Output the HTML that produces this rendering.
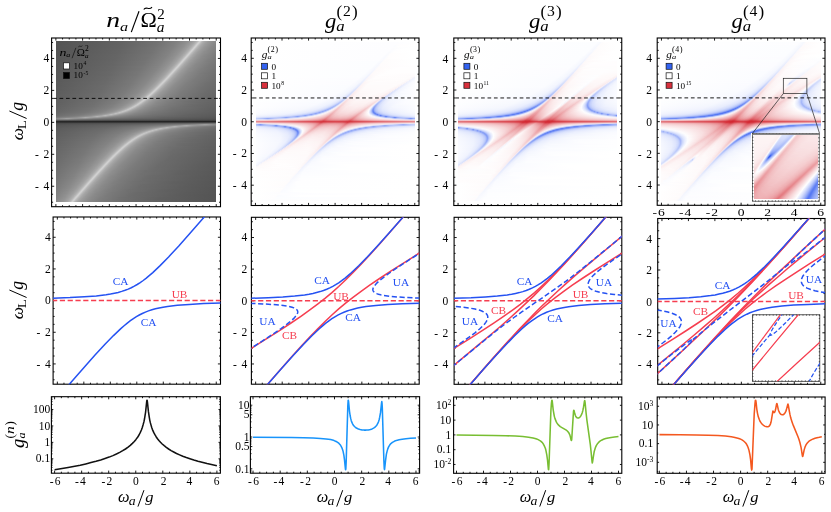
<!DOCTYPE html><html><head><meta charset="utf-8"><style>
html,body{margin:0;padding:0;background:#fff}body{width:831px;height:512px;position:relative;overflow:hidden;font-family:"Liberation Serif", serif}
.h{position:absolute}.h i{display:block;height:1px}
svg{position:absolute;left:0;top:0;will-change:transform}text{font-family:"Liberation Serif", serif}
</style></head><body>
<div class="h" style="left:56px;top:41px;width:160px;height:161px"><i style="background:linear-gradient(90deg,#535353 0.3125%,#626262 41.56%,#717171 63.44%,#808080 75.31%,#8e8e8e 81.56%,#9d9d9d 85.31%,#aaa 87.19%,#b9b9b9 88.44%,#d1d1d1 89.69%,#ccc 90.31%,#bfbfbf 90.94%,#b4b4b4 91.56%,#a7a7a7 92.81%,#989898 95.31%,#8a8a8a 99.69%)"></i><i style="background:linear-gradient(90deg,#535353 0.3125%,#636363 41.56%,#727272 63.44%,#818181 75.31%,#909090 81.56%,#9c9c9c 84.69%,#a9a9a9 86.56%,#b8b8b8 87.81%,#d0d0d0 89.06%,#cecece 89.69%,#b5b5b5 90.94%,#a8a8a8 92.19%,#989898 94.69%,#8a8a8a 99.06%,#888 99.69%)"></i><i style="background:linear-gradient(90deg,#545454 0.3125%,#636363 40.94%,#727272 62.81%,#818181 74.69%,#8f8f8f 80.94%,#9c9c9c 84.06%,#a8a8a8 85.94%,#b7b7b7 87.19%,#cfcfcf 88.44%,#cfcfcf 89.06%,#b7b7b7 90.31%,#a8a8a8 91.56%,#9c9c9c 93.44%,#8d8d8d 97.19%,#878787 99.69%)"></i><i style="background:linear-gradient(90deg,#545454 0.3125%,#636363 40.94%,#727272 62.81%,#818181 74.06%,#8f8f8f 80.31%,#9b9b9b 83.44%,#a8a8a8 85.31%,#b5b5b5 86.56%,#cecece 87.81%,#d0d0d0 88.44%,#b8b8b8 89.69%,#a9a9a9 90.94%,#9c9c9c 92.81%,#8e8e8e 96.56%,#868686 99.69%)"></i><i style="background:linear-gradient(90deg,#545454 0.3125%,#636363 40.94%,#727272 62.19%,#808080 73.44%,#8f8f8f 79.69%,#9b9b9b 82.81%,#a7a7a7 84.69%,#b4b4b4 85.94%,#bfbfbf 86.56%,#ccc 87.19%,#d1d1d1 87.81%,#b9b9b9 89.06%,#aaa 90.31%,#9d9d9d 92.19%,#8e8e8e 95.94%,#858585 99.69%)"></i><i style="background:linear-gradient(90deg,#545454 0.3125%,#636363 40.31%,#727272 61.56%,#818181 73.44%,#909090 79.69%,#9e9e9e 82.81%,#acacac 84.69%,#b3b3b3 85.31%,#bdbdbd 85.94%,#cacaca 86.56%,#d1d1d1 87.19%,#c8c8c8 87.81%,#bbb 88.44%,#b1b1b1 89.06%,#a5a5a5 90.31%,#979797 92.81%,#898989 97.19%,#848484 99.69%)"></i><i style="background:linear-gradient(90deg,#545454 0.3125%,#636363 40.31%,#737373 61.56%,#818181 72.81%,#909090 79.06%,#9d9d9d 82.19%,#ababab 84.06%,#b2b2b2 84.69%,#bbb 85.31%,#c8c8c8 85.94%,#d2d2d2 86.56%,#cacaca 87.19%,#bcbcbc 87.81%,#b3b3b3 88.44%,#a6a6a6 89.69%,#979797 92.19%,#898989 96.56%,#838383 99.69%)"></i><i style="background:linear-gradient(90deg,#545454 0.3125%,#636363 39.69%,#737373 60.94%,#818181 72.19%,#909090 78.44%,#9d9d9d 81.56%,#aaa 83.44%,#bababa 84.69%,#d1d1d1 85.94%,#cbcbcb 86.56%,#bebebe 87.19%,#b4b4b4 87.81%,#a7a7a7 89.06%,#989898 91.56%,#898989 95.94%,#828282 99.69%)"></i><i style="background:linear-gradient(90deg,#545454 0.3125%,#646464 39.69%,#737373 60.94%,#828282 72.19%,#909090 77.81%,#9c9c9c 80.94%,#a9a9a9 82.81%,#b9b9b9 84.06%,#d1d1d1 85.31%,#cdcdcd 85.94%,#c0c0c0 86.56%,#b5b5b5 87.19%,#a7a7a7 88.44%,#989898 90.94%,#8a8a8a 95.31%,#818181 99.69%)"></i><i style="background:linear-gradient(90deg,#555 0.3125%,#646464 39.69%,#737373 60.31%,#828282 71.56%,#919191 77.81%,#a0a0a0 80.94%,#afafaf 82.81%,#b7b7b7 83.44%,#d0d0d0 84.69%,#cecece 85.31%,#b6b6b6 86.56%,#a8a8a8 87.81%,#999 90.31%,#8a8a8a 94.69%,#808080 99.69%)"></i><i style="background:linear-gradient(90deg,#555 0.3125%,#646464 39.06%,#737373 59.69%,#828282 70.94%,#919191 77.19%,#9f9f9f 80.31%,#aeaeae 82.19%,#b6b6b6 82.81%,#cecece 84.06%,#d0d0d0 84.69%,#b7b7b7 85.94%,#a9a9a9 87.19%,#9c9c9c 89.06%,#8d8d8d 92.81%,#7f7f7f 99.69%)"></i><i style="background:linear-gradient(90deg,#555 0.3125%,#646464 39.06%,#737373 59.69%,#838383 70.94%,#919191 76.56%,#9f9f9f 79.69%,#adadad 81.56%,#b5b5b5 82.19%,#c0c0c0 82.81%,#cdcdcd 83.44%,#d0d0d0 84.06%,#b8b8b8 85.31%,#a9a9a9 86.56%,#9c9c9c 88.44%,#8e8e8e 92.19%,#7f7f7f 99.06%,#7e7e7e 99.69%)"></i><i style="background:linear-gradient(90deg,#555 0.3125%,#646464 38.44%,#737373 59.06%,#838383 70.31%,#919191 75.94%,#9e9e9e 79.06%,#acacac 80.94%,#b4b4b4 81.56%,#bebebe 82.19%,#cbcbcb 82.81%,#d1d1d1 83.44%,#bababa 84.69%,#aaa 85.94%,#9d9d9d 87.81%,#8e8e8e 91.56%,#7f7f7f 98.44%,#7d7d7d 99.69%)"></i><i style="background:linear-gradient(90deg,#555 0.3125%,#656565 38.44%,#747474 59.06%,#838383 69.69%,#909090 75.31%,#9e9e9e 78.44%,#acacac 80.31%,#b3b3b3 80.94%,#bdbdbd 81.56%,#cacaca 82.19%,#d1d1d1 82.81%,#c8c8c8 83.44%,#bbb 84.06%,#b2b2b2 84.69%,#a5a5a5 85.94%,#979797 88.44%,#898989 92.81%,#7c7c7c 99.69%)"></i><i style="background:linear-gradient(90deg,#555 0.3125%,#656565 38.44%,#747474 58.44%,#828282 69.06%,#909090 74.69%,#9d9d9d 77.81%,#ababab 79.69%,#b2b2b2 80.31%,#bbb 80.94%,#c8c8c8 81.56%,#d1d1d1 82.19%,#cacaca 82.81%,#bdbdbd 83.44%,#b3b3b3 84.06%,#a6a6a6 85.31%,#979797 87.81%,#898989 92.19%,#7b7b7b 99.69%)"></i><i style="background:linear-gradient(90deg,#565656 0.3125%,#656565 37.81%,#747474 57.81%,#828282 68.44%,#909090 74.06%,#9d9d9d 77.19%,#aaa 79.06%,#bababa 80.31%,#d1d1d1 81.56%,#ccc 82.19%,#bebebe 82.81%,#b4b4b4 83.44%,#a7a7a7 84.69%,#989898 87.19%,#898989 91.56%,#7b7b7b 99.69%)"></i><i style="background:linear-gradient(90deg,#565656 0.3125%,#656565 37.81%,#747474 57.81%,#838383 68.44%,#929292 74.06%,#a0a0a0 77.19%,#b0b0b0 79.06%,#b9b9b9 79.69%,#d1d1d1 80.94%,#cdcdcd 81.56%,#c0c0c0 82.19%,#b5b5b5 82.81%,#a7a7a7 84.06%,#989898 86.56%,#8a8a8a 90.94%,#7b7b7b 99.06%,#7a7a7a 99.69%)"></i><i style="background:linear-gradient(90deg,#565656 0.3125%,#656565 37.19%,#747474 57.19%,#838383 67.81%,#919191 73.44%,#a0a0a0 76.56%,#afafaf 78.44%,#b7b7b7 79.06%,#d0d0d0 80.31%,#cecece 80.94%,#b6b6b6 82.19%,#a8a8a8 83.44%,#999 85.94%,#8a8a8a 90.31%,#7b7b7b 98.44%,#797979 99.69%)"></i><i style="background:linear-gradient(90deg,#565656 0.3125%,#656565 37.19%,#747474 56.56%,#838383 67.19%,#919191 72.81%,#9f9f9f 75.94%,#aeaeae 77.81%,#b6b6b6 78.44%,#cfcfcf 79.69%,#cfcfcf 80.31%,#b7b7b7 81.56%,#a9a9a9 82.81%,#9c9c9c 84.69%,#8d8d8d 88.44%,#7f7f7f 95.31%,#797979 99.69%)"></i><i style="background:linear-gradient(90deg,#565656 0.3125%,#656565 36.56%,#747474 55.94%,#838383 66.56%,#919191 72.19%,#9f9f9f 75.31%,#adadad 77.19%,#b5b5b5 77.81%,#cdcdcd 79.06%,#d0d0d0 79.69%,#b8b8b8 80.94%,#a9a9a9 82.19%,#9c9c9c 84.06%,#8e8e8e 87.81%,#7f7f7f 94.69%,#787878 99.69%)"></i><i style="background:linear-gradient(90deg,#565656 0.3125%,#666 36.56%,#757575 55.94%,#848484 66.56%,#939393 72.19%,#a2a2a2 75.31%,#adadad 76.56%,#b4b4b4 77.19%,#bfbfbf 77.81%,#ccc 78.44%,#d1d1d1 79.06%,#b9b9b9 80.31%,#aaa 81.56%,#9d9d9d 83.44%,#8e8e8e 87.19%,#7f7f7f 94.06%,#777 99.69%)"></i><i style="background:linear-gradient(90deg,#575757 0.3125%,#666 36.56%,#757575 55.94%,#848484 65.94%,#939393 71.56%,#a2a2a2 74.69%,#acacac 75.94%,#b3b3b3 76.56%,#bdbdbd 77.19%,#cacaca 77.81%,#d1d1d1 78.44%,#c8c8c8 79.06%,#bbb 79.69%,#b1b1b1 80.31%,#a5a5a5 81.56%,#979797 84.06%,#888 89.06%,#797979 97.81%,#777 99.69%)"></i><i style="background:linear-gradient(90deg,#575757 0.3125%,#666 35.94%,#757575 55.31%,#848484 65.31%,#929292 70.94%,#a1a1a1 74.06%,#ababab 75.31%,#b2b2b2 75.94%,#bcbcbc 76.56%,#c9c9c9 77.19%,#d1d1d1 77.81%,#c9c9c9 78.44%,#bcbcbc 79.06%,#b2b2b2 79.69%,#a6a6a6 80.94%,#979797 83.44%,#898989 87.81%,#7b7b7b 95.94%,#767676 99.69%)"></i><i style="background:linear-gradient(90deg,#575757 0.3125%,#666 35.94%,#757575 54.69%,#848484 64.69%,#929292 70.31%,#a1a1a1 73.44%,#ababab 74.69%,#b1b1b1 75.31%,#bbb 75.94%,#c8c8c8 76.56%,#d1d1d1 77.19%,#cacaca 77.81%,#bdbdbd 78.44%,#b3b3b3 79.06%,#a6a6a6 80.31%,#989898 82.81%,#898989 87.19%,#7b7b7b 95.31%,#757575 99.69%)"></i><i style="background:linear-gradient(90deg,#575757 0.3125%,#666 35.31%,#757575 54.06%,#838383 64.06%,#929292 69.69%,#a0a0a0 72.81%,#aaa 74.06%,#bababa 75.31%,#d1d1d1 76.56%,#ccc 77.19%,#bebebe 77.81%,#b4b4b4 78.44%,#a7a7a7 79.69%,#989898 82.19%,#898989 86.56%,#7b7b7b 94.69%,#757575 99.69%)"></i><i style="background:linear-gradient(90deg,#575757 0.3125%,#676767 35.31%,#767676 54.06%,#858585 64.06%,#929292 69.06%,#a0a0a0 72.19%,#b0b0b0 74.06%,#b9b9b9 74.69%,#d0d0d0 75.94%,#cdcdcd 76.56%,#c0c0c0 77.19%,#b5b5b5 77.81%,#a7a7a7 79.06%,#989898 81.56%,#8a8a8a 85.94%,#7b7b7b 94.06%,#747474 99.69%)"></i><i style="background:linear-gradient(90deg,#585858 0.3125%,#676767 35.31%,#767676 53.44%,#848484 63.44%,#949494 69.06%,#a0a0a0 71.56%,#afafaf 73.44%,#b8b8b8 74.06%,#d0d0d0 75.31%,#cecece 75.94%,#b6b6b6 77.19%,#a8a8a8 78.44%,#989898 80.94%,#8a8a8a 85.31%,#7b7b7b 93.44%,#747474 99.69%)"></i><i style="background:linear-gradient(90deg,#585858 0.3125%,#676767 34.69%,#767676 53.44%,#868686 63.44%,#949494 68.44%,#9f9f9f 70.94%,#aeaeae 72.81%,#b7b7b7 73.44%,#cfcfcf 74.69%,#cfcfcf 75.31%,#b7b7b7 76.56%,#a8a8a8 77.81%,#9c9c9c 79.69%,#8d8d8d 83.44%,#7f7f7f 90.31%,#737373 99.69%)"></i><i style="background:linear-gradient(90deg,#585858 0.3125%,#676767 34.69%,#767676 52.81%,#858585 62.81%,#939393 67.81%,#9f9f9f 70.31%,#aeaeae 72.19%,#b6b6b6 72.81%,#cecece 74.06%,#d0d0d0 74.69%,#b8b8b8 75.94%,#a9a9a9 77.19%,#9c9c9c 79.06%,#8e8e8e 82.81%,#7f7f7f 89.69%,#727272 99.69%)"></i><i style="background:linear-gradient(90deg,#585858 0.3125%,#676767 34.06%,#767676 52.19%,#858585 62.19%,#939393 67.19%,#9f9f9f 69.69%,#adadad 71.56%,#b5b5b5 72.19%,#cdcdcd 73.44%,#d0d0d0 74.06%,#b9b9b9 75.31%,#a9a9a9 76.56%,#9c9c9c 78.44%,#8e8e8e 82.19%,#7f7f7f 89.06%,#727272 99.69%)"></i><i style="background:linear-gradient(90deg,#585858 0.3125%,#686868 34.06%,#777 52.19%,#858585 61.56%,#939393 66.56%,#a2a2a2 69.69%,#adadad 70.94%,#b4b4b4 71.56%,#bfbfbf 72.19%,#ccc 72.81%,#d1d1d1 73.44%,#b9b9b9 74.69%,#aaa 75.94%,#9d9d9d 77.81%,#8e8e8e 81.56%,#7f7f7f 88.44%,#717171 99.69%)"></i><i style="background:linear-gradient(90deg,#585858 0.3125%,#686868 33.44%,#777 51.56%,#858585 60.94%,#939393 65.94%,#a2a2a2 69.06%,#acacac 70.31%,#b3b3b3 70.94%,#bebebe 71.56%,#cbcbcb 72.19%,#d1d1d1 72.81%,#c7c7c7 73.44%,#bababa 74.06%,#b1b1b1 74.69%,#a5a5a5 75.94%,#979797 78.44%,#878787 83.44%,#797979 92.19%,#717171 99.69%)"></i><i style="background:linear-gradient(90deg,#595959 0.3125%,#686868 33.44%,#777 50.94%,#858585 60.31%,#939393 65.31%,#a2a2a2 68.44%,#acacac 69.69%,#b3b3b3 70.31%,#bdbdbd 70.94%,#cacaca 71.56%,#d1d1d1 72.19%,#c8c8c8 72.81%,#bbb 73.44%,#b2b2b2 74.06%,#a5a5a5 75.31%,#979797 77.81%,#898989 82.19%,#7a7a7a 90.31%,#707070 99.69%)"></i><i style="background:linear-gradient(90deg,#595959 0.3125%,#686868 33.44%,#777 50.94%,#868686 60.31%,#959595 65.31%,#a1a1a1 67.81%,#ababab 69.06%,#b2b2b2 69.69%,#bcbcbc 70.31%,#c9c9c9 70.94%,#d1d1d1 71.56%,#c9c9c9 72.19%,#bcbcbc 72.81%,#b2b2b2 73.44%,#a6a6a6 74.69%,#979797 77.19%,#898989 81.56%,#7b7b7b 89.69%,#707070 99.69%)"></i><i style="background:linear-gradient(90deg,#595959 0.3125%,#686868 32.81%,#777 50.31%,#868686 59.69%,#959595 64.69%,#a1a1a1 67.19%,#ababab 68.44%,#b2b2b2 69.06%,#bbb 69.69%,#c8c8c8 70.31%,#d1d1d1 70.94%,#cacaca 71.56%,#bdbdbd 72.19%,#b3b3b3 72.81%,#a6a6a6 74.06%,#989898 76.56%,#898989 80.94%,#7b7b7b 89.06%,#6f6f6f 99.69%)"></i><i style="background:linear-gradient(90deg,#595959 0.3125%,#696969 32.81%,#787878 50.31%,#868686 59.06%,#949494 64.06%,#a1a1a1 66.56%,#aaa 67.81%,#b1b1b1 68.44%,#bababa 69.06%,#d1d1d1 70.31%,#cbcbcb 70.94%,#bebebe 71.56%,#b4b4b4 72.19%,#a7a7a7 73.44%,#989898 75.94%,#898989 80.31%,#7b7b7b 88.44%,#6f6f6f 99.69%)"></i><i style="background:linear-gradient(90deg,#595959 0.3125%,#696969 32.19%,#787878 49.69%,#878787 59.06%,#979797 64.06%,#a5a5a5 66.56%,#b0b0b0 67.81%,#b9b9b9 68.44%,#d0d0d0 69.69%,#ccc 70.31%,#bfbfbf 70.94%,#b4b4b4 71.56%,#a7a7a7 72.81%,#989898 75.31%,#8a8a8a 79.69%,#7b7b7b 87.81%,#6e6e6e 99.69%)"></i><i style="background:linear-gradient(90deg,#5a5a5a 0.3125%,#696969 32.19%,#787878 49.06%,#878787 58.44%,#979797 63.44%,#a4a4a4 65.94%,#b0b0b0 67.19%,#b9b9b9 67.81%,#d0d0d0 69.06%,#ccc 69.69%,#b5b5b5 70.94%,#a7a7a7 72.19%,#989898 74.69%,#8a8a8a 79.06%,#7b7b7b 87.19%,#6e6e6e 99.69%)"></i><i style="background:linear-gradient(90deg,#5a5a5a 0.3125%,#696969 31.56%,#787878 48.44%,#878787 57.81%,#969696 62.81%,#a4a4a4 65.31%,#b0b0b0 66.56%,#b8b8b8 67.19%,#d0d0d0 68.44%,#cdcdcd 69.06%,#b5b5b5 70.31%,#a8a8a8 71.56%,#989898 74.06%,#8a8a8a 78.44%,#7b7b7b 86.56%,#6d6d6d 99.69%)"></i><i style="background:linear-gradient(90deg,#5a5a5a 0.3125%,#696969 31.56%,#797979 48.44%,#878787 57.19%,#969696 62.19%,#a4a4a4 64.69%,#afafaf 65.94%,#b8b8b8 66.56%,#cfcfcf 67.81%,#cdcdcd 68.44%,#b6b6b6 69.69%,#a8a8a8 70.94%,#989898 73.44%,#8a8a8a 77.81%,#7b7b7b 85.94%,#6d6d6d 99.69%)"></i><i style="background:linear-gradient(90deg,#5a5a5a 0.3125%,#6a6a6a 31.56%,#797979 47.81%,#878787 56.56%,#969696 61.56%,#a4a4a4 64.06%,#afafaf 65.31%,#b7b7b7 65.94%,#cfcfcf 67.19%,#cecece 67.81%,#b6b6b6 69.06%,#a8a8a8 70.31%,#999 72.81%,#8a8a8a 77.19%,#7b7b7b 85.31%,#6c6c6c 99.69%)"></i><i style="background:linear-gradient(90deg,#5b5b5b 0.3125%,#6a6a6a 30.94%,#797979 47.19%,#878787 55.94%,#969696 60.94%,#a4a4a4 63.44%,#afafaf 64.69%,#b7b7b7 65.31%,#cfcfcf 66.56%,#cecece 67.19%,#b6b6b6 68.44%,#a8a8a8 69.69%,#9c9c9c 71.56%,#8d8d8d 75.31%,#7f7f7f 82.19%,#6f6f6f 95.31%,#6c6c6c 99.69%)"></i><i style="background:linear-gradient(90deg,#5b5b5b 0.3125%,#6a6a6a 30.94%,#797979 47.19%,#888 55.94%,#969696 60.31%,#a3a3a3 62.81%,#afafaf 64.06%,#b7b7b7 64.69%,#cecece 65.94%,#cecece 66.56%,#b7b7b7 67.81%,#a8a8a8 69.06%,#9c9c9c 70.94%,#8d8d8d 74.69%,#7f7f7f 81.56%,#6f6f6f 94.69%,#6b6b6b 99.69%)"></i><i style="background:linear-gradient(90deg,#5b5b5b 0.3125%,#6a6a6a 30.31%,#797979 46.56%,#888 55.31%,#969696 59.69%,#a3a3a3 62.19%,#aeaeae 63.44%,#b7b7b7 64.06%,#cecece 65.31%,#cecece 65.94%,#b7b7b7 67.19%,#a8a8a8 68.44%,#9c9c9c 70.31%,#8d8d8d 74.06%,#7f7f7f 80.94%,#6f6f6f 94.06%,#6b6b6b 99.69%)"></i><i style="background:linear-gradient(90deg,#5b5b5b 0.3125%,#6b6b6b 30.31%,#797979 45.94%,#888 54.69%,#969696 59.06%,#a3a3a3 61.56%,#aeaeae 62.81%,#b6b6b6 63.44%,#cecece 64.69%,#cecece 65.31%,#b7b7b7 66.56%,#a9a9a9 67.81%,#9c9c9c 69.69%,#8d8d8d 73.44%,#7f7f7f 80.31%,#6f6f6f 93.44%,#6b6b6b 99.69%)"></i><i style="background:linear-gradient(90deg,#5b5b5b 0.3125%,#6b6b6b 29.69%,#797979 45.31%,#888 54.06%,#969696 58.44%,#a3a3a3 60.94%,#aeaeae 62.19%,#b6b6b6 62.81%,#cecece 64.06%,#cecece 64.69%,#b7b7b7 65.94%,#a9a9a9 67.19%,#9c9c9c 69.06%,#8d8d8d 72.81%,#7f7f7f 79.69%,#6f6f6f 92.81%,#6a6a6a 99.69%)"></i><i style="background:linear-gradient(90deg,#5c5c5c 0.3125%,#6b6b6b 29.69%,#7a7a7a 45.31%,#888 53.44%,#969696 57.81%,#a3a3a3 60.31%,#aeaeae 61.56%,#b7b7b7 62.19%,#cecece 63.44%,#cecece 64.06%,#b7b7b7 65.31%,#a9a9a9 66.56%,#9c9c9c 68.44%,#8d8d8d 72.19%,#7f7f7f 79.06%,#6f6f6f 92.19%,#6a6a6a 99.69%)"></i><i style="background:linear-gradient(90deg,#5c5c5c 0.3125%,#6b6b6b 29.06%,#7a7a7a 44.69%,#888 52.81%,#969696 57.19%,#a3a3a3 59.69%,#afafaf 60.94%,#b7b7b7 61.56%,#cecece 62.81%,#cecece 63.44%,#b7b7b7 64.69%,#a8a8a8 65.94%,#9c9c9c 67.81%,#8d8d8d 71.56%,#7f7f7f 78.44%,#6f6f6f 91.56%,#696969 99.69%)"></i><i style="background:linear-gradient(90deg,#5c5c5c 0.3125%,#6b6b6b 29.06%,#7a7a7a 44.06%,#888 52.19%,#969696 56.56%,#a4a4a4 59.06%,#afafaf 60.31%,#b7b7b7 60.94%,#cecece 62.19%,#cecece 62.81%,#b7b7b7 64.06%,#a8a8a8 65.31%,#9c9c9c 67.19%,#8d8d8d 70.94%,#7f7f7f 77.81%,#6f6f6f 90.94%,#696969 99.69%)"></i><i style="background:linear-gradient(90deg,#5c5c5c 0.3125%,#6c6c6c 28.44%,#7a7a7a 43.44%,#898989 51.56%,#969696 55.94%,#a4a4a4 58.44%,#afafaf 59.69%,#b7b7b7 60.31%,#cecece 61.56%,#cdcdcd 62.19%,#b6b6b6 63.44%,#a8a8a8 64.69%,#999 67.19%,#8a8a8a 71.56%,#7b7b7b 79.69%,#6c6c6c 94.69%,#686868 99.69%)"></i><i style="background:linear-gradient(90deg,#5d5d5d 0.3125%,#6c6c6c 28.44%,#7b7b7b 43.44%,#8a8a8a 51.56%,#999 55.94%,#a4a4a4 57.81%,#afafaf 59.06%,#b8b8b8 59.69%,#cfcfcf 60.94%,#cdcdcd 61.56%,#b6b6b6 62.81%,#a8a8a8 64.06%,#989898 66.56%,#8a8a8a 70.94%,#7b7b7b 79.06%,#6c6c6c 94.06%,#686868 99.69%)"></i><i style="background:linear-gradient(90deg,#5d5d5d 0.3125%,#6c6c6c 27.81%,#7b7b7b 42.81%,#8a8a8a 50.94%,#999 55.31%,#a4a4a4 57.19%,#b0b0b0 58.44%,#b9b9b9 59.06%,#cfcfcf 60.31%,#ccc 60.94%,#b5b5b5 62.19%,#a7a7a7 63.44%,#989898 65.94%,#8a8a8a 70.31%,#7b7b7b 78.44%,#6c6c6c 93.44%,#686868 99.69%)"></i><i style="background:linear-gradient(90deg,#5d5d5d 0.3125%,#6d6d6d 27.81%,#7b7b7b 42.19%,#8a8a8a 50.31%,#9a9a9a 54.69%,#a5a5a5 56.56%,#b1b1b1 57.81%,#bababa 58.44%,#cfcfcf 59.69%,#cbcbcb 60.31%,#b4b4b4 61.56%,#a7a7a7 62.81%,#989898 65.31%,#8a8a8a 69.69%,#7b7b7b 77.81%,#6b6b6b 93.44%,#676767 99.69%)"></i><i style="background:linear-gradient(90deg,#5e5e5e 0.3125%,#6d6d6d 27.19%,#7b7b7b 41.56%,#8b8b8b 49.69%,#9a9a9a 54.06%,#a5a5a5 55.94%,#b2b2b2 57.19%,#bbb 57.81%,#c7c7c7 58.44%,#cfcfcf 59.06%,#cacaca 59.69%,#b3b3b3 60.94%,#a6a6a6 62.19%,#989898 64.69%,#898989 69.06%,#7b7b7b 77.19%,#6b6b6b 92.81%,#676767 99.69%)"></i><i style="background:linear-gradient(90deg,#5e5e5e 0.3125%,#6d6d6d 27.19%,#7c7c7c 41.56%,#8b8b8b 49.06%,#979797 52.81%,#a6a6a6 55.31%,#b3b3b3 56.56%,#c8c8c8 57.81%,#cfcfcf 58.44%,#c8c8c8 59.06%,#bcbcbc 59.69%,#b2b2b2 60.31%,#a6a6a6 61.56%,#979797 64.06%,#898989 68.44%,#7b7b7b 76.56%,#6b6b6b 92.19%,#666 99.69%)"></i><i style="background:linear-gradient(90deg,#5e5e5e 0.3125%,#6d6d6d 26.56%,#7c7c7c 40.94%,#8b8b8b 48.44%,#989898 52.19%,#a7a7a7 54.69%,#b4b4b4 55.94%,#cacaca 57.19%,#cecece 57.81%,#c6c6c6 58.44%,#bababa 59.06%,#b1b1b1 59.69%,#a5a5a5 60.94%,#979797 63.44%,#878787 68.44%,#797979 77.19%,#696969 94.06%,#666 99.69%)"></i><i style="background:linear-gradient(90deg,#5e5e5e 0.3125%,#6e6e6e 26.56%,#7d7d7d 40.31%,#8b8b8b 47.81%,#989898 51.56%,#a8a8a8 54.06%,#b6b6b6 55.31%,#ccc 56.56%,#cdcdcd 57.19%,#c4c4c4 57.81%,#b8b8b8 58.44%,#a9a9a9 59.69%,#9c9c9c 61.56%,#8e8e8e 65.31%,#7f7f7f 72.19%,#707070 85.31%,#656565 99.69%)"></i><i style="background:linear-gradient(90deg,#5f5f5f 0.3125%,#6e6e6e 25.94%,#7d7d7d 39.69%,#8c8c8c 47.19%,#999 50.94%,#a4a4a4 52.81%,#afafaf 54.06%,#b8b8b8 54.69%,#cdcdcd 55.94%,#ccc 56.56%,#b6b6b6 57.81%,#a8a8a8 59.06%,#9c9c9c 60.94%,#8d8d8d 64.69%,#7f7f7f 71.56%,#6f6f6f 84.69%,#656565 99.69%)"></i><i style="background:linear-gradient(90deg,#5f5f5f 0.3125%,#6f6f6f 25.94%,#7d7d7d 39.06%,#8c8c8c 46.56%,#9a9a9a 50.31%,#a5a5a5 52.19%,#b1b1b1 53.44%,#cecece 55.31%,#cacaca 55.94%,#b4b4b4 57.19%,#a7a7a7 58.44%,#989898 60.94%,#898989 65.31%,#7b7b7b 73.44%,#6b6b6b 89.06%,#656565 99.69%)"></i><i style="background:linear-gradient(90deg,#606060 0.3125%,#6f6f6f 25.31%,#7d7d7d 38.44%,#8d8d8d 45.94%,#9b9b9b 49.69%,#a6a6a6 51.56%,#b4b4b4 52.81%,#c8c8c8 54.06%,#cecece 54.69%,#c7c7c7 55.31%,#b2b2b2 56.56%,#a5a5a5 57.81%,#979797 60.31%,#898989 64.69%,#7a7a7a 73.44%,#6a6a6a 89.69%,#646464 99.69%)"></i><i style="background:linear-gradient(90deg,#606060 0.3125%,#6f6f6f 24.69%,#7e7e7e 37.81%,#8c8c8c 44.69%,#999 48.44%,#a3a3a3 50.31%,#aeaeae 51.56%,#c1c1c1 52.81%,#cbcbcb 53.44%,#ccc 54.06%,#c3c3c3 54.69%,#b8b8b8 55.31%,#a9a9a9 56.56%,#9c9c9c 58.44%,#8d8d8d 62.19%,#7f7f7f 69.06%,#6f6f6f 82.19%,#646464 99.69%)"></i><i style="background:linear-gradient(90deg,#606060 0.3125%,#707070 24.69%,#7f7f7f 37.81%,#8e8e8e 44.69%,#9d9d9d 48.44%,#aaa 50.31%,#bababa 51.56%,#c5c5c5 52.19%,#cdcdcd 52.81%,#c9c9c9 53.44%,#b4b4b4 54.69%,#a7a7a7 55.94%,#989898 58.44%,#898989 62.81%,#7b7b7b 70.94%,#6b6b6b 86.56%,#636363 99.69%)"></i><i style="background:linear-gradient(90deg,#616161 0.3125%,#707070 24.06%,#7e7e7e 36.56%,#8d8d8d 43.44%,#9b9b9b 47.19%,#a7a7a7 49.06%,#b5b5b5 50.31%,#c9c9c9 51.56%,#cbcbcb 52.19%,#c5c5c5 52.81%,#b1b1b1 54.06%,#a5a5a5 55.31%,#979797 57.81%,#878787 62.81%,#787878 72.19%,#696969 89.69%,#636363 99.69%)"></i><i style="background:linear-gradient(90deg,#616161 0.3125%,#707070 23.44%,#7f7f7f 35.94%,#8e8e8e 42.81%,#9d9d9d 46.56%,#aaa 48.44%,#bababa 49.69%,#ccc 50.94%,#c8c8c8 51.56%,#b5b5b5 52.81%,#a7a7a7 54.06%,#989898 56.56%,#8a8a8a 60.94%,#7b7b7b 69.06%,#6b6b6b 84.69%,#626262 99.69%)"></i><i style="background:linear-gradient(90deg,#626262 0.3125%,#717171 23.44%,#808080 35.31%,#8d8d8d 41.56%,#9c9c9c 45.31%,#a8a8a8 47.19%,#b7b7b7 48.44%,#c9c9c9 49.69%,#c9c9c9 50.31%,#c3c3c3 50.94%,#b0b0b0 52.19%,#a4a4a4 53.44%,#969696 55.94%,#878787 60.94%,#787878 70.31%,#686868 87.81%,#626262 99.69%)"></i><i style="background:linear-gradient(90deg,#626262 0.3125%,#717171 22.81%,#808080 34.69%,#8f8f8f 40.94%,#9b9b9b 44.06%,#a7a7a7 45.94%,#b4b4b4 47.19%,#c6c6c6 48.44%,#cacaca 49.06%,#c5c5c5 49.69%,#b2b2b2 50.94%,#a6a6a6 52.19%,#979797 54.69%,#898989 59.06%,#7a7a7a 67.19%,#6b6b6b 82.81%,#616161 99.69%)"></i><i style="background:linear-gradient(90deg,#636363 0.3125%,#727272 22.19%,#818181 34.06%,#909090 40.31%,#9d9d9d 43.44%,#acacac 45.31%,#c4c4c4 47.19%,#c9c9c9 47.81%,#bebebe 49.06%,#acacac 50.31%,#9e9e9e 52.19%,#909090 55.31%,#818181 61.56%,#727272 73.44%,#636363 95.31%,#616161 99.69%)"></i><i style="background:linear-gradient(90deg,#636363 0.3125%,#737373 21.56%,#818181 32.81%,#909090 39.06%,#9e9e9e 42.19%,#acacac 44.06%,#c3c3c3 45.94%,#c8c8c8 46.56%,#bebebe 47.81%,#adadad 49.06%,#9e9e9e 50.94%,#919191 54.06%,#818181 60.31%,#727272 72.19%,#636363 94.06%,#606060 99.69%)"></i><i style="background:linear-gradient(90deg,#646464 0.3125%,#737373 20.94%,#838383 32.19%,#919191 37.81%,#9e9e9e 40.94%,#adadad 42.81%,#bbb 44.06%,#c4c4c4 44.69%,#c7c7c7 45.31%,#bdbdbd 46.56%,#acacac 47.81%,#9e9e9e 49.69%,#8e8e8e 53.44%,#7f7f7f 60.31%,#707070 72.81%,#616161 96.56%,#5f5f5f 99.69%)"></i><i style="background:linear-gradient(90deg,#656565 0.3125%,#747474 20.31%,#838383 30.94%,#929292 36.56%,#a0a0a0 39.69%,#b0b0b0 41.56%,#c5c5c5 43.44%,#bfbfbf 44.69%,#b9b9b9 45.31%,#aaa 46.56%,#9c9c9c 48.44%,#8d8d8d 52.19%,#7f7f7f 59.06%,#6f6f6f 72.19%,#606060 96.56%,#5f5f5f 99.69%)"></i><i style="background:linear-gradient(90deg,#666 0.3125%,#757575 19.69%,#848484 29.69%,#939393 35.31%,#9f9f9f 37.81%,#b4b4b4 40.31%,#c3c3c3 41.56%,#c2c2c2 42.19%,#bbb 43.44%,#a6a6a6 45.31%,#979797 47.81%,#898989 52.19%,#7a7a7a 60.31%,#6b6b6b 75.94%,#5e5e5e 99.69%)"></i><i style="background:linear-gradient(90deg,#676767 0.3125%,#767676 18.44%,#848484 27.81%,#919191 32.81%,#a0a0a0 35.94%,#b3b3b3 38.44%,#c2c2c2 39.69%,#b9b9b9 41.56%,#a6a6a6 43.44%,#979797 45.94%,#898989 50.31%,#797979 59.06%,#6a6a6a 75.31%,#5d5d5d 99.69%)"></i><i style="background:linear-gradient(90deg,#696969 0.3125%,#787878 17.19%,#878787 26.56%,#939393 30.94%,#a0a0a0 33.44%,#b0b0b0 35.94%,#bebebe 37.19%,#bdbdbd 37.81%,#b8b8b8 38.44%,#b5b5b5 39.69%,#a3a3a3 41.56%,#959595 44.06%,#868686 49.06%,#777 58.44%,#686868 75.94%,#5c5c5c 99.69%)"></i><i style="background:linear-gradient(90deg,#6b6b6b 0.3125%,#7a7a7a 15.94%,#888 24.06%,#959595 28.44%,#acacac 32.81%,#b9b9b9 34.06%,#bcbcbc 34.69%,#b3b3b3 35.94%,#b1b1b1 37.19%,#9d9d9d 39.69%,#909090 42.81%,#818181 49.06%,#727272 60.94%,#626262 83.44%,#5b5b5b 99.69%)"></i><i style="background:linear-gradient(90deg,#6d6d6d 0.3125%,#7c7c7c 14.06%,#8b8b8b 21.56%,#999 25.31%,#a5a5a5 28.44%,#b5b5b5 30.31%,#b8b8b8 30.94%,#adadad 32.81%,#aaa 34.69%,#9c9c9c 36.56%,#8e8e8e 39.69%,#808080 45.94%,#717171 57.81%,#626262 80.31%,#5a5a5a 99.69%)"></i><i style="background:linear-gradient(90deg,#727272 0.3125%,#808080 11.56%,#8e8e8e 17.19%,#9b9b9b 22.19%,#a6a6a6 24.06%,#b0b0b0 25.31%,#b2b2b2 25.94%,#a8a8a8 27.81%,#a5a5a5 29.69%,#a5a5a5 30.94%,#959595 33.44%,#878787 37.81%,#787878 46.56%,#696969 63.44%,#5a5a5a 95.31%,#585858 99.69%)"></i><i style="background:linear-gradient(90deg,#7b7b7b 0.3125%,#898989 8.438%,#909090 12.81%,#9c9c9c 15.94%,#aaa 18.44%,#a6a6a6 19.69%,#9f9f9f 21.56%,#9c9c9c 24.06%,#9d9d9d 25.94%,#8e8e8e 29.06%,#808080 34.69%,#727272 45.94%,#626262 67.81%,#565656 99.69%)"></i><i style="background:linear-gradient(90deg,#898989 0.3125%,#949494 4.062%,#9f9f9f 6.562%,#9e9e9e 7.812%,#939393 11.56%,#909090 15.31%,#949494 18.44%,#838383 23.44%,#767676 31.56%,#676767 49.06%,#585858 82.81%,#535353 99.69%)"></i><i style="background:linear-gradient(90deg,#7f7f7f 0.3125%,#848484 7.187%,#767676 13.44%,#696969 25.94%,#5a5a5a 53.44%,#4d4d4d 99.69%)"></i><i style="background:linear-gradient(90deg,#585858 0.3125%,#4c4c4c 31.56%,#3f3f3f 99.69%)"></i><i style="background:linear-gradient(90deg,#282828 0.3125%,#242424 99.69%)"></i><i style="background:linear-gradient(90deg,#333 0.3125%,#3f3f3f 82.81%,#444 99.69%)"></i><i style="background:linear-gradient(90deg,#4a4a4a 0.3125%,#595959 55.94%,#666 82.19%,#737373 94.06%,#737373 99.69%)"></i><i style="background:linear-gradient(90deg,#515151 0.3125%,#606060 44.69%,#6f6f6f 67.19%,#7c7c7c 77.81%,#858585 82.19%,#898989 86.56%,#939393 90.31%,#9c9c9c 92.81%,#9b9b9b 94.06%,#8d8d8d 97.81%,#898989 99.69%)"></i><i style="background:linear-gradient(90deg,#555 0.3125%,#646464 38.44%,#737373 58.44%,#808080 68.44%,#8b8b8b 72.81%,#919191 74.69%,#979797 77.81%,#a3a3a3 80.31%,#a8a8a8 81.56%,#9a9a9a 84.69%,#929292 88.44%,#929292 93.44%,#828282 99.06%,#818181 99.69%)"></i><i style="background:linear-gradient(90deg,#575757 0.3125%,#666 34.69%,#767676 53.44%,#848484 62.81%,#909090 67.19%,#9a9a9a 69.69%,#a0a0a0 71.56%,#b0b0b0 74.06%,#afafaf 74.69%,#a3a3a3 76.56%,#9d9d9d 79.06%,#9d9d9d 81.56%,#8d8d8d 85.31%,#7f7f7f 91.56%,#747474 99.69%)"></i><i style="background:linear-gradient(90deg,#595959 0.3125%,#686868 32.19%,#787878 49.69%,#868686 58.44%,#929292 62.81%,#ababab 67.81%,#b6b6b6 69.06%,#b5b5b5 69.69%,#ababab 70.94%,#a6a6a6 72.81%,#a6a6a6 74.06%,#929292 77.81%,#848484 82.81%,#757575 92.81%,#6f6f6f 99.69%)"></i><i style="background:linear-gradient(90deg,#5b5b5b 0.3125%,#6a6a6a 30.94%,#797979 47.19%,#878787 55.31%,#959595 59.69%,#a3a3a3 62.19%,#aeaeae 64.06%,#bababa 65.31%,#b9b9b9 65.94%,#b0b0b0 67.19%,#acacac 69.06%,#989898 72.19%,#8b8b8b 75.94%,#7c7c7c 83.44%,#6d6d6d 97.81%,#6c6c6c 99.69%)"></i><i style="background:linear-gradient(90deg,#5c5c5c 0.3125%,#6b6b6b 29.06%,#7a7a7a 44.69%,#888 52.81%,#979797 57.19%,#a1a1a1 59.06%,#b4b4b4 61.56%,#bbb 62.19%,#bebebe 62.81%,#b4b4b4 64.06%,#b1b1b1 65.31%,#9e9e9e 67.81%,#909090 70.94%,#818181 77.19%,#727272 89.06%,#696969 99.69%)"></i><i style="background:linear-gradient(90deg,#5d5d5d 0.3125%,#6c6c6c 27.81%,#7b7b7b 42.81%,#8a8a8a 50.94%,#999 55.31%,#a5a5a5 57.19%,#b5b5b5 59.06%,#c1c1c1 60.31%,#b8b8b8 61.56%,#b3b3b3 62.81%,#a1a1a1 64.69%,#949494 67.19%,#868686 72.19%,#777 81.56%,#686868 99.06%,#686868 99.69%)"></i><i style="background:linear-gradient(90deg,#5e5e5e 0.3125%,#6d6d6d 27.19%,#7c7c7c 41.56%,#8a8a8a 49.06%,#979797 52.81%,#a6a6a6 55.31%,#b8b8b8 57.19%,#c0c0c0 57.81%,#c3c3c3 58.44%,#bababa 59.69%,#b7b7b7 60.31%,#a4a4a4 62.19%,#969696 64.69%,#878787 69.69%,#787878 79.06%,#686868 96.56%,#666 99.69%)"></i><i style="background:linear-gradient(90deg,#5f5f5f 0.3125%,#6e6e6e 26.56%,#7d7d7d 40.31%,#8c8c8c 47.81%,#999 51.56%,#a5a5a5 53.44%,#c5c5c5 56.56%,#b8b8b8 58.44%,#a9a9a9 59.69%,#9c9c9c 61.56%,#8d8d8d 65.31%,#7f7f7f 72.19%,#6f6f6f 85.31%,#656565 99.69%)"></i><i style="background:linear-gradient(90deg,#5f5f5f 0.3125%,#6e6e6e 25.31%,#7d7d7d 39.06%,#8d8d8d 46.56%,#9b9b9b 50.31%,#a7a7a7 52.19%,#bcbcbc 54.06%,#c5c5c5 54.69%,#c5c5c5 55.31%,#bcbcbc 56.56%,#acacac 57.81%,#9e9e9e 59.69%,#909090 62.81%,#818181 69.06%,#727272 80.94%,#646464 99.69%)"></i><i style="background:linear-gradient(90deg,#606060 0.3125%,#6f6f6f 24.69%,#7e7e7e 37.81%,#8b8b8b 44.69%,#989898 48.44%,#a3a3a3 50.31%,#afafaf 51.56%,#c7c7c7 53.44%,#c6c6c6 54.06%,#bababa 55.31%,#aaa 56.56%,#9d9d9d 58.44%,#8e8e8e 62.19%,#7f7f7f 69.06%,#707070 82.19%,#646464 99.69%)"></i><i style="background:linear-gradient(90deg,#606060 0.3125%,#6f6f6f 24.06%,#7f7f7f 37.19%,#8d8d8d 44.06%,#9c9c9c 47.81%,#a8a8a8 49.69%,#b7b7b7 50.94%,#c8c8c8 52.19%,#c7c7c7 52.81%,#c2c2c2 53.44%,#b0b0b0 54.69%,#a4a4a4 55.94%,#969696 58.44%,#878787 63.44%,#787878 72.81%,#686868 90.31%,#636363 99.69%)"></i><i style="background:linear-gradient(90deg,#616161 0.3125%,#707070 24.06%,#7f7f7f 36.56%,#8f8f8f 43.44%,#9b9b9b 46.56%,#a8a8a8 48.44%,#b6b6b6 49.69%,#c8c8c8 50.94%,#c9c9c9 51.56%,#c3c3c3 52.19%,#b1b1b1 53.44%,#a5a5a5 54.69%,#979797 57.19%,#878787 62.19%,#787878 71.56%,#696969 89.06%,#626262 99.69%)"></i><i style="background:linear-gradient(90deg,#626262 0.3125%,#717171 23.44%,#7f7f7f 35.31%,#8e8e8e 42.19%,#9e9e9e 45.94%,#acacac 47.81%,#bdbdbd 49.06%,#c6c6c6 49.69%,#cbcbcb 50.31%,#c5c5c5 50.94%,#b3b3b3 52.19%,#a6a6a6 53.44%,#979797 55.94%,#898989 60.31%,#7b7b7b 68.44%,#6b6b6b 84.06%,#626262 99.69%)"></i><i style="background:linear-gradient(90deg,#626262 0.3125%,#717171 22.81%,#808080 34.69%,#8e8e8e 40.94%,#9c9c9c 44.69%,#aaa 46.56%,#b9b9b9 47.81%,#cbcbcb 49.06%,#c8c8c8 49.69%,#c1c1c1 50.31%,#b6b6b6 50.94%,#a8a8a8 52.19%,#9b9b9b 54.06%,#8d8d8d 57.81%,#7f7f7f 64.69%,#6f6f6f 77.81%,#616161 99.69%)"></i><i style="background:linear-gradient(90deg,#636363 0.3125%,#727272 22.19%,#808080 34.06%,#8f8f8f 40.31%,#9b9b9b 43.44%,#a7a7a7 45.31%,#b5b5b5 46.56%,#c9c9c9 47.81%,#cbcbcb 48.44%,#c5c5c5 49.06%,#b1b1b1 50.31%,#a5a5a5 51.56%,#979797 54.06%,#878787 59.06%,#797979 67.81%,#696969 84.69%,#616161 99.69%)"></i><i style="background:linear-gradient(90deg,#636363 0.3125%,#727272 22.19%,#818181 33.44%,#909090 39.69%,#9c9c9c 42.81%,#aaa 44.69%,#b9b9b9 45.94%,#ccc 47.19%,#c9c9c9 47.81%,#b6b6b6 49.06%,#a8a8a8 50.31%,#989898 52.81%,#8a8a8a 57.19%,#7b7b7b 65.31%,#6c6c6c 80.31%,#606060 99.69%)"></i><i style="background:linear-gradient(90deg,#646464 0.3125%,#737373 21.56%,#818181 32.81%,#909090 39.06%,#9e9e9e 42.19%,#acacac 44.06%,#b3b3b3 44.69%,#c8c8c8 45.94%,#cdcdcd 46.56%,#c7c7c7 47.19%,#b2b2b2 48.44%,#a6a6a6 49.69%,#979797 52.19%,#898989 56.56%,#7a7a7a 64.69%,#6b6b6b 80.31%,#606060 99.69%)"></i><i style="background:linear-gradient(90deg,#646464 0.3125%,#737373 20.94%,#828282 32.19%,#919191 38.44%,#9f9f9f 41.56%,#aeaeae 43.44%,#b6b6b6 44.06%,#ccc 45.31%,#ccc 45.94%,#c3c3c3 46.56%,#b8b8b8 47.19%,#a9a9a9 48.44%,#9c9c9c 50.31%,#8e8e8e 54.06%,#7f7f7f 60.94%,#707070 74.06%,#606060 98.44%,#606060 99.69%)"></i><i style="background:linear-gradient(90deg,#646464 0.3125%,#747474 20.94%,#828282 31.56%,#909090 37.19%,#9d9d9d 40.31%,#aaa 42.19%,#b9b9b9 43.44%,#cecece 44.69%,#cacaca 45.31%,#b5b5b5 46.56%,#a7a7a7 47.81%,#989898 50.31%,#8a8a8a 54.69%,#7b7b7b 62.81%,#6b6b6b 78.44%,#5f5f5f 99.69%)"></i><i style="background:linear-gradient(90deg,#656565 0.3125%,#747474 20.31%,#828282 30.94%,#909090 36.56%,#9e9e9e 39.69%,#ababab 41.56%,#b2b2b2 42.19%,#c8c8c8 43.44%,#cecece 44.06%,#c8c8c8 44.69%,#b3b3b3 45.94%,#a6a6a6 47.19%,#979797 49.69%,#898989 54.06%,#7b7b7b 62.19%,#6b6b6b 77.81%,#5f5f5f 99.69%)"></i><i style="background:linear-gradient(90deg,#656565 0.3125%,#757575 20.31%,#848484 30.94%,#939393 36.56%,#a2a2a2 39.69%,#adadad 40.94%,#b4b4b4 41.56%,#cacaca 42.81%,#cecece 43.44%,#c6c6c6 44.06%,#bababa 44.69%,#b1b1b1 45.31%,#a5a5a5 46.56%,#979797 49.06%,#878787 54.06%,#797979 62.81%,#696969 79.69%,#5f5f5f 99.69%)"></i><i style="background:linear-gradient(90deg,#666 0.3125%,#757575 19.69%,#848484 30.31%,#939393 35.94%,#9f9f9f 38.44%,#aeaeae 40.31%,#b6b6b6 40.94%,#ccc 42.19%,#cdcdcd 42.81%,#b8b8b8 44.06%,#a9a9a9 45.31%,#9c9c9c 47.19%,#8e8e8e 50.94%,#7f7f7f 57.81%,#707070 70.94%,#606060 95.31%,#5e5e5e 99.69%)"></i><i style="background:linear-gradient(90deg,#666 0.3125%,#757575 19.06%,#838383 29.06%,#919191 34.69%,#a0a0a0 37.81%,#afafaf 39.69%,#b8b8b8 40.31%,#cecece 41.56%,#ccc 42.19%,#b6b6b6 43.44%,#a8a8a8 44.69%,#9c9c9c 46.56%,#8d8d8d 50.31%,#7f7f7f 57.19%,#6f6f6f 70.31%,#606060 94.69%,#5e5e5e 99.69%)"></i><i style="background:linear-gradient(90deg,#676767 0.3125%,#767676 19.06%,#858585 29.06%,#929292 34.06%,#a0a0a0 37.19%,#aaa 38.44%,#b9b9b9 39.69%,#cfcfcf 40.94%,#cbcbcb 41.56%,#b5b5b5 42.81%,#a7a7a7 44.06%,#989898 46.56%,#8a8a8a 50.94%,#7b7b7b 59.06%,#6c6c6c 74.06%,#5e5e5e 99.69%)"></i><i style="background:linear-gradient(90deg,#676767 0.3125%,#767676 18.44%,#858585 28.44%,#929292 33.44%,#a1a1a1 36.56%,#aaa 37.81%,#b1b1b1 38.44%,#bababa 39.06%,#c6c6c6 39.69%,#cfcfcf 40.31%,#cacaca 40.94%,#b4b4b4 42.19%,#a7a7a7 43.44%,#989898 45.94%,#898989 50.31%,#7b7b7b 58.44%,#6b6b6b 74.06%,#5d5d5d 99.69%)"></i><i style="background:linear-gradient(90deg,#676767 0.3125%,#777 18.44%,#858585 27.81%,#929292 32.81%,#a1a1a1 35.94%,#ababab 37.19%,#b2b2b2 37.81%,#bbb 38.44%,#c7c7c7 39.06%,#d0d0d0 39.69%,#cacaca 40.31%,#b3b3b3 41.56%,#a6a6a6 42.81%,#989898 45.31%,#898989 49.69%,#7b7b7b 57.81%,#6b6b6b 73.44%,#5d5d5d 99.69%)"></i><i style="background:linear-gradient(90deg,#686868 0.3125%,#777 17.81%,#858585 27.19%,#929292 32.19%,#a1a1a1 35.31%,#ababab 36.56%,#b2b2b2 37.19%,#bcbcbc 37.81%,#c8c8c8 38.44%,#d0d0d0 39.06%,#c9c9c9 39.69%,#bcbcbc 40.31%,#b2b2b2 40.94%,#a6a6a6 42.19%,#979797 44.69%,#898989 49.06%,#7b7b7b 57.19%,#6b6b6b 72.81%,#5d5d5d 99.69%)"></i><i style="background:linear-gradient(90deg,#686868 0.3125%,#777 17.81%,#868686 27.19%,#959595 32.19%,#a2a2a2 34.69%,#acacac 35.94%,#b3b3b3 36.56%,#bdbdbd 37.19%,#c9c9c9 37.81%,#d0d0d0 38.44%,#c8c8c8 39.06%,#bbb 39.69%,#b2b2b2 40.31%,#a6a6a6 41.56%,#979797 44.06%,#898989 48.44%,#7a7a7a 56.56%,#6b6b6b 72.19%,#5d5d5d 99.69%)"></i><i style="background:linear-gradient(90deg,#696969 0.3125%,#777 17.19%,#868686 26.56%,#959595 31.56%,#a2a2a2 34.06%,#acacac 35.31%,#b3b3b3 35.94%,#bdbdbd 36.56%,#cacaca 37.19%,#d0d0d0 37.81%,#c8c8c8 38.44%,#bbb 39.06%,#b2b2b2 39.69%,#a5a5a5 40.94%,#979797 43.44%,#898989 47.81%,#7a7a7a 56.56%,#6a6a6a 72.81%,#5c5c5c 99.69%)"></i><i style="background:linear-gradient(90deg,#696969 0.3125%,#787878 17.19%,#868686 25.94%,#959595 30.94%,#a2a2a2 33.44%,#acacac 34.69%,#b3b3b3 35.31%,#bebebe 35.94%,#cacaca 36.56%,#d0d0d0 37.19%,#c7c7c7 37.81%,#bababa 38.44%,#b1b1b1 39.06%,#a5a5a5 40.31%,#979797 42.81%,#878787 47.81%,#797979 56.56%,#696969 73.44%,#5c5c5c 99.69%)"></i><i style="background:linear-gradient(90deg,#6a6a6a 0.3125%,#787878 16.56%,#868686 25.31%,#959595 30.31%,#a2a2a2 32.81%,#acacac 34.06%,#b4b4b4 34.69%,#cbcbcb 35.94%,#d0d0d0 36.56%,#c7c7c7 37.19%,#bababa 37.81%,#b1b1b1 38.44%,#a5a5a5 39.69%,#979797 42.19%,#878787 47.19%,#797979 55.94%,#696969 72.81%,#5c5c5c 99.69%)"></i><i style="background:linear-gradient(90deg,#6a6a6a 0.3125%,#797979 16.56%,#888 25.31%,#959595 29.69%,#a2a2a2 32.19%,#acacac 33.44%,#b4b4b4 34.06%,#bebebe 34.69%,#cbcbcb 35.31%,#d0d0d0 35.94%,#c7c7c7 36.56%,#bababa 37.19%,#b1b1b1 37.81%,#a5a5a5 39.06%,#979797 41.56%,#878787 46.56%,#797979 55.31%,#696969 72.19%,#5c5c5c 99.69%)"></i><i style="background:linear-gradient(90deg,#6a6a6a 0.3125%,#797979 15.94%,#888 24.69%,#959595 29.06%,#a2a2a2 31.56%,#acacac 32.81%,#b4b4b4 33.44%,#bebebe 34.06%,#cbcbcb 34.69%,#d0d0d0 35.31%,#c7c7c7 35.94%,#bababa 36.56%,#b1b1b1 37.19%,#a5a5a5 38.44%,#979797 40.94%,#878787 45.94%,#797979 54.69%,#696969 71.56%,#5b5b5b 99.69%)"></i><i style="background:linear-gradient(90deg,#6b6b6b 0.3125%,#7a7a7a 15.94%,#888 24.06%,#959595 28.44%,#a2a2a2 30.94%,#acacac 32.19%,#b4b4b4 32.81%,#bebebe 33.44%,#cbcbcb 34.06%,#d0d0d0 34.69%,#c7c7c7 35.31%,#bababa 35.94%,#b1b1b1 36.56%,#a5a5a5 37.81%,#979797 40.31%,#878787 45.31%,#797979 54.06%,#696969 70.94%,#5b5b5b 99.69%)"></i><i style="background:linear-gradient(90deg,#6b6b6b 0.3125%,#7b7b7b 15.94%,#898989 24.06%,#989898 28.44%,#a7a7a7 30.94%,#b3b3b3 32.19%,#bebebe 32.81%,#cacaca 33.44%,#d0d0d0 34.06%,#c7c7c7 34.69%,#bababa 35.31%,#b1b1b1 35.94%,#a5a5a5 37.19%,#979797 39.69%,#878787 44.69%,#797979 53.44%,#696969 70.31%,#5b5b5b 99.69%)"></i><i style="background:linear-gradient(90deg,#6c6c6c 0.3125%,#7b7b7b 15.31%,#898989 23.44%,#989898 27.81%,#a6a6a6 30.31%,#b3b3b3 31.56%,#bdbdbd 32.19%,#cacaca 32.81%,#d0d0d0 33.44%,#c7c7c7 34.06%,#bbb 34.69%,#b1b1b1 35.31%,#a5a5a5 36.56%,#979797 39.06%,#888 44.06%,#797979 52.81%,#696969 69.69%,#5b5b5b 99.69%)"></i><i style="background:linear-gradient(90deg,#6c6c6c 0.3125%,#7b7b7b 15.31%,#898989 22.81%,#989898 27.19%,#a6a6a6 29.69%,#b3b3b3 30.94%,#bdbdbd 31.56%,#cacaca 32.19%,#d1d1d1 32.81%,#c8c8c8 33.44%,#bbb 34.06%,#b2b2b2 34.69%,#a5a5a5 35.94%,#979797 38.44%,#898989 42.81%,#7a7a7a 51.56%,#6a6a6a 67.81%,#5b5b5b 97.81%,#5a5a5a 99.69%)"></i><i style="background:linear-gradient(90deg,#6d6d6d 0.3125%,#7b7b7b 14.69%,#8b8b8b 22.81%,#979797 26.56%,#a6a6a6 29.06%,#b3b3b3 30.31%,#bcbcbc 30.94%,#c9c9c9 31.56%,#d1d1d1 32.19%,#c8c8c8 32.81%,#bbb 33.44%,#b2b2b2 34.06%,#a6a6a6 35.31%,#979797 37.81%,#898989 42.19%,#7b7b7b 50.31%,#6b6b6b 65.94%,#5c5c5c 95.31%,#5a5a5a 99.69%)"></i><i style="background:linear-gradient(90deg,#6d6d6d 0.3125%,#7c7c7c 14.69%,#8b8b8b 22.19%,#979797 25.94%,#a6a6a6 28.44%,#b2b2b2 29.69%,#bcbcbc 30.31%,#c9c9c9 30.94%,#d1d1d1 31.56%,#c9c9c9 32.19%,#bcbcbc 32.81%,#b2b2b2 33.44%,#a6a6a6 34.69%,#979797 37.19%,#898989 41.56%,#7b7b7b 49.69%,#6b6b6b 65.31%,#5c5c5c 94.69%,#5a5a5a 99.69%)"></i><i style="background:linear-gradient(90deg,#6e6e6e 0.3125%,#7c7c7c 14.06%,#8b8b8b 21.56%,#9a9a9a 25.94%,#a6a6a6 27.81%,#b2b2b2 29.06%,#bbb 29.69%,#c8c8c8 30.31%,#d1d1d1 30.94%,#cacaca 31.56%,#bdbdbd 32.19%,#b3b3b3 32.81%,#a6a6a6 34.06%,#979797 36.56%,#898989 40.94%,#7b7b7b 49.06%,#6b6b6b 64.69%,#5c5c5c 93.44%,#5a5a5a 99.69%)"></i><i style="background:linear-gradient(90deg,#6e6e6e 0.3125%,#7d7d7d 14.06%,#8c8c8c 21.56%,#9a9a9a 25.31%,#a5a5a5 27.19%,#b1b1b1 28.44%,#bbb 29.06%,#c7c7c7 29.69%,#d1d1d1 30.31%,#cacaca 30.94%,#bdbdbd 31.56%,#b3b3b3 32.19%,#a6a6a6 33.44%,#989898 35.94%,#898989 40.31%,#7b7b7b 48.44%,#6b6b6b 64.06%,#5c5c5c 92.81%,#5a5a5a 99.69%)"></i><i style="background:linear-gradient(90deg,#6f6f6f 0.3125%,#7d7d7d 13.44%,#8c8c8c 20.94%,#9a9a9a 24.69%,#a5a5a5 26.56%,#b1b1b1 27.81%,#bababa 28.44%,#d1d1d1 29.69%,#cbcbcb 30.31%,#bebebe 30.94%,#b4b4b4 31.56%,#a7a7a7 32.81%,#989898 35.31%,#898989 39.69%,#7b7b7b 47.81%,#6b6b6b 63.44%,#5c5c5c 92.19%,#595959 99.69%)"></i><i style="background:linear-gradient(90deg,#6f6f6f 0.3125%,#7e7e7e 13.44%,#8c8c8c 20.31%,#9a9a9a 24.06%,#a5a5a5 25.94%,#b0b0b0 27.19%,#b9b9b9 27.81%,#d0d0d0 29.06%,#ccc 29.69%,#bfbfbf 30.31%,#b4b4b4 30.94%,#a7a7a7 32.19%,#989898 34.69%,#8a8a8a 39.06%,#7b7b7b 47.19%,#6b6b6b 62.81%,#5c5c5c 91.56%,#595959 99.69%)"></i><i style="background:linear-gradient(90deg,#707070 0.3125%,#7f7f7f 13.44%,#8e8e8e 20.31%,#9c9c9c 24.06%,#a9a9a9 25.94%,#b9b9b9 27.19%,#d0d0d0 28.44%,#cdcdcd 29.06%,#b5b5b5 30.31%,#a7a7a7 31.56%,#989898 34.06%,#8a8a8a 38.44%,#7b7b7b 46.56%,#6c6c6c 61.56%,#5d5d5d 89.69%,#595959 99.69%)"></i><i style="background:linear-gradient(90deg,#707070 0.3125%,#7f7f7f 12.81%,#8e8e8e 19.69%,#9c9c9c 23.44%,#a9a9a9 25.31%,#b8b8b8 26.56%,#d0d0d0 27.81%,#cecece 28.44%,#b6b6b6 29.69%,#a8a8a8 30.94%,#989898 33.44%,#8a8a8a 37.81%,#7b7b7b 45.94%,#6c6c6c 60.94%,#5d5d5d 89.06%,#595959 99.69%)"></i><i style="background:linear-gradient(90deg,#717171 0.3125%,#808080 12.81%,#8d8d8d 19.06%,#9c9c9c 22.81%,#a9a9a9 24.69%,#b7b7b7 25.94%,#cfcfcf 27.19%,#cecece 27.81%,#b6b6b6 29.06%,#a8a8a8 30.31%,#9c9c9c 32.19%,#8d8d8d 35.94%,#7f7f7f 42.81%,#6f6f6f 55.94%,#606060 80.31%,#595959 99.69%)"></i><i style="background:linear-gradient(90deg,#717171 0.3125%,#808080 12.19%,#8d8d8d 18.44%,#9c9c9c 22.19%,#a8a8a8 24.06%,#b6b6b6 25.31%,#cecece 26.56%,#cfcfcf 27.19%,#b7b7b7 28.44%,#a9a9a9 29.69%,#9c9c9c 31.56%,#8d8d8d 35.31%,#7f7f7f 42.19%,#6f6f6f 55.31%,#606060 79.69%,#585858 99.69%)"></i><i style="background:linear-gradient(90deg,#727272 0.3125%,#818181 12.19%,#8f8f8f 18.44%,#9b9b9b 21.56%,#a8a8a8 23.44%,#b5b5b5 24.69%,#cdcdcd 25.94%,#d0d0d0 26.56%,#b8b8b8 27.81%,#a9a9a9 29.06%,#9c9c9c 30.94%,#8e8e8e 34.69%,#7f7f7f 41.56%,#707070 54.69%,#606060 79.06%,#585858 99.69%)"></i><i style="background:linear-gradient(90deg,#727272 0.3125%,#818181 11.56%,#8f8f8f 17.81%,#9b9b9b 20.94%,#a7a7a7 22.81%,#b5b5b5 24.06%,#bfbfbf 24.69%,#ccc 25.31%,#d0d0d0 25.94%,#b9b9b9 27.19%,#aaa 28.44%,#9d9d9d 30.31%,#8e8e8e 34.06%,#7f7f7f 40.94%,#707070 54.06%,#606060 78.44%,#585858 99.69%)"></i><i style="background:linear-gradient(90deg,#737373 0.3125%,#828282 11.56%,#919191 17.81%,#9e9e9e 20.94%,#acacac 22.81%,#b4b4b4 23.44%,#bebebe 24.06%,#cbcbcb 24.69%,#d1d1d1 25.31%,#c7c7c7 25.94%,#bababa 26.56%,#aaa 27.81%,#9d9d9d 29.69%,#8e8e8e 33.44%,#7f7f7f 40.31%,#707070 53.44%,#606060 77.81%,#585858 99.69%)"></i><i style="background:linear-gradient(90deg,#737373 0.3125%,#838383 11.56%,#909090 17.19%,#9e9e9e 20.31%,#acacac 22.19%,#b3b3b3 22.81%,#bdbdbd 23.44%,#cacaca 24.06%,#d1d1d1 24.69%,#c8c8c8 25.31%,#bbb 25.94%,#b2b2b2 26.56%,#a5a5a5 27.81%,#979797 30.31%,#898989 34.69%,#7a7a7a 43.44%,#6a6a6a 59.69%,#5b5b5b 89.69%,#585858 99.69%)"></i><i style="background:linear-gradient(90deg,#747474 0.3125%,#828282 10.94%,#909090 16.56%,#9d9d9d 19.69%,#ababab 21.56%,#b2b2b2 22.19%,#bcbcbc 22.81%,#c9c9c9 23.44%,#d1d1d1 24.06%,#c9c9c9 24.69%,#bcbcbc 25.31%,#b2b2b2 25.94%,#a6a6a6 27.19%,#979797 29.69%,#898989 34.06%,#7b7b7b 42.19%,#6b6b6b 57.81%,#5c5c5c 86.56%,#575757 99.69%)"></i><i style="background:linear-gradient(90deg,#747474 0.3125%,#848484 10.94%,#929292 16.56%,#a1a1a1 19.69%,#ababab 20.94%,#b1b1b1 21.56%,#bbb 22.19%,#c7c7c7 22.81%,#d1d1d1 23.44%,#cbcbcb 24.06%,#bdbdbd 24.69%,#b3b3b3 25.31%,#a6a6a6 26.56%,#989898 29.06%,#898989 33.44%,#7b7b7b 41.56%,#6b6b6b 57.19%,#5c5c5c 85.94%,#575757 99.69%)"></i><i style="background:linear-gradient(90deg,#757575 0.3125%,#838383 10.31%,#929292 15.94%,#a0a0a0 19.06%,#aaa 20.31%,#b9b9b9 21.56%,#d1d1d1 22.81%,#ccc 23.44%,#bfbfbf 24.06%,#b4b4b4 24.69%,#a7a7a7 25.94%,#989898 28.44%,#8a8a8a 32.81%,#7b7b7b 40.94%,#6b6b6b 56.56%,#5c5c5c 85.31%,#575757 99.69%)"></i><i style="background:linear-gradient(90deg,#767676 0.3125%,#858585 10.31%,#949494 15.94%,#a0a0a0 18.44%,#b0b0b0 20.31%,#b8b8b8 20.94%,#d0d0d0 22.19%,#cdcdcd 22.81%,#b5b5b5 24.06%,#a7a7a7 25.31%,#989898 27.81%,#8a8a8a 32.19%,#7b7b7b 40.31%,#6c6c6c 55.31%,#5d5d5d 83.44%,#575757 99.69%)"></i><i style="background:linear-gradient(90deg,#767676 0.3125%,#868686 10.31%,#949494 15.31%,#a0a0a0 17.81%,#afafaf 19.69%,#b7b7b7 20.31%,#d0d0d0 21.56%,#cecece 22.19%,#b6b6b6 23.44%,#a8a8a8 24.69%,#999 27.19%,#8a8a8a 31.56%,#7b7b7b 39.69%,#6c6c6c 54.69%,#5d5d5d 82.81%,#575757 99.69%)"></i><i style="background:linear-gradient(90deg,#777 0.3125%,#868686 9.688%,#939393 14.69%,#9f9f9f 17.19%,#aeaeae 19.06%,#b6b6b6 19.69%,#cecece 20.94%,#cfcfcf 21.56%,#b7b7b7 22.81%,#a9a9a9 24.06%,#9c9c9c 25.94%,#8d8d8d 29.69%,#7f7f7f 36.56%,#6f6f6f 49.69%,#606060 74.06%,#565656 99.69%)"></i><i style="background:linear-gradient(90deg,#787878 0.3125%,#878787 9.688%,#969696 14.69%,#a3a3a3 17.19%,#adadad 18.44%,#b5b5b5 19.06%,#cdcdcd 20.31%,#d0d0d0 20.94%,#b8b8b8 22.19%,#a9a9a9 23.44%,#9c9c9c 25.31%,#8e8e8e 29.06%,#7f7f7f 35.94%,#707070 49.06%,#606060 73.44%,#565656 99.69%)"></i><i style="background:linear-gradient(90deg,#787878 0.3125%,#878787 9.062%,#959595 14.06%,#a2a2a2 16.56%,#adadad 17.81%,#b4b4b4 18.44%,#bfbfbf 19.06%,#ccc 19.69%,#d1d1d1 20.31%,#b9b9b9 21.56%,#aaa 22.81%,#9d9d9d 24.69%,#8e8e8e 28.44%,#7f7f7f 35.31%,#707070 48.44%,#606060 72.81%,#565656 99.69%)"></i><i style="background:linear-gradient(90deg,#797979 0.3125%,#888 9.062%,#959595 13.44%,#a2a2a2 15.94%,#acacac 17.19%,#b3b3b3 17.81%,#bdbdbd 18.44%,#cacaca 19.06%,#d1d1d1 19.69%,#c8c8c8 20.31%,#bbb 20.94%,#b1b1b1 21.56%,#a5a5a5 22.81%,#979797 25.31%,#898989 29.69%,#7a7a7a 38.44%,#6a6a6a 54.69%,#5b5b5b 84.69%,#565656 99.69%)"></i><i style="background:linear-gradient(90deg,#7a7a7a 0.3125%,#888 8.438%,#959595 12.81%,#a1a1a1 15.31%,#ababab 16.56%,#b2b2b2 17.19%,#bcbcbc 17.81%,#c9c9c9 18.44%,#d1d1d1 19.06%,#c9c9c9 19.69%,#bcbcbc 20.31%,#b2b2b2 20.94%,#a6a6a6 22.19%,#979797 24.69%,#898989 29.06%,#7b7b7b 37.19%,#6b6b6b 52.81%,#5c5c5c 82.19%,#565656 99.69%)"></i><i style="background:linear-gradient(90deg,#7a7a7a 0.3125%,#898989 8.438%,#979797 12.81%,#a5a5a5 15.31%,#b1b1b1 16.56%,#bababa 17.19%,#c7c7c7 17.81%,#d1d1d1 18.44%,#cbcbcb 19.06%,#bdbdbd 19.69%,#b3b3b3 20.31%,#a6a6a6 21.56%,#989898 24.06%,#898989 28.44%,#7b7b7b 36.56%,#6b6b6b 52.19%,#5c5c5c 80.94%,#565656 99.69%)"></i><i style="background:linear-gradient(90deg,#7b7b7b 0.3125%,#8a8a8a 8.438%,#999 12.81%,#a5a5a5 14.69%,#b0b0b0 15.94%,#b9b9b9 16.56%,#d1d1d1 17.81%,#ccc 18.44%,#bfbfbf 19.06%,#b4b4b4 19.69%,#a7a7a7 20.94%,#989898 23.44%,#8a8a8a 27.81%,#7b7b7b 35.94%,#6b6b6b 51.56%,#5c5c5c 80.31%,#555 99.69%)"></i><i style="background:linear-gradient(90deg,#7c7c7c 0.3125%,#8a8a8a 7.812%,#999 12.19%,#a4a4a4 14.06%,#afafaf 15.31%,#b8b8b8 15.94%,#d0d0d0 17.19%,#cecece 17.81%,#b5b5b5 19.06%,#a8a8a8 20.31%,#989898 22.81%,#8a8a8a 27.19%,#7b7b7b 35.31%,#6c6c6c 50.31%,#5d5d5d 78.44%,#555 99.69%)"></i><i style="background:linear-gradient(90deg,#7d7d7d 0.3125%,#8c8c8c 7.812%,#999 11.56%,#a3a3a3 13.44%,#aeaeae 14.69%,#b7b7b7 15.31%,#cfcfcf 16.56%,#cfcfcf 17.19%,#b7b7b7 18.44%,#a8a8a8 19.69%,#9c9c9c 21.56%,#8d8d8d 25.31%,#7f7f7f 32.19%,#6f6f6f 45.31%,#606060 69.69%,#555 99.69%)"></i><i style="background:linear-gradient(90deg,#7e7e7e 0.3125%,#8b8b8b 7.187%,#989898 10.94%,#a8a8a8 13.44%,#b5b5b5 14.69%,#cecece 15.94%,#d0d0d0 16.56%,#b8b8b8 17.81%,#a9a9a9 19.06%,#9c9c9c 20.94%,#8e8e8e 24.69%,#7f7f7f 31.56%,#707070 44.69%,#606060 69.06%,#555 99.69%)"></i><i style="background:linear-gradient(90deg,#7e7e7e 0.3125%,#8d8d8d 7.187%,#9b9b9b 10.94%,#a7a7a7 12.81%,#b4b4b4 14.06%,#bfbfbf 14.69%,#ccc 15.31%,#d1d1d1 15.94%,#b9b9b9 17.19%,#aaa 18.44%,#9d9d9d 20.31%,#8e8e8e 24.06%,#7f7f7f 30.94%,#707070 44.06%,#606060 68.44%,#555 99.69%)"></i><i style="background:linear-gradient(90deg,#7f7f7f 0.3125%,#8f8f8f 7.187%,#9e9e9e 10.94%,#acacac 12.81%,#b3b3b3 13.44%,#bdbdbd 14.06%,#cbcbcb 14.69%,#d1d1d1 15.31%,#c8c8c8 15.94%,#bbb 16.56%,#b1b1b1 17.19%,#a5a5a5 18.44%,#979797 20.94%,#888 25.94%,#797979 34.69%,#696969 51.56%,#5a5a5a 82.81%,#555 99.69%)"></i><i style="background:linear-gradient(90deg,#808080 0.3125%,#8e8e8e 6.562%,#9d9d9d 10.31%,#ababab 12.19%,#b2b2b2 12.81%,#bcbcbc 13.44%,#c9c9c9 14.06%,#d2d2d2 14.69%,#c9c9c9 15.31%,#bcbcbc 15.94%,#b2b2b2 16.56%,#a6a6a6 17.81%,#979797 20.31%,#898989 24.69%,#7b7b7b 32.81%,#6b6b6b 48.44%,#5c5c5c 77.81%,#555 99.69%)"></i><i style="background:linear-gradient(90deg,#818181 0.3125%,#909090 6.562%,#9d9d9d 9.688%,#aaa 11.56%,#b1b1b1 12.19%,#bababa 12.81%,#c7c7c7 13.44%,#d1d1d1 14.06%,#cbcbcb 14.69%,#bebebe 15.31%,#b3b3b3 15.94%,#a6a6a6 17.19%,#989898 19.69%,#898989 24.06%,#7b7b7b 32.19%,#6b6b6b 47.81%,#5c5c5c 76.56%,#545454 99.69%)"></i><i style="background:linear-gradient(90deg,#828282 0.3125%,#909090 5.938%,#9d9d9d 9.062%,#aaa 10.94%,#b9b9b9 12.19%,#d1d1d1 13.44%,#cdcdcd 14.06%,#bfbfbf 14.69%,#b5b5b5 15.31%,#a7a7a7 16.56%,#989898 19.06%,#8a8a8a 23.44%,#7b7b7b 31.56%,#6b6b6b 47.19%,#5c5c5c 75.94%,#545454 99.69%)"></i><i style="background:linear-gradient(90deg,#838383 0.3125%,#919191 5.938%,#a0a0a0 9.062%,#afafaf 10.94%,#b8b8b8 11.56%,#d0d0d0 12.81%,#cecece 13.44%,#b6b6b6 14.69%,#a8a8a8 15.94%,#989898 18.44%,#8a8a8a 22.81%,#7b7b7b 30.94%,#6c6c6c 45.94%,#5d5d5d 74.06%,#545454 99.69%)"></i><i style="background:linear-gradient(90deg,#848484 0.3125%,#939393 5.938%,#9f9f9f 8.438%,#aeaeae 10.31%,#b6b6b6 10.94%,#cfcfcf 12.19%,#cfcfcf 12.81%,#b7b7b7 14.06%,#a9a9a9 15.31%,#9c9c9c 17.19%,#8d8d8d 20.94%,#7f7f7f 27.81%,#6f6f6f 40.94%,#606060 65.31%,#545454 99.69%)"></i><i style="background:linear-gradient(90deg,#858585 0.3125%,#939393 5.312%,#9f9f9f 7.812%,#adadad 9.688%,#b5b5b5 10.31%,#c0c0c0 10.94%,#cdcdcd 11.56%,#d0d0d0 12.19%,#b8b8b8 13.44%,#a9a9a9 14.69%,#9c9c9c 16.56%,#8e8e8e 20.31%,#7f7f7f 27.19%,#707070 40.31%,#606060 64.69%,#545454 99.69%)"></i><i style="background:linear-gradient(90deg,#878787 0.3125%,#959595 5.312%,#a2a2a2 7.812%,#acacac 9.062%,#b4b4b4 9.688%,#bebebe 10.31%,#ccc 10.94%,#d1d1d1 11.56%,#bababa 12.81%,#aaa 14.06%,#9d9d9d 15.94%,#8e8e8e 19.69%,#7f7f7f 26.56%,#707070 39.69%,#606060 64.06%,#545454 99.69%)"></i><i style="background:linear-gradient(90deg,#888 0.3125%,#959595 4.688%,#a1a1a1 7.187%,#acacac 8.438%,#b3b3b3 9.062%,#bcbcbc 9.688%,#cacaca 10.31%,#d2d2d2 10.94%,#c9c9c9 11.56%,#bbb 12.19%,#b2b2b2 12.81%,#a5a5a5 14.06%,#979797 16.56%,#898989 20.94%,#7a7a7a 29.06%,#6b6b6b 44.69%,#5c5c5c 74.06%,#535353 99.69%)"></i><i style="background:linear-gradient(90deg,#898989 0.3125%,#979797 4.688%,#a5a5a5 7.187%,#b2b2b2 8.438%,#bbb 9.062%,#c8c8c8 9.688%,#d2d2d2 10.31%,#cacaca 10.94%,#bdbdbd 11.56%,#b3b3b3 12.19%,#a6a6a6 13.44%,#989898 15.94%,#898989 20.31%,#7b7b7b 28.44%,#6b6b6b 44.06%,#5c5c5c 72.81%,#535353 99.69%)"></i></div>
<div class="h" style="left:256px;top:42px;width:159px;height:159px"><i style="background:linear-gradient(90deg,#fff 0.3145%,#fdfdff 88.36%,#fff 99.69%)"></i><i style="background:linear-gradient(90deg,#fff 0.3145%,#fdfdff 87.74%,#fff 99.69%)"></i><i style="background:linear-gradient(90deg,#fff 0.3145%,#fdfdff 87.11%,#fefdfe 88.99%,#fff 99.69%)"></i><i style="background:linear-gradient(90deg,#fff 0.3145%,#fdfdff 86.48%,#fbfcff 87.74%,#fffefe 90.88%,#fff 99.69%)"></i><i style="background:linear-gradient(90deg,#fff 0.3145%,#fdfdff 85.85%,#fbfcff 87.11%,#fffefe 89.62%,#fff 99.69%)"></i><i style="background:linear-gradient(90deg,#fff 0.3145%,#fdfdff 85.22%,#fdfdfe 87.11%,#fff 99.69%)"></i><i style="background:linear-gradient(90deg,#fff 0.3145%,#fdfdff 84.59%,#fcfcfe 86.48%,#fff 94.65%,#fff 99.69%)"></i><i style="background:linear-gradient(90deg,#fff 0.3145%,#fdfdff 83.96%,#fcfcfe 85.85%,#fff 90.88%,#fff 99.69%)"></i><i style="background:linear-gradient(90deg,#fff 0.3145%,#fdfdff 83.33%,#fcfcff 85.22%,#fffefe 89.62%,#fff 99.69%)"></i><i style="background:linear-gradient(90deg,#fff 0.3145%,#fdfdff 82.7%,#fbfcfe 84.59%,#fffefe 87.11%,#fff 99.69%)"></i><i style="background:linear-gradient(90deg,#fff 0.3145%,#fdfdff 82.08%,#fafbfe 83.96%,#fffefe 86.48%,#fff 99.69%)"></i><i style="background:linear-gradient(90deg,#fff 0.3145%,#fdfdff 81.45%,#fafbfe 83.33%,#fffdfd 85.22%,#fff 99.69%)"></i><i style="background:linear-gradient(90deg,#fff 0.3145%,#fdfdff 80.82%,#fafbfe 82.7%,#fffdfd 84.59%,#fff 99.69%)"></i><i style="background:linear-gradient(90deg,#fff 0.3145%,#fdfdff 80.19%,#f9fafe 82.08%,#fffdfd 83.96%,#fff 99.69%)"></i><i style="background:linear-gradient(90deg,#fff 0.3145%,#fdfdff 79.56%,#f9faff 81.45%,#fffdfd 83.33%,#fff 99.69%)"></i><i style="background:linear-gradient(90deg,#fff 0.3145%,#fdfdff 78.93%,#f9faff 80.82%,#fffdfd 83.33%,#fff 99.69%)"></i><i style="background:linear-gradient(90deg,#fff 0.3145%,#fdfdff 78.3%,#f9faff 80.19%,#fffdfd 82.7%,#fff 99.69%)"></i><i style="background:linear-gradient(90deg,#fff 0.3145%,#fdfdff 77.67%,#fafafe 80.19%,#fefcfc 81.45%,#fff 99.69%)"></i><i style="background:linear-gradient(90deg,#fff 0.3145%,#fdfdff 77.04%,#f9fafe 79.56%,#fefcfc 80.82%,#fff 99.69%)"></i><i style="background:linear-gradient(90deg,#fff 0.3145%,#fcfdff 76.42%,#f8f9fe 78.93%,#fefcfc 80.19%,#fff 99.69%)"></i><i style="background:linear-gradient(90deg,#fff 0.3145%,#fcfdff 75.79%,#f7f9fe 78.3%,#fefcfc 79.56%,#fff 99.69%)"></i><i style="background:linear-gradient(90deg,#fff 0.3145%,#fcfdff 75.16%,#f7f8fe 77.67%,#fefcfc 78.93%,#fff 99.69%)"></i><i style="background:linear-gradient(90deg,#fff 0.3145%,#fcfdff 74.53%,#f7f8fe 77.04%,#fefbfc 78.3%,#fff 97.8%,#fff 99.69%)"></i><i style="background:linear-gradient(90deg,#fff 0.3145%,#fcfdff 73.9%,#f6f8fe 76.42%,#fefcfc 78.3%,#fffeff 99.69%)"></i><i style="background:linear-gradient(90deg,#fff 0.3145%,#fcfdff 73.27%,#f6f8fe 75.79%,#fefbfc 77.67%,#fffefe 97.8%,#fffefe 99.69%)"></i><i style="background:linear-gradient(90deg,#fff 0.3145%,#fcfdff 72.64%,#f6f8fe 75.16%,#fefbfb 77.04%,#fffeff 92.14%,#fffefe 99.69%)"></i><i style="background:linear-gradient(90deg,#fff 0.3145%,#fcfdff 72.01%,#f6f7fe 74.53%,#fefbfb 76.42%,#fffefe 88.99%,#fffefe 99.69%)"></i><i style="background:linear-gradient(90deg,#fff 0.3145%,#fcfdff 70.75%,#f6f7fe 74.53%,#fefbfb 75.79%,#fffefe 86.48%,#fffefe 99.69%)"></i><i style="background:linear-gradient(90deg,#fff 0.3145%,#fcfdff 70.13%,#f8f9fe 72.64%,#f5f6fe 73.9%,#fefafa 75.16%,#fffefe 84.59%,#fffefe 99.69%)"></i><i style="background:linear-gradient(90deg,#fff 0.3145%,#fcfdff 69.5%,#f8f9fe 72.01%,#f4f6fe 73.27%,#fefafa 74.53%,#fffefe 83.33%,#fffefe 99.69%)"></i><i style="background:linear-gradient(90deg,#fff 0.3145%,#fcfdff 68.87%,#f8f9fe 71.38%,#f3f5fe 72.64%,#fefafa 73.9%,#fffefe 82.7%,#fffefe 99.69%)"></i><i style="background:linear-gradient(90deg,#fff 0.3145%,#fcfdff 68.24%,#f8f9fe 70.75%,#f2f4fe 72.01%,#fefafa 73.27%,#fffefe 82.08%,#fffdfd 99.69%)"></i><i style="background:linear-gradient(90deg,#fff 0.3145%,#fcfdff 67.61%,#f7f9fe 70.13%,#f1f4fe 71.38%,#fef9fa 72.64%,#fffefe 79.56%,#fefcfc 99.69%)"></i><i style="background:linear-gradient(90deg,#fff 0.3145%,#fcfdff 66.35%,#f7f9fe 69.5%,#f0f3fe 70.75%,#fdf8f9 72.01%,#fffefe 77.67%,#fefbfc 99.06%,#fefbfb 99.69%)"></i><i style="background:linear-gradient(90deg,#fff 0.3145%,#fcfdff 65.72%,#f7f9fe 68.87%,#f0f3fe 70.13%,#fcf8f9 71.38%,#fffdfd 75.79%,#fefcfc 97.8%,#fcf8fa 99.69%)"></i><i style="background:linear-gradient(90deg,#fff 0.3145%,#fcfdff 65.09%,#f7f8fe 68.24%,#eff2fe 69.5%,#fcf7f9 70.75%,#fffdfd 75.16%,#fefcfc 96.54%,#fbf7f9 98.43%,#f3f4fc 99.69%)"></i><i style="background:linear-gradient(90deg,#fff 0.3145%,#fcfcff 64.47%,#f6f8fe 67.61%,#eff2fe 68.87%,#fbf6f9 70.13%,#fffdfd 73.9%,#fefcfc 95.28%,#fcf9fa 97.8%,#f2f2fc 98.43%,#f3f5fe 99.69%)"></i><i style="background:linear-gradient(90deg,#fff 0.3145%,#fcfcff 63.84%,#f6f8fe 66.98%,#eef1fe 68.24%,#fbf6f8 69.5%,#fefcfc 72.01%,#fefcfc 94.03%,#fbf6f8 96.54%,#f2f3fd 97.8%,#f1f4fe 98.43%,#f7f9fe 99.69%)"></i><i style="background:linear-gradient(90deg,#fff 0.3145%,#fcfdff 62.58%,#f6f7fe 66.35%,#edf1fe 67.61%,#f0f2fd 68.24%,#faf6f8 68.87%,#fefbfb 70.75%,#fffdfd 88.99%,#fef9f9 94.65%,#faf8fa 95.91%,#f0f1fb 96.54%,#f5f7fe 98.43%,#f9faff 99.69%)"></i><i style="background:linear-gradient(90deg,#fff 0.3145%,#fcfcff 61.95%,#f5f7fe 65.72%,#ecf0fe 66.98%,#eff1fd 67.61%,#f9f5f8 68.24%,#fef9f9 69.5%,#fffdfd 76.42%,#fefbfb 92.77%,#faf5f8 94.65%,#f3f3fc 95.28%,#eff2fe 96.54%,#f8faff 98.43%,#fafbff 99.69%)"></i><i style="background:linear-gradient(90deg,#fff 0.3145%,#fcfcff 61.32%,#f5f7fe 65.09%,#ebeffe 66.35%,#edeffd 66.98%,#f8f4f8 67.61%,#fdf6f6 68.24%,#fefcfc 72.01%,#fefbfc 90.88%,#fbf5f7 93.4%,#f8f6fa 94.03%,#eeeffb 94.65%,#f9faff 97.8%,#fbfcff 99.69%)"></i><i style="background:linear-gradient(90deg,#fff 0.3145%,#fcfcff 60.06%,#f7f8fe 63.84%,#eaeefd 65.72%,#ebeefc 66.35%,#f7f3f8 66.98%,#fdf5f6 67.61%,#fefcfc 71.38%,#fefbfb 90.25%,#faf5f7 92.77%,#f0f0fb 93.4%,#edf1fe 94.65%,#f8f9fe 96.54%,#fcfcff 99.69%)"></i><i style="background:linear-gradient(90deg,#fff 0.3145%,#fcfcff 59.43%,#f6f8fe 63.21%,#e9edfd 65.09%,#e9ecfc 65.72%,#f7f2f7 66.35%,#fdf4f5 66.98%,#fefcfc 70.13%,#fefbfc 88.36%,#fdf7f7 90.88%,#faf3f6 91.51%,#f6f4fa 92.14%,#ecedfb 92.77%,#eff2fe 94.03%,#f8f9fe 95.91%,#fcfdff 99.69%)"></i><i style="background:linear-gradient(90deg,#fff 0.3145%,#fbfcff 58.81%,#f6f7fe 62.58%,#e7ecfd 64.47%,#e7ebfc 65.09%,#f6f1f7 65.72%,#fdf4f4 66.35%,#fefbfb 69.5%,#fefbfb 87.74%,#fcf5f6 90.25%,#f9f4f7 90.88%,#ecedfa 91.51%,#ebeffe 92.77%,#f7f8fe 94.65%,#fcfdff 99.69%)"></i><i style="background:linear-gradient(90deg,#fff 0.3145%,#fbfcff 57.55%,#f5f7fe 61.95%,#edf1fe 63.21%,#e6ebfd 63.84%,#e6eafc 64.47%,#f5f1f7 65.09%,#fdf3f4 65.72%,#fefbfb 68.87%,#fefbfb 86.48%,#fdf6f6 88.99%,#f9f2f5 89.62%,#f4f2fa 90.25%,#e9ebfb 90.88%,#e9edfd 91.51%,#f5f7fe 93.4%,#fcfdff 99.06%,#fcfdff 99.69%)"></i><i style="background:linear-gradient(90deg,#fff 0.3145%,#fbfcff 56.92%,#f4f6fe 61.32%,#ecf0fe 62.58%,#e4eafd 63.21%,#e4e8fc 63.84%,#f4f0f7 64.47%,#fcf2f3 65.09%,#fefbfb 68.24%,#fefbfb 85.22%,#fbf3f5 88.36%,#f9f3f6 88.99%,#e9eafa 89.62%,#e8edfd 90.88%,#f3f5fe 92.14%,#fbfcff 96.54%,#fdfdff 99.69%)"></i><i style="background:linear-gradient(90deg,#fff 0.3145%,#fbfcff 55.66%,#f4f6fe 60.69%,#eaeffe 61.95%,#e3e8fd 62.58%,#e2e7fc 63.21%,#f4eff7 63.84%,#fcf2f2 64.47%,#fefafb 67.61%,#fefbfb 83.96%,#fdf4f5 87.11%,#f8f0f3 87.74%,#f2f0f9 88.36%,#e6e9fb 88.99%,#e5eafd 89.62%,#f4f6fe 91.51%,#fbfcff 96.54%,#fdfdff 99.69%)"></i><i style="background:linear-gradient(90deg,#fff 0.3145%,#fbfcff 55.03%,#f5f7fe 59.43%,#eff2fe 60.69%,#e1e7fd 61.95%,#e0e5fb 62.58%,#f3eef6 63.21%,#fcf1f1 63.84%,#fefafa 66.98%,#fefbfb 82.08%,#fdf4f5 85.85%,#f8f1f6 87.11%,#e6e7f9 87.74%,#e5eafd 88.99%,#f1f4fe 90.25%,#fafbff 94.03%,#fdfdff 99.69%)"></i><i style="background:linear-gradient(90deg,#fff 0.3145%,#fbfcff 53.77%,#f4f6fe 58.81%,#eef1fe 60.06%,#dee5fd 61.32%,#dfe4fb 61.95%,#f2edf6 62.58%,#fcf0f0 63.21%,#fefafa 66.35%,#fefbfb 80.82%,#fdf5f5 84.59%,#fcf3f3 85.22%,#f8eef2 85.85%,#f1eff8 86.48%,#e3e6fa 87.11%,#e1e7fd 87.74%,#f2f4fe 89.62%,#fafbff 94.03%,#fdfdff 99.69%)"></i><i style="background:linear-gradient(90deg,#fff 0.3145%,#fbfcff 53.14%,#f3f6fe 58.18%,#ecf0fe 59.43%,#dce3fc 60.69%,#dde3fb 61.32%,#f2ecf5 61.95%,#fcefef 62.58%,#fef9f9 65.72%,#fefbfb 79.56%,#fdf5f6 83.33%,#faeff1 84.59%,#f7f0f4 85.22%,#e4e5f8 85.85%,#e1e7fd 87.11%,#eff2fe 88.36%,#f8faff 91.51%,#fdfdff 99.69%)"></i><i style="background:linear-gradient(90deg,#fff 0.3145%,#fbfcff 51.89%,#f4f7fe 56.92%,#ebeffe 58.81%,#d9e1fc 60.06%,#dce2fb 60.69%,#f1ebf4 61.32%,#fbedee 61.95%,#fef9f9 65.09%,#fefafb 78.3%,#fdf6f6 82.08%,#fcf1f1 83.33%,#f7ecf0 83.96%,#f0edf7 84.59%,#dee2f9 85.22%,#dde4fd 85.85%,#eff3fe 87.74%,#f9faff 91.51%,#fdfdff 99.69%)"></i><i style="background:linear-gradient(90deg,#fff 0.3145%,#fbfcff 50.63%,#f4f6fe 56.29%,#e9edfd 58.18%,#d6dffc 59.43%,#dbe1fb 60.06%,#f1eaf4 60.69%,#fbeced 61.32%,#fdf7f7 63.84%,#fefbfb 73.9%,#fdf6f6 80.82%,#faedef 82.7%,#f6edf2 83.33%,#e3e3f7 83.96%,#dce2fc 84.59%,#dbe3fc 85.22%,#ecf0fe 86.48%,#f6f8fe 88.99%,#fdfdff 99.69%)"></i><i style="background:linear-gradient(90deg,#fff 0.3145%,#fbfbff 50%,#f2f5fe 55.66%,#e6ebfd 57.55%,#d3dcfc 58.81%,#dbe0fa 59.43%,#f1e9f3 60.06%,#fbebec 60.69%,#fdf6f7 63.21%,#fefbfb 72.64%,#fdf6f6 79.56%,#fceeef 81.45%,#f7eaee 82.08%,#f0ecf6 82.7%,#dadef9 83.33%,#d7dffc 83.96%,#ecf0fe 85.85%,#f7f9fe 88.99%,#fdfdff 99.69%)"></i><i style="background:linear-gradient(90deg,#fff 0.3145%,#fbfbff 48.74%,#f3f6fe 54.4%,#eaeefd 56.29%,#e3e9fd 56.92%,#d0d9fc 58.18%,#dbe1fa 58.81%,#f1e9f1 59.43%,#fbe9ea 60.06%,#fdf6f6 62.58%,#fefafa 71.38%,#fdf6f6 78.3%,#fbebed 80.82%,#f5eaf0 81.45%,#d6ddfb 82.7%,#d5ddfc 83.33%,#e8ecfd 84.59%,#f2f5fe 86.48%,#fbfcff 92.77%,#fdfdff 99.69%)"></i><i style="background:linear-gradient(90deg,#fff 0.3145%,#fbfbff 47.48%,#f2f5fe 53.77%,#e8ecfd 55.66%,#e0e6fd 56.29%,#ccd6fb 57.55%,#dde2fa 58.18%,#f2e8f0 58.81%,#fae8e9 59.43%,#fdf5f5 61.95%,#fefafa 70.13%,#fdf4f5 77.67%,#f8e8eb 80.19%,#f2ecf4 80.82%,#d7dbf7 81.45%,#d1dbfc 82.08%,#d5defc 82.7%,#e1e7fd 83.33%,#edf0fe 84.59%,#f7f9fe 88.36%,#fdfdff 99.69%)"></i><i style="background:linear-gradient(90deg,#fff 0.3145%,#fafbff 46.23%,#f3f5fe 52.52%,#eaeefd 54.4%,#dce3fc 55.66%,#d0d9fc 56.29%,#c9d4fb 56.92%,#e0e4fa 57.55%,#f3e8ef 58.18%,#fae6e7 58.81%,#fdf4f4 61.32%,#fef9f9 68.87%,#fdf4f5 76.42%,#fae9ea 78.93%,#f6e8ed 79.56%,#e9e7f6 80.19%,#d1d8fa 80.82%,#ccd7fb 81.45%,#e2e8fd 82.7%,#f0f3fe 84.59%,#f9faff 89.62%,#fdfdff 99.69%)"></i><i style="background:linear-gradient(90deg,#fff 0.3145%,#fafbff 44.97%,#f1f4fe 51.89%,#e8ecfd 53.77%,#d7dffc 55.03%,#cad5fb 55.66%,#c7d2fb 56.29%,#e1e4f9 56.92%,#f5e8ed 57.55%,#f9e4e5 58.18%,#fdf3f3 60.69%,#fef9f9 67.61%,#fdf4f5 75.16%,#f9e6e8 78.3%,#f4eaf1 78.93%,#daddf6 79.56%,#cbd5fb 80.19%,#cad5fb 80.82%,#e2e8fd 82.08%,#eff2fe 83.96%,#f9faff 88.99%,#fdfdff 99.69%)"></i><i style="background:linear-gradient(90deg,#fff 0.3145%,#fafbff 43.71%,#f2f4fe 50.63%,#e4eafd 53.14%,#dde4fd 53.77%,#c4d0fb 55.03%,#c7d2fa 55.66%,#e4e5f8 56.29%,#f6e7eb 56.92%,#f9e2e3 57.55%,#fcf0f0 59.43%,#fdf7f7 63.84%,#fdf5f5 73.27%,#fbedee 75.79%,#fae5e6 77.04%,#f7e6e9 77.67%,#eee8f3 78.3%,#d0d7f9 78.93%,#c4d0fb 79.56%,#cad5fb 80.19%,#d9e1fc 80.82%,#e8ecfd 82.08%,#f3f5fe 84.59%,#fbfcff 93.4%,#fdfdff 99.69%)"></i><i style="background:linear-gradient(90deg,#feffff 0.3145%,#fafbff 42.45%,#f2f4fe 49.37%,#e6ebfd 51.89%,#d7dffc 53.14%,#beccfa 54.4%,#cad4fa 55.03%,#e8e7f7 55.66%,#f8e6e9 56.29%,#f9e0e1 56.92%,#fceeef 58.81%,#fdf6f7 63.21%,#fdf4f5 72.01%,#fbeeef 74.53%,#f9e2e4 76.42%,#f6e7ec 77.04%,#e5e4f6 77.67%,#c6d1fa 78.3%,#beccfa 78.93%,#d9e0fc 80.19%,#e7ecfd 81.45%,#f3f6fe 84.59%,#fbfcff 94.65%,#fdfdff 99.69%)"></i><i style="background:linear-gradient(90deg,#feffff 0.3145%,#fafbff 41.19%,#f2f4fe 48.11%,#e8ecfd 50.63%,#dbe3fc 51.89%,#c2cffb 53.14%,#bac8fa 53.77%,#cfd7fa 54.4%,#ece8f5 55.03%,#f9e4e6 55.66%,#f8dddf 56.29%,#fbedee 58.18%,#fdf5f5 61.95%,#fdf4f4 70.75%,#fceeef 73.27%,#f9e1e2 75.16%,#f9e2e4 75.79%,#f5eaf0 76.42%,#daddf7 77.04%,#becbfa 77.67%,#bbc8fa 78.3%,#d8e0fc 79.56%,#e6ebfd 80.82%,#f3f5fe 83.96%,#fbfcff 93.4%,#fcfdff 99.69%)"></i><i style="background:linear-gradient(90deg,#fefeff 0.3145%,#f9fbff 39.94%,#f0f3fe 47.48%,#e4e9fd 50%,#d5ddfc 51.26%,#bac8fa 52.52%,#bac8fa 53.14%,#d7ddfa 53.77%,#f0e8f2 54.4%,#f9e2e3 55.03%,#f8dbdd 55.66%,#fbecec 57.55%,#fdf4f4 61.32%,#fdf3f4 69.5%,#fbebec 72.64%,#f8dddf 74.53%,#f8e4e6 75.16%,#f1eaf3 75.79%,#d2d9f9 76.42%,#b4c4fa 77.04%,#b7c6fa 77.67%,#c9d4fb 78.3%,#d7dffc 78.93%,#e5eafd 80.19%,#f2f4fe 83.33%,#fbfbff 92.77%,#fcfdff 99.69%)"></i><i style="background:linear-gradient(90deg,#fefeff 0.3145%,#f9faff 38.68%,#eff3fe 46.23%,#e4eafd 48.74%,#d7dffc 50%,#b2c2f9 51.89%,#c1cdfa 52.52%,#e0e3f9 53.14%,#f4e9ef 53.77%,#f8dedf 54.4%,#f7d9da 55.03%,#fbeaeb 56.92%,#fcf3f3 60.69%,#fcf2f2 68.87%,#fbebec 71.38%,#f8dcde 73.27%,#f8dcde 73.9%,#f8e6e9 74.53%,#eeebf6 75.16%,#cad4fa 75.79%,#acbdf9 76.42%,#b3c3fa 77.04%,#c7d2fb 77.67%,#d4ddfc 78.3%,#e3e8fd 79.56%,#f0f3fe 82.7%,#fafbff 91.51%,#fcfdff 99.69%)"></i><i style="background:linear-gradient(90deg,#fefeff 0.3145%,#f9faff 37.42%,#eff2fe 44.97%,#e4eafd 47.48%,#d9e0fc 48.74%,#cfd9fc 49.37%,#b3c2f9 50.63%,#b1c1f9 51.26%,#c9d3fa 51.89%,#e9e9f8 52.52%,#f8e8ec 53.14%,#f7dadc 53.77%,#f7d6d8 54.4%,#fae8e9 56.29%,#fcf1f2 60.06%,#fcf1f1 67.61%,#fae8e9 70.75%,#f7d8da 72.64%,#f8dedf 73.27%,#f8e9ec 73.9%,#ebeaf8 74.53%,#c4d0fa 75.16%,#a5b7f8 75.79%,#aebef9 76.42%,#c3cffb 77.04%,#d1dafc 77.67%,#e0e7fd 78.93%,#edf1fe 81.45%,#f8f9fe 88.36%,#fcfdff 99.69%)"></i><i style="background:linear-gradient(90deg,#fefeff 0.3145%,#f8faff 35.53%,#f0f3fe 43.08%,#e3e9fd 46.23%,#d9e0fc 47.48%,#d0d9fc 48.11%,#a9bbf9 50%,#bac8fa 50.63%,#d6ddfa 51.26%,#f0ebf5 51.89%,#f9e6e8 52.52%,#f7d6d8 53.14%,#f6d3d5 53.77%,#fae7e8 55.66%,#fcf0f1 59.43%,#fcefef 66.98%,#fae8e9 69.5%,#f7d8d9 71.38%,#f6d5d7 72.01%,#f9e0e1 72.64%,#f9edf0 73.27%,#e9eafa 73.9%,#c1cdfa 74.53%,#9eb1f8 75.16%,#a7b9f9 75.79%,#becbfa 76.42%,#cdd7fb 77.04%,#dde4fd 78.3%,#ebeffe 80.82%,#f6f8fe 87.11%,#fcfcff 99.69%)"></i><i style="background:linear-gradient(90deg,#fefeff 0.3145%,#f8f9fe 34.28%,#eef2fe 41.82%,#e2e8fd 44.97%,#d7e0fc 46.23%,#c3cffb 47.48%,#a7b9f9 48.74%,#aebef9 49.37%,#c6d1fa 50%,#e5e7fa 50.63%,#f6ecf1 51.26%,#f9e1e3 51.89%,#f6d2d4 52.52%,#f6d1d3 53.14%,#f9e0e1 54.4%,#fbebec 56.92%,#fceff0 63.21%,#fbeaeb 67.61%,#f8dfe1 69.5%,#f6d2d4 70.75%,#f6d5d7 71.38%,#faf0f3 72.64%,#eaecfb 73.27%,#98adf8 74.53%,#9cb0f8 75.16%,#b5c4fa 75.79%,#c7d2fb 76.42%,#d9e1fc 77.67%,#e9edfd 80.19%,#f5f7fe 85.85%,#fbfcff 99.69%)"></i><i style="background:linear-gradient(90deg,#fefeff 0.3145%,#f7f9fe 32.39%,#edf1fe 40.57%,#e0e6fd 43.71%,#d5defc 44.97%,#c1cdfa 46.23%,#a5b8f9 47.48%,#a5b8f9 48.11%,#bcc9fa 48.74%,#d8defb 49.37%,#f0edf7 50%,#f9ebed 50.63%,#f5ced0 51.89%,#f5ced0 52.52%,#f8dedf 53.77%,#fbe9ea 56.29%,#fbedee 62.58%,#fae6e8 66.98%,#f7dadb 68.87%,#f5ced0 70.13%,#f7d6d8 70.75%,#fbf2f4 72.01%,#edeffc 72.64%,#c8d4fb 73.27%,#98adf8 73.9%,#8ea5f7 74.53%,#a9baf9 75.16%,#becbfa 75.79%,#cbd5fb 76.42%,#dae2fc 77.67%,#e8edfd 80.19%,#f5f7fe 86.48%,#fbfcff 99.69%)"></i><i style="background:linear-gradient(90deg,#fdfeff 0.3145%,#f7f8fe 31.13%,#ebeffe 39.31%,#dde4fd 42.45%,#d2dbfc 43.71%,#bccafa 44.97%,#a2b5f8 46.23%,#a1b4f8 46.86%,#cdd6fa 48.11%,#ebecfa 48.74%,#f7eef3 49.37%,#fae6e7 50%,#f4c9cc 51.26%,#f4cbcd 51.89%,#f8dbdd 53.14%,#fae7e8 55.66%,#fbebec 61.32%,#fae5e6 65.72%,#f8dbdc 67.61%,#f5ccce 68.87%,#f5ccce 69.5%,#f7d6d8 70.13%,#fcf3f4 71.38%,#f2f3fc 72.01%,#d3dcfc 72.64%,#a6b8f9 73.27%,#809af6 73.9%,#96abf7 74.53%,#b1c1f9 75.16%,#c1cefb 75.79%,#d4ddfc 77.04%,#e5eafd 79.56%,#f2f4fe 84.59%,#fbfcff 99.69%)"></i><i style="background:linear-gradient(90deg,#fdfdff 0.3145%,#f6f8fe 29.25%,#eaeefd 37.42%,#dde4fd 40.57%,#ccd6fb 42.45%,#abbcf9 44.34%,#9bb0f8 44.97%,#a0b3f8 45.6%,#c9d3fa 46.86%,#e7e9fb 47.48%,#f4eff6 48.11%,#fbecee 48.74%,#f5d0d2 50%,#f3c5c7 50.63%,#f4c8cb 51.26%,#f7d9da 52.52%,#fae5e6 55.03%,#fae9ea 60.69%,#f9e1e3 65.09%,#f6d5d7 66.98%,#f3c6c9 68.24%,#f4cbce 68.87%,#fdf3f3 70.75%,#f9f8fc 71.38%,#e1e7fd 72.01%,#bccafa 72.64%,#8ba3f7 73.27%,#7994f5 73.9%,#9baff8 74.53%,#b2c2f9 75.16%,#c1cdfa 75.79%,#d2dbfc 77.04%,#e3e9fd 79.56%,#f0f3fe 84.59%,#fafbff 98.43%,#fafbff 99.69%)"></i><i style="background:linear-gradient(90deg,#fcfdff 0.3145%,#f5f7fe 27.36%,#e9edfd 35.53%,#dce3fc 38.68%,#ccd6fb 40.57%,#aebef9 42.45%,#95abf7 43.71%,#b5c4fa 44.97%,#cad4fa 45.6%,#e6e9fb 46.23%,#f3eff7 46.86%,#faeff1 47.48%,#fae6e7 48.11%,#f4c9cc 49.37%,#f2c0c3 50%,#f3c5c8 50.63%,#f7d6d8 51.89%,#f9e2e3 54.4%,#fae6e7 60.06%,#f9e0e1 63.84%,#f6d5d7 65.72%,#f3c6c8 66.98%,#f3c2c5 67.61%,#f4cbcd 68.24%,#fcf1f1 70.13%,#fefafb 70.75%,#eff2fe 71.38%,#d2dbfc 72.01%,#aebef9 72.64%,#7c97f6 73.27%,#738ff5 73.9%,#97acf7 74.53%,#aebff9 75.16%,#bdcafa 75.79%,#cfd9fc 77.04%,#e0e7fd 79.56%,#eff2fe 84.59%,#f9faff 97.8%,#f9fbff 99.69%)"></i><i style="background:linear-gradient(90deg,#fcfcff 0.3145%,#f3f6fe 25.47%,#e6ebfd 33.65%,#d9e1fc 36.79%,#c9d4fb 38.68%,#a2b4f8 41.19%,#93a9f7 41.82%,#9baff8 42.45%,#bac8fa 43.71%,#e9ecfb 44.97%,#faf0f2 46.23%,#f8dee0 47.48%,#f3c3c5 48.74%,#f1bcbf 49.37%,#f6d2d4 51.26%,#f8dee0 53.77%,#f9e3e4 58.81%,#f8dbdd 63.21%,#f5cfd1 65.09%,#f2bec1 66.35%,#f2c0c3 66.98%,#fbedee 69.5%,#fcfcfe 70.75%,#e7ecfd 71.38%,#cdd7fb 72.01%,#acbdf9 72.64%,#7d98f6 73.27%,#6786f4 73.9%,#89a1f6 74.53%,#a4b6f8 75.16%,#b5c4fa 75.79%,#c9d4fb 77.04%,#dce3fc 79.56%,#ecf0fe 84.59%,#f7f9fe 96.54%,#f8faff 99.69%)"></i><i style="background:linear-gradient(90deg,#fbfcff 0.3145%,#f2f5fe 22.96%,#e5eafd 31.13%,#d4ddfc 34.91%,#c1cefb 36.79%,#a9baf9 38.68%,#8fa6f7 39.94%,#9baff8 40.57%,#aabcf9 41.19%,#b5c4f9 41.82%,#c7d2fa 42.45%,#dfe4fb 43.08%,#efeffa 43.71%,#fbf0f2 44.97%,#f7d6d8 46.86%,#f1bcbf 48.11%,#f0b7ba 48.74%,#f5cfd1 50.63%,#f8dbdc 53.14%,#f8dfe0 58.18%,#f7d9da 61.95%,#f5ced0 63.84%,#f0b8bb 65.72%,#f2bec1 66.35%,#f9e1e2 68.24%,#fef9f9 70.13%,#fbfbfe 70.75%,#d1dafc 72.01%,#b6c4fa 72.64%,#90a6f7 73.27%,#6685f4 73.9%,#6e8cf5 74.53%,#8ba3f7 75.16%,#a3b6f8 75.79%,#b3c2f9 76.42%,#c6d1fb 77.67%,#d9e1fc 80.19%,#eaeefd 85.22%,#f6f8fe 96.54%,#f7f9fe 99.69%)"></i><i style="background:linear-gradient(90deg,#fafbff 0.3145%,#f0f3fe 20.44%,#e3e9fd 27.99%,#d4ddfc 31.76%,#c4d0fb 33.65%,#a9baf9 36.16%,#8ea5f7 37.42%,#93a9f7 38.05%,#a4b6f8 38.68%,#b6c5f9 39.94%,#dde3fb 41.19%,#edeefb 41.82%,#f9f1f4 43.08%,#fceff0 43.71%,#f7d8da 45.6%,#f0b4b8 47.48%,#efb2b6 48.11%,#f4cacd 50%,#f7d6d8 52.52%,#f8dadc 57.55%,#f6d3d5 61.32%,#f3c7c9 63.21%,#f0b6b9 64.47%,#efb3b6 65.09%,#f1bbbe 65.72%,#f6d3d5 66.98%,#fcf2f2 69.5%,#fdfcfe 70.75%,#eff2fe 71.38%,#c8d3fb 72.64%,#adbef9 73.27%,#89a1f6 73.9%,#6a89f4 74.53%,#6685f4 75.16%,#839cf6 75.79%,#a7b9f9 77.04%,#becbfa 78.3%,#d0d9fc 80.19%,#e1e7fd 83.96%,#eff2fe 91.51%,#f5f7fe 99.69%)"></i><i style="background:linear-gradient(90deg,#f8f9fe 0.3145%,#edf1fe 17.92%,#dee4fd 25.47%,#cfd9fc 28.62%,#b5c4fa 31.76%,#aabbf9 33.02%,#91a7f7 34.28%,#8ca3f7 34.91%,#a8baf9 36.16%,#b0c0f9 36.79%,#b4c3f9 37.42%,#c1cdfa 38.05%,#e5e9fb 39.31%,#efeffa 39.94%,#fcf0f1 41.82%,#f7d8d9 44.34%,#f3c5c8 45.6%,#eeacb0 46.86%,#eeadb0 47.48%,#f3c5c8 49.37%,#f6d1d3 51.89%,#f6d5d7 56.92%,#f5cdcf 60.69%,#f2bec1 62.58%,#eeadb1 63.84%,#efafb2 64.47%,#f5cfd2 66.35%,#fbeaeb 68.87%,#fefafa 70.75%,#f9f9fd 71.38%,#dee5fd 72.64%,#b7c6fa 73.9%,#7f99f6 75.16%,#6f8cf5 75.79%,#6382f4 76.42%,#829bf6 77.04%,#93a9f7 77.67%,#9aaff8 78.3%,#b4c3fa 79.56%,#c9d4fb 81.45%,#dde4fd 85.22%,#ecf0fe 92.77%,#f3f5fe 99.69%)"></i><i style="background:linear-gradient(90deg,#f4f6fe 0.3145%,#e7ecfd 15.41%,#d8e0fc 21.7%,#c7d2fb 24.84%,#bac8fa 26.73%,#b0c0f9 28.62%,#9eb2f8 29.87%,#91a7f7 30.5%,#8aa2f7 31.13%,#aebef9 33.02%,#bbc8f9 34.91%,#e8ebfb 36.79%,#f7f0f5 38.68%,#fceeef 39.94%,#f5ced0 43.71%,#f1bbbe 44.97%,#eca4a8 46.23%,#eda7ab 46.86%,#f1b9bc 48.11%,#f3c7c9 50%,#f5cfd1 53.77%,#f4cbce 58.18%,#f2c1c4 60.69%,#f0b5b8 61.95%,#eca4a9 63.21%,#eeaaae 63.84%,#f4cacc 65.72%,#fae7e8 68.87%,#fdf8f9 71.38%,#f5f6fd 72.64%,#ced8fb 74.53%,#bccafa 75.16%,#8ca3f7 76.42%,#8ba2f7 77.04%,#7b95f5 77.67%,#6282f4 78.3%,#7692f5 78.93%,#8fa6f7 79.56%,#9cb0f8 80.19%,#a3b5f8 80.82%,#a5b7f8 81.45%,#c4d0fb 83.96%,#d6defc 87.11%,#e6ebfd 93.4%,#eef2fe 99.69%)"></i><i style="background:linear-gradient(90deg,#eef1fe 0.3145%,#dfe6fd 11.64%,#cfd9fc 16.67%,#c1cefb 19.18%,#b9c7fa 22.33%,#a8b9f9 24.21%,#92a9f7 25.47%,#8ca3f7 26.1%,#93a9f7 26.73%,#aabbf9 27.99%,#b6c5f9 29.25%,#bcc8f9 31.13%,#e2e6fb 33.02%,#eeedf8 34.28%,#fbeff1 36.79%,#f6d4d6 41.19%,#f3c3c6 43.08%,#efb0b4 44.34%,#eca3a8 44.97%,#eb9b9f 45.6%,#eb9fa4 46.23%,#efb2b6 47.48%,#f2bfc2 49.37%,#f4c7c9 53.14%,#f3c3c6 57.55%,#f0b7bb 60.06%,#eda9ad 61.32%,#eca0a4 61.95%,#eb9ca1 62.58%,#eca4a8 63.21%,#f1bbbe 64.47%,#f6d4d6 66.98%,#fcf6f7 72.64%,#f2f3fc 74.53%,#d3dbfb 76.42%,#c5d0fa 77.04%,#9baff8 78.3%,#9cb0f8 79.56%,#95aaf7 80.19%,#849df6 80.82%,#6b89f4 81.45%,#6d8bf4 82.08%,#87a0f6 82.7%,#98adf8 83.33%,#aabbf9 84.59%,#b1c1f9 85.85%,#b2c2f9 87.11%,#c8d3fb 89.62%,#dae2fc 94.03%,#e6ebfd 99.69%)"></i><i style="background:linear-gradient(90deg,#dee5fd 0.3145%,#c9d4fb 8.491%,#c2cffb 12.89%,#b6c5fa 15.41%,#a3b6f8 17.3%,#92a8f7 18.55%,#90a7f7 19.18%,#b1c1f9 21.7%,#becaf9 23.58%,#c0cbf8 26.1%,#dee2fa 27.99%,#edeaf7 29.87%,#fbeced 33.65%,#f5ccce 39.94%,#f0b6ba 42.45%,#eca3a7 43.71%,#ea969b 44.34%,#e89196 44.97%,#ea979c 45.6%,#eda9ad 46.86%,#f0b6b9 48.74%,#f2bdc0 52.52%,#f1b9bc 56.92%,#eeacb0 59.43%,#e99398 61.32%,#e99398 61.95%,#efb3b6 63.84%,#f4cacc 66.35%,#fbebec 72.64%,#fcf2f3 74.53%,#efeffb 77.67%,#e1e5fb 78.93%,#ccd5fa 80.19%,#bdc9f9 80.82%,#aabaf8 81.45%,#a5b7f8 82.08%,#acbdf8 82.7%,#adbdf9 83.96%,#a1b4f8 85.22%,#95aaf7 85.85%,#708df5 87.11%,#7490f5 87.74%,#89a1f6 88.36%,#99aef8 88.99%,#abbcf9 90.25%,#bbc9fa 92.77%,#c1cdfa 95.91%,#bfccfa 97.17%,#cdd8fb 99.69%)"></i><i style="background:linear-gradient(90deg,#c6d1fb 0.3145%,#b2c2f9 4.088%,#96abf7 7.233%,#97acf7 7.862%,#bac6f8 11.64%,#c9d2f9 14.78%,#cbd3f8 17.3%,#c8d0f8 18.55%,#cbd2f8 19.18%,#dddff7 21.07%,#f0e8f1 24.84%,#fbe9ea 28.62%,#f4c7ca 37.42%,#efb3b7 40.57%,#eb9ea2 42.45%,#e6878c 43.71%,#e68489 44.34%,#eb9da2 46.23%,#eeabaf 48.74%,#efb0b4 53.14%,#eda9ad 56.92%,#eb9da1 58.81%,#e68489 60.69%,#e7888d 61.32%,#eda7ab 63.21%,#f1bcbf 65.72%,#f7d7d9 71.38%,#fbeef0 78.3%,#e5e6f9 83.96%,#d9def9 85.22%,#c1cbf8 86.48%,#b5c1f7 87.11%,#b3c0f7 87.74%,#bfcaf8 88.99%,#bfcaf9 90.88%,#b2c1f8 93.4%,#9eb1f7 95.28%,#7a94f5 97.17%,#8099f5 97.8%,#9baff8 99.06%,#a3b6f8 99.69%)"></i><i style="background:linear-gradient(90deg,#dbdef8 0.3145%,#dcdef7 4.088%,#ced0f2 7.233%,#d5d3f0 9.119%,#e9dfec 13.52%,#f9e3e5 20.44%,#f2c1c4 33.02%,#eda7ab 38.68%,#e99196 41.19%,#e27178 43.08%,#e27278 43.71%,#e78b91 45.6%,#ea999d 48.11%,#eb9da2 52.52%,#e9959a 56.29%,#e7888d 58.18%,#e3757c 59.43%,#e27077 60.06%,#e3777d 60.69%,#e88d93 61.95%,#eca1a5 63.84%,#f1b9bc 68.24%,#f7d8da 78.3%,#f9e6e8 85.22%,#e3ddf0 92.77%,#d4d4f2 95.28%,#c1c7f3 97.17%,#c4caf4 97.8%,#d1d6f6 99.06%,#d4d8f7 99.69%)"></i><i style="background:linear-gradient(90deg,#f0cdd3 0.3145%,#f5cdcf 5.346%,#eeabae 25.47%,#e88e93 35.53%,#e47a80 39.31%,#e0676e 41.19%,#db5159 42.45%,#dc535b 43.08%,#e16a71 44.97%,#e3767c 47.48%,#e47a80 51.89%,#e27379 55.66%,#e0676e 57.55%,#dc555c 58.81%,#db5159 59.43%,#e2737a 61.95%,#e7878d 65.09%,#eca5a9 73.9%,#f3c3c6 90.25%,#f5d0d3 99.69%)"></i><i style="background:linear-gradient(90deg,#e78b90 0.3145%,#e26f75 21.07%,#d94750 38.68%,#d6353e 42.45%,#d8424b 44.97%,#da4850 50.63%,#d8424b 55.66%,#d6363f 58.81%,#d63841 59.43%,#d9454d 61.32%,#dc545c 67.61%,#e27379 81.45%,#e78b90 99.69%)"></i><i style="background:linear-gradient(90deg,#efb2b6 0.3145%,#e99499 21.07%,#e3767c 33.02%,#df646b 37.42%,#dc545c 39.31%,#d9434c 40.57%,#d9444d 41.19%,#dc545c 42.45%,#de6067 44.97%,#df646b 50%,#de5c63 54.4%,#db4e56 56.29%,#d8424a 57.55%,#dd5b62 59.43%,#e16d73 62.58%,#e99297 76.42%,#efb0b3 95.91%,#edb2b7 99.69%)"></i><i style="background:linear-gradient(90deg,#ebe3f1 0.3145%,#e3dbed 2.83%,#f0e0e8 7.233%,#f7d8da 16.67%,#f1b9bc 29.25%,#eca1a6 34.91%,#e88f94 37.42%,#e57f85 38.68%,#e0686f 39.94%,#e0686f 40.57%,#e58287 42.45%,#e88f94 44.97%,#e99499 49.37%,#e78c91 53.14%,#e57e84 55.03%,#e16c72 56.29%,#e0666d 56.92%,#e16d74 57.55%,#e6848a 58.81%,#ea979c 60.69%,#efafb3 65.09%,#f4ccce 74.53%,#f6dadd 82.08%,#ebdce9 90.88%,#e9deec 93.4%,#eee6f1 96.54%,#e8e2f1 99.69%)"></i><i style="background:linear-gradient(90deg,#abbcf9 0.3145%,#97acf7 1.572%,#89a0f6 2.201%,#839bf5 2.83%,#a9b8f7 4.717%,#bfc9f7 6.604%,#d3d8f7 9.748%,#d8daf6 11.64%,#d9dbf6 12.89%,#edeaf6 14.78%,#f3edf5 16.04%,#f9e4e5 22.96%,#f3c5c8 31.76%,#efafb3 35.53%,#eb9da1 37.42%,#e57e84 39.31%,#e58187 39.94%,#e99499 41.19%,#eca2a6 43.08%,#eeaaae 46.86%,#eda6aa 51.26%,#ea9a9e 53.77%,#e78a90 55.03%,#e58086 55.66%,#e57e84 56.29%,#eb9da2 58.18%,#f0b4b8 60.69%,#f5d0d2 66.35%,#f8e3e5 72.64%,#eee8f4 79.56%,#e2e1f5 82.08%,#d5d9f6 85.85%,#c0c9f7 88.99%,#a0b1f6 92.14%,#9eb0f6 92.77%,#bdcafa 96.54%,#c8d3fb 99.69%)"></i><i style="background:linear-gradient(90deg,#bac8fa 0.3145%,#a4b7f8 2.201%,#a0b3f8 2.83%,#b1c1f9 5.346%,#b3c2f9 7.862%,#aabbf9 9.748%,#9cb0f8 11.01%,#8ea5f7 11.64%,#7b95f5 12.26%,#7994f5 12.89%,#a2b5f8 14.15%,#bac8fa 15.41%,#c6d0fa 16.67%,#c9d2f9 17.92%,#ced5f9 18.55%,#e8e9f9 20.44%,#f4f2f9 21.7%,#fbedee 25.47%,#f4cbcd 33.02%,#f1b8bb 35.53%,#eda9ad 36.79%,#e99398 38.05%,#e88d92 38.68%,#e99297 39.31%,#eda5a9 40.57%,#efb1b5 42.45%,#f1b9bc 46.23%,#f0b4b8 50.63%,#eda7ab 53.14%,#e88e93 55.03%,#e88e93 55.66%,#efaeb2 57.55%,#f3c5c8 60.06%,#fae5e6 66.35%,#f3eef6 71.38%,#e9e8f7 72.64%,#dcdff7 73.9%,#cbd3f9 77.04%,#b7c5f9 78.93%,#99aef8 80.82%,#99aef8 81.45%,#b2c2f9 83.96%,#bcc9fa 86.48%,#bac8fa 89.62%,#b2c2f9 92.77%,#cdd7fb 97.8%,#d3dcfc 99.69%)"></i><i style="background:linear-gradient(90deg,#e1e7fd 0.3145%,#d0d9fc 6.604%,#becbfa 9.748%,#b1c0f9 11.01%,#99aef8 12.26%,#94aaf7 12.89%,#a1b4f8 14.15%,#a2b5f8 15.41%,#97acf7 16.67%,#89a1f6 17.3%,#728ff5 17.92%,#738ff5 18.55%,#90a6f7 19.18%,#a4b7f8 19.81%,#b1c1f9 20.44%,#c0cdfa 21.7%,#dae0fb 22.96%,#f9f6fa 25.47%,#fceff0 27.99%,#f5ced0 33.65%,#f1bbbe 35.53%,#eb9b9f 37.42%,#ea999e 38.05%,#efb2b5 39.94%,#f2bfc2 42.45%,#f3c4c7 46.86%,#f1bdc0 50.63%,#efb1b5 52.52%,#ea989c 54.4%,#eb9ba0 55.03%,#f1bcbf 56.92%,#f6d3d5 59.43%,#fae9ea 63.21%,#f5f1f7 66.35%,#e9e9f9 67.61%,#d8ddf9 68.87%,#c3cefa 71.38%,#abbcf9 72.64%,#9cb0f8 73.27%,#92a8f7 73.9%,#97acf7 74.53%,#a8b9f9 75.79%,#b1c1f9 77.67%,#afbff9 79.56%,#aabbf9 80.82%,#b3c2f9 82.08%,#c7d3fb 84.59%,#dbe2fc 89.62%,#eaeffe 99.69%)"></i><i style="background:linear-gradient(90deg,#ecf0fe 0.3145%,#dde4fd 9.119%,#cbd6fb 13.52%,#b7c5fa 16.04%,#a2b5f8 17.3%,#90a7f7 17.92%,#8aa2f7 18.55%,#92a8f7 19.18%,#92a8f7 19.81%,#8ba3f7 20.44%,#7793f5 21.07%,#6887f4 21.7%,#869ff6 22.33%,#9eb2f8 22.96%,#aabcf9 23.58%,#cfd9fc 24.84%,#e8ecfc 26.1%,#f9f8fc 27.36%,#fcf2f2 29.25%,#f6d1d3 33.65%,#f1b8bb 35.53%,#eca2a6 36.79%,#eca4a8 37.42%,#f1bcbf 39.31%,#f4c8cb 41.82%,#f5ccce 46.23%,#f3c5c8 50%,#f1b9bc 51.89%,#eca0a5 53.77%,#eda6aa 54.4%,#f2bfc1 55.66%,#f6d5d6 57.55%,#faebed 60.69%,#f4f1f9 63.21%,#d6dcfa 65.09%,#c9d3fb 66.35%,#bfccfa 66.98%,#91a7f7 68.87%,#94aaf7 69.5%,#a6b8f9 70.75%,#aabcf9 72.01%,#a6b8f9 73.9%,#c2cefb 76.42%,#d4ddfc 79.56%,#e5eafd 85.85%,#f2f5fe 99.69%)"></i><i style="background:linear-gradient(90deg,#f1f4fe 0.3145%,#e4e9fd 11.01%,#d3dcfc 16.04%,#c1cefb 18.55%,#b1c1f9 19.81%,#a6b8f9 20.44%,#819bf6 21.7%,#849df6 22.33%,#7d97f6 22.96%,#6584f4 23.58%,#7a95f5 24.21%,#afbff9 25.47%,#c6d1fb 26.1%,#e7ecfd 27.36%,#fcfafc 28.62%,#fdf3f4 29.87%,#f7d8da 33.02%,#f4c8ca 34.28%,#efb0b4 35.53%,#eeaaad 36.16%,#eeaeb2 36.79%,#f2c0c3 38.05%,#f4ccce 39.94%,#f6d3d5 44.34%,#f5ced0 48.74%,#f3c5c8 50.63%,#f0b8bb 51.89%,#eeaeb1 52.52%,#eda8ac 53.14%,#efb0b4 53.77%,#f4c9cb 55.03%,#fae5e6 57.55%,#f7f3f7 60.06%,#f1f0fa 60.69%,#cfd8fb 62.58%,#c6d2fb 63.21%,#b8c6fa 63.84%,#92a8f7 65.09%,#93a9f7 65.72%,#9db1f8 66.35%,#a4b6f8 66.98%,#a4b6f8 68.24%,#a3b5f8 68.87%,#c3d0fb 71.38%,#d7dffc 74.53%,#e8edfd 80.82%,#f5f7fe 94.65%,#f7f8fe 99.69%)"></i><i style="background:linear-gradient(90deg,#f5f7fe 0.3145%,#e8edfd 12.26%,#dae1fc 17.3%,#cbd5fb 19.81%,#b6c5fa 21.7%,#aabbf9 22.33%,#99adf8 22.96%,#7e98f6 23.58%,#7591f5 24.21%,#6685f4 24.84%,#7793f5 25.47%,#9aaff8 26.1%,#b9c7fa 26.73%,#e3e8fd 27.99%,#f3f5fe 28.62%,#fdfcfd 29.25%,#f8dedf 32.39%,#f4cbce 33.65%,#f0b3b7 34.91%,#efb1b5 35.53%,#f4c8ca 37.42%,#f6d4d6 39.94%,#f7d9da 44.97%,#f6d1d3 48.74%,#f3c5c7 50.63%,#efb3b6 51.89%,#efafb3 52.52%,#f1b9bc 53.14%,#f6d2d4 54.4%,#fae9ea 56.29%,#f6f3f9 58.18%,#dee3fa 59.43%,#c4d0fb 60.69%,#b2c2f9 61.32%,#9bb0f8 61.95%,#91a7f7 62.58%,#a1b4f8 63.84%,#a1b4f8 65.09%,#a9baf9 65.72%,#becbfa 66.98%,#d0d9fc 68.87%,#e1e7fd 72.64%,#eff3fe 80.82%,#f9faff 99.69%)"></i><i style="background:linear-gradient(90deg,#f7f8fe 0.3145%,#ecf0fe 12.89%,#dde4fd 18.55%,#ced8fb 21.07%,#b8c6fa 22.96%,#abbcf9 23.58%,#99aef8 24.21%,#7b96f5 24.84%,#6786f4 25.47%,#6f8cf5 26.1%,#9aaef8 26.73%,#bbc9fa 27.36%,#d5ddfc 27.99%,#fbfcfe 29.25%,#fef9f9 29.87%,#f7d9db 32.39%,#f0b7ba 34.28%,#f1b9bc 34.91%,#f5cfd1 36.79%,#f7dadb 39.31%,#f8dddf 44.34%,#f7d6d8 48.11%,#f4c9cc 50%,#f0b7ba 51.26%,#f0b6b9 51.89%,#f7dadc 53.77%,#faebec 55.03%,#f8f3f8 56.29%,#ededfa 56.92%,#bccafa 58.81%,#a5b7f8 59.43%,#93a9f7 60.06%,#a0b4f8 61.32%,#a5b7f8 62.58%,#bdcafa 63.84%,#d1dafc 65.72%,#e3e9fd 69.5%,#f1f4fe 77.04%,#fafbff 97.8%,#fafbff 99.69%)"></i><i style="background:linear-gradient(90deg,#f8f9fe 0.3145%,#eef2fe 13.52%,#e0e6fd 19.18%,#d2dbfc 21.7%,#bccafa 23.58%,#b0c0f9 24.21%,#9eb1f8 24.84%,#6383f4 26.1%,#829cf6 26.73%,#aebff9 27.36%,#ced8fb 27.99%,#e7ecfd 28.62%,#fbfbfe 29.25%,#fdf7f8 29.87%,#f8dcdd 31.76%,#f3c2c5 33.02%,#f1bcbf 33.65%,#f2c0c3 34.28%,#f5d0d2 35.53%,#f8ddde 38.05%,#f9e2e3 43.08%,#f7dadc 47.48%,#f5cdcf 49.37%,#f1bbbe 50.63%,#f1bdc0 51.26%,#f9e2e4 53.14%,#f9f0f3 54.4%,#f4f2f9 55.03%,#d2dafb 56.29%,#becbfa 56.92%,#a5b7f8 57.55%,#95abf7 58.18%,#9db1f8 58.81%,#a3b6f8 60.06%,#bdcbfa 61.32%,#ced8fb 62.58%,#dee5fd 65.09%,#ecf0fe 70.13%,#f7f9fe 82.7%,#fbfcff 99.69%)"></i><i style="background:linear-gradient(90deg,#f9faff 0.3145%,#f0f3fe 14.15%,#e2e8fd 19.81%,#d3dcfc 22.33%,#c5d1fb 23.58%,#bbc9fa 24.21%,#acbdf9 24.84%,#94aaf7 25.47%,#6f8cf5 26.1%,#7b96f5 26.73%,#acbdf9 27.36%,#cfd9fc 27.99%,#ebeffe 28.62%,#fdfbfc 29.25%,#f8dddf 31.13%,#f3c3c6 32.39%,#f2c2c4 33.02%,#f7d6d8 34.91%,#f9e1e3 37.42%,#fae5e6 43.08%,#f8dddf 46.86%,#f5d0d3 48.74%,#f2bfc2 50%,#f3c3c5 50.63%,#f8dfe0 51.89%,#fae9eb 52.52%,#f8f0f3 53.14%,#f2f1f9 53.77%,#cad5fb 55.03%,#9aaef8 56.29%,#a7b9f9 58.18%,#c2cefb 59.43%,#d7dffc 61.32%,#e6ebfd 64.47%,#f3f6fe 72.01%,#fcfcff 94.65%,#fcfdff 99.69%)"></i><i style="background:linear-gradient(90deg,#fafbff 0.3145%,#f1f4fe 14.78%,#e5eafd 19.81%,#d7dffc 22.33%,#cad5fb 23.58%,#c0cdfa 24.21%,#b1c1f9 24.84%,#9aaff8 25.47%,#7793f5 26.1%,#849df6 26.73%,#b6c5fa 27.36%,#dae2fc 27.99%,#f5f6fd 28.62%,#fdf6f7 29.25%,#f5cfd2 31.13%,#f3c6c8 31.76%,#f4c8ca 32.39%,#f8dcdd 34.28%,#fae6e7 37.42%,#fae7e8 43.08%,#f8dedf 46.86%,#f6d3d5 48.11%,#f3c3c6 49.37%,#f4c8cb 50%,#fae6e7 51.26%,#f9eef1 51.89%,#f2f0f9 52.52%,#c7d2fb 53.77%,#a9bbf9 54.4%,#9cb0f8 55.03%,#a6b8f9 56.29%,#c2cffb 57.55%,#d3dcfc 58.81%,#e3e9fd 61.32%,#f1f4fe 66.98%,#fafbff 82.7%,#fdfdff 99.69%)"></i><i style="background:linear-gradient(90deg,#fbfbff 0.3145%,#f2f5fe 14.78%,#e7ecfd 19.81%,#d9e1fc 22.33%,#ccd6fb 23.58%,#c1cefb 24.21%,#b2c1f9 24.84%,#7d97f6 26.1%,#9baff8 26.73%,#cad5fb 27.36%,#eceffd 27.99%,#fcf6f8 28.62%,#f8ddde 29.87%,#f5cfd1 30.5%,#f4cacc 31.13%,#f5ced0 31.76%,#f8dcde 33.02%,#fae7e8 35.53%,#fbebeb 41.19%,#f9e3e4 45.6%,#f7d6d8 47.48%,#f4c7c9 48.74%,#f5ced0 49.37%,#f9eaed 50.63%,#f5f0f7 51.26%,#e0e4fa 51.89%,#c8d3fb 52.52%,#a9bbf9 53.14%,#a1b4f8 53.77%,#a5b7f8 54.4%,#aebef9 55.03%,#becbfa 55.66%,#d2dbfc 56.92%,#e1e7fd 58.81%,#eff2fe 63.21%,#f9faff 74.53%,#fdfeff 99.69%)"></i><i style="background:linear-gradient(90deg,#fbfcff 0.3145%,#f2f5fe 15.41%,#e6ebfd 20.44%,#dae2fc 22.33%,#ccd6fb 23.58%,#bfccfa 24.21%,#adbdf9 24.84%,#90a7f7 25.47%,#8da4f7 26.1%,#bbc9fa 26.73%,#e4e9fc 27.36%,#faf5f8 27.99%,#fbebec 28.62%,#f5cfd1 29.87%,#f5ced1 30.5%,#f9e1e2 32.39%,#fbebec 35.53%,#fbeced 41.82%,#f9e3e4 45.6%,#f7d9da 46.86%,#f4cbcd 48.11%,#f6d4d5 48.74%,#f9e4e5 49.37%,#f7eef3 50%,#e8e9f9 50.63%,#ced8fb 51.26%,#aebff9 51.89%,#a4b6f8 52.52%,#a8baf9 53.14%,#b4c3fa 53.77%,#c4d0fb 54.4%,#d6defc 55.66%,#e7ecfd 58.18%,#f3f6fe 63.84%,#fcfcff 81.45%,#fdfeff 99.69%)"></i><i style="background:linear-gradient(90deg,#fbfcff 0.3145%,#f3f5fe 15.41%,#e6ebfd 20.44%,#dae1fc 22.33%,#c9d4fb 23.58%,#b9c7fa 24.21%,#a1b4f8 24.84%,#91a7f7 25.47%,#b1c1f9 26.1%,#dfe4fc 26.73%,#f7f3f7 27.36%,#fbe9ea 27.99%,#f7d9db 28.62%,#f6d1d3 29.25%,#f6d3d5 29.87%,#fae5e6 31.76%,#fbeeef 35.53%,#fbeced 42.45%,#fae5e6 44.97%,#f8dbdd 46.23%,#f6d3d5 46.86%,#f5ced0 47.48%,#f7d9db 48.11%,#f8e8eb 48.74%,#f1eef7 49.37%,#d8defa 50%,#b9c7fa 50.63%,#a7b9f9 51.26%,#abbcf9 51.89%,#b6c5fa 52.52%,#c6d2fb 53.14%,#d9e1fc 54.4%,#e9edfd 56.92%,#f5f7fe 62.58%,#fcfdff 81.45%,#fefeff 99.69%)"></i><i style="background:linear-gradient(90deg,#fcfcff 0.3145%,#f4f6fe 15.41%,#e9edfd 19.81%,#dee5fd 21.7%,#cfd9fc 22.96%,#c1cefb 23.58%,#99aef8 24.84%,#afbff9 25.47%,#dde2fb 26.1%,#f6f0f5 26.73%,#fae7e8 27.36%,#f7d8d9 27.99%,#f6d5d7 28.62%,#fae8e9 31.13%,#fcf0f1 35.53%,#fbedee 42.45%,#f9e3e4 44.97%,#f6d5d7 46.23%,#f6d2d4 46.86%,#f8dedf 47.48%,#f7ebef 48.11%,#e6e7f9 48.74%,#adbef9 50%,#adbef9 50.63%,#b6c5fa 51.26%,#c7d2fb 51.89%,#dae2fc 53.14%,#eaeefd 55.66%,#f5f7fe 61.32%,#fdfdff 81.45%,#fefeff 99.69%)"></i><i style="background:linear-gradient(90deg,#fcfdff 0.3145%,#f4f6fe 15.41%,#e9edfd 19.81%,#dbe3fc 21.7%,#d3dcfc 22.33%,#c7d3fb 22.96%,#a2b5f8 24.21%,#b2c2f9 24.84%,#dee3fb 25.47%,#f6edf3 26.1%,#f9e3e5 26.73%,#f7d8da 27.36%,#f7d9da 27.99%,#fae9ea 29.87%,#fcf1f2 33.65%,#fcf0f0 41.19%,#fae9ea 43.71%,#f8dfe1 44.97%,#f7d7d9 45.6%,#f6d5d7 46.23%,#f8e1e4 46.86%,#f4edf4 47.48%,#dadffa 48.11%,#bac8fa 48.74%,#afc0f9 49.37%,#b5c4fa 50%,#d2dcfc 51.26%,#e1e7fd 52.52%,#eff2fe 55.66%,#f9faff 63.84%,#fefeff 99.69%)"></i><i style="background:linear-gradient(90deg,#fcfdff 0.3145%,#f5f7fe 14.78%,#ebeffe 19.18%,#dee5fd 21.07%,#cbd6fb 22.33%,#a9baf9 23.58%,#b8c6f9 24.21%,#e2e5f9 24.84%,#f7ebf0 25.47%,#f9e0e1 26.1%,#f8dbdc 26.73%,#f8dddf 27.36%,#fbeced 29.25%,#fdf3f4 34.28%,#fcf0f1 41.19%,#fae7e8 43.71%,#f7d9db 44.97%,#f7d9db 45.6%,#f7e4e8 46.23%,#edeaf6 46.86%,#cfd7fa 47.48%,#b4c4fa 48.11%,#b5c4fa 48.74%,#d1dafc 50%,#e1e7fd 51.26%,#eef1fe 53.77%,#f8faff 60.69%,#fefeff 93.4%,#fefeff 99.69%)"></i><i style="background:linear-gradient(90deg,#fcfdff 0.3145%,#f5f7fe 14.78%,#e9eefd 19.18%,#d9e1fc 21.07%,#ced8fb 21.7%,#afbff9 22.96%,#c1cdfa 23.58%,#e7e6f7 24.21%,#f8e9ec 24.84%,#f8dfe0 25.47%,#f8dedf 26.1%,#fbeced 27.99%,#fdf4f5 32.39%,#fcf1f2 40.57%,#fae9ea 43.08%,#f8dcdd 44.34%,#f8dcde 44.97%,#f6e7eb 45.6%,#e5e6f8 46.23%,#c4d0fa 46.86%,#b7c5fa 47.48%,#bdcafa 48.11%,#cdd7fb 48.74%,#d9e1fc 49.37%,#e9eefd 51.26%,#f5f7fe 55.66%,#fcfdff 70.75%,#fefeff 99.69%)"></i><i style="background:linear-gradient(90deg,#fcfdff 0.3145%,#f5f7fe 14.78%,#ebeffe 18.55%,#dbe2fc 20.44%,#d0d9fc 21.07%,#c0cdfa 21.7%,#b6c4fa 22.33%,#cad3f9 22.96%,#ece8f5 23.58%,#f9e6e8 24.21%,#f9e0e1 24.84%,#f9e1e3 25.47%,#fcefef 27.36%,#fdf6f6 32.39%,#fcf3f3 39.94%,#fbeaeb 42.45%,#f8dedf 43.71%,#f8dfe1 44.34%,#f5e9ef 44.97%,#dde0f9 45.6%,#c0ccfa 46.23%,#bbc9fa 46.86%,#d6defc 48.11%,#e5eafd 49.37%,#f0f3fe 51.89%,#fafbff 59.43%,#fefeff 99.69%)"></i><i style="background:linear-gradient(90deg,#fdfdff 0.3145%,#f6f8fe 14.15%,#ecf0fe 17.92%,#e3e9fd 19.18%,#dce3fc 19.81%,#c2cefb 21.07%,#bcc9fa 21.7%,#d7dcf9 22.33%,#efe7f1 22.96%,#fae5e6 23.58%,#f9e2e3 24.21%,#fcf1f2 26.73%,#fdf7f7 33.02%,#fcf3f3 39.94%,#fbecec 41.82%,#f9e0e1 43.08%,#f8e1e3 43.71%,#f3eaf2 44.34%,#d6dcf9 44.97%,#bfccfa 45.6%,#c1cefb 46.23%,#dce3fc 47.48%,#e8edfd 48.74%,#f4f6fe 51.89%,#fcfcff 62.58%,#feffff 99.69%)"></i><i style="background:linear-gradient(90deg,#fdfdff 0.3145%,#f6f8fe 13.52%,#edf0fe 17.3%,#e4eafd 18.55%,#dce3fc 19.18%,#c4d0fb 20.44%,#c4cffa 21.07%,#e1e2f8 21.7%,#f4e7ed 22.33%,#fae5e6 22.96%,#fae5e6 23.58%,#fcf1f2 25.47%,#fdf7f8 31.13%,#fdf4f4 39.31%,#fbedee 41.19%,#f9e2e3 42.45%,#f8e3e6 43.08%,#efe9f3 43.71%,#d1d9fa 44.34%,#c2cefb 44.97%,#c8d3fb 45.6%,#d7dffc 46.23%,#e7ecfd 47.48%,#f2f5fe 50%,#fbfcff 58.18%,#feffff 99.69%)"></i><i style="background:linear-gradient(90deg,#fdfdff 0.3145%,#f6f8fe 13.52%,#edf1fe 16.67%,#e4eafd 17.92%,#dce3fc 18.55%,#c6d2fb 19.81%,#cfd7f9 20.44%,#e9e6f5 21.07%,#f8e7ea 21.7%,#fae6e7 22.33%,#fdf3f4 24.84%,#fef8f9 32.39%,#fdf3f4 39.31%,#fbe9ea 41.19%,#f9e3e5 41.82%,#f8e5e8 42.45%,#ece9f5 43.08%,#ced7fa 43.71%,#c5d1fb 44.34%,#dde4fd 45.6%,#eaeefd 46.86%,#f5f7fe 50%,#fcfdff 61.32%,#fff 99.69%)"></i><i style="background:linear-gradient(90deg,#fdfdff 0.3145%,#f6f8fe 12.89%,#eef1fe 16.04%,#e4eafd 17.3%,#c9d3fa 19.18%,#dee2fa 19.81%,#eee5f0 20.44%,#fbeaeb 21.07%,#fae8e9 21.7%,#fdf3f4 23.58%,#fef9f9 30.5%,#fdf4f5 38.68%,#fbebec 40.57%,#fae5e6 41.19%,#f7e6ea 41.82%,#eae8f7 42.45%,#ced8fb 43.08%,#c9d4fb 43.71%,#e1e7fd 44.97%,#eff2fe 46.86%,#f9faff 51.89%,#fefeff 79.56%,#fff 99.69%)"></i><i style="background:linear-gradient(90deg,#fdfdff 0.3145%,#f7f8fe 12.26%,#eef1fe 15.41%,#e4eafd 16.67%,#d1dafc 17.92%,#cfd7fa 18.55%,#e7e6f7 19.18%,#f5e9ee 19.81%,#fbeaeb 20.44%,#fdf6f7 23.58%,#fef9f9 33.65%,#fdf3f4 38.68%,#fae7e8 40.57%,#f7e8ec 41.19%,#e7e6f7 41.82%,#d0d9fc 42.45%,#cdd8fb 43.08%,#e4eafd 44.34%,#f1f4fe 46.23%,#fafbff 51.89%,#fff 90.25%,#fff 99.69%)"></i><i style="background:linear-gradient(90deg,#fdfdff 0.3145%,#f6f8fe 12.26%,#eef1fe 14.78%,#e3e9fd 16.04%,#d1dafb 17.3%,#dbe0fa 17.92%,#faecee 19.18%,#fbebec 19.81%,#fdf6f7 22.33%,#fefafa 32.39%,#fdf4f5 38.05%,#fae9ea 39.94%,#f7e9ed 40.57%,#e4e5f8 41.19%,#d1dafc 41.82%,#d2dbfc 42.45%,#dfe5fd 43.08%,#ecf0fe 44.34%,#f7f8fe 47.48%,#fdfdff 60.69%,#fff 99.69%)"></i><i style="background:linear-gradient(90deg,#fdfdff 0.3145%,#f6f8fe 11.64%,#eef1fe 14.15%,#e2e8fd 15.41%,#d3dbfa 16.67%,#e7e8f9 17.3%,#f2e8f0 17.92%,#fbedee 18.55%,#fdf7f8 21.7%,#fefafa 33.65%,#fcf3f3 38.05%,#fbeaeb 39.31%,#f7ebef 39.94%,#e3e4f8 40.57%,#d3dcfc 41.19%,#d6dffc 41.82%,#e2e8fd 42.45%,#eef2fe 43.71%,#f8faff 47.48%,#fefeff 66.35%,#fff 99.69%)"></i><i style="background:linear-gradient(90deg,#fdfdff 0.3145%,#f6f8fe 11.01%,#eef1fe 13.52%,#d9e1fc 15.41%,#dce1fa 16.04%,#ede8f5 16.67%,#f9edf0 17.3%,#fceeef 17.92%,#fdf8f8 20.44%,#fefafb 32.39%,#fdf6f6 36.79%,#fbecec 38.68%,#f7ecf0 39.31%,#e2e4f8 39.94%,#d5ddfc 40.57%,#dae2fc 41.19%,#e5eafd 41.82%,#f0f3fe 43.08%,#f9faff 46.86%,#fefeff 68.24%,#fff 99.69%)"></i><i style="background:linear-gradient(90deg,#fdfdff 0.3145%,#f7f8fe 10.38%,#edf1fe 12.89%,#d9e0fb 14.78%,#e8eafa 15.41%,#f1e9f2 16.04%,#fcf0f1 16.67%,#fef9fa 20.44%,#fefafa 33.65%,#fdf4f5 36.79%,#fbedee 38.05%,#f7edf1 38.68%,#e2e5f9 39.31%,#d7dffc 39.94%,#edf1fe 41.82%,#f8f9fe 44.97%,#fefeff 60.06%,#fff 99.69%)"></i><i style="background:linear-gradient(90deg,#fdfdff 0.3145%,#f7f8fe 9.748%,#ecf0fe 12.26%,#dfe5fc 13.52%,#dee3fb 14.15%,#efebf6 14.78%,#f8eff2 15.41%,#fcf0f1 16.04%,#fef9f9 18.55%,#fefbfb 31.76%,#fdf5f6 36.16%,#fceeef 37.42%,#f8eef2 38.05%,#e3e6f9 38.68%,#d9e1fc 39.31%,#eff2fe 41.19%,#f8faff 44.34%,#fefeff 61.32%,#fff 99.69%)"></i><i style="background:linear-gradient(90deg,#fdfdff 0.3145%,#f7f8fe 9.119%,#f0f3fe 11.01%,#dee4fc 12.89%,#eaecfb 13.52%,#f1eaf3 14.15%,#fcf2f3 14.78%,#fefbfb 19.18%,#fefafa 33.65%,#fdf3f3 36.16%,#fceff0 36.79%,#f8eff3 37.42%,#e4e7fa 38.05%,#dbe3fc 38.68%,#ebeffe 39.94%,#f5f7fe 41.82%,#fcfdff 49.37%,#fff 99.69%)"></i><i style="background:linear-gradient(90deg,#fdfdff 0.3145%,#f7f8fe 8.491%,#eff2fe 10.38%,#e4e9fd 11.64%,#e2e6fb 12.26%,#f1eef7 12.89%,#fcf2f3 14.15%,#fefafa 17.3%,#fefbfb 32.39%,#fdf4f4 35.53%,#fcf0f1 36.16%,#f9f0f4 36.79%,#e6e8fa 37.42%,#dee4fd 38.05%,#edf0fe 39.31%,#f7f9fe 41.82%,#fdfeff 53.77%,#fff 99.69%)"></i><i style="background:linear-gradient(90deg,#fdfdff 0.3145%,#f6f8fe 7.862%,#edf1fe 9.748%,#e3e8fc 11.01%,#edeefb 11.64%,#f3ecf4 12.26%,#fdf4f4 12.89%,#fefbfc 17.92%,#fefafa 33.02%,#fcf1f2 35.53%,#f9f1f4 36.16%,#e7e9fa 36.79%,#e0e6fd 37.42%,#eef1fe 38.68%,#f8f9fe 41.19%,#fefeff 54.4%,#fff 99.69%)"></i><i style="background:linear-gradient(90deg,#fdfdff 0.3145%,#f6f8fe 7.233%,#ecf0fe 9.119%,#e5e9fc 10.38%,#f3eff8 11.01%,#fdf4f4 12.26%,#fefbfc 16.04%,#fefafa 32.39%,#fcf2f3 34.91%,#f9f1f5 35.53%,#e8eafa 36.16%,#e1e7fd 36.79%,#eff2fe 38.05%,#f8faff 40.57%,#fefeff 55.03%,#fff 99.69%)"></i><i style="background:linear-gradient(90deg,#fcfdff 0.3145%,#f6f8fe 6.604%,#e6eafc 9.119%,#eff0fb 9.748%,#f4eff6 10.38%,#fdf5f6 11.01%,#fefcfc 16.04%,#fefafb 31.76%,#fdf3f4 34.28%,#faf2f5 34.91%,#eaecfb 35.53%,#e3e9fd 36.16%,#f4f6fe 38.05%,#fbfcff 42.45%,#fff 99.69%)"></i><i style="background:linear-gradient(90deg,#fcfdff 0.3145%,#f5f7fe 5.975%,#e9ecfc 8.491%,#f4f1f8 9.119%,#fdf5f6 10.38%,#fefcfc 14.15%,#fefbfb 31.13%,#faf3f5 34.28%,#ebedfb 34.91%,#e5eafd 35.53%,#f4f7fe 37.42%,#fcfcff 42.45%,#fff 99.69%)"></i><i style="background:linear-gradient(90deg,#fcfdff 0.3145%,#f5f7fe 5.346%,#e9edfc 7.233%,#f2f2fb 7.862%,#f6f1f7 8.491%,#fdf6f7 9.119%,#fffdfd 14.78%,#fefafb 31.13%,#faf3f6 33.65%,#edeefb 34.28%,#e6ebfd 34.91%,#f5f7fe 36.79%,#fcfdff 41.82%,#fff 99.69%)"></i><i style="background:linear-gradient(90deg,#fcfcff 0.3145%,#f6f8fe 4.088%,#edf0fd 5.975%,#eceffc 6.604%,#fbf6f8 7.862%,#fefcfc 12.26%,#fefbfb 30.5%,#fbf4f6 33.02%,#efeffb 33.65%,#e8edfd 34.28%,#f6f8fe 36.16%,#fcfdff 41.82%,#fff 99.69%)"></i><i style="background:linear-gradient(90deg,#fbfcff 0.3145%,#f6f8fe 3.459%,#ebeefd 5.346%,#f4f4fb 5.975%,#f7f3f8 6.604%,#fdf7f8 7.233%,#fffdfd 12.89%,#fefbfb 29.87%,#fbf4f6 32.39%,#f0f1fb 33.02%,#e9eefd 33.65%,#f6f8fe 35.53%,#fdfdff 41.82%,#fff 99.69%)"></i><i style="background:linear-gradient(90deg,#fbfcff 0.3145%,#f5f7fe 2.83%,#eff2fd 4.088%,#f0f2fd 4.717%,#f6f3f9 5.346%,#fcf7f9 5.975%,#fffdfd 11.64%,#fefbfb 29.87%,#fcf5f7 31.76%,#ebeffe 33.02%,#f7f8fe 34.91%,#fdfdff 41.19%,#fff 99.69%)"></i><i style="background:linear-gradient(90deg,#fafbff 0.3145%,#eef0fd 3.459%,#f7f6fb 4.088%,#fef8f8 5.346%,#fffdfd 11.64%,#fefbfb 29.25%,#fcf6f7 31.13%,#ecf0fe 32.39%,#f9faff 34.91%,#fefeff 46.23%,#fff 99.69%)"></i><i style="background:linear-gradient(90deg,#f8f9fe 0.3145%,#f0f3fd 2.201%,#f4f5fd 2.83%,#f7f4f9 3.459%,#fdf9f9 4.088%,#fffefe 12.89%,#fefbfb 28.62%,#fcf6f7 30.5%,#eef1fe 31.76%,#f9faff 34.28%,#fefeff 46.23%,#fff 99.69%)"></i><i style="background:linear-gradient(90deg,#f5f7fe 0.3145%,#f0f2fd 1.572%,#f8f7fb 2.201%,#fefafa 4.088%,#fffefe 17.92%,#fefafb 28.62%,#fcf7f8 29.87%,#eff2fe 31.13%,#fafbff 34.28%,#fff 55.66%,#fff 99.69%)"></i><i style="background:linear-gradient(90deg,#f1f3fd 0.3145%,#f8f5fa 1.572%,#fefafa 2.201%,#fffefe 13.52%,#fefbfb 27.99%,#fdf7f8 29.25%,#f0f3fe 30.5%,#fafbff 33.65%,#fff 56.92%,#fff 99.69%)"></i><i style="background:linear-gradient(90deg,#f9f7fb 0.3145%,#fefbfb 2.201%,#fffefe 21.7%,#fefafa 27.99%,#fdf8f8 28.62%,#f0f3fe 29.87%,#fbfcff 33.02%,#fff 58.81%,#fff 99.69%)"></i><i style="background:linear-gradient(90deg,#fefafa 0.3145%,#fffefe 11.64%,#fefbfc 26.73%,#fdf8f9 27.99%,#f1f3fd 29.25%,#fbfcff 32.39%,#fff 60.06%,#fff 99.69%)"></i><i style="background:linear-gradient(90deg,#fefcfc 0.3145%,#fffdfd 24.21%,#fef9f9 27.36%,#faf8fb 27.99%,#f2f4fd 28.62%,#f2f5fe 29.25%,#fafbff 31.13%,#feffff 47.48%,#fff 99.69%)"></i><i style="background:linear-gradient(90deg,#fffdfd 0.3145%,#fefcfc 25.47%,#fcf9fb 27.36%,#f3f5fd 27.99%,#f3f5fe 28.62%,#fafbff 30.5%,#fff 48.11%,#fff 99.69%)"></i><i style="background:linear-gradient(90deg,#fffdfd 0.3145%,#fefcfc 24.84%,#fdfafb 26.73%,#f4f6fd 27.36%,#f3f5fe 27.99%,#fbfcff 30.5%,#fff 66.35%,#fff 99.69%)"></i><i style="background:linear-gradient(90deg,#fffefe 0.3145%,#fefcfd 24.21%,#fdfafb 26.1%,#f5f6fd 26.73%,#f3f6fe 27.36%,#fbfcff 29.87%,#fff 68.87%,#fff 99.69%)"></i><i style="background:linear-gradient(90deg,#fffefe 0.3145%,#fefcfc 24.21%,#fdfafb 25.47%,#f4f6fe 26.73%,#fcfcff 29.25%,#fff 72.01%,#fff 99.69%)"></i><i style="background:linear-gradient(90deg,#fffefe 0.3145%,#fefcfc 23.58%,#fdfafb 24.84%,#f4f6fe 26.1%,#fcfdff 29.25%,#fff 99.69%)"></i><i style="background:linear-gradient(90deg,#fffefe 0.3145%,#fefcfc 22.96%,#fdfafb 24.21%,#f5f7fe 25.47%,#fcfdff 28.62%,#fff 99.69%)"></i><i style="background:linear-gradient(90deg,#fffefe 0.3145%,#fefdfd 22.33%,#fefafb 23.58%,#f6f8fe 24.84%,#fdfdff 28.62%,#fff 99.69%)"></i><i style="background:linear-gradient(90deg,#fffefe 0.3145%,#fefcfc 22.33%,#fafafd 23.58%,#f6f8fe 24.21%,#fdfeff 28.62%,#fff 99.69%)"></i><i style="background:linear-gradient(90deg,#fffefe 0.3145%,#fefcfc 21.7%,#fbfafd 22.96%,#f7f8fe 23.58%,#fdfeff 28.62%,#fff 99.69%)"></i><i style="background:linear-gradient(90deg,#fff 0.3145%,#fefcfc 21.07%,#fcfbfd 22.33%,#f7f8fe 22.96%,#fefeff 27.99%,#fff 99.69%)"></i><i style="background:linear-gradient(90deg,#fff 0.3145%,#fefcfc 21.07%,#f8f9fe 22.33%,#fefeff 27.99%,#fff 99.69%)"></i><i style="background:linear-gradient(90deg,#fff 0.3145%,#fdfcfd 21.07%,#f8f9fe 21.7%,#fefeff 29.25%,#fff 99.69%)"></i><i style="background:linear-gradient(90deg,#fff 0.3145%,#fefcfc 20.44%,#f8f9fe 21.7%,#fefeff 26.1%,#fff 99.69%)"></i><i style="background:linear-gradient(90deg,#fff 0.3145%,#fefcfc 19.81%,#f8f9fe 21.07%,#fefeff 25.47%,#fff 99.69%)"></i><i style="background:linear-gradient(90deg,#fff 0.3145%,#fefcfc 19.18%,#f8faff 20.44%,#fefeff 25.47%,#fff 99.69%)"></i><i style="background:linear-gradient(90deg,#fff 0.3145%,#fefcfc 18.55%,#f9faff 19.81%,#fefeff 25.47%,#fff 99.69%)"></i><i style="background:linear-gradient(90deg,#fff 0.3145%,#fefcfc 17.92%,#f9faff 19.18%,#fefeff 26.1%,#fff 99.69%)"></i><i style="background:linear-gradient(90deg,#fff 0.3145%,#fefcfd 17.3%,#fafbff 19.18%,#feffff 26.73%,#fff 99.69%)"></i><i style="background:linear-gradient(90deg,#fff 0.3145%,#fdfcfd 17.3%,#fafbff 18.55%,#fefeff 25.47%,#fff 99.69%)"></i><i style="background:linear-gradient(90deg,#fff 0.3145%,#fefdfd 16.67%,#fafbff 17.92%,#fefeff 24.84%,#fff 99.69%)"></i><i style="background:linear-gradient(90deg,#fff 0.3145%,#fefdfd 16.04%,#fafbff 17.3%,#feffff 24.21%,#fff 99.69%)"></i><i style="background:linear-gradient(90deg,#fff 0.3145%,#fefdfd 15.41%,#fafbff 16.67%,#feffff 24.21%,#fff 99.69%)"></i><i style="background:linear-gradient(90deg,#fff 0.3145%,#fefdfd 14.78%,#fafbff 16.04%,#fff 24.21%,#fff 99.69%)"></i><i style="background:linear-gradient(90deg,#fff 0.3145%,#fdfcfe 14.78%,#fbfcff 16.04%,#fff 34.28%,#fff 99.69%)"></i><i style="background:linear-gradient(90deg,#fff 0.3145%,#fdfcfe 14.15%,#fdfdff 16.04%,#fff 99.69%)"></i><i style="background:linear-gradient(90deg,#fff 0.3145%,#fdfdfe 13.52%,#fdfdff 15.41%,#fff 99.69%)"></i><i style="background:linear-gradient(90deg,#fff 0.3145%,#fefdfe 12.89%,#fbfcff 14.15%,#fff 29.25%,#fff 99.69%)"></i><i style="background:linear-gradient(90deg,#fff 0.3145%,#fefdfe 12.26%,#fbfcff 13.52%,#fff 27.36%,#fff 99.69%)"></i><i style="background:linear-gradient(90deg,#fff 0.3145%,#fefdfe 11.64%,#fcfdff 13.52%,#fff 99.69%)"></i><i style="background:linear-gradient(90deg,#fff 0.3145%,#fefdfe 11.01%,#fcfdff 12.89%,#fff 91.51%,#fff 99.69%)"></i><i style="background:linear-gradient(90deg,#fff 0.3145%,#fdfdfe 11.01%,#fff 99.69%)"></i><i style="background:linear-gradient(90deg,#fff 0.3145%,#fdfdfe 10.38%,#fff 99.69%)"></i></div>
<div class="h" style="left:458px;top:42px;width:159px;height:159px"><i style="background:linear-gradient(90deg,#fff 0.3145%,#fcfdff 87.11%,#f8faff 88.99%,#fffdfd 91.51%,#fff 99.69%)"></i><i style="background:linear-gradient(90deg,#fff 0.3145%,#fcfdff 86.48%,#f9fafe 88.99%,#fefcfc 90.25%,#fff 99.69%)"></i><i style="background:linear-gradient(90deg,#fff 0.3145%,#fcfdff 85.85%,#f8f9fe 88.36%,#fefcfc 89.62%,#fff 99.69%)"></i><i style="background:linear-gradient(90deg,#fff 0.3145%,#fcfdff 85.22%,#f7f9fe 87.74%,#fefcfc 88.99%,#fff 99.69%)"></i><i style="background:linear-gradient(90deg,#fff 0.3145%,#fcfdff 84.59%,#f7f8fe 87.11%,#fefcfc 88.36%,#fff 99.69%)"></i><i style="background:linear-gradient(90deg,#fff 0.3145%,#fcfdff 83.96%,#f7f8fe 86.48%,#fefcfc 87.74%,#fff 99.69%)"></i><i style="background:linear-gradient(90deg,#fff 0.3145%,#fcfdff 83.33%,#f6f8fe 85.85%,#fefcfc 87.74%,#fff 99.69%)"></i><i style="background:linear-gradient(90deg,#fff 0.3145%,#fcfdff 82.7%,#f6f8fe 85.22%,#fefcfc 87.11%,#fff 99.69%)"></i><i style="background:linear-gradient(90deg,#fff 0.3145%,#fcfdff 82.08%,#f6f8fe 84.59%,#fefbfb 86.48%,#fff 99.69%)"></i><i style="background:linear-gradient(90deg,#fff 0.3145%,#fcfdff 81.45%,#f7f8fe 84.59%,#fefbfb 85.85%,#fff 99.06%,#fff 99.69%)"></i><i style="background:linear-gradient(90deg,#fff 0.3145%,#fcfdff 80.82%,#f5f7fe 83.96%,#fefbfb 85.22%,#fff 96.54%,#fff 99.69%)"></i><i style="background:linear-gradient(90deg,#fff 0.3145%,#fcfdff 80.19%,#f5f6fe 83.33%,#fefbfb 84.59%,#fffeff 95.91%,#fff 99.69%)"></i><i style="background:linear-gradient(90deg,#fff 0.3145%,#fcfdff 79.56%,#f4f6fe 82.7%,#fefbfb 83.96%,#fffefe 95.28%,#fff 99.69%)"></i><i style="background:linear-gradient(90deg,#fff 0.3145%,#fcfdff 78.93%,#f4f6fe 82.08%,#fefafb 83.33%,#fffefe 92.77%,#fff 99.69%)"></i><i style="background:linear-gradient(90deg,#fff 0.3145%,#fcfdff 77.67%,#f6f8fe 80.82%,#f3f6fe 81.45%,#fdf9fa 82.7%,#fffefe 89.62%,#fff 99.69%)"></i><i style="background:linear-gradient(90deg,#fff 0.3145%,#fcfdff 77.04%,#f6f8fe 80.19%,#f3f6fe 80.82%,#fefafa 82.7%,#fffefe 91.51%,#fff 99.69%)"></i><i style="background:linear-gradient(90deg,#fff 0.3145%,#fcfdff 76.42%,#f6f8fe 79.56%,#f3f5fe 80.19%,#fefafa 82.08%,#fffefe 89.62%,#fff 99.69%)"></i><i style="background:linear-gradient(90deg,#fff 0.3145%,#fcfdff 75.79%,#f6f8fe 78.93%,#f3f5fe 79.56%,#f4f5fd 80.19%,#fbf8fb 80.82%,#fffdfd 84.59%,#fff 99.69%)"></i><i style="background:linear-gradient(90deg,#fff 0.3145%,#fcfdff 75.16%,#f6f8fe 78.3%,#f2f4fd 79.56%,#faf8fb 80.19%,#fefbfb 81.45%,#fff 96.54%,#fffeff 99.69%)"></i><i style="background:linear-gradient(90deg,#fff 0.3145%,#fcfdff 74.53%,#f6f8fe 77.67%,#f1f3fe 78.93%,#faf8fb 79.56%,#fefafa 80.82%,#fffefe 92.14%,#fffdfe 99.69%)"></i><i style="background:linear-gradient(90deg,#fff 0.3145%,#fcfdff 73.9%,#f6f8fe 77.04%,#f0f3fd 78.3%,#f9f8fc 78.93%,#fef9f9 79.56%,#fffefe 85.85%,#fffdfd 99.69%)"></i><i style="background:linear-gradient(90deg,#fff 0.3145%,#fcfdff 73.27%,#f6f8fe 76.42%,#eff2fe 77.67%,#fef9f9 78.93%,#fffefe 85.22%,#fffdfe 99.69%)"></i><i style="background:linear-gradient(90deg,#fff 0.3145%,#fcfcff 72.64%,#f6f8fe 75.79%,#eff2fe 77.04%,#fdf7f9 78.3%,#fffdfe 83.33%,#fffdfe 99.69%)"></i><i style="background:linear-gradient(90deg,#fff 0.3145%,#fcfdff 71.38%,#f6f8fe 75.16%,#eef2fe 76.42%,#fcf7f8 77.67%,#fffdfd 81.45%,#fffdfe 99.69%)"></i><i style="background:linear-gradient(90deg,#fff 0.3145%,#fcfdff 70.75%,#f6f8fe 74.53%,#eef1fe 75.79%,#fbf6f8 77.04%,#fffdfd 80.82%,#fefdfd 95.91%,#fffdfd 99.69%)"></i><i style="background:linear-gradient(90deg,#fff 0.3145%,#fcfdff 70.13%,#f6f8fe 73.9%,#edf1fe 75.16%,#f1f3fd 75.79%,#faf6f8 76.42%,#fefcfc 78.93%,#fefdfe 94.65%,#fffdfd 99.69%)"></i><i style="background:linear-gradient(90deg,#fff 0.3145%,#fcfcff 69.5%,#f6f8fe 73.27%,#edf0fe 74.53%,#eef1fd 75.16%,#faf5f8 75.79%,#fef9f9 77.04%,#fffefe 84.59%,#fefdfd 94.03%,#fffdfd 99.69%)"></i><i style="background:linear-gradient(90deg,#fff 0.3145%,#fcfcff 68.87%,#f5f7fe 72.64%,#ecf0fe 73.9%,#eceffd 74.53%,#f8f4f8 75.16%,#fdf6f7 75.79%,#fffdfd 79.56%,#fefefe 92.77%,#fffdfd 99.69%)"></i><i style="background:linear-gradient(90deg,#fff 0.3145%,#fcfcff 68.24%,#f5f7fe 72.01%,#ecf0fe 73.27%,#eaeefd 73.9%,#f7f4f9 74.53%,#fdf6f6 75.16%,#fefdfd 78.93%,#fefdfe 92.14%,#fefdfd 99.69%)"></i><i style="background:linear-gradient(90deg,#fff 0.3145%,#fcfcff 66.98%,#f5f7fe 71.38%,#e9edfd 73.27%,#f6f4f9 73.9%,#fdf5f6 74.53%,#fefcfc 78.3%,#fefdfe 91.51%,#fefcfc 99.69%)"></i><i style="background:linear-gradient(90deg,#fff 0.3145%,#fcfcff 66.35%,#f5f7fe 70.75%,#e7ebfd 72.64%,#f5f3fa 73.27%,#fdf5f6 73.9%,#fefcfc 77.67%,#fefdfe 90.25%,#fefcfd 94.65%,#fefbfc 99.69%)"></i><i style="background:linear-gradient(90deg,#fff 0.3145%,#fcfcff 65.72%,#f4f7fe 70.13%,#e6eafd 72.01%,#fcf4f5 73.27%,#fefcfc 77.04%,#fefdfe 89.62%,#fefcfc 92.14%,#fefafb 99.69%)"></i><i style="background:linear-gradient(90deg,#fff 0.3145%,#fbfcff 65.09%,#f4f6fe 69.5%,#e5eafd 71.38%,#fbf3f5 72.64%,#fefbfb 75.79%,#fefdfe 88.99%,#fefcfc 91.51%,#fef9f9 99.69%)"></i><i style="background:linear-gradient(90deg,#fff 0.3145%,#fcfcff 63.84%,#f6f8fe 68.24%,#f0f3fe 69.5%,#e4e9fd 70.75%,#faf2f4 72.01%,#fefbfb 75.16%,#fdfeff 87.74%,#fefbfb 90.25%,#fef9f9 98.43%,#fdf5f6 99.69%)"></i><i style="background:linear-gradient(90deg,#fff 0.3145%,#fbfcff 63.21%,#f6f8fe 67.61%,#f0f3fe 68.87%,#e3e8fd 70.13%,#ecedfb 70.75%,#f9f1f4 71.38%,#fdf7f7 72.64%,#fefdfd 77.67%,#fdfdfe 87.11%,#fefbfb 89.62%,#fef9f9 97.17%,#fdf4f4 99.06%,#f9f0f3 99.69%)"></i><i style="background:linear-gradient(90deg,#fff 0.3145%,#fbfcff 62.58%,#f5f7fe 66.98%,#eff2fe 68.24%,#e1e7fd 69.5%,#eaecfb 70.13%,#f8f0f4 70.75%,#fcf2f3 71.38%,#fefafb 73.9%,#fefeff 85.85%,#fefbfb 88.99%,#fef8f8 96.54%,#fbf1f3 98.43%,#f8f1f5 99.06%,#ebebf9 99.69%)"></i><i style="background:linear-gradient(90deg,#fff 0.3145%,#fbfcff 61.32%,#f5f7fe 66.35%,#eff2fe 67.61%,#e0e6fd 68.87%,#e8ebfb 69.5%,#f7eff4 70.13%,#fcf1f2 70.75%,#fefafa 73.27%,#fdfeff 85.22%,#fefafa 87.74%,#fef9f9 94.65%,#fcf2f3 97.17%,#f9eff2 97.8%,#f4f1f8 98.43%,#e4e6fa 99.06%,#e2e8fd 99.69%)"></i><i style="background:linear-gradient(90deg,#fff 0.3145%,#fbfcff 60.69%,#f4f7fe 65.72%,#eef1fe 66.98%,#dfe5fd 68.24%,#e4e8fb 68.87%,#f6eef4 69.5%,#fcf0f1 70.13%,#fefafa 72.64%,#fdfdff 84.59%,#fef9fa 87.11%,#fef8f8 94.03%,#fbf0f1 96.54%,#f8f1f5 97.17%,#e9e9f9 97.8%,#e2e7fc 98.43%,#e0e7fd 99.06%,#e8edfd 99.69%)"></i><i style="background:linear-gradient(90deg,#fff 0.3145%,#fbfcff 60.06%,#f4f6fe 65.09%,#edf1fe 66.35%,#dde4fd 67.61%,#e1e5fb 68.24%,#f5edf4 68.87%,#fceff0 69.5%,#fef9fa 72.01%,#fefeff 83.33%,#fef8f9 85.85%,#fef9f9 92.14%,#fcf0f1 95.28%,#f8eef1 95.91%,#f3f0f8 96.54%,#e1e5fa 97.17%,#dfe5fd 97.8%,#e2e8fd 98.43%,#eff2fe 99.69%)"></i><i style="background:linear-gradient(90deg,#fff 0.3145%,#fbfcff 58.81%,#f3f6fe 64.47%,#edf0fe 65.72%,#dce3fc 66.98%,#dee3fb 67.61%,#f3ecf4 68.24%,#fcefef 68.87%,#fef9f9 71.38%,#fdfeff 82.7%,#fef8f8 85.22%,#fef8f8 91.51%,#fbeeef 94.65%,#f7f0f4 95.28%,#e8e8f8 95.91%,#dee4fc 96.54%,#dde4fd 97.17%,#ecf0fe 98.43%,#f3f5fe 99.69%)"></i><i style="background:linear-gradient(90deg,#fff 0.3145%,#fbfcff 58.18%,#f3f5fe 63.84%,#ecf0fe 65.09%,#dae2fc 66.35%,#dbe1fb 66.98%,#f2ebf4 67.61%,#fbeeee 68.24%,#fef8f9 70.75%,#fdfdff 82.08%,#fcf9fa 83.33%,#fef8f9 85.22%,#fdf7f7 90.88%,#fceeef 93.4%,#f8edf0 94.03%,#f2eff7 94.65%,#dfe3fa 95.28%,#dbe2fc 95.91%,#dee5fd 96.54%,#edf0fe 97.8%,#f5f7fe 99.69%)"></i><i style="background:linear-gradient(90deg,#fff 0.3145%,#fbfcff 56.92%,#f4f6fe 62.58%,#ebeffe 64.47%,#d8e0fc 65.72%,#d8dffb 66.35%,#f0eaf4 66.98%,#fbedee 67.61%,#fef8f8 70.13%,#fefeff 80.82%,#fbfbfe 82.08%,#fdf7f7 83.33%,#fdf7f8 88.99%,#faecee 92.77%,#f7eff4 93.4%,#dae1fc 94.65%,#d9e0fc 95.28%,#e9edfd 96.54%,#f3f6fe 98.43%,#f6f8fe 99.69%)"></i><i style="background:linear-gradient(90deg,#fff 0.3145%,#fbfcff 56.29%,#f4f6fe 61.95%,#eaeefd 63.84%,#d6dffc 65.09%,#d5ddfb 65.72%,#efeaf4 66.35%,#fbeced 66.98%,#fdf7f8 69.5%,#fefeff 80.19%,#fbfafd 81.45%,#fdf6f6 82.7%,#fdf7f8 87.74%,#fcf2f2 90.25%,#fbeced 91.51%,#f9ecef 92.14%,#f3eef6 92.77%,#dee2fa 93.4%,#d7dffc 94.03%,#d9e1fc 94.65%,#eaeefd 95.91%,#f5f7fe 98.43%,#f7f9fe 99.69%)"></i><i style="background:linear-gradient(90deg,#fff 0.3145%,#fbfcff 55.03%,#f3f5fe 61.32%,#e9edfd 63.21%,#d4ddfc 64.47%,#d3dbfb 65.09%,#eee9f4 65.72%,#fbebec 66.35%,#fdf7f7 68.87%,#fdfdff 79.56%,#fbf9fc 80.82%,#fdf5f5 82.08%,#fdf7f7 86.48%,#fceff0 89.62%,#faeaec 90.88%,#f7eef2 91.51%,#e9e9f8 92.14%,#d7dffb 92.77%,#d4ddfc 93.4%,#ebeffe 95.28%,#f5f7fe 97.8%,#f8f9fe 99.69%)"></i><i style="background:linear-gradient(90deg,#fff 0.3145%,#fbfcff 54.4%,#f2f5fe 60.69%,#e7ecfd 62.58%,#dfe5fd 63.21%,#d2dbfc 63.84%,#d0d8fa 64.47%,#ede9f5 65.09%,#fbeaeb 65.72%,#fdf6f7 68.24%,#fefefe 78.3%,#f9fafe 79.56%,#fdf4f4 81.45%,#fdf6f6 85.85%,#fcf0f0 88.36%,#fbe9ea 89.62%,#f9ebee 90.25%,#f4eef5 90.88%,#dfe3fa 91.51%,#d2dbfc 92.14%,#d3dcfc 92.77%,#e6ebfd 94.03%,#f1f4fe 95.91%,#f8faff 99.69%)"></i><i style="background:linear-gradient(90deg,#fff 0.3145%,#fbfcff 53.14%,#f3f6fe 59.43%,#ebeffe 61.32%,#dde4fd 62.58%,#d0d9fc 63.21%,#cdd6fa 63.84%,#ece8f5 64.47%,#fbe9ea 65.09%,#fbeaeb 65.72%,#fdf6f6 67.61%,#fefefe 77.67%,#f9f9fd 78.93%,#fdf4f4 80.19%,#fdf5f5 85.22%,#fbedee 87.74%,#fae9ea 88.99%,#f8edf1 89.62%,#edecf8 90.25%,#d7defb 90.88%,#cfd8fb 91.51%,#d5ddfc 92.14%,#e7ecfd 93.4%,#f3f6fe 95.91%,#f9faff 99.69%)"></i><i style="background:linear-gradient(90deg,#fff 0.3145%,#fafbff 52.52%,#f3f5fe 58.81%,#eaeefd 60.69%,#dbe2fc 61.95%,#cdd7fb 62.58%,#cad4fa 63.21%,#eae7f5 63.84%,#fae9ea 64.47%,#fae9ea 65.09%,#fcf3f3 66.35%,#fefafa 70.75%,#fdfdfe 77.04%,#f9f9fd 78.3%,#faf4f6 78.93%,#fcf3f3 80.19%,#fdf4f5 83.96%,#fbedee 86.48%,#fae7e8 87.74%,#faeaec 88.36%,#f7f0f5 88.99%,#cfd9fc 90.25%,#cdd7fb 90.88%,#e1e7fd 92.14%,#eff2fe 94.03%,#f9faff 99.06%,#f9faff 99.69%)"></i><i style="background:linear-gradient(90deg,#fff 0.3145%,#fafbff 51.26%,#f2f5fe 58.18%,#e9edfd 60.06%,#e2e8fd 60.69%,#d8e0fc 61.32%,#cad4fb 61.95%,#c7d2fa 62.58%,#e9e5f4 63.21%,#fae7e8 63.84%,#fae7e8 64.47%,#fcf2f2 65.72%,#fefafa 70.13%,#fdfdfe 76.42%,#f9f8fb 77.67%,#fbf2f4 78.3%,#fcf2f2 79.56%,#fdf3f4 83.33%,#fbeaeb 85.85%,#fae6e7 87.11%,#f9ecef 87.74%,#f2eff8 88.36%,#dbe1fb 88.99%,#c9d4fb 89.62%,#ccd6fb 90.25%,#e2e8fd 91.51%,#eff2fe 93.4%,#f8faff 98.43%,#f9faff 99.69%)"></i><i style="background:linear-gradient(90deg,#fff 0.3145%,#fafbff 50.63%,#f3f5fe 56.92%,#e7ecfd 59.43%,#e0e7fd 60.06%,#d5defc 60.69%,#c6d2fb 61.32%,#c5d0fa 61.95%,#e8e4f4 62.58%,#f9e6e7 63.21%,#fae5e6 63.84%,#fcf1f1 65.09%,#fef9f9 68.87%,#fefdfe 75.16%,#f8f8fd 76.42%,#faf7fa 77.04%,#fbf1f2 77.67%,#fcf1f2 78.93%,#fcf2f2 82.7%,#fae7e8 85.22%,#f9e4e5 85.85%,#f8eff2 87.11%,#eaebfa 87.74%,#d2dbfc 88.36%,#c6d1fb 88.99%,#cdd7fb 89.62%,#dae1fc 90.25%,#e8ecfd 91.51%,#f4f6fe 94.65%,#f9fbff 99.69%)"></i><i style="background:linear-gradient(90deg,#fff 0.3145%,#fafbff 49.37%,#f2f4fe 56.29%,#e5eafd 58.81%,#dee5fd 59.43%,#c2cffb 60.69%,#c2cef9 61.32%,#e7e3f4 61.95%,#f9e5e6 62.58%,#f9e4e5 63.21%,#fceff0 64.47%,#fef8f8 68.24%,#fefdfe 74.53%,#f6f7fd 75.79%,#fbeff0 77.04%,#fcf0f1 78.3%,#fcf1f2 81.45%,#fae7e9 83.96%,#f9e3e5 85.22%,#faebec 85.85%,#f7f1f6 86.48%,#e3e7fb 87.11%,#cad4fb 87.74%,#c3cffb 88.36%,#dae2fc 89.62%,#e7ecfd 90.88%,#f3f6fe 94.03%,#fafbff 99.69%)"></i><i style="background:linear-gradient(90deg,#fff 0.3145%,#fafbff 48.11%,#f2f5fe 55.03%,#e8edfd 57.55%,#dbe2fc 58.81%,#becbfa 60.06%,#c0ccf9 60.69%,#e7e3f3 61.32%,#f9e4e5 61.95%,#f9e2e3 62.58%,#fceeef 63.84%,#fdf7f7 66.98%,#fdfdfe 73.9%,#f7f6fc 75.16%,#fbeeee 76.42%,#fcf0f1 80.19%,#fae8e9 82.7%,#f9e1e2 83.96%,#fae6e7 84.59%,#faeef0 85.22%,#f3f1f9 85.85%,#dce2fc 86.48%,#c3cffb 87.11%,#c1cefb 87.74%,#dae2fc 88.99%,#e7ecfd 90.25%,#f3f5fe 93.4%,#fafbff 99.69%)"></i><i style="background:linear-gradient(90deg,#feffff 0.3145%,#fafbff 46.86%,#f1f4fe 54.4%,#e6ebfd 56.92%,#d8e0fc 58.18%,#b9c7fa 59.43%,#becaf9 60.06%,#e7e2f3 60.69%,#f9e2e4 61.32%,#f9e0e1 61.95%,#fbedee 63.21%,#fdf6f7 66.35%,#fefdfd 72.64%,#f8f9fe 73.9%,#f8f6fb 74.53%,#f9eff2 75.16%,#fbebec 75.79%,#fceff0 78.93%,#fae9ea 81.45%,#f9e0e2 82.7%,#f9e0e2 83.33%,#faf1f4 84.59%,#eeeffb 85.22%,#bdcbfa 86.48%,#c0cdfa 87.11%,#dae1fc 88.36%,#e6ebfd 89.62%,#f2f5fe 92.77%,#fafbff 99.69%)"></i><i style="background:linear-gradient(90deg,#feffff 0.3145%,#fafbff 46.23%,#f0f3fe 53.77%,#e4eafd 56.29%,#d4ddfc 57.55%,#b4c3fa 58.81%,#bdc9f9 59.43%,#e7e1f1 60.06%,#f9e1e2 60.69%,#f8dedf 61.32%,#fbebec 62.58%,#fdf5f5 65.09%,#fefdfd 72.01%,#f6f7fd 73.27%,#f8f5f9 73.9%,#f9edef 74.53%,#fbe9ea 75.16%,#fbeeee 78.3%,#fae5e6 80.82%,#f8dddf 82.08%,#f9e2e3 82.7%,#faf5f7 83.96%,#eaedfc 84.59%,#cfd8fb 85.22%,#b9c7fa 85.85%,#becbfa 86.48%,#ced8fb 87.11%,#d9e1fc 87.74%,#e9eefd 89.62%,#f5f7fe 94.03%,#fafbff 99.69%)"></i><i style="background:linear-gradient(90deg,#fefeff 0.3145%,#f9fbff 44.97%,#f1f4fe 52.52%,#e6ebfd 55.03%,#dbe2fc 56.29%,#d0d9fc 56.92%,#aebff9 58.18%,#bec9f8 58.81%,#e7e0f0 59.43%,#f8dfe1 60.06%,#f8dcdd 60.69%,#fbeaeb 61.95%,#fdf4f4 64.47%,#fefdfe 71.38%,#f5f5fd 72.64%,#f9f3f7 73.27%,#faeaec 73.9%,#fae7e8 74.53%,#fbeced 77.04%,#fae6e7 79.56%,#f8ddde 80.82%,#f8ddde 81.45%,#fbeff0 82.7%,#f8f5f9 83.33%,#e7ebfc 83.96%,#c9d4fb 84.59%,#b5c4fa 85.22%,#bccafa 85.85%,#ccd7fb 86.48%,#d8e0fc 87.11%,#e8edfd 88.99%,#f4f7fe 93.4%,#fafbff 99.69%)"></i><i style="background:linear-gradient(90deg,#fefeff 0.3145%,#f9faff 43.71%,#f1f4fe 51.26%,#e4e9fd 54.4%,#d7dffc 55.66%,#cbd5fb 56.29%,#a9baf9 57.55%,#bfcaf8 58.18%,#e8dfef 58.81%,#f8dddf 59.43%,#f7d9db 60.06%,#fae8e9 61.32%,#fdf3f3 63.84%,#fdfcfe 70.75%,#f5f5fc 72.01%,#fae8e9 73.27%,#fae5e6 73.9%,#fbeaeb 75.79%,#fae6e7 78.3%,#f7d9db 80.19%,#f8dee0 80.82%,#fcf2f3 82.08%,#f7f6fb 82.7%,#e4e9fd 83.33%,#c6d2fb 83.96%,#b1c1f9 84.59%,#b9c7fa 85.22%,#cad5fb 85.85%,#d6defc 86.48%,#e7ecfd 88.36%,#f3f5fe 92.14%,#fafbff 99.69%)"></i><i style="background:linear-gradient(90deg,#fefeff 0.3145%,#f9faff 42.45%,#f0f3fe 50.63%,#e6ebfd 53.14%,#dbe2fc 54.4%,#d2dbfc 55.03%,#c4d0fb 55.66%,#b1c0f9 56.29%,#a4b6f8 56.92%,#c3ccf8 57.55%,#eadfed 58.18%,#f8dbdd 58.81%,#f7d7d9 59.43%,#fae7e8 60.69%,#fcf2f3 63.21%,#fefcfc 69.5%,#f6f7fe 70.75%,#f7f5fb 71.38%,#fae5e6 72.64%,#f9e3e4 73.27%,#fae9ea 75.16%,#f9e2e4 77.67%,#f7d9db 78.93%,#f7d9da 79.56%,#fbebec 80.82%,#fcf4f5 81.45%,#f7f6fc 82.08%,#e3e8fd 82.7%,#c5d0fb 83.33%,#aebef9 83.96%,#b5c4fa 84.59%,#c7d2fb 85.22%,#d3dcfc 85.85%,#e1e7fd 87.11%,#eff2fe 90.25%,#f9faff 98.43%,#f9fbff 99.69%)"></i><i style="background:linear-gradient(90deg,#fefeff 0.3145%,#f9faff 41.19%,#f0f3fe 49.37%,#e3e9fd 52.52%,#d7dffc 53.77%,#cdd7fb 54.4%,#bdcafa 55.03%,#a8baf9 55.66%,#a1b4f8 56.29%,#c8d0f8 56.92%,#ece0eb 57.55%,#f7d9da 58.18%,#f6d5d7 58.81%,#fae5e6 60.06%,#fceff0 61.95%,#fefcfc 68.87%,#fbfbfe 69.5%,#f4f5fd 70.13%,#f8f4f8 70.75%,#f9e1e3 72.01%,#fae6e7 75.16%,#f8dee0 77.04%,#f6d5d7 78.3%,#f7dadb 78.93%,#fcf6f7 80.82%,#f6f6fc 81.45%,#e3e9fd 82.08%,#abbcf9 83.33%,#b0c0f9 83.96%,#c2cffb 84.59%,#d0d9fc 85.22%,#dfe5fd 86.48%,#ecf0fe 88.99%,#f7f9fe 95.91%,#f9faff 99.69%)"></i><i style="background:linear-gradient(90deg,#fefeff 0.3145%,#f9faff 39.94%,#f0f3fe 48.11%,#e4e9fd 51.26%,#d2dbfc 53.14%,#c6d2fb 53.77%,#9fb3f8 55.03%,#a1b4f8 55.66%,#ced5f8 56.29%,#efe0e9 56.92%,#f7d6d8 57.55%,#f6d2d4 58.18%,#f9e3e4 59.43%,#fbeeef 61.32%,#fdfcfd 68.24%,#f5f5fc 69.5%,#f8f0f5 70.13%,#fae6e8 70.75%,#f8dee0 71.38%,#fae4e5 73.9%,#f8dee0 75.79%,#f6d5d7 77.04%,#f6d4d6 77.67%,#fae5e7 78.93%,#fdf7f8 80.19%,#f7f7fd 80.82%,#e5eafd 81.45%,#abbcf9 82.7%,#a9baf9 83.33%,#bccafa 83.96%,#cbd6fb 84.59%,#dce3fc 85.85%,#eaeefd 88.36%,#f6f8fe 94.65%,#f9faff 99.69%)"></i><i style="background:linear-gradient(90deg,#fefeff 0.3145%,#f8faff 38.68%,#eef1fe 47.48%,#e1e7fd 50.63%,#d5defc 51.89%,#ccd6fb 52.52%,#bdcbfa 53.14%,#96abf7 54.4%,#a5b6f8 55.03%,#d4d8f7 55.66%,#f3e1e7 56.29%,#f6d3d5 56.92%,#f5d0d2 57.55%,#f9e1e2 58.81%,#fbeced 60.69%,#fcfbfd 67.61%,#f7f8fe 68.24%,#f7f6fb 68.87%,#f9e2e3 70.13%,#f8dbdd 70.75%,#f9e2e3 73.27%,#f7dadc 75.16%,#f6d1d3 76.42%,#f6d5d7 77.04%,#fdf8f8 79.56%,#f8f8fd 80.19%,#e7ecfd 80.82%,#ced8fb 81.45%,#afbff9 82.08%,#a1b4f8 82.7%,#c5d1fb 83.96%,#d8e0fc 85.22%,#e8edfd 87.74%,#f4f6fe 93.4%,#f9faff 99.69%)"></i><i style="background:linear-gradient(90deg,#fefeff 0.3145%,#f8f9fe 37.42%,#edf1fe 46.23%,#e1e7fd 49.37%,#cfd9fc 51.26%,#c4d0fb 51.89%,#b3c2f9 52.52%,#9db1f8 53.14%,#8fa5f7 53.77%,#acbcf8 54.4%,#dcddf5 55.03%,#f5e0e4 55.66%,#f5d0d2 56.29%,#f5cdcf 56.92%,#f8dfe0 58.18%,#fbebec 60.06%,#fefafb 66.35%,#fcfbfd 66.98%,#f6f6fd 67.61%,#f9f5f9 68.24%,#f8dddf 69.5%,#f7d8da 70.13%,#f8dfe1 72.01%,#f7dadc 73.9%,#f5d0d2 75.16%,#f5cfd1 75.79%,#f9e0e1 77.04%,#fdf8f8 78.93%,#fafafd 79.56%,#ebeffe 80.19%,#d5defc 80.82%,#9db1f8 82.08%,#a7b9f9 82.7%,#bdcafa 83.33%,#cad5fb 83.96%,#dae1fc 85.22%,#e8edfd 87.74%,#f5f7fe 94.03%,#f9faff 99.69%)"></i><i style="background:linear-gradient(90deg,#fefeff 0.3145%,#f7f9fe 36.16%,#edf1fe 44.97%,#e1e7fd 48.11%,#d1dafc 50%,#c8d3fb 50.63%,#bac8fa 51.26%,#90a7f7 52.52%,#8fa5f7 53.14%,#b6c3f8 53.77%,#e6e2f3 54.4%,#f6dee1 55.03%,#f5cdcf 55.66%,#f4cacc 56.29%,#f8dcde 57.55%,#fbe9ea 59.43%,#fdfafb 65.72%,#fbfbfd 66.35%,#f6f6fc 66.98%,#f8f1f5 67.61%,#f7d8da 68.87%,#f7d6d8 69.5%,#f8dcde 71.38%,#f7d6d8 73.27%,#f5ccce 74.53%,#f5cfd2 75.16%,#fcf1f2 77.67%,#fcfbfd 78.93%,#f0f3fe 79.56%,#dde4fd 80.19%,#c5d1fb 80.82%,#a5b7f8 81.45%,#99adf8 82.08%,#b0c0f9 82.7%,#c2cefb 83.33%,#d5ddfc 84.59%,#e6ebfd 87.11%,#f3f5fe 92.77%,#f8faff 99.69%)"></i><i style="background:linear-gradient(90deg,#fdfeff 0.3145%,#f7f9fe 34.91%,#ecf0fe 43.71%,#dde4fd 47.48%,#cad4fb 49.37%,#becbfa 50%,#acbdf9 50.63%,#849df6 51.89%,#97acf7 52.52%,#c4cef8 53.14%,#ebe3f0 53.77%,#f8dcdd 54.4%,#f4cacc 55.03%,#f4c7ca 55.66%,#f9e0e2 57.55%,#fbeced 60.06%,#fdfafb 65.09%,#f9f7fb 66.35%,#f6d4d6 68.24%,#f6d3d5 68.87%,#f7d9db 70.75%,#f6d1d3 72.64%,#f4cacc 73.9%,#f7d9db 75.16%,#fcf0f1 77.04%,#fefcfc 78.3%,#f6f7fe 78.93%,#d2dbfc 80.19%,#b7c6fa 80.82%,#96acf7 81.45%,#9cb0f8 82.08%,#b4c4fa 82.7%,#c4d0fb 83.33%,#d5ddfc 84.59%,#e5eafd 87.11%,#f2f5fe 92.77%,#f8f9fe 99.69%)"></i><i style="background:linear-gradient(90deg,#fdfeff 0.3145%,#f6f8fe 33.65%,#ebeffe 42.45%,#dce3fc 46.23%,#cad5fb 48.11%,#c0cdfa 48.74%,#b1c1f9 49.37%,#869ff6 50.63%,#819bf6 51.26%,#a4b6f8 51.89%,#d5daf8 52.52%,#f1e4ec 53.14%,#f7d6d8 53.77%,#f3c6c9 54.4%,#f3c4c7 55.03%,#f8dedf 56.92%,#fbeaeb 59.43%,#fdf8f8 63.84%,#fdfbfc 64.47%,#f8f7fc 65.09%,#fbf6f9 65.72%,#f8dbdd 66.98%,#f5d0d2 67.61%,#f5d0d2 68.24%,#f7d6d8 70.13%,#f5ccce 72.01%,#f3c7c9 72.64%,#f4c9cc 73.27%,#fbeaeb 75.79%,#fefafb 77.67%,#fbfcfe 78.3%,#dde4fd 79.56%,#c9d4fb 80.19%,#8ea5f7 81.45%,#9eb2f8 82.08%,#b5c4fa 82.7%,#c4d0fb 83.33%,#d4ddfc 84.59%,#e4e9fd 87.11%,#f1f4fe 92.77%,#f7f9fe 99.69%)"></i><i style="background:linear-gradient(90deg,#fdfdff 0.3145%,#f6f8fe 31.76%,#ebeffe 40.57%,#dee5fd 44.34%,#d1dafc 46.23%,#c0cdfa 47.48%,#b2c2f9 48.11%,#7793f5 50%,#8da4f7 50.63%,#b5c3f8 51.26%,#e4e4f6 51.89%,#f6e4e8 52.52%,#f6d1d3 53.14%,#f3c3c6 53.77%,#f2c1c4 54.4%,#f8dbdd 56.29%,#fae9ea 58.81%,#fdf8f9 63.21%,#fdfbfc 63.84%,#faf9fc 64.47%,#f9f1f4 65.09%,#fae6e7 65.72%,#f7d5d7 66.35%,#f5ccce 66.98%,#f6d2d4 69.5%,#f3c4c6 72.01%,#f6d2d4 73.27%,#fae9ea 75.16%,#fefdfd 77.67%,#f6f8fe 78.3%,#d8e0fc 79.56%,#c4d0fb 80.19%,#8aa1f6 81.45%,#9baff8 82.08%,#b3c2f9 82.7%,#c1cefb 83.33%,#d2dbfc 84.59%,#e2e8fd 87.11%,#f0f3fe 92.77%,#f6f8fe 99.69%)"></i><i style="background:linear-gradient(90deg,#fdfdff 0.3145%,#f5f7fe 30.5%,#eaeefd 39.31%,#dde4fd 43.08%,#cfd9fc 44.97%,#becbfa 46.23%,#b2c1f9 46.86%,#7591f5 48.74%,#7c97f6 49.37%,#9fb2f8 50%,#ced6f9 50.63%,#eee7f2 51.26%,#f8e1e3 51.89%,#f5ccce 52.52%,#f2bfc2 53.14%,#f2bec0 53.77%,#f7d8da 55.66%,#fae7e8 58.18%,#fdf4f5 61.95%,#fcfafc 63.21%,#fcf8fa 63.84%,#f9e0e1 65.09%,#f5d0d2 65.72%,#f4c8ca 66.35%,#f5cfd1 68.24%,#f4cbcd 69.5%,#f2c1c4 70.75%,#f3c2c5 71.38%,#f9e2e3 73.9%,#fefdfe 77.67%,#e6ebfd 78.93%,#c4d0fb 80.19%,#abbcf9 80.82%,#89a1f6 81.45%,#92a8f7 82.08%,#acbdf9 82.7%,#bcc9fa 83.33%,#ced8fb 84.59%,#e0e6fd 87.11%,#eef1fe 92.14%,#f6f7fe 99.69%)"></i><i style="background:linear-gradient(90deg,#fcfdff 0.3145%,#f5f7fe 28.62%,#e8edfd 38.05%,#dae1fc 41.82%,#ccd6fb 43.71%,#bbc9fa 44.97%,#aebff9 45.6%,#738ff5 47.48%,#718ef5 48.11%,#90a7f7 48.74%,#b8c5f9 49.37%,#e3e5f8 50%,#f5e8ee 50.63%,#f8dbdc 51.26%,#f3c6c9 51.89%,#f1bbbe 52.52%,#f1babd 53.14%,#f7d5d7 55.03%,#fae4e6 57.55%,#fdf4f5 61.32%,#fcfafb 62.58%,#fcf4f6 63.21%,#f7d9db 64.47%,#f4cacd 65.09%,#f3c4c7 65.72%,#f4cbcd 67.61%,#f3c6c8 68.87%,#f1bdc0 70.13%,#f4cacc 71.38%,#f9e1e2 73.27%,#fefbfb 77.04%,#fdfdff 77.67%,#d9e1fc 79.56%,#c8d4fb 80.19%,#b3c2f9 80.82%,#93a9f7 81.45%,#869ef6 82.08%,#b2c2f9 83.33%,#c8d3fb 84.59%,#d9e0fc 86.48%,#e8ecfd 90.25%,#f4f6fe 99.06%,#f4f7fe 99.69%)"></i><i style="background:linear-gradient(90deg,#fcfcff 0.3145%,#f3f6fe 27.36%,#e7ecfd 36.16%,#d6dffc 40.57%,#c7d2fb 42.45%,#b6c5fa 43.71%,#a8baf9 44.34%,#849df6 45.6%,#6e8bf4 46.23%,#6b89f4 46.86%,#88a0f6 47.48%,#aabbf8 48.11%,#d7ddfa 48.74%,#efeaf4 49.37%,#f9e6e8 50%,#f2c1c4 51.26%,#f0b7ba 51.89%,#f0b6ba 52.52%,#f6d2d4 54.4%,#f9e2e3 56.92%,#fceff0 60.06%,#fef8f9 61.32%,#fef9f9 61.95%,#fbeff0 62.58%,#f3c4c7 64.47%,#f2c0c2 65.09%,#f3c6c9 66.98%,#f1bbbe 68.87%,#f1babd 69.5%,#f7d9db 72.01%,#fefbfb 77.04%,#fdfdfe 77.67%,#dee5fd 79.56%,#bfccfa 80.82%,#a6b8f9 81.45%,#89a1f6 82.08%,#89a1f6 82.7%,#b2c1f9 83.96%,#c7d2fb 85.22%,#d7dffc 87.11%,#e8ecfd 91.51%,#f3f5fe 99.69%)"></i><i style="background:linear-gradient(90deg,#fbfcff 0.3145%,#f2f5fe 25.47%,#e6ebfd 34.28%,#d5defc 38.68%,#c1cdfa 41.19%,#adbef9 42.45%,#7b96f5 44.34%,#6584f4 44.97%,#6a88f4 45.6%,#859df6 46.23%,#a4b6f8 46.86%,#ced6fa 47.48%,#eceaf8 48.11%,#f7eaef 48.74%,#f8dfe0 49.37%,#f1bbbe 50.63%,#efb2b6 51.26%,#efb2b6 51.89%,#f5cfd1 53.77%,#f8dfe1 56.29%,#fceeef 59.43%,#fef8f8 60.69%,#fdf4f5 61.32%,#f8dbdd 62.58%,#f2bfc2 63.84%,#f1bbbe 64.47%,#f2c1c4 65.72%,#f2bec1 66.98%,#f0b5b9 68.24%,#f1b9bc 68.87%,#f6d2d4 70.75%,#fbe9ea 73.9%,#fefdfe 77.67%,#f9fafe 78.3%,#dae2fc 80.19%,#bbc9fa 81.45%,#8ca3f7 82.7%,#859ef6 83.33%,#aabbf9 84.59%,#b8c7fa 85.22%,#c9d4fb 86.48%,#dbe2fc 88.99%,#eaeefd 94.03%,#f1f4fe 99.69%)"></i><i style="background:linear-gradient(90deg,#fafbff 0.3145%,#f1f4fe 23.58%,#e4e9fd 32.39%,#d3dcfc 36.79%,#bfccfa 39.31%,#adbef9 40.57%,#809af6 42.45%,#5b7df3 43.71%,#869ff6 44.97%,#a6b8f8 45.6%,#ccd5fa 46.23%,#e9eaf9 46.86%,#f5ebf2 47.48%,#fae6e7 48.11%,#f0b5b8 50%,#eeaeb2 50.63%,#eeaeb2 51.26%,#f4cbcd 53.14%,#f8dcde 55.66%,#fbedee 58.81%,#fdf5f5 60.06%,#fceeef 60.69%,#f1b9bc 63.21%,#f0b6ba 63.84%,#f1bcbf 65.09%,#f0b8bb 66.35%,#efb1b5 67.61%,#f2c0c3 68.87%,#f7d6d7 70.75%,#fcf3f3 75.79%,#fdfdfe 78.3%,#e5ebfd 80.19%,#cfd9fc 81.45%,#c0cdfa 82.08%,#96abf7 83.33%,#87a0f6 83.96%,#8ba3f7 84.59%,#9fb2f8 85.22%,#c1cdfa 87.11%,#d2dbfc 88.99%,#e2e8fd 92.77%,#eff2fe 99.69%)"></i><i style="background:linear-gradient(90deg,#f9faff 0.3145%,#eff2fe 21.7%,#e1e7fd 30.5%,#cfd9fc 34.91%,#bbc9fa 37.42%,#a8baf9 38.68%,#7f99f6 40.57%,#5a7cf3 41.82%,#6383f4 42.45%,#7b96f5 43.08%,#8ea5f7 43.71%,#d2dafa 44.97%,#ebebf9 45.6%,#fae9eb 46.86%,#f5cdd0 48.11%,#efafb2 49.37%,#eda9ad 50%,#eda9ad 50.63%,#f3c7c9 52.52%,#f7d9da 55.03%,#fbeced 58.18%,#fcf1f2 58.81%,#fcf0f1 59.43%,#fae7e8 60.06%,#efb3b6 62.58%,#efb1b5 63.21%,#f0b7ba 64.47%,#efb1b5 65.72%,#eeadb0 66.35%,#eeaeb2 66.98%,#f5ced0 69.5%,#fae5e6 73.27%,#fdfcfd 78.93%,#f2f4fe 80.19%,#d7dffc 82.08%,#bccafa 83.33%,#a7b9f9 83.96%,#829cf6 85.85%,#9aaff8 86.48%,#a7b9f9 87.11%,#acbdf9 87.74%,#c1cefb 88.99%,#d5ddfc 91.51%,#e5ebfd 96.54%,#ebeffe 99.69%)"></i><i style="background:linear-gradient(90deg,#f7f9fe 0.3145%,#ecf0fe 19.81%,#dee5fd 27.99%,#cdd7fb 32.39%,#b9c7fa 34.91%,#a9baf9 36.16%,#7994f5 38.68%,#6585f4 39.31%,#5a7bf3 39.94%,#6382f4 40.57%,#7894f5 41.19%,#88a0f6 41.82%,#a2b5f8 42.45%,#c2cef9 43.08%,#dee3fb 43.71%,#eeecf8 44.34%,#fbeaeb 45.6%,#f6d3d5 46.86%,#f0b4b7 48.11%,#eda8ac 48.74%,#eca4a8 49.37%,#eca4a8 50%,#f2c2c5 51.89%,#f6d5d7 54.4%,#fae5e6 56.92%,#fceeef 58.18%,#fbe9ea 58.81%,#f3c5c8 60.69%,#eeacb0 61.95%,#eeabaf 62.58%,#efb1b4 63.84%,#eda7ab 65.72%,#eeabaf 66.35%,#f3c5c8 68.24%,#f8dbdc 71.38%,#fdfbfc 79.56%,#f7f8fe 80.82%,#dae1fc 83.33%,#c3cffb 84.59%,#a0b3f8 85.85%,#a0b3f8 86.48%,#94aaf7 87.11%,#7e98f6 87.74%,#96abf7 88.36%,#a6b8f9 88.99%,#aebff9 89.62%,#afc0f9 90.25%,#c7d3fb 92.14%,#d9e1fc 95.28%,#e5eafd 99.69%)"></i><i style="background:linear-gradient(90deg,#f5f7fe 0.3145%,#e9edfd 17.92%,#d8e0fc 26.1%,#c3cffb 30.5%,#b3c2f9 32.39%,#7994f5 36.16%,#6785f4 36.79%,#5b7cf3 37.42%,#5c7df3 38.05%,#6f8cf5 38.68%,#8da4f7 39.94%,#a4b6f8 40.57%,#c0ccf9 41.19%,#d9dffa 41.82%,#ebecfa 42.45%,#f8edf0 43.71%,#fae8e9 44.34%,#f4c9cb 46.23%,#eeabaf 47.48%,#eca1a6 48.11%,#eb9ea2 48.74%,#eb9ea3 49.37%,#f1bcbf 51.26%,#f5d0d2 53.77%,#fae8e9 56.92%,#fae9ea 57.55%,#f9e1e3 58.18%,#eda5a9 61.32%,#eeaaad 63.21%,#eca2a6 65.09%,#f2c2c4 67.61%,#f7d6d8 70.75%,#fef9fa 80.19%,#f9fafe 82.08%,#e3e8fd 84.59%,#c7d3fb 86.48%,#b8c7fa 87.11%,#a5b7f8 87.74%,#a8baf9 88.36%,#a6b8f9 88.99%,#9cb0f8 89.62%,#7e98f6 90.25%,#89a1f6 90.88%,#a1b4f8 91.51%,#adbdf9 92.14%,#b7c6fa 93.4%,#b5c4fa 94.03%,#c9d4fb 95.91%,#dbe2fc 99.69%)"></i><i style="background:linear-gradient(90deg,#f1f4fe 0.3145%,#e4eafd 15.41%,#d3dcfc 22.96%,#c1cefb 26.73%,#abbcf9 29.25%,#859ef6 32.39%,#7a95f5 33.02%,#5d7ef3 34.28%,#5c7df3 34.91%,#6282f4 35.53%,#7591f5 36.16%,#8ca3f7 37.42%,#9cb0f7 38.05%,#cbd4fa 39.31%,#dfe3fa 39.94%,#ecebf9 40.57%,#fbebec 42.45%,#f4cacc 44.97%,#eca1a6 46.86%,#ea9a9f 47.48%,#ea989d 48.74%,#f0b6ba 50.63%,#f4cbcd 53.14%,#fae4e6 56.29%,#f9e1e2 56.92%,#f2c1c3 58.81%,#eda7ab 60.06%,#eb9ea2 60.69%,#eca2a6 62.58%,#ea9a9f 63.84%,#eb9da1 64.47%,#f0b7ba 66.35%,#f4cacd 68.87%,#fae4e6 75.16%,#fdf9fa 82.7%,#f8f8fd 84.59%,#dee4fc 87.74%,#cdd7fb 88.99%,#c1cefb 89.62%,#acbdf9 90.25%,#abbcf9 90.88%,#b1c1f9 91.51%,#afbff9 92.14%,#a9baf9 92.77%,#9db1f8 93.4%,#7d97f6 94.03%,#859ef6 94.65%,#a0b3f8 95.28%,#acbdf9 95.91%,#b9c7fa 97.17%,#becbfa 99.06%,#bcc9fa 99.69%)"></i><i style="background:linear-gradient(90deg,#ecf0fe 0.3145%,#dde4fd 12.89%,#c9d4fb 19.81%,#b2c2f9 23.58%,#849df6 28.62%,#7994f5 29.25%,#6a88f4 29.87%,#6080f3 30.5%,#5f80f3 31.76%,#7d98f6 33.02%,#8da4f7 34.28%,#a7b8f8 35.53%,#cfd7fa 36.79%,#e0e4fa 37.42%,#eaeaf9 38.05%,#f9ecef 39.94%,#f9e4e5 41.19%,#f4c7ca 43.71%,#efb2b6 44.97%,#ea979c 46.23%,#e89095 47.48%,#e89095 48.11%,#efafb3 50%,#f8dbdd 55.03%,#f8dedf 55.66%,#f7d7d9 56.29%,#eeabaf 58.81%,#eb9ea2 59.43%,#e9959a 60.06%,#ea999d 61.95%,#e99297 63.21%,#ea989c 63.84%,#efb2b6 65.72%,#f4c8ca 68.87%,#f9e1e2 75.79%,#fcf8f9 85.22%,#f5f6fd 88.36%,#dde4fc 91.51%,#cfd9fb 92.77%,#c5d1fb 93.4%,#b0c0f9 94.03%,#b0c0f9 94.65%,#b9c7fa 95.28%,#b9c7fa 96.54%,#afbff9 97.8%,#a5b7f8 98.43%,#94aaf7 99.06%,#7994f5 99.69%)"></i><i style="background:linear-gradient(90deg,#e2e8fd 0.3145%,#d1dafc 9.748%,#becbfa 14.78%,#9baff8 20.44%,#90a7f7 22.33%,#829bf6 23.58%,#6988f4 24.84%,#6483f4 25.47%,#6282f4 26.73%,#6a88f4 27.36%,#849df6 28.62%,#8ba3f7 29.25%,#93a8f7 30.5%,#a5b6f7 31.76%,#d6dcf9 33.65%,#e2e5fa 34.28%,#f9ebee 37.42%,#f8dfe0 39.31%,#f2c2c4 42.45%,#eda5a9 44.34%,#e88c91 45.6%,#e6878c 46.86%,#e7888d 47.48%,#eda6ab 49.37%,#f6d5d7 54.4%,#f6d3d5 55.03%,#f0b6b9 56.92%,#e99398 58.81%,#e78b90 59.43%,#e88f94 60.69%,#e78a8f 62.58%,#eeabaf 65.09%,#f2c0c3 68.24%,#f7d9db 75.16%,#fcf6f7 88.99%,#f2f3fc 94.03%,#dbe2fb 97.17%,#cdd7fb 98.43%,#c2cefa 99.06%,#b1c0f9 99.69%)"></i><i style="background:linear-gradient(90deg,#cad5fb 0.3145%,#a9baf9 9.119%,#a2b5f8 12.26%,#92a8f7 14.78%,#7b96f5 16.67%,#708df5 17.3%,#6a88f4 17.92%,#6886f4 19.81%,#6e8bf4 20.44%,#859ef6 21.7%,#97abf7 23.58%,#99acf6 24.84%,#a9b8f6 26.73%,#dadff9 29.25%,#e6e5f6 30.5%,#fae9ea 34.28%,#f3c4c7 39.94%,#eeabaf 42.45%,#ea969b 43.71%,#e57f85 44.97%,#e47d83 46.86%,#eb9ca0 48.74%,#f4c7ca 53.14%,#f4cbce 53.77%,#f3c6c9 54.4%,#e99398 57.55%,#e6868c 58.18%,#e57f85 58.81%,#e68389 60.06%,#e57e84 61.32%,#e58187 61.95%,#eb9ca1 63.84%,#efb0b4 66.35%,#f4c8ca 72.01%,#f9e4e5 84.59%,#fcf3f5 94.65%,#f4f1f9 99.69%)"></i><i style="background:linear-gradient(90deg,#a3b6f8 0.3145%,#8da4f7 3.459%,#728ef5 5.975%,#6f8bf4 8.491%,#728ef4 9.119%,#8ba1f5 11.01%,#a0b1f6 13.52%,#a9b8f6 16.04%,#a8b7f5 17.92%,#b5c0f6 19.81%,#d1d6f7 21.7%,#e6e0f1 24.84%,#f9e4e5 29.87%,#f2bec1 37.42%,#eda6aa 40.57%,#e88f94 42.45%,#e3777d 43.71%,#e27076 44.34%,#e16e75 46.23%,#e88e93 48.11%,#f1bcbf 52.52%,#f1bcbf 53.14%,#eeabaf 54.4%,#e68389 56.92%,#e3777d 57.55%,#e27076 58.18%,#e2737a 59.43%,#e26f76 60.69%,#e3757b 61.32%,#e89196 63.21%,#eca4a8 65.72%,#f1bbbe 71.38%,#f6d5d7 83.33%,#fbeced 99.69%)"></i><i style="background:linear-gradient(90deg,#bfc7f5 0.3145%,#c0c7f4 4.088%,#bdc5f4 5.975%,#c1c4f0 9.119%,#dad3ec 12.89%,#f5dde1 20.44%,#f8dcdd 22.33%,#f0b4b7 33.65%,#ea989d 38.68%,#e58086 41.19%,#de5f66 43.08%,#dd5a62 43.71%,#dd5a61 45.6%,#e47a80 47.48%,#eda9ad 51.89%,#eda5a9 52.52%,#e3797f 55.66%,#df6068 56.92%,#dd5a62 57.55%,#de5d65 58.81%,#dd5b63 60.06%,#e57e84 62.58%,#e9959a 65.72%,#eeacb0 72.01%,#f3c6c8 84.59%,#f7d8da 99.69%)"></i><i style="background:linear-gradient(90deg,#e7c0cc 0.3145%,#f3c3c6 7.233%,#ea969b 28.62%,#e47c82 36.16%,#df636b 39.94%,#dc555d 41.19%,#d83f48 42.45%,#d73c44 44.97%,#dd5860 46.86%,#e3787e 50%,#e58187 50.63%,#e68389 51.26%,#e3767c 52.52%,#db4f57 55.66%,#d8424b 56.29%,#d73c45 56.92%,#d84048 58.18%,#d73d46 59.43%,#de5e65 61.95%,#e27278 65.09%,#e7898e 72.01%,#eda5a9 88.99%,#efb2b5 99.69%)"></i><i style="background:linear-gradient(90deg,#e3767c 0.3145%,#dd5960 22.33%,#d9474f 35.53%,#d63841 39.94%,#d32a33 42.45%,#d42d37 44.97%,#d83e47 47.48%,#da4a53 50.63%,#d73b44 53.77%,#d42b34 56.29%,#d42f38 59.43%,#d73d46 61.95%,#db4d55 69.5%,#de6067 85.85%,#e27278 99.69%)"></i><i style="background:linear-gradient(90deg,#e9969a 0.3145%,#e27178 27.36%,#de5e66 34.91%,#db4f57 38.05%,#d73c45 39.94%,#d5343d 40.57%,#d5323c 41.19%,#d6353e 42.45%,#d5323c 43.08%,#d6363f 43.71%,#da4850 44.97%,#e16c72 48.74%,#e16b72 49.37%,#dc545c 51.89%,#d9444c 53.77%,#d5323c 55.03%,#d5333d 57.55%,#da4c54 59.43%,#de5f66 62.58%,#e3767d 70.13%,#eba1a6 94.65%,#e8a3ab 99.69%)"></i><i style="background:linear-gradient(90deg,#f5cfd2 0.3145%,#f0b5b8 20.44%,#eb9ca1 30.5%,#e6868b 35.53%,#e27177 38.05%,#dc535b 39.94%,#db5058 40.57%,#dc535b 41.82%,#db5058 42.45%,#dc525a 43.08%,#e3747a 44.97%,#eb9ea2 48.11%,#eb9da1 48.74%,#e16a71 53.14%,#dc535a 54.4%,#db4e56 55.03%,#dc525a 56.92%,#e47a80 59.43%,#e99398 62.58%,#efb1b4 68.87%,#f5cfd2 78.93%,#e8d6e4 88.99%,#e2d7ea 92.14%,#e0d8ec 94.03%,#d4d0ee 99.69%)"></i><i style="background:linear-gradient(90deg,#fae6e7 0.3145%,#f4c8cb 21.07%,#efb0b4 30.5%,#eb9ca0 34.91%,#e6878c 37.42%,#e16a71 39.31%,#e16c73 41.19%,#e06970 41.82%,#e16c73 42.45%,#e88e93 44.34%,#efb3b6 46.86%,#f0b7ba 47.48%,#eeabaf 48.74%,#e58288 52.52%,#e16b72 53.77%,#e0676e 54.4%,#e16c73 56.29%,#e88e93 58.18%,#eda7ab 60.69%,#f3c5c8 65.72%,#f7dcdf 71.38%,#eae4f2 78.3%,#d5d5f3 80.82%,#bac3f4 85.85%,#9cadf5 88.99%,#8199f4 90.88%,#7d96f4 91.51%,#7e98f6 94.03%,#98adf8 97.17%,#a4b7f8 99.69%)"></i><i style="background:linear-gradient(90deg,#f9f3f6 0.3145%,#fae9ea 9.748%,#f4cbce 25.47%,#f0b4b8 32.39%,#eca1a5 35.53%,#e78a90 37.42%,#e58086 38.05%,#e47a80 38.68%,#e47d83 40.57%,#e47a80 41.19%,#e57e83 41.82%,#eca0a4 43.71%,#f3c5c8 46.23%,#f3c5c8 46.86%,#ea9a9f 51.26%,#e6878c 52.52%,#e47b81 53.14%,#e3777d 53.77%,#e4797f 55.03%,#e57f85 55.66%,#eca2a6 57.55%,#f1bcbf 60.06%,#f8e0e2 65.72%,#f1ebf4 70.13%,#e6e4f5 71.38%,#c7cef6 73.9%,#acbcf8 77.04%,#9baff8 78.3%,#7e98f6 79.56%,#7591f5 80.19%,#718ef5 82.08%,#7591f5 82.7%,#8ba2f7 84.59%,#95aaf7 87.11%,#92a8f7 89.62%,#8da4f7 91.51%,#99adf8 94.65%,#b0c0f9 97.8%,#b9c7fa 99.69%)"></i><i style="background:linear-gradient(90deg,#d4dbfa 0.3145%,#e6e9fb 2.201%,#f9f7fb 5.975%,#fbedee 14.15%,#f5cfd1 27.36%,#f0b8bb 33.02%,#eda5a9 35.53%,#e7898e 37.42%,#e6868b 38.05%,#e78b90 39.31%,#e6878c 40.57%,#e78b90 41.19%,#eeaeb2 43.08%,#f5cccf 44.97%,#f6d2d4 45.6%,#f4c9cb 46.86%,#eda6aa 50.63%,#e99297 51.89%,#e6868c 52.52%,#e68388 53.14%,#e6868b 54.4%,#e88e93 55.03%,#eda8ac 56.29%,#f2c1c4 58.18%,#f9e1e2 61.95%,#f1edf6 65.72%,#c1cbf8 68.87%,#a8baf9 70.75%,#8ca4f7 72.01%,#7a95f5 72.64%,#6e8bf4 73.27%,#6988f4 74.53%,#6b89f4 75.16%,#7e98f6 76.42%,#859ef6 77.67%,#829cf6 80.19%,#92a8f7 82.7%,#acbdf9 85.22%,#c1cefb 88.99%,#d5defc 95.91%,#dce3fc 99.69%)"></i><i style="background:linear-gradient(90deg,#7d98f6 0.3145%,#9aaef8 0.9434%,#adbdf9 1.572%,#c0cdfa 2.83%,#ced8fb 4.717%,#d1dafc 5.975%,#dbe2fc 6.604%,#f1f2fc 9.748%,#fbf8fa 12.26%,#fbeaeb 19.81%,#f5cfd1 29.25%,#f0b7bb 33.65%,#eca3a7 35.53%,#e89196 36.79%,#e99498 38.05%,#ea969b 38.68%,#e99196 39.94%,#ea969b 40.57%,#f3c4c7 43.08%,#f7d9db 44.34%,#f7dadc 44.97%,#efafb2 50%,#eb9ca0 51.26%,#e89095 51.89%,#e88c91 52.52%,#e89196 53.77%,#eda9ad 55.03%,#f2bfc2 56.29%,#f9e2e3 59.43%,#f5eff5 61.95%,#efedf8 62.58%,#a4b7f8 66.35%,#95abf7 66.98%,#6c8af4 68.24%,#6483f4 69.5%,#6987f4 70.13%,#7390f5 70.75%,#7b96f5 72.01%,#7b96f5 73.27%,#8ba3f7 75.16%,#a6b8f9 77.04%,#becbfa 80.19%,#d2dbfc 85.22%,#e4e9fd 94.65%,#e9eefd 99.69%)"></i><i style="background:linear-gradient(90deg,#9fb3f8 0.3145%,#abbcf9 0.9434%,#b1c1f9 1.572%,#b2c2f9 2.83%,#aabbf9 4.088%,#a0b4f8 4.717%,#879ff6 5.346%,#819bf6 5.975%,#a4b6f8 6.604%,#b2c2f9 7.233%,#c2cefb 8.491%,#c9d4fb 9.748%,#d5defc 10.38%,#e9edfd 12.26%,#fcfafc 15.41%,#fbeced 21.7%,#f5d0d2 29.87%,#f2bdc0 33.02%,#eda8ac 34.91%,#ea989d 36.16%,#eb9fa3 38.05%,#ea9a9e 39.31%,#eba0a4 39.94%,#f8dadc 43.08%,#f9e2e3 43.71%,#f9e0e2 44.34%,#f3c6c9 47.48%,#f0b6ba 49.37%,#eca3a8 50.63%,#ea989c 51.26%,#e99499 51.89%,#ea9b9f 53.14%,#f2c2c4 55.03%,#f9e4e5 57.55%,#f6f0f5 59.43%,#eeecf8 60.06%,#b0c0f9 62.58%,#8ba2f7 63.84%,#718ef5 64.47%,#6483f4 65.09%,#6080f3 65.72%,#718ef5 66.98%,#7490f5 68.24%,#819af6 69.5%,#a1b4f8 71.38%,#b5c4fa 73.27%,#ccd6fb 77.04%,#dee5fd 83.33%,#edf1fe 95.91%,#f0f3fe 99.69%)"></i><i style="background:linear-gradient(90deg,#d6defc 0.3145%,#c4d0fb 3.459%,#b5c4fa 4.717%,#a4b6f8 5.346%,#9cb0f8 5.975%,#a9bbf9 6.604%,#abbcf9 7.233%,#a8baf9 7.862%,#a0b3f8 8.491%,#8aa2f7 9.119%,#829bf6 9.748%,#a3b6f8 10.38%,#b2c1f9 11.01%,#beccfa 12.26%,#d6defc 13.52%,#ecf0fe 15.41%,#fcfbfc 17.92%,#fae5e6 25.47%,#f4cbce 31.13%,#f1bcbf 33.02%,#eca2a6 34.91%,#eb9fa3 35.53%,#eda7ab 37.42%,#eca2a6 38.68%,#eda8ac 39.31%,#f7dadb 41.82%,#fae4e5 42.45%,#fae7e9 43.08%,#f1bdc0 48.74%,#eeaaae 50%,#eb9fa3 50.63%,#eb9ba0 51.26%,#eb9da2 51.89%,#eca3a8 52.52%,#f5cdcf 54.4%,#f9e8ea 56.29%,#f5f0f7 57.55%,#e9e9f9 58.18%,#c5d0fa 59.43%,#9baff8 60.69%,#6786f4 61.95%,#5f7ff3 62.58%,#6383f4 63.21%,#6d8bf4 63.84%,#7591f5 65.09%,#7d98f6 65.72%,#a3b6f8 67.61%,#b9c7fa 69.5%,#cdd7fb 72.64%,#dfe6fd 78.3%,#eef2fe 89.62%,#f4f6fe 99.69%)"></i><i style="background:linear-gradient(90deg,#e2e8fd 0.3145%,#d1dafc 5.346%,#bdcbfa 7.862%,#b4c3fa 8.491%,#a4b6f8 9.119%,#99aef8 9.748%,#a3b6f8 10.38%,#a1b4f8 11.01%,#95aaf7 11.64%,#819af6 12.26%,#9baff8 12.89%,#adbdf9 13.52%,#b5c4fa 14.15%,#d0d9fc 15.41%,#eaeefd 17.3%,#fafafd 19.18%,#fef8f9 21.07%,#f7d7d9 29.25%,#f3c6c8 31.76%,#eda6aa 34.28%,#eeaaae 35.53%,#eeaeb2 36.79%,#eda8ac 38.05%,#efb0b3 38.68%,#f9e3e4 41.19%,#fbeced 41.82%,#fbebec 42.45%,#f6d4d6 45.6%,#f3c2c5 48.11%,#efb0b4 49.37%,#eda5a9 50%,#eca1a5 50.63%,#eca4a8 51.26%,#eeacb0 51.89%,#f7d7d9 53.77%,#f9e2e4 54.4%,#f6eff4 55.66%,#edecf9 56.29%,#c3cffa 57.55%,#91a7f7 58.81%,#708df5 59.43%,#5f7ff3 60.06%,#6282f4 60.69%,#6c8af4 61.32%,#6f8cf5 61.95%,#7994f5 62.58%,#a4b6f8 64.47%,#bcc9fa 66.35%,#d1dafc 69.5%,#e2e8fd 75.16%,#f1f4fe 87.11%,#f6f8fe 99.69%)"></i><i style="background:linear-gradient(90deg,#e9eefd 0.3145%,#d9e1fc 6.604%,#c6d2fb 9.748%,#b7c6fa 11.01%,#aabbf9 11.64%,#98adf8 12.26%,#9cb0f8 12.89%,#96abf7 13.52%,#849df6 14.15%,#a9bbf9 15.41%,#c8d3fb 16.67%,#e7ecfd 18.55%,#fbfbfe 20.44%,#fefafa 21.7%,#f7d7d9 29.25%,#f3c2c5 31.76%,#efb0b3 33.02%,#eeabae 33.65%,#f0b4b8 35.53%,#efafb2 37.42%,#f0b7ba 38.05%,#fbebec 40.57%,#fcf0f1 41.19%,#fae8e9 42.45%,#f4c7ca 47.48%,#f0b5b9 48.74%,#eeaaae 49.37%,#eda6aa 50%,#eeaaae 50.63%,#f0b4b7 51.26%,#f9e1e3 53.14%,#f5f0f6 54.4%,#e4e6f9 55.03%,#cdd6fa 55.66%,#94a9f7 56.92%,#708df5 57.55%,#5d7ef3 58.18%,#7591f5 60.06%,#98adf8 61.32%,#b0c0f9 62.58%,#c4d0fb 64.47%,#d7dffc 67.61%,#e8ecfd 73.9%,#f4f6fe 87.74%,#f8faff 99.69%)"></i><i style="background:linear-gradient(90deg,#edf1fe 0.3145%,#e0e6fd 7.233%,#cdd8fb 11.01%,#b9c7fa 12.89%,#acbdf9 13.52%,#98adf8 14.15%,#95aaf7 14.78%,#89a1f6 15.41%,#8da4f7 16.04%,#b8c6fa 17.3%,#d6defc 18.55%,#f2f5fe 20.44%,#fefdfd 21.7%,#f8dbdc 28.62%,#f4cbce 30.5%,#efb1b5 32.39%,#efb0b4 33.02%,#f1babd 34.91%,#f0b5b8 36.79%,#f2bec1 37.42%,#fae7e8 39.31%,#fcf2f2 39.94%,#fdf3f4 40.57%,#f8dfe0 43.71%,#f4ccce 46.86%,#f1babd 48.11%,#efafb2 48.74%,#eeabaf 49.37%,#efafb3 50%,#f1bbbe 50.63%,#f8dedf 51.89%,#f8e8eb 52.52%,#f4eff6 53.14%,#e0e3f9 53.77%,#c5d0fa 54.4%,#6181f4 56.29%,#7793f5 58.18%,#9eb2f8 59.43%,#b6c5fa 60.69%,#c9d4fb 62.58%,#dde4fd 66.35%,#ecf0fe 73.27%,#f7f9fe 90.25%,#fafbff 99.69%)"></i><i style="background:linear-gradient(90deg,#f0f3fe 0.3145%,#e2e8fd 8.491%,#d0dafc 12.26%,#bccafa 14.15%,#b0c0f9 14.78%,#9db1f8 15.41%,#8fa6f7 16.04%,#859ef6 16.67%,#96abf7 17.3%,#aebff9 17.92%,#c3cffb 18.55%,#dee5fd 19.81%,#fbfbfe 21.7%,#fefdfd 22.33%,#f8dedf 27.99%,#f5cdcf 29.87%,#f0b4b8 31.76%,#f1babd 33.02%,#f2c0c3 34.28%,#f1babd 36.16%,#f3c4c7 36.79%,#fcefef 38.68%,#fdf6f7 39.31%,#fdf5f6 39.94%,#fae5e6 42.45%,#f6d5d7 45.6%,#f4c9cb 46.86%,#efb3b7 48.11%,#efb0b4 48.74%,#f0b5b8 49.37%,#f3c3c5 50%,#f8e5e7 51.26%,#f5eef4 51.89%,#e2e4f9 52.52%,#c3cffa 53.14%,#9fb3f8 53.77%,#7692f5 54.4%,#6584f4 55.03%,#7591f5 56.29%,#9fb2f8 57.55%,#b8c6fa 58.81%,#ccd6fb 60.69%,#dde4fd 63.84%,#ecf0fe 70.13%,#f7f9fe 85.22%,#fbfbff 99.69%)"></i><i style="background:linear-gradient(90deg,#f2f5fe 0.3145%,#e6ebfd 8.491%,#d8e0fc 12.26%,#cad5fb 14.15%,#b9c7fa 15.41%,#aabbf9 16.04%,#94a9f7 16.67%,#869ef6 17.3%,#91a7f7 17.92%,#aebef9 18.55%,#c3d0fb 19.18%,#e0e7fd 20.44%,#f6f8fe 21.7%,#fefdfe 22.33%,#f9e0e1 27.36%,#f5ced0 29.25%,#f1bbbe 30.5%,#f1b8bb 31.13%,#f3c4c7 33.02%,#f3c2c5 34.28%,#f2bfc2 34.91%,#f2c0c2 35.53%,#f4cbcd 36.16%,#fdf5f6 38.05%,#fef9f9 38.68%,#fae7e8 41.82%,#f7d8da 44.97%,#f5cccf 46.23%,#f0b7bb 47.48%,#f0b4b8 48.11%,#f1babd 48.74%,#f8dddf 50%,#f6eaee 50.63%,#e8e8f8 51.26%,#c8d2fa 51.89%,#a1b4f8 52.52%,#7692f5 53.14%,#6b89f4 53.77%,#738ff5 54.4%,#809af6 55.03%,#98adf8 55.66%,#aabbf9 56.29%,#c0cdfa 57.55%,#d2dbfc 59.43%,#e3e9fd 63.21%,#f1f4fe 71.38%,#fbfbff 94.03%,#fbfcff 99.69%)"></i><i style="background:linear-gradient(90deg,#f4f6fe 0.3145%,#e8edfd 9.119%,#dae2fc 12.89%,#ccd7fb 14.78%,#bbc9fa 16.04%,#adbdf9 16.67%,#95abf7 17.3%,#849df6 17.92%,#99aef8 18.55%,#b7c5fa 19.18%,#cbd5fb 19.81%,#e8ecfd 21.07%,#fdfdff 22.33%,#fae7e8 26.1%,#f7d6d8 27.99%,#f1bdc0 29.87%,#f1bdc0 30.5%,#f4c9cb 32.39%,#f3c6c9 33.65%,#f3c3c5 34.28%,#f3c5c7 34.91%,#fbeff0 36.79%,#fcf7f9 37.42%,#fefafa 38.05%,#fbebec 40.57%,#f8dbdd 44.34%,#f5d0d2 45.6%,#f1bbbe 46.86%,#f1b8bb 47.48%,#f2bfc2 48.11%,#f7e2e6 49.37%,#f1ebf4 50%,#d2d8f9 50.63%,#abbcf9 51.26%,#7d98f6 51.89%,#708df5 52.52%,#7793f5 53.14%,#89a1f6 53.77%,#a0b4f8 54.4%,#b1c1f9 55.03%,#c5d1fb 56.29%,#d6defc 58.18%,#e6ebfd 61.95%,#f3f5fe 70.13%,#fbfcff 94.65%,#fcfdff 99.69%)"></i><i style="background:linear-gradient(90deg,#f5f7fe 0.3145%,#e9eefd 9.748%,#dbe2fc 13.52%,#ccd7fb 15.41%,#b9c7fa 16.67%,#a8b9f9 17.3%,#8da4f7 17.92%,#8ca3f7 18.55%,#adbef9 19.18%,#c5d1fb 19.81%,#e6ebfd 21.07%,#fdfdfe 22.33%,#f9e3e5 26.1%,#f5cdd0 27.99%,#f3c4c7 28.62%,#f2bfc2 29.25%,#f5cdcf 31.76%,#f3c6c9 33.65%,#f4cacc 34.28%,#fcf4f6 36.16%,#fcf9fb 36.79%,#fdfafb 37.42%,#fbedee 39.94%,#f8dedf 43.71%,#f6d3d5 44.97%,#f2bfc2 46.23%,#f1bcbf 46.86%,#f3c4c7 47.48%,#f7d7d9 48.11%,#f5e7ec 48.74%,#e2e3f7 49.37%,#bbc8f9 50%,#8ca3f7 50.63%,#7490f5 51.26%,#7b96f5 51.89%,#8da4f7 52.52%,#a5b7f8 53.14%,#b5c4fa 53.77%,#c9d4fb 55.03%,#dde4fd 57.55%,#ecf0fe 62.58%,#f7f9fe 74.53%,#fcfdff 99.69%)"></i><i style="background:linear-gradient(90deg,#f6f8fe 0.3145%,#ebeffe 9.748%,#dee5fd 13.52%,#d1dafc 15.41%,#c0ccfa 16.67%,#b1c1f9 17.3%,#99adf8 17.92%,#89a1f6 18.55%,#a9baf9 19.18%,#c4d0fb 19.81%,#e7ecfd 21.07%,#f5f7fe 21.7%,#fefdfe 22.33%,#f8dee0 26.1%,#f3c4c7 27.99%,#f3c3c6 28.62%,#f5d0d2 30.5%,#f5d0d2 31.76%,#f4cacc 33.02%,#f5cfd1 33.65%,#faecee 34.91%,#faf6f9 35.53%,#fdfbfd 36.16%,#fbeced 39.94%,#f9e0e2 43.08%,#f7d6d8 44.34%,#f3c2c5 45.6%,#f2bfc2 46.23%,#f4c9cb 46.86%,#f6dcde 47.48%,#f1e9f2 48.11%,#cfd6f8 48.74%,#a2b5f8 49.37%,#7b96f5 50%,#7e98f6 50.63%,#8da4f7 51.26%,#a5b8f9 51.89%,#b7c5fa 52.52%,#cbd6fb 53.77%,#dbe3fc 55.66%,#eaeefd 59.43%,#f6f8fe 68.87%,#fdfdff 99.69%)"></i><i style="background:linear-gradient(90deg,#f7f9fe 0.3145%,#edf0fe 9.748%,#e0e7fd 13.52%,#d3dcfc 15.41%,#c3cffb 16.67%,#b5c4fa 17.3%,#9eb2f8 17.92%,#8ca3f7 18.55%,#c7d2fb 19.81%,#eceffe 21.07%,#f9fafe 21.7%,#fefcfc 22.33%,#f8dedf 25.47%,#f5ccce 26.73%,#f3c6c8 27.36%,#f5cdcf 28.62%,#f6d4d6 29.87%,#f5d0d3 31.76%,#f5ced0 32.39%,#f6d4d6 33.02%,#fcf3f4 34.28%,#f7f6fb 34.91%,#fcfbfd 35.53%,#fceff0 38.68%,#f9e3e4 42.45%,#f7d9db 43.71%,#f3c5c8 44.97%,#f3c3c6 45.6%,#f5ced0 46.23%,#f5dfe3 46.86%,#e8e5f5 47.48%,#becaf9 48.11%,#8ca3f7 48.74%,#809af6 49.37%,#8aa2f7 50%,#a3b6f8 50.63%,#b7c5fa 51.26%,#ccd7fb 52.52%,#dde4fd 54.4%,#ebeffe 58.18%,#f7f8fe 67.61%,#fdfdff 99.69%)"></i><i style="background:linear-gradient(90deg,#f7f9fe 0.3145%,#eef1fe 9.748%,#e2e8fd 13.52%,#d5ddfc 15.41%,#c4d0fb 16.67%,#b5c4fa 17.3%,#9db1f8 17.92%,#93a9f7 18.55%,#b3c3fa 19.18%,#ced8fb 19.81%,#f3f5fe 21.07%,#fdfcfd 21.7%,#fae5e7 24.21%,#f4cbcd 26.1%,#f4c9cc 26.73%,#f7d8da 29.25%,#f6d3d5 31.13%,#f6d1d3 31.76%,#f7d9db 32.39%,#f9f4f8 33.65%,#f9f9fd 34.28%,#fef9fa 35.53%,#fae5e6 41.82%,#f8dbdd 43.08%,#f4c9cb 44.34%,#f3c6c9 44.97%,#f6d2d4 45.6%,#f4e2e8 46.23%,#dbddf6 46.86%,#acbcf9 47.48%,#869ff6 48.11%,#89a1f6 48.74%,#b4c3fa 50%,#c3cffb 50.63%,#d4ddfc 51.89%,#e4eafd 54.4%,#f2f4fe 60.06%,#fbfcff 76.42%,#fdfeff 99.69%)"></i><i style="background:linear-gradient(90deg,#f8f9fe 0.3145%,#eef2fe 9.748%,#e2e8fd 13.52%,#d5defc 15.41%,#c3cffb 16.67%,#b2c2f9 17.3%,#9aaef8 17.92%,#9fb2f8 18.55%,#c0cdfa 19.18%,#d9e0fc 19.81%,#ecf0fe 20.44%,#fafafe 21.07%,#fef9fa 21.7%,#f8dcde 24.21%,#f4ccce 25.47%,#f6d2d4 26.73%,#f8dbdd 28.62%,#f6d5d7 31.13%,#f8dee0 31.76%,#faedef 32.39%,#f6f3fa 33.02%,#fafafe 33.65%,#fdf6f7 35.53%,#fae7e8 41.19%,#f8dedf 42.45%,#f4ccce 43.71%,#f4c9cc 44.34%,#f6d5d8 44.97%,#f2e5ed 45.6%,#ced4f7 46.23%,#9cb0f8 46.86%,#8aa2f7 47.48%,#96abf7 48.11%,#aebff9 48.74%,#c0cdfa 49.37%,#d4dcfc 50.63%,#e5eafd 53.14%,#f2f4fe 58.18%,#fbfcff 73.27%,#fefeff 99.69%)"></i><i style="background:linear-gradient(90deg,#f8faff 0.3145%,#eff2fe 9.748%,#e3e8fd 13.52%,#d4ddfc 15.41%,#ccd6fb 16.04%,#bfccfa 16.67%,#9aaef8 17.92%,#b1c1f9 18.55%,#cfd9fc 19.18%,#e6ebfd 19.81%,#f7f8fe 20.44%,#fdfafa 21.07%,#f9e4e5 22.96%,#f6d1d3 24.21%,#f5ced1 24.84%,#f8dddf 27.36%,#f8dcdd 29.25%,#f7d9da 30.5%,#f8e3e5 31.13%,#faf1f4 31.76%,#f5f5fb 32.39%,#f9fafe 33.02%,#fef9f9 34.28%,#fae9ea 40.57%,#f9e0e2 41.82%,#f5ced1 43.08%,#f5ccce 43.71%,#f6d8db 44.34%,#ece3f0 44.97%,#c2ccf8 45.6%,#95aaf7 46.23%,#91a8f7 46.86%,#bbc9fa 48.11%,#c9d4fb 48.74%,#d9e1fc 50%,#e8edfd 52.52%,#f4f6fe 58.18%,#fcfdff 77.04%,#fefeff 99.69%)"></i><i style="background:linear-gradient(90deg,#f9faff 0.3145%,#eff3fe 9.748%,#e2e8fd 13.52%,#d2dbfc 15.41%,#c7d3fb 16.04%,#b7c6fa 16.67%,#a2b5f8 17.3%,#a7b9f9 17.92%,#c7d2fb 18.55%,#e1e7fd 19.18%,#f4f6fe 19.81%,#fdfafb 20.44%,#f9e2e3 22.33%,#f6d1d3 23.58%,#f7d6d8 24.84%,#f9e0e2 26.73%,#f8dee0 28.62%,#f8dbdc 29.25%,#f8ddde 29.87%,#f8f3f8 31.13%,#f7f7fd 31.76%,#fefbfc 33.02%,#fbeaeb 39.94%,#f9e2e4 41.19%,#f6d1d3 42.45%,#f5cfd1 43.08%,#f5dbde 43.71%,#e6e1f2 44.34%,#b7c4f8 44.97%,#96abf7 45.6%,#9baff8 46.23%,#b3c2f9 46.86%,#c5d0fb 47.48%,#d8e0fc 48.74%,#e8edfd 51.26%,#f4f6fe 56.92%,#fcfdff 75.79%,#fefeff 99.69%)"></i><i style="background:linear-gradient(90deg,#f9faff 0.3145%,#eff3fe 9.748%,#e1e7fd 13.52%,#d6dffc 14.78%,#ced8fb 15.41%,#c0cdfa 16.04%,#acbdf9 16.67%,#a5b7f8 17.3%,#dde4fd 18.55%,#f2f4fd 19.18%,#fcf9fa 19.81%,#fbeaeb 21.07%,#f7d6d8 22.33%,#f6d3d5 22.96%,#f9e2e3 25.47%,#f9e2e4 27.36%,#f8dddf 28.62%,#f9e0e2 29.25%,#f9ecee 29.87%,#f5f2f9 30.5%,#f8f9fe 31.13%,#fefbfc 32.39%,#fbeced 39.31%,#fae4e5 40.57%,#f6d4d6 41.82%,#f6d2d4 42.45%,#f4dce1 43.08%,#e2e0f4 43.71%,#afbff8 44.34%,#9aaef8 44.97%,#a6b8f9 45.6%,#bdcafa 46.23%,#ccd6fb 46.86%,#dce3fc 48.11%,#ebeffe 50.63%,#f6f8fe 56.92%,#fdfdff 80.82%,#fefeff 99.69%)"></i><i style="background:linear-gradient(90deg,#f9faff 0.3145%,#eff3fe 9.748%,#e4e9fd 12.89%,#d2dbfc 14.78%,#c6d2fb 15.41%,#b4c3fa 16.04%,#a7b9f9 16.67%,#bbc8fa 17.3%,#dae1fc 17.92%,#f1f3fd 18.55%,#fcf8fa 19.18%,#fae8e9 20.44%,#f7d6d7 21.7%,#f8dadc 22.96%,#fae5e6 24.84%,#fae5e6 26.73%,#f9e0e1 27.99%,#f9e4e6 28.62%,#faf1f3 29.25%,#f4f4fb 29.87%,#f8f9fe 30.5%,#fefbfb 31.76%,#fbedee 38.68%,#fae6e7 39.94%,#f7d6d8 41.19%,#f6d4d6 41.82%,#f3dee4 42.45%,#dadbf5 43.08%,#acbdf9 43.71%,#9fb3f8 44.34%,#c5d1fb 45.6%,#d2dbfc 46.23%,#e0e6fd 47.48%,#eef2fe 50.63%,#f9faff 58.81%,#fefeff 99.69%)"></i><i style="background:linear-gradient(90deg,#f9fbff 0.3145%,#f1f4fe 9.119%,#e6ebfd 12.26%,#d6defc 14.15%,#cbd5fb 14.78%,#acbdf9 16.04%,#b9c8fa 16.67%,#d8e0fc 17.3%,#f1f3fd 17.92%,#fbf7f9 18.55%,#fae5e6 19.81%,#f8dbdc 20.44%,#f7d7d9 21.07%,#fae6e7 23.58%,#fae6e8 26.1%,#f9e2e3 27.36%,#f9e8ea 27.99%,#f8f2f6 28.62%,#f6f7fd 29.25%,#fdfcfd 30.5%,#fcefef 38.05%,#f9e2e3 39.94%,#f7d9db 40.57%,#f7d6d8 41.19%,#f3e0e6 41.82%,#d4d7f5 42.45%,#abbcf9 43.08%,#a6b8f9 43.71%,#ccd6fb 44.97%,#dee5fd 46.23%,#ecf0fe 48.74%,#f7f9fe 55.03%,#fdfeff 81.45%,#fefeff 99.69%)"></i><i style="background:linear-gradient(90deg,#fafbff 0.3145%,#f0f3fe 9.119%,#e4e9fd 12.26%,#d8e0fc 13.52%,#ced8fb 14.15%,#b0c0f9 15.41%,#bbc9fa 16.04%,#d9e0fc 16.67%,#f2f3fc 17.3%,#fbf5f7 17.92%,#f7dadc 19.81%,#f8dee0 21.07%,#fae8e9 22.96%,#fae8e9 25.47%,#fae5e6 26.73%,#f6f3f8 27.99%,#f7f8fe 28.62%,#fefcfd 29.87%,#fcf0f0 37.42%,#f9e4e5 39.31%,#f8dbdd 39.94%,#f7d9da 40.57%,#f2e1e8 41.19%,#d0d4f6 41.82%,#acbdf9 42.45%,#adbef9 43.08%,#c2cffb 43.71%,#d1dbfc 44.34%,#e1e7fd 45.6%,#eef2fe 48.11%,#f8faff 55.03%,#fefeff 88.36%,#fefeff 99.69%)"></i><i style="background:linear-gradient(90deg,#fafbff 0.3145%,#f1f4fe 8.491%,#e5ebfd 11.64%,#dae2fc 12.89%,#d0dafc 13.52%,#b4c3fa 14.78%,#becbfa 15.41%,#dbe2fc 16.04%,#f3f3fc 16.67%,#fbf3f5 17.3%,#f8dfe1 18.55%,#f8dbdd 19.18%,#fbe9ea 21.7%,#fbebec 24.21%,#fae7e8 26.1%,#faf0f2 26.73%,#f5f3fa 27.36%,#f8f9fe 27.99%,#fefcfd 29.25%,#fcf1f2 36.79%,#fae6e7 38.68%,#f8dddf 39.31%,#f8dbdc 39.94%,#f2e3ea 40.57%,#cdd2f6 41.19%,#afbff9 41.82%,#b4c3fa 42.45%,#c9d4fb 43.08%,#d6defc 43.71%,#e4e9fd 44.97%,#f1f4fe 48.11%,#fafbff 57.55%,#fefeff 99.69%)"></i><i style="background:linear-gradient(90deg,#fafbff 0.3145%,#f0f3fe 8.491%,#e7ecfd 11.01%,#dce3fc 12.26%,#d2dbfc 12.89%,#b7c6fa 14.15%,#c2cffb 14.78%,#dfe5fc 15.41%,#f6f4fa 16.04%,#fbf1f2 16.67%,#f8dedf 17.92%,#f9e2e3 19.18%,#fbecec 21.07%,#fbeded 23.58%,#fae9ea 24.84%,#fae9eb 25.47%,#f9f2f5 26.1%,#f6f6fc 26.73%,#fdfcfe 27.99%,#fcf2f3 36.16%,#fae7e8 38.05%,#f9e0e1 38.68%,#f8ddde 39.31%,#f2e4ec 39.94%,#cbd2f7 40.57%,#b2c1f9 41.19%,#bbc9fa 41.82%,#ced8fb 42.45%,#dae1fc 43.08%,#e6ebfd 44.34%,#f2f5fe 47.48%,#fbfcff 57.55%,#feffff 99.69%)"></i><i style="background:linear-gradient(90deg,#fafbff 0.3145%,#f1f4fe 7.862%,#e8ecfd 10.38%,#dde4fd 11.64%,#d3dcfc 12.26%,#bac8fa 13.52%,#c8d3fb 14.15%,#e4e9fc 14.78%,#f7f3f8 15.41%,#fceeef 16.04%,#f9e3e4 16.67%,#f8dfe1 17.3%,#fbeeee 20.44%,#fceeef 22.96%,#fbeaeb 24.21%,#faecee 24.84%,#f7f8fd 26.1%,#fefdfe 27.36%,#fdf3f3 35.53%,#fbe9ea 37.42%,#f9e2e3 38.05%,#f8dee0 38.68%,#f2e6ed 39.31%,#cbd2f7 39.94%,#b5c4fa 40.57%,#c1cdfa 41.19%,#d2dbfc 41.82%,#e4e9fd 43.08%,#f0f3fe 45.6%,#fafbff 53.14%,#feffff 99.69%)"></i><i style="background:linear-gradient(90deg,#fafbff 0.3145%,#f0f3fe 7.862%,#e4e9fd 10.38%,#d3dcfc 11.64%,#c6d1fb 12.26%,#becbfa 12.89%,#ced8fb 13.52%,#ebedfb 14.15%,#f8f1f5 14.78%,#fbeaeb 15.41%,#f9e1e3 16.04%,#fae5e6 17.3%,#fceeef 19.18%,#fceff0 22.33%,#fbeced 23.58%,#faeff1 24.21%,#f7f4f9 24.84%,#f8f9fe 25.47%,#fefcfc 27.36%,#fcf2f2 35.53%,#fbebec 36.79%,#f9e0e2 38.05%,#f3e7ee 38.68%,#ccd3f8 39.31%,#b9c7fa 39.94%,#d6defc 41.19%,#e6ebfd 42.45%,#f1f4fe 44.97%,#fafbff 53.14%,#feffff 99.69%)"></i><i style="background:linear-gradient(90deg,#fafbff 0.3145%,#f1f4fe 7.233%,#e4eafd 9.748%,#d3dcfc 11.01%,#c6d2fb 11.64%,#c2cefb 12.26%,#d6ddfb 12.89%,#f0effa 13.52%,#faf0f2 14.15%,#fae6e7 14.78%,#f9e2e4 15.41%,#fcf0f1 18.55%,#fcf0f1 21.7%,#fbedee 22.96%,#fbf2f4 23.58%,#f6f5fa 24.21%,#f9fafe 24.84%,#fefcfc 26.73%,#fdf3f3 34.91%,#fbeced 36.16%,#f9e2e3 37.42%,#f2e7ef 38.05%,#cdd5f8 38.68%,#bdcafa 39.31%,#d9e1fc 40.57%,#e8edfd 41.82%,#f4f6fe 44.97%,#fcfcff 55.66%,#fff 99.69%)"></i><i style="background:linear-gradient(90deg,#f9fbff 0.3145%,#f1f4fe 6.604%,#e4eafd 9.119%,#d2dbfc 10.38%,#c6d2fb 11.01%,#c8d3fb 11.64%,#dee3fb 12.26%,#f4eff7 12.89%,#fbedee 13.52%,#fae5e6 14.15%,#fae8e9 15.41%,#fcf1f1 17.3%,#fcf1f2 21.07%,#fbeff0 22.33%,#f8f7fc 23.58%,#fdfdfe 24.84%,#fdf4f4 34.28%,#fbedee 35.53%,#f9e3e5 36.79%,#f3e8ef 37.42%,#cfd6f9 38.05%,#c0cdfa 38.68%,#dce3fc 39.94%,#eaeefd 41.19%,#f5f7fe 44.34%,#fcfdff 55.66%,#fff 99.69%)"></i><i style="background:linear-gradient(90deg,#f9faff 0.3145%,#f1f4fe 5.975%,#e4eafd 8.491%,#d1dbfc 9.748%,#c7d3fb 10.38%,#d0d9fb 11.01%,#e8eafa 11.64%,#f7eff4 12.26%,#fbe9ea 12.89%,#fae6e7 13.52%,#fcf2f3 16.67%,#fcf2f3 20.44%,#fbf0f2 21.7%,#f9f9fd 22.96%,#fffdfd 24.84%,#fdf4f5 33.65%,#fbe9ea 35.53%,#fae5e6 36.16%,#f3e9f0 36.79%,#d1d7f9 37.42%,#c4d0fb 38.05%,#dfe5fd 39.31%,#ebeffe 40.57%,#f5f7fe 43.71%,#fdfdff 56.29%,#fff 99.69%)"></i><i style="background:linear-gradient(90deg,#f9faff 0.3145%,#f0f3fe 5.975%,#e4e9fd 7.862%,#cad5fb 9.748%,#d8dffb 10.38%,#efeef9 11.01%,#f9edf0 11.64%,#fae7e9 12.26%,#fbebec 13.52%,#fdf4f4 16.04%,#fdf3f3 19.81%,#fbf2f3 21.07%,#fafafe 22.33%,#fffdfd 24.21%,#fdf5f6 33.02%,#fbebec 34.91%,#fae6e7 35.53%,#f4eaf0 36.16%,#d3d9f9 36.79%,#c7d2fb 37.42%,#e1e7fd 38.68%,#ecf0fe 39.94%,#f7f9fe 43.71%,#fdfeff 60.06%,#fff 99.69%)"></i><i style="background:linear-gradient(90deg,#f9faff 0.3145%,#f0f3fe 5.346%,#e3e9fd 7.233%,#d0d9fc 8.491%,#ced8fb 9.119%,#e2e6fb 9.748%,#f3edf5 10.38%,#fbecec 11.01%,#fae8e9 11.64%,#fdf4f4 14.78%,#fdf4f4 19.18%,#fcf4f6 20.44%,#f9f7fb 21.07%,#fdfdff 22.33%,#fdf6f6 32.39%,#fbeced 34.28%,#fae8e9 34.91%,#f5ebf1 35.53%,#d5dbf9 36.16%,#cad5fb 36.79%,#e3e8fd 38.05%,#edf1fe 39.31%,#f7f9fe 43.08%,#fefeff 61.32%,#fff 99.69%)"></i><i style="background:linear-gradient(90deg,#f8faff 0.3145%,#f0f3fe 4.717%,#e2e8fd 6.604%,#d0d9fc 7.862%,#d6ddfb 8.491%,#ebebf9 9.119%,#f7edf1 9.748%,#fbeaeb 10.38%,#fbeaeb 11.01%,#fdf4f5 13.52%,#fdf6f6 17.92%,#fcf3f4 19.18%,#fbfcff 21.07%,#fffdfd 22.96%,#fdf7f7 31.76%,#fbeeee 33.65%,#fae9ea 34.28%,#f6ebf1 34.91%,#d8ddf9 35.53%,#cdd7fb 36.16%,#e4eafd 37.42%,#f1f4fe 39.31%,#fafbff 44.97%,#fff 87.74%,#fff 99.69%)"></i><i style="background:linear-gradient(90deg,#f8f9fe 0.3145%,#f0f3fe 4.088%,#e8ecfd 5.346%,#d1dafb 7.233%,#f0ecf6 8.491%,#faecee 9.119%,#fbeced 10.38%,#fdf6f6 12.89%,#fdf6f7 17.3%,#fcf4f5 18.55%,#fcfcff 20.44%,#fffdfd 22.96%,#fdf7f8 31.13%,#fceff0 33.02%,#fbeaeb 33.65%,#f6ecf1 34.28%,#dadff9 34.91%,#d0d9fc 35.53%,#e6ebfd 36.79%,#f2f5fe 38.68%,#fafbff 44.34%,#fff 92.14%,#fff 99.69%)"></i><i style="background:linear-gradient(90deg,#f7f9fe 0.3145%,#eff3fe 3.459%,#e6ebfd 4.717%,#d6defc 5.975%,#d6defb 6.604%,#e9eafa 7.233%,#f5ecf2 7.862%,#fbeded 8.491%,#fbeced 9.119%,#fdf6f6 11.64%,#fdf7f7 16.67%,#fdf5f6 17.92%,#fbfbfe 19.18%,#fffdfd 21.7%,#fdf6f7 31.13%,#fbecec 33.02%,#f7ecf1 33.65%,#dde0f9 34.28%,#d2dbfc 34.91%,#e7ecfd 36.16%,#f3f5fe 38.05%,#fbfcff 44.34%,#fff 99.69%)"></i><i style="background:linear-gradient(90deg,#f7f8fe 0.3145%,#eff2fe 2.83%,#e5eafd 4.088%,#d6defc 5.346%,#e0e4fb 5.975%,#efecf6 6.604%,#faedf0 7.233%,#fcefef 8.491%,#fdf7f7 11.01%,#fdf6f7 17.3%,#fcfcfe 18.55%,#fffdfd 21.7%,#fdf7f7 30.5%,#fbedee 32.39%,#f7ecf1 33.02%,#dfe2f9 33.65%,#d4ddfc 34.28%,#e8edfd 35.53%,#f3f6fe 37.42%,#fbfcff 44.34%,#fff 99.69%)"></i><i style="background:linear-gradient(90deg,#f5f7fe 0.3145%,#eaeefd 2.83%,#dbe3fc 4.088%,#d9e0fb 4.717%,#eaebfa 5.346%,#f4ecf2 5.975%,#fcefef 6.604%,#fceeef 7.233%,#fdf7f7 9.748%,#fdf8f8 15.41%,#fdf8f9 16.67%,#fcfdff 17.92%,#fffdfd 22.33%,#fdf7f8 29.87%,#fceeef 31.76%,#f8edf1 32.39%,#e1e4f9 33.02%,#d7dffc 33.65%,#e9eefd 34.91%,#f4f6fe 36.79%,#fcfcff 43.71%,#fff 99.69%)"></i><i style="background:linear-gradient(90deg,#f3f6fe 0.3145%,#e8edfd 2.201%,#dbe2fc 3.459%,#e1e5fb 4.088%,#f0ecf7 4.717%,#f9eff1 5.346%,#fcf1f1 6.604%,#fef8f8 9.119%,#fdf7f8 15.41%,#fcfdff 17.3%,#fefcfc 23.58%,#fdf6f7 29.87%,#fceff0 31.13%,#f8edf1 31.76%,#e4e6f9 32.39%,#d9e1fc 33.02%,#eaeefd 34.28%,#f5f7fe 36.16%,#fcfdff 43.71%,#fff 99.69%)"></i><i style="background:linear-gradient(90deg,#f0f3fe 0.3145%,#dce2fb 2.83%,#ebecfa 3.459%,#f4ecf3 4.088%,#fcf1f1 4.717%,#fdf3f4 5.975%,#fefafa 10.38%,#fdf8f8 14.78%,#fdfdff 16.67%,#fef8f9 28.62%,#f9eef1 31.13%,#e7e8f9 31.76%,#dbe2fc 32.39%,#ebeffe 33.65%,#f5f7fe 35.53%,#fcfdff 43.08%,#fff 99.69%)"></i><i style="background:linear-gradient(90deg,#ebeffe 0.3145%,#dfe5fc 1.572%,#e3e7fb 2.201%,#f0edf7 2.83%,#faf0f2 3.459%,#fcf3f3 4.717%,#fef9fa 7.862%,#fdf9f9 14.15%,#fefeff 16.04%,#fef9f9 27.99%,#f9eff1 30.5%,#eaeaf9 31.13%,#dde4fd 31.76%,#f1f3fe 33.65%,#fafbff 37.42%,#feffff 64.47%,#fff 99.69%)"></i><i style="background:linear-gradient(90deg,#e3e9fd 0.3145%,#dfe4fb 0.9434%,#edeefa 1.572%,#f4edf4 2.201%,#fcf2f3 2.83%,#fefafa 7.233%,#fdf9fa 13.52%,#fefeff 15.41%,#fef9fa 27.36%,#faeff2 29.87%,#ededf9 30.5%,#dfe6fd 31.13%,#f1f4fe 33.02%,#fafbff 36.79%,#feffff 65.72%,#fff 99.69%)"></i><i style="background:linear-gradient(90deg,#e6e9fb 0.3145%,#faf1f4 1.572%,#fdf4f5 2.83%,#fefbfb 6.604%,#fefafb 12.89%,#fefeff 14.78%,#fef9f9 27.36%,#faf0f2 29.25%,#f0eef9 29.87%,#e2e8fd 30.5%,#e5eafd 31.13%,#f2f4fe 32.39%,#fafbff 36.16%,#fff 67.61%,#fff 99.69%)"></i><i style="background:linear-gradient(90deg,#f5eef4 0.3145%,#fdf3f4 0.9434%,#fefbfb 5.346%,#fefcfc 12.26%,#fffefe 14.78%,#fef9f9 26.73%,#fbf1f3 28.62%,#f1eff8 29.25%,#e3e9fd 29.87%,#e6ebfd 30.5%,#f2f5fe 31.76%,#fafbff 35.53%,#fff 70.13%,#fff 99.69%)"></i><i style="background:linear-gradient(90deg,#fdf3f4 0.3145%,#fefbfb 4.088%,#fefcfd 11.64%,#fffefe 16.04%,#fef9fa 26.1%,#fbf2f3 27.99%,#f3f0f8 28.62%,#e5e9fc 29.25%,#e6ebfd 29.87%,#f3f5fe 31.13%,#fbfbff 34.91%,#fff 72.01%,#fff 99.69%)"></i><i style="background:linear-gradient(90deg,#fdf8f8 0.3145%,#fefcfc 7.862%,#fefcfd 11.01%,#fffdfd 19.81%,#fef8f9 26.1%,#fcf3f4 27.36%,#f5f1f8 27.99%,#e6eafc 28.62%,#e7ecfd 29.25%,#f3f5fe 30.5%,#fbfcff 34.28%,#fff 74.53%,#fff 99.69%)"></i><i style="background:linear-gradient(90deg,#fefafa 0.3145%,#fdfdfe 10.38%,#fefcfc 22.96%,#fdf7f7 26.1%,#fdf4f5 26.73%,#f7f2f8 27.36%,#e8ebfc 27.99%,#e7ecfd 28.62%,#f3f6fe 29.87%,#fbfcff 33.65%,#fff 77.67%,#fff 99.69%)"></i><i style="background:linear-gradient(90deg,#fefbfb 0.3145%,#fdfdfe 9.748%,#fefbfb 23.58%,#fdf5f5 26.1%,#f9f4f8 26.73%,#eaedfc 27.36%,#e8edfd 27.99%,#f4f6fe 29.25%,#fbfcff 33.02%,#fff 81.45%,#fff 99.69%)"></i><i style="background:linear-gradient(90deg,#fefcfc 0.3145%,#fefdfd 8.491%,#fefcfc 22.33%,#fdf5f6 25.47%,#faf5f8 26.1%,#eceefc 26.73%,#e9edfd 27.36%,#f4f6fe 28.62%,#fbfcff 32.39%,#fff 85.22%,#fff 99.69%)"></i><i style="background:linear-gradient(90deg,#fefcfc 0.3145%,#fefdfd 7.862%,#fefbfb 22.96%,#fbf5f7 25.47%,#eeeffc 26.1%,#e9eefd 26.73%,#f7f8fe 28.62%,#fdfdff 35.53%,#fff 99.69%)"></i><i style="background:linear-gradient(90deg,#fffdfd 0.3145%,#fefdfe 7.233%,#fefbfb 22.96%,#fbf5f7 24.84%,#eff1fc 25.47%,#eaeefd 26.1%,#f7f8fe 27.99%,#fdfdff 34.91%,#fff 99.69%)"></i><i style="background:linear-gradient(90deg,#fffdfd 0.3145%,#fffdfd 20.44%,#fcf5f7 24.21%,#ebeffe 25.47%,#f7f9fe 27.36%,#fdfdff 34.28%,#fff 99.69%)"></i><i style="background:linear-gradient(90deg,#fffdfd 0.3145%,#fefcfc 20.44%,#fcf6f7 23.58%,#ecf0fe 24.84%,#f7f9fe 26.73%,#fdfeff 33.65%,#fff 99.69%)"></i><i style="background:linear-gradient(90deg,#fffdfd 0.3145%,#fefbfc 21.07%,#fcf6f7 22.96%,#eef1fe 24.21%,#f9faff 26.73%,#fefeff 39.31%,#fff 99.69%)"></i><i style="background:linear-gradient(90deg,#fffdfe 0.3145%,#fefcfc 20.44%,#fdf7f8 22.33%,#eff2fe 23.58%,#fafbff 26.73%,#fff 48.11%,#fff 99.69%)"></i><i style="background:linear-gradient(90deg,#fffdfe 0.3145%,#fefcfc 19.81%,#fdf8f8 21.7%,#eff2fd 22.96%,#fafbff 26.1%,#fff 48.11%,#fff 99.69%)"></i><i style="background:linear-gradient(90deg,#fffdfe 0.3145%,#fefbfb 19.81%,#fef8f9 21.07%,#faf7fa 21.7%,#f0f2fd 22.33%,#f0f3fe 22.96%,#f9fbff 24.84%,#fefeff 38.05%,#fff 99.69%)"></i><i style="background:linear-gradient(90deg,#fffdfd 0.3145%,#fefcfc 19.18%,#fcf9fa 21.07%,#f1f3fd 21.7%,#f1f3fe 22.33%,#f9fbff 24.21%,#fefeff 37.42%,#fff 99.69%)"></i><i style="background:linear-gradient(90deg,#fffdfd 0.3145%,#fefcfc 18.55%,#fcf8fa 20.44%,#f3f5fd 21.07%,#f1f4fe 21.7%,#fafbff 23.58%,#fefeff 37.42%,#fff 99.69%)"></i><i style="background:linear-gradient(90deg,#fffefe 0.3145%,#fefbfb 18.55%,#fcf8fa 19.81%,#f4f5fd 20.44%,#f1f4fe 21.07%,#fafbff 22.96%,#fefeff 36.79%,#fff 99.69%)"></i><i style="background:linear-gradient(90deg,#fff 0.3145%,#fefbfc 17.92%,#fdf9fa 19.18%,#f2f4fe 20.44%,#fbfcff 22.96%,#fff 48.74%,#fff 99.69%)"></i><i style="background:linear-gradient(90deg,#fff 0.3145%,#fefcfc 17.3%,#fdf9fa 18.55%,#f2f5fe 19.81%,#fbfcff 22.33%,#fff 48.74%,#fff 99.69%)"></i><i style="background:linear-gradient(90deg,#fff 0.3145%,#fefcfc 16.67%,#fdf9fa 17.92%,#f3f6fe 19.18%,#fcfcff 22.33%,#fff 75.79%,#fff 99.69%)"></i><i style="background:linear-gradient(90deg,#fff 0.3145%,#fefbfb 16.67%,#faf8fc 17.92%,#f4f6fe 18.55%,#fcfdff 22.33%,#fff 99.69%)"></i><i style="background:linear-gradient(90deg,#fff 0.3145%,#fefbfc 16.04%,#fbf9fc 17.3%,#f4f6fe 17.92%,#fcfdff 21.7%,#fff 99.69%)"></i><i style="background:linear-gradient(90deg,#fff 0.3145%,#fefcfc 15.41%,#fcfafc 16.67%,#f5f6fe 17.3%,#fdfdff 21.7%,#fff 99.69%)"></i><i style="background:linear-gradient(90deg,#fff 0.3145%,#fefcfc 14.78%,#fdfafc 16.04%,#f6f7fe 16.67%,#f5f7fe 17.3%,#fcfdff 19.81%,#fff 83.96%,#fff 99.69%)"></i><i style="background:linear-gradient(90deg,#fff 0.3145%,#fefbfb 14.78%,#fdfafb 15.41%,#f5f7fe 16.67%,#fcfdff 19.18%,#fff 85.85%,#fff 99.69%)"></i><i style="background:linear-gradient(90deg,#fff 0.3145%,#fefbfb 14.15%,#fdfafb 14.78%,#f5f7fe 16.04%,#fcfdff 19.18%,#fff 99.69%)"></i><i style="background:linear-gradient(90deg,#fff 0.3145%,#fefcfc 13.52%,#fafafd 14.78%,#f6f8fe 15.41%,#fdfdff 19.18%,#fff 99.69%)"></i><i style="background:linear-gradient(90deg,#fff 0.3145%,#fefcfc 12.89%,#fafafd 14.15%,#f6f8fe 14.78%,#fdfeff 19.18%,#fff 99.69%)"></i><i style="background:linear-gradient(90deg,#fff 0.3145%,#fefbfb 12.89%,#f7f8fe 14.15%,#fdfeff 19.18%,#fff 99.69%)"></i><i style="background:linear-gradient(90deg,#fff 0.3145%,#fefbfc 12.26%,#f7f8fe 13.52%,#fdfeff 18.55%,#fff 99.69%)"></i><i style="background:linear-gradient(90deg,#fff 0.3145%,#fdfcfd 12.26%,#f8f9fe 12.89%,#fefeff 19.18%,#fff 99.69%)"></i><i style="background:linear-gradient(90deg,#fff 0.3145%,#fdfcfc 11.64%,#f7f9fe 12.89%,#fdfeff 16.67%,#fff 99.69%)"></i><i style="background:linear-gradient(90deg,#fff 0.3145%,#fefbfc 11.01%,#f8f9fe 12.26%,#fdfeff 16.04%,#fff 99.69%)"></i><i style="background:linear-gradient(90deg,#fff 0.3145%,#fefcfc 10.38%,#f8f9fe 11.64%,#fefeff 16.04%,#fff 99.69%)"></i><i style="background:linear-gradient(90deg,#fff 0.3145%,#fefcfc 9.748%,#f8faff 11.01%,#fefeff 16.04%,#fff 99.69%)"></i></div>
<div class="h" style="left:661px;top:42px;width:160px;height:159px"><i style="background:linear-gradient(90deg,#fff 0.3125%,#fcfdff 86.56%,#f6f8fe 89.06%,#fefbfb 90.94%,#fffefe 99.69%)"></i><i style="background:linear-gradient(90deg,#fff 0.3125%,#fdfdff 85.31%,#f6f8fe 88.44%,#fefbfb 90.31%,#fffefe 99.69%)"></i><i style="background:linear-gradient(90deg,#fff 0.3125%,#fdfdff 84.69%,#f6f8fe 88.44%,#fcfafc 89.06%,#fffefe 97.19%,#fffefe 99.69%)"></i><i style="background:linear-gradient(90deg,#fff 0.3125%,#fcfdff 84.06%,#f5f7fe 87.81%,#fefafb 89.06%,#fffefe 98.44%,#fffefe 99.69%)"></i><i style="background:linear-gradient(90deg,#fff 0.3125%,#fcfdff 83.44%,#f4f6fe 87.19%,#fefafa 88.44%,#fffefe 97.81%,#fffefe 99.69%)"></i><i style="background:linear-gradient(90deg,#fff 0.3125%,#fcfdff 82.81%,#f6f8fe 85.94%,#f4f6fe 86.56%,#fefafa 87.81%,#fffefe 97.81%,#fffefe 99.69%)"></i><i style="background:linear-gradient(90deg,#fff 0.3125%,#fcfdff 82.19%,#f6f8fe 85.31%,#f3f6fe 85.94%,#fefafa 87.19%,#fffefe 95.94%,#fffefe 99.69%)"></i><i style="background:linear-gradient(90deg,#fff 0.3125%,#fcfdff 81.56%,#f6f8fe 84.69%,#f3f6fe 85.31%,#fdf9fa 86.56%,#fffefe 92.81%,#fffefe 99.69%)"></i><i style="background:linear-gradient(90deg,#fff 0.3125%,#fcfdff 80.94%,#f6f8fe 84.06%,#f3f6fe 84.69%,#fefafa 86.56%,#fffefe 94.69%,#fffefe 99.69%)"></i><i style="background:linear-gradient(90deg,#fff 0.3125%,#fcfdff 80.31%,#f6f8fe 83.44%,#f3f5fe 84.06%,#f5f7fe 84.69%,#fcf8fa 85.31%,#fffefe 90.94%,#fffefe 99.69%)"></i><i style="background:linear-gradient(90deg,#fff 0.3125%,#fcfdff 79.69%,#f6f8fe 82.81%,#f3f5fe 83.44%,#f3f5fd 84.06%,#fbf8fa 84.69%,#fffdfd 87.81%,#fffefe 99.69%)"></i><i style="background:linear-gradient(90deg,#fff 0.3125%,#fcfdff 79.06%,#f6f8fe 82.19%,#f2f4fd 83.44%,#faf8fb 84.06%,#fefafb 85.31%,#fffefe 97.81%,#fff 99.69%)"></i><i style="background:linear-gradient(90deg,#fff 0.3125%,#fcfdff 78.44%,#f6f8fe 81.56%,#f1f3fe 82.81%,#faf8fb 83.44%,#fefafa 84.69%,#fffefe 94.69%,#fff 99.69%)"></i><i style="background:linear-gradient(90deg,#fff 0.3125%,#fcfdff 77.81%,#f6f8fe 80.94%,#f0f3fe 82.19%,#fef9f9 83.44%,#fffefe 89.69%,#fff 99.69%)"></i><i style="background:linear-gradient(90deg,#fff 0.3125%,#fcfdff 77.19%,#f6f8fe 80.31%,#eff2fe 81.56%,#fdf8f9 82.81%,#fffefe 88.44%,#fff 99.69%)"></i><i style="background:linear-gradient(90deg,#fff 0.3125%,#fcfcff 76.56%,#f6f8fe 79.69%,#eff2fe 80.94%,#fcf7f8 82.19%,#fffdfd 86.56%,#feffff 99.69%)"></i><i style="background:linear-gradient(90deg,#fff 0.3125%,#fcfcff 75.94%,#f6f8fe 79.06%,#eff2fe 80.31%,#fbf6f8 81.56%,#fffdfd 85.31%,#fdfeff 99.69%)"></i><i style="background:linear-gradient(90deg,#fff 0.3125%,#fcfdff 74.69%,#f6f8fe 78.44%,#eef2fe 79.69%,#fbf6f8 80.94%,#fefcfd 84.06%,#fdfdff 99.06%,#fcfcff 99.69%)"></i><i style="background:linear-gradient(90deg,#fff 0.3125%,#fcfdff 74.06%,#f6f8fe 77.81%,#eef1fe 79.06%,#f0f2fd 79.69%,#faf6f9 80.31%,#fef9fa 81.56%,#fffefe 89.69%,#fcfdff 98.44%,#fcfcfe 99.69%)"></i><i style="background:linear-gradient(90deg,#fff 0.3125%,#fcfdff 73.44%,#f6f8fe 77.19%,#eef1fe 78.44%,#eef1fd 79.06%,#f9f5f9 79.69%,#fef9f9 80.94%,#fffefe 87.81%,#fdfdff 97.19%,#fafbfe 98.44%,#fefbfc 99.69%)"></i><i style="background:linear-gradient(90deg,#fff 0.3125%,#fcfcff 72.81%,#f6f8fe 76.56%,#edf1fe 77.81%,#eceffd 78.44%,#f8f5f9 79.06%,#fdf6f7 79.69%,#fffdfd 83.44%,#fdfdff 96.56%,#fafbfe 97.81%,#fefbfb 99.69%)"></i><i style="background:linear-gradient(90deg,#fff 0.3125%,#fcfcff 72.19%,#f6f8fe 75.94%,#ebeefd 77.81%,#f7f5fa 78.44%,#fdf6f6 79.06%,#fffdfd 82.81%,#fdfeff 95.31%,#fbfbfe 97.19%,#fefbfb 99.06%,#fefcfc 99.69%)"></i><i style="background:linear-gradient(90deg,#fff 0.3125%,#fcfcff 71.56%,#f6f8fe 75.31%,#e9edfd 77.19%,#f5f4fa 77.81%,#fdf6f6 78.44%,#fffdfd 82.81%,#fdfdff 94.69%,#fbfbfd 96.56%,#fefbfb 98.44%,#fefcfc 99.69%)"></i><i style="background:linear-gradient(90deg,#fff 0.3125%,#fcfcff 70.31%,#f6f8fe 74.69%,#e8edfd 76.56%,#fcf5f6 77.81%,#fefcfc 81.56%,#fcfdff 94.06%,#f9fafe 95.31%,#fefbfb 97.81%,#fefcfc 99.69%)"></i><i style="background:linear-gradient(90deg,#fff 0.3125%,#fcfcff 69.69%,#f5f7fe 74.06%,#e8ecfd 75.94%,#fbf4f5 77.19%,#fefcfc 80.31%,#fdfdff 92.81%,#f8f9fe 94.69%,#fefafa 96.56%,#fefcfc 99.69%)"></i><i style="background:linear-gradient(90deg,#fff 0.3125%,#fcfcff 69.06%,#f5f7fe 73.44%,#e7ecfd 75.31%,#faf3f5 76.56%,#fefbfb 79.06%,#fdfdff 91.56%,#f9f9fe 94.06%,#fefafa 95.94%,#fefcfc 99.69%)"></i><i style="background:linear-gradient(90deg,#fff 0.3125%,#fbfcff 68.44%,#f5f7fe 72.81%,#e6ebfd 74.69%,#edeffc 75.31%,#f9f2f5 75.94%,#fdf7f8 77.19%,#fffdfd 82.81%,#fcfdff 90.94%,#f7f9fe 92.81%,#fef9f9 94.69%,#fefcfc 99.69%)"></i><i style="background:linear-gradient(90deg,#fff 0.3125%,#fbfcff 67.81%,#f5f7fe 72.19%,#e6ebfd 74.06%,#ebeefc 74.69%,#f9f2f5 75.31%,#fdf3f4 75.94%,#fefbfb 78.44%,#fdfdff 89.06%,#f6f8fe 92.19%,#fef8f9 94.06%,#fefbfc 99.69%)"></i><i style="background:linear-gradient(90deg,#fff 0.3125%,#fcfcff 66.56%,#f5f7fe 71.56%,#ecf0fe 72.81%,#e5eafd 73.44%,#e8ebfc 74.06%,#f7f1f6 74.69%,#fcf3f3 75.31%,#fefbfb 77.81%,#fefdfe 87.81%,#f7f9fe 90.94%,#f5f7fd 91.56%,#fdf8f9 92.81%,#fefbfb 99.69%)"></i><i style="background:linear-gradient(90deg,#fff 0.3125%,#fbfcff 65.94%,#f4f6fe 70.94%,#ecf0fe 72.19%,#e4eafd 72.81%,#e5e9fc 73.44%,#f6f0f6 74.06%,#fcf2f3 74.69%,#fefafb 77.19%,#fdfdfe 87.19%,#f6f7fd 90.94%,#fdf8f8 92.19%,#fefafb 99.69%)"></i><i style="background:linear-gradient(90deg,#fff 0.3125%,#fbfcff 65.31%,#f4f6fe 70.31%,#ecf0fe 71.56%,#e3e9fd 72.19%,#e2e7fc 72.81%,#f4eff6 73.44%,#fcf1f2 74.06%,#fefafa 76.56%,#fdfcfe 86.56%,#f4f6fe 89.69%,#fdf7f7 91.56%,#fefafb 97.81%,#fef9fa 99.69%)"></i><i style="background:linear-gradient(90deg,#fff 0.3125%,#fbfcff 64.69%,#f4f6fe 69.69%,#ebeffe 70.94%,#e3e8fd 71.56%,#e0e6fc 72.19%,#f3eff7 72.81%,#fcf1f2 73.44%,#fefafb 76.56%,#fefcfd 85.31%,#f2f4fd 89.06%,#fbf6f7 90.31%,#fefafa 95.94%,#fef8f8 99.69%)"></i><i style="background:linear-gradient(90deg,#fff 0.3125%,#fbfcff 63.44%,#f5f7fe 68.44%,#ebeffe 70.31%,#e2e8fd 70.94%,#dee4fc 71.56%,#f2eff8 72.19%,#fcf1f1 72.81%,#fefafa 75.94%,#fefcfc 84.69%,#f2f3fd 88.44%,#f9f6fa 89.06%,#fdf5f6 90.31%,#fefafa 94.69%,#fdf6f6 99.69%)"></i><i style="background:linear-gradient(90deg,#fff 0.3125%,#fbfcff 62.81%,#f5f7fe 67.81%,#eaeefd 69.69%,#dce2fc 70.94%,#efecf8 71.56%,#fcf0f1 72.19%,#fefafa 75.31%,#fefcfc 84.06%,#f1f3fe 87.19%,#fdf5f6 89.06%,#fef9fa 94.69%,#fdf4f5 99.06%,#fcf2f2 99.69%)"></i><i style="background:linear-gradient(90deg,#fff 0.3125%,#fbfcff 62.19%,#f5f7fe 67.19%,#eaeefd 69.06%,#dae1fc 70.31%,#eceaf8 70.94%,#faeef0 71.56%,#fefafa 74.69%,#fdfbfc 83.44%,#f1f3fe 85.94%,#eef1fd 86.56%,#f5f5fc 87.19%,#fdf4f4 88.44%,#fef9f9 92.81%,#fdf5f5 97.81%,#fceeef 99.69%)"></i><i style="background:linear-gradient(90deg,#fff 0.3125%,#fbfcff 60.94%,#f4f6fe 66.56%,#e9eefd 68.44%,#d8e0fc 69.69%,#e9e9f8 70.31%,#f9edf0 70.94%,#fceff0 71.56%,#fef8f8 73.44%,#fefcfc 81.56%,#fdfbfc 82.81%,#f0f3fe 84.69%,#edf0fd 85.94%,#f6f5fb 86.56%,#fbf3f5 87.19%,#fdf5f5 88.44%,#fef8f9 93.44%,#fcf3f3 97.19%,#fbeeee 98.44%,#fbeff0 99.06%,#faf2f5 99.69%)"></i><i style="background:linear-gradient(90deg,#fff 0.3125%,#fbfcff 60.31%,#f4f6fe 65.94%,#e8edfd 67.81%,#d7defc 69.06%,#e6e7f8 69.69%,#f8ecef 70.31%,#fbeeef 70.94%,#fdf8f8 72.81%,#fefcfc 80.94%,#fdfafc 82.19%,#f0f3fe 83.44%,#ebeffe 84.69%,#edf0fc 85.31%,#f7f3f8 85.94%,#fcf3f4 86.56%,#fef8f8 91.56%,#fdf3f4 95.94%,#fbeced 97.81%,#f8f3f8 99.06%,#e9ecfc 99.69%)"></i><i style="background:linear-gradient(90deg,#fff 0.3125%,#fbfcff 59.06%,#f3f6fe 65.31%,#e8ecfd 67.19%,#d5ddfc 68.44%,#e4e6f9 69.06%,#f7eaef 69.69%,#fbeced 70.31%,#fdf7f7 72.19%,#fefcfc 79.69%,#fcfafb 81.56%,#ebeffe 82.81%,#e7ecfd 84.06%,#f1f2fc 84.69%,#fcf2f2 85.94%,#fdf7f8 90.31%,#fdf3f4 94.69%,#fbecec 96.56%,#faf2f5 97.81%,#f3f2fa 98.44%,#e3e8fc 99.06%,#d8e0fc 99.69%)"></i><i style="background:linear-gradient(90deg,#fff 0.3125%,#fbfcff 58.44%,#f3f5fe 64.69%,#e7ecfd 66.56%,#d3dcfc 67.81%,#e2e5fa 68.44%,#f6eaef 69.06%,#fbebec 69.69%,#fdf6f7 71.56%,#fefcfc 79.06%,#fbf9fb 80.94%,#e6ebfd 82.19%,#e3e9fd 82.81%,#e6eafd 83.44%,#f3f2fb 84.06%,#faf1f4 84.69%,#fcf0f1 85.31%,#fdf7f7 89.06%,#fdf3f4 93.44%,#fbebec 95.94%,#f9f5f8 97.19%,#eceefc 97.81%,#dce3fc 98.44%,#d6dffc 99.06%,#dce3fc 99.69%)"></i><i style="background:linear-gradient(90deg,#fff 0.3125%,#fbfbff 57.81%,#f2f5fe 64.06%,#e6ebfd 65.94%,#d1dafc 67.19%,#e0e4fa 67.81%,#f5e9ef 68.44%,#fbeaeb 69.06%,#fdf6f6 70.94%,#fefcfc 77.81%,#fefafa 79.69%,#fbf8fb 80.31%,#dee5fd 81.56%,#dee4fd 82.19%,#f4f2f9 83.44%,#fbf0f2 84.06%,#fceff0 84.69%,#fdf6f6 87.81%,#fcf2f2 92.81%,#fbeaeb 94.69%,#fbf2f4 95.94%,#f6f4fb 96.56%,#d6defc 97.81%,#d6defc 98.44%,#e6ebfd 99.69%)"></i><i style="background:linear-gradient(90deg,#fff 0.3125%,#fbfcff 56.56%,#f3f6fe 62.81%,#ebeffe 64.69%,#e5eafd 65.31%,#cfd9fc 66.56%,#dce1fa 67.19%,#f4e8ef 67.81%,#fae9ea 68.44%,#fdf5f6 70.31%,#fefbfb 76.56%,#fefafa 79.06%,#fbf8fa 79.69%,#e5e9fc 80.31%,#d4ddfc 80.94%,#d9e1fc 81.56%,#eceefc 82.19%,#f6f1f6 82.81%,#fceff0 83.44%,#fbeeef 84.06%,#fdf5f5 86.56%,#fcf2f2 91.56%,#fbe9ea 93.44%,#fbeaeb 94.06%,#fbf5f7 95.31%,#f0f1fc 95.94%,#dfe6fd 96.56%,#d3dcfc 97.19%,#d6defc 97.81%,#e7ecfd 99.06%,#ebeffe 99.69%)"></i><i style="background:linear-gradient(90deg,#fff 0.3125%,#fafbff 55.94%,#f3f5fe 62.19%,#eaeefd 64.06%,#e3e9fd 64.69%,#cdd7fb 65.94%,#d8defa 66.56%,#f2e7ef 67.19%,#fae8e9 67.81%,#fdf4f5 69.69%,#fefbfb 75.31%,#fef9f9 78.44%,#fbf8fa 79.06%,#e9ecfc 79.69%,#c4d0fb 80.31%,#dbe2fc 80.94%,#efeffb 81.56%,#f9f1f4 82.19%,#fbedee 82.81%,#fdf4f5 86.56%,#fcf0f0 90.94%,#fae8e9 92.81%,#fbf2f3 94.06%,#f9f6fa 94.69%,#ebeefd 95.31%,#d8e0fc 95.94%,#d1dafc 96.56%,#d7dffc 97.19%,#e7ecfd 98.44%,#eff2fe 99.69%)"></i><i style="background:linear-gradient(90deg,#fff 0.3125%,#fbfbff 54.69%,#f2f5fe 61.56%,#e9edfd 63.44%,#e2e8fd 64.06%,#cad5fb 65.31%,#d5dbf9 65.94%,#f1e6ef 66.56%,#fae6e7 67.19%,#fdf4f4 69.06%,#fefafb 74.06%,#fcf8f9 78.44%,#eff1fc 79.06%,#dde4fc 79.69%,#dde3fb 80.31%,#f4f1f8 80.94%,#fbf0f1 81.56%,#fbebec 82.19%,#fdf3f4 85.31%,#fcf0f1 89.69%,#fae7e8 91.56%,#fae8e9 92.19%,#fbf5f6 93.44%,#f5f5fc 94.06%,#d3dcfc 95.31%,#d0d9fc 95.94%,#e7ecfd 97.81%,#f1f4fe 99.69%)"></i><i style="background:linear-gradient(90deg,#fff 0.3125%,#fafbff 54.06%,#f1f4fe 60.94%,#e8ecfd 62.81%,#e1e7fd 63.44%,#c7d3fb 64.69%,#d1d8f9 65.31%,#efe5ef 65.94%,#fae5e6 66.56%,#fcf3f3 68.44%,#fefafa 73.44%,#fdf8f8 77.81%,#f6f6fc 78.44%,#eceffd 79.06%,#eff0fc 79.69%,#f8f2f6 80.31%,#fbedee 80.94%,#fbeaeb 81.56%,#fcf3f3 84.69%,#fcf0f0 88.44%,#fae6e7 90.94%,#fbf7f9 92.81%,#f1f3fc 93.44%,#cfd8fb 94.69%,#cfd9fc 95.31%,#e2e8fd 96.56%,#eef2fe 98.44%,#f2f5fe 99.69%)"></i><i style="background:linear-gradient(90deg,#fff 0.3125%,#fafbff 52.81%,#f2f5fe 59.69%,#e6ebfd 62.19%,#dfe5fd 62.81%,#c5d0fb 64.06%,#ced6f9 64.69%,#eee4ef 65.31%,#f9e4e5 65.94%,#fcf2f2 67.81%,#fef9fa 72.19%,#fef8f9 75.94%,#fdf7f7 77.19%,#fcfafc 77.81%,#f7f8fd 78.44%,#fbf2f3 79.69%,#fbeaeb 80.31%,#fae8e9 80.94%,#fcf1f2 83.44%,#fceff0 87.19%,#fae5e6 89.69%,#fbeced 90.94%,#faf8fb 92.19%,#eef1fd 92.81%,#dae2fc 93.44%,#cbd6fb 94.06%,#ced8fb 94.69%,#e2e8fd 95.94%,#eef1fe 97.81%,#f3f6fe 99.69%)"></i><i style="background:linear-gradient(90deg,#fff 0.3125%,#fafbff 52.19%,#f2f4fe 59.06%,#e5eafd 61.56%,#dde4fd 62.19%,#c1cefb 63.44%,#cbd4f9 64.06%,#ede3ef 64.69%,#f9e3e4 65.31%,#fdf3f4 67.81%,#fefafa 73.44%,#fdf5f5 76.56%,#fdfbfc 77.81%,#fae7e9 79.69%,#fbebeb 80.94%,#fcf1f1 83.44%,#fbebec 87.19%,#f9e4e5 89.06%,#fcf6f8 90.94%,#f8f8fc 91.56%,#eaeefd 92.19%,#d6defc 92.81%,#c9d4fb 93.44%,#ced8fb 94.06%,#e1e7fd 95.31%,#eef1fe 97.19%,#f4f6fe 99.69%)"></i><i style="background:linear-gradient(90deg,#fff 0.3125%,#fafbff 50.94%,#f1f4fe 58.44%,#e8edfd 60.31%,#dbe2fc 61.56%,#becbfa 62.81%,#c9d2f9 63.44%,#ece2ef 64.06%,#f9e2e3 64.69%,#fae4e5 65.31%,#fcf0f0 66.56%,#fef8f8 70.31%,#fef8f9 74.06%,#fdf3f4 75.94%,#fef9f9 77.19%,#fae5e6 79.06%,#fceff0 82.19%,#fbecec 85.94%,#f9e2e3 87.81%,#fbebeb 89.06%,#fcf8fa 90.31%,#f6f6fd 90.94%,#e7ecfd 91.56%,#d2dbfc 92.19%,#c7d2fb 92.81%,#cdd7fb 93.44%,#e1e7fd 94.69%,#edf1fe 96.56%,#f5f7fe 99.69%)"></i><i style="background:linear-gradient(90deg,#feffff 0.3125%,#fafbff 49.69%,#f2f4fe 57.19%,#e7ecfd 59.69%,#d9e0fc 60.94%,#bac8fa 62.19%,#c6d0f9 62.81%,#ebe1ee 63.44%,#f9e0e2 64.06%,#f9e2e3 64.69%,#fcefef 65.94%,#fdf8f8 69.69%,#fef8f8 73.44%,#fcf1f2 75.31%,#fdf5f5 76.56%,#f9e3e4 78.44%,#fbedee 80.94%,#fbebec 84.69%,#f9e1e3 87.19%,#fcfafb 89.69%,#f4f5fd 90.31%,#e4eafd 90.94%,#d0d9fc 91.56%,#c5d1fb 92.19%,#ccd6fb 92.81%,#e0e6fd 94.06%,#ecf0fe 95.94%,#f5f7fe 99.69%)"></i><i style="background:linear-gradient(90deg,#feffff 0.3125%,#fafbff 49.06%,#f1f4fe 56.56%,#e5eafd 59.06%,#d6defc 60.31%,#b6c5fa 61.56%,#c4cef8 62.19%,#eae1ee 62.81%,#f8dfe0 63.44%,#f9e0e2 64.06%,#fbedee 65.31%,#fdf6f7 68.44%,#fdf7f7 72.81%,#fceff0 74.69%,#fcf1f2 75.94%,#fae5e6 77.19%,#f9e2e3 77.81%,#fbeced 80.31%,#fbebec 83.44%,#f9dfe1 85.94%,#fae8e9 87.19%,#fdf7f7 88.44%,#fcfafc 89.06%,#f3f5fe 89.69%,#ced8fb 90.94%,#c3cffb 91.56%,#cad5fb 92.19%,#d7dffc 92.81%,#e4eafd 94.06%,#f1f4fe 97.19%,#f5f7fe 99.69%)"></i><i style="background:linear-gradient(90deg,#feffff 0.3125%,#fafbff 47.81%,#f1f4fe 55.31%,#e8edfd 57.81%,#dde4fd 59.06%,#d3dcfc 59.69%,#b2c2f9 60.94%,#c3cdf8 61.56%,#eae0ee 62.19%,#f8dedf 62.81%,#f8dee0 63.44%,#fbeced 64.69%,#fdf6f6 67.81%,#fdf6f7 72.19%,#fbedee 74.06%,#fbeeef 75.31%,#f9e1e3 76.56%,#f9e0e1 77.19%,#fbebec 79.69%,#fae9ea 82.81%,#f8dfe1 84.69%,#f8dfe0 85.31%,#fdf8f9 87.81%,#fbfafd 88.44%,#f2f4fe 89.06%,#e2e7fd 89.69%,#cdd7fb 90.31%,#c0cdfa 90.94%,#c8d3fb 91.56%,#d5ddfc 92.19%,#e3e9fd 93.44%,#f1f3fe 96.56%,#f6f8fe 99.69%)"></i><i style="background:linear-gradient(90deg,#fefeff 0.3125%,#f9fbff 46.56%,#f0f3fe 54.69%,#e6ebfd 57.19%,#dae2fc 58.44%,#cfd9fc 59.06%,#aebef9 60.31%,#c2ccf8 60.94%,#eae0ed 61.56%,#f8dcde 62.19%,#f8dcde 62.81%,#fbebec 64.06%,#fdf4f5 66.56%,#fdf7f7 70.94%,#fbeaeb 73.44%,#fbeaeb 74.69%,#f8dfe0 75.94%,#f8dee0 76.56%,#fae8e9 78.44%,#fae8e9 81.56%,#f8ddde 84.06%,#fae6e7 85.31%,#fdf9f9 87.19%,#fbfbfd 87.81%,#f1f4fe 88.44%,#e2e8fd 89.06%,#ced8fb 89.69%,#beccfa 90.31%,#c5d0fb 90.94%,#d2dbfc 91.56%,#e1e7fd 92.81%,#eef1fe 95.31%,#f6f8fe 99.69%)"></i><i style="background:linear-gradient(90deg,#fefeff 0.3125%,#f9faff 45.94%,#f1f4fe 53.44%,#e4eafd 56.56%,#d7dffc 57.81%,#cbd6fb 58.44%,#a9baf9 59.69%,#c2ccf8 60.31%,#eadfed 60.94%,#f8dbdd 61.56%,#f7dadb 62.19%,#fbe9ea 63.44%,#fdf3f4 65.94%,#fdf6f6 70.31%,#fcf1f1 71.56%,#fae8e9 72.81%,#fae7e8 74.06%,#f8dcde 75.31%,#fae8e9 78.44%,#fae6e7 80.94%,#f8dcde 82.81%,#f8dcde 83.44%,#fefafa 86.56%,#fbfbfd 87.19%,#f2f4fe 87.81%,#e3e9fd 88.44%,#becbfa 89.69%,#c0cdfa 90.31%,#d9e0fc 91.56%,#e8ecfd 93.44%,#f4f6fe 97.81%,#f6f8fe 99.69%)"></i><i style="background:linear-gradient(90deg,#fefeff 0.3125%,#f9faff 44.69%,#f0f3fe 52.81%,#e2e8fd 55.94%,#d3dcfc 57.19%,#c6d2fb 57.81%,#b2c2f9 58.44%,#a4b7f8 59.06%,#c3cdf8 59.69%,#ebdfec 60.31%,#f7d9db 60.94%,#f7d7d9 61.56%,#fae7e9 62.81%,#fcf2f3 65.31%,#fdf5f6 69.69%,#fceff0 70.94%,#fae5e7 72.19%,#f9e4e5 73.44%,#f7dadb 74.69%,#fae6e7 77.19%,#fae5e6 79.69%,#f7dadb 82.19%,#f9e3e5 83.44%,#fefafa 85.94%,#fcfbfe 86.56%,#f3f5fe 87.19%,#d3dcfc 88.44%,#bfccfa 89.06%,#bbc9fa 89.69%,#d5defc 90.94%,#e6ebfd 92.81%,#f3f5fe 97.19%,#f6f8fe 99.69%)"></i><i style="background:linear-gradient(90deg,#fefeff 0.3125%,#f9faff 43.44%,#f0f3fe 51.56%,#e4e9fd 54.69%,#d9e0fc 55.94%,#cfd9fc 56.56%,#c0cdfa 57.19%,#abbcf9 57.81%,#a0b4f8 58.44%,#c5cef8 59.06%,#ecdfeb 59.69%,#f7d8d9 60.31%,#f6d5d7 60.94%,#fae6e7 62.19%,#fcf1f2 64.69%,#fdf4f5 69.06%,#fbeeee 70.31%,#f9e3e4 71.56%,#f9e0e2 72.81%,#f7d8d9 74.06%,#f9e4e5 76.56%,#f9e3e4 79.06%,#f7d9da 80.94%,#f7dadb 81.56%,#fdf6f6 84.69%,#fcfcfe 85.94%,#f4f6fe 86.56%,#d8e0fc 87.81%,#c3cffb 88.44%,#b7c6fa 89.06%,#d1dafc 90.31%,#dfe6fd 91.56%,#eef1fe 94.69%,#f6f8fe 99.69%)"></i><i style="background:linear-gradient(90deg,#fefeff 0.3125%,#f9faff 42.19%,#eff2fe 50.94%,#e1e7fd 54.06%,#d5defc 55.31%,#cad5fb 55.94%,#bac8fa 56.56%,#a4b6f8 57.19%,#9eb1f8 57.81%,#c9d1f8 58.44%,#eee0ea 59.06%,#f7d6d8 59.69%,#f6d3d5 60.31%,#f9e4e5 61.56%,#fcefef 63.44%,#fdf4f5 67.81%,#fcf1f1 69.06%,#f9e0e2 70.94%,#f8dddf 72.19%,#f7d6d8 73.44%,#f9e2e4 75.94%,#f9e0e1 78.44%,#f7d7d8 80.31%,#fdf6f6 84.06%,#fdfcfe 85.31%,#f6f8fe 85.94%,#dde4fd 87.19%,#b6c5fa 88.44%,#bbc9fa 89.06%,#cbd5fb 89.69%,#dce3fc 90.94%,#eaeffe 93.44%,#f6f8fe 99.69%)"></i><i style="background:linear-gradient(90deg,#fefeff 0.3125%,#f8faff 40.94%,#eff2fe 49.69%,#e3e9fd 52.81%,#d1dafc 54.69%,#c5d0fb 55.31%,#9cb0f8 56.56%,#9cb0f8 57.19%,#cdd4f8 57.81%,#f0e0e8 58.44%,#f6d4d6 59.06%,#f5d0d2 59.69%,#f9e2e3 60.94%,#fbedee 62.81%,#fdf3f4 66.56%,#fceff0 68.44%,#f8dddf 70.31%,#f7dadb 71.56%,#f6d4d6 72.19%,#f6d4d6 72.81%,#f8dfe1 74.69%,#f8dfe1 77.19%,#f6d5d7 79.06%,#f8dbdd 80.31%,#fcf2f2 82.81%,#fefdfd 84.69%,#f8fafe 85.31%,#e2e8fd 86.56%,#d2dbfc 87.19%,#bdcafa 87.81%,#b2c2f9 88.44%,#cfd9fc 89.69%,#dee4fd 90.94%,#ecf0fe 94.06%,#f5f7fe 99.69%)"></i><i style="background:linear-gradient(90deg,#fefeff 0.3125%,#f8faff 39.69%,#eff2fe 48.44%,#e4e9fd 51.56%,#d4ddfc 53.44%,#cbd6fb 54.06%,#bdcbfa 54.69%,#93a9f7 55.94%,#9eb1f7 56.56%,#d1d6f6 57.19%,#f3e0e7 57.81%,#f6d2d4 58.44%,#f5ced0 59.06%,#f9e0e1 60.31%,#fbeced 62.19%,#fcf2f3 65.94%,#fbeeee 67.81%,#f8dadc 69.69%,#f6d1d4 71.56%,#f6d2d4 72.19%,#f8dddf 74.06%,#f8dcde 76.56%,#f6d3d5 78.44%,#fcf2f2 82.19%,#fefcfd 84.06%,#fbfcfe 84.69%,#e7ecfd 85.94%,#dae2fc 86.56%,#c9d4fb 87.19%,#b3c2f9 87.81%,#b5c4fa 88.44%,#c6d2fb 89.06%,#d9e1fc 90.31%,#e8edfd 92.81%,#f4f7fe 99.06%,#f5f7fe 99.69%)"></i><i style="background:linear-gradient(90deg,#fefeff 0.3125%,#f8f9fe 38.44%,#eef2fe 47.19%,#e1e7fd 50.94%,#d0d9fc 52.81%,#c5d1fb 53.44%,#b5c4fa 54.06%,#8ba3f7 55.31%,#a3b5f8 55.94%,#d7d9f5 56.56%,#f4dfe4 57.19%,#f5cfd2 57.81%,#f4cbcd 58.44%,#f8dedf 59.69%,#fbebec 61.56%,#fcf1f2 65.31%,#fbeced 67.19%,#f7d8d9 69.06%,#f5cfd1 70.94%,#f6d5d7 72.19%,#f8dcde 74.06%,#f7d9da 75.94%,#f6d2d4 77.19%,#f7d8d9 78.44%,#fbe9ea 80.31%,#fdfdfe 84.06%,#edf0fe 85.31%,#d4ddfc 86.56%,#adbdf9 87.81%,#b9c7fa 88.44%,#c9d4fb 89.06%,#d9e1fc 90.31%,#e8edfd 92.81%,#f4f6fe 99.06%,#f5f7fe 99.69%)"></i><i style="background:linear-gradient(90deg,#fefeff 0.3125%,#f7f9fe 37.19%,#edf0fe 46.56%,#dde4fd 50.31%,#d2dbfc 51.56%,#bdcafa 52.81%,#aabbf9 53.44%,#92a8f7 54.06%,#869ff6 54.69%,#aabaf8 55.31%,#dfdef4 55.94%,#f5dee2 56.56%,#f5cdcf 57.19%,#f4c8cb 57.81%,#f9e2e3 59.69%,#fbedee 62.19%,#fcf0f0 65.31%,#fbeaeb 66.56%,#f7d9db 67.81%,#f5ccce 70.31%,#f7d9db 72.81%,#f7d8da 74.69%,#f5cfd1 76.56%,#fbedee 80.31%,#fffdfe 83.44%,#fafbff 84.06%,#dee4fd 85.94%,#cfd9fc 86.56%,#aabbf9 87.81%,#c9d4fb 89.06%,#d9e1fc 90.31%,#e7ecfd 92.81%,#f4f6fe 99.06%,#f4f6fe 99.69%)"></i><i style="background:linear-gradient(90deg,#fdfeff 0.3125%,#f7f9fe 35.94%,#ecf0fe 45.31%,#dee4fd 49.06%,#ccd7fb 50.94%,#c2cefb 51.56%,#b3c2f9 52.19%,#869ef6 53.44%,#88a0f6 54.06%,#b4c1f8 54.69%,#e6e2f2 55.31%,#f7dddf 55.94%,#f4cacd 56.56%,#f3c5c8 57.19%,#f9dfe1 59.06%,#fbeced 61.56%,#fceeef 64.69%,#fae8e9 65.94%,#f7d6d8 67.19%,#f4c9cc 69.69%,#f7d7d9 72.19%,#f6d4d6 74.06%,#f5cdd0 75.31%,#f5ced1 75.94%,#fbe9ea 79.06%,#fefeff 83.44%,#e6ebfd 85.31%,#cdd7fb 86.56%,#a7b9f9 87.81%,#c7d3fb 89.06%,#d8e0fc 90.31%,#e6ebfd 92.81%,#f3f5fe 99.06%,#f4f6fe 99.69%)"></i><i style="background:linear-gradient(90deg,#fdfeff 0.3125%,#f7f8fe 34.69%,#ebeffe 44.06%,#dee4fd 47.81%,#ced8fb 49.69%,#b9c7fa 50.94%,#a6b8f9 51.56%,#7a95f5 52.81%,#90a6f7 53.44%,#c1cbf8 54.06%,#ebe3ef 54.69%,#f7dadc 55.31%,#f4c7ca 55.94%,#f3c3c5 56.56%,#f8dddf 58.44%,#fbeaeb 60.94%,#fbeced 64.06%,#fae5e6 65.31%,#f6d3d5 66.56%,#f3c6c9 69.06%,#f6d3d5 70.94%,#f6d3d5 72.81%,#f4cbcd 74.69%,#fae9ea 78.44%,#fffdfd 82.81%,#fdfdff 83.44%,#e5eafd 85.31%,#cdd7fb 86.56%,#a6b8f9 87.81%,#c4d0fb 89.06%,#d5defc 90.31%,#e5eafd 92.81%,#f1f4fe 98.44%,#f3f5fe 99.69%)"></i><i style="background:linear-gradient(90deg,#fdfdff 0.3125%,#f6f8fe 33.44%,#ebeffe 42.81%,#dde4fd 46.56%,#ced8fb 48.44%,#bcc9fa 49.69%,#acbdf9 50.31%,#7f99f6 51.56%,#7792f5 52.19%,#9baff7 52.81%,#d2d8f8 53.44%,#f0e3ec 54.06%,#f7d6d8 54.69%,#f3c4c7 55.31%,#f2c0c2 55.94%,#f8dbdc 57.81%,#fae8e9 60.31%,#fbecec 62.81%,#fae8e9 64.06%,#f7dadc 65.31%,#f5d0d2 65.94%,#f3c5c7 67.81%,#f3c4c6 68.44%,#f5d0d2 70.31%,#f5d0d2 72.19%,#f4c9cb 73.44%,#f4cacc 74.06%,#f9e0e2 76.56%,#fffefe 82.81%,#fcfdff 83.44%,#dce3fc 85.94%,#d0dafc 86.56%,#bfccfa 87.19%,#a9baf9 87.81%,#aabbf9 88.44%,#bdcafa 89.06%,#c9d4fb 89.69%,#dce3fc 91.56%,#eaeffe 95.31%,#f2f4fe 99.69%)"></i><i style="background:linear-gradient(90deg,#fdfdff 0.3125%,#f5f7fe 32.19%,#eaeefd 41.56%,#dce3fc 45.31%,#ced8fb 47.19%,#bdcafa 48.44%,#afbff9 49.06%,#6f8cf5 50.94%,#809af6 51.56%,#abbbf8 52.19%,#e0e1f7 52.81%,#f5e4e8 53.44%,#f6d2d4 54.06%,#f2c1c4 54.69%,#f1bcbf 55.31%,#f7d8da 57.19%,#fae4e5 59.06%,#fbeaeb 62.19%,#fae5e6 63.44%,#f7d7d9 64.69%,#f5cccf 65.31%,#f2c1c4 67.19%,#f2c1c4 67.81%,#f5ced0 69.69%,#f4ccce 71.56%,#f3c6c8 72.81%,#f5cfd1 74.06%,#f9e0e1 75.94%,#fffefe 82.81%,#fcfdff 83.44%,#dfe6fd 85.94%,#c7d2fb 87.19%,#b3c2f9 87.81%,#a4b6f8 88.44%,#c1cdfa 89.69%,#d2dbfc 90.94%,#e2e8fd 93.44%,#f0f3fe 99.06%,#f0f3fe 99.69%)"></i><i style="background:linear-gradient(90deg,#fcfdff 0.3125%,#f4f7fe 30.94%,#e8edfd 40.31%,#dae2fc 44.06%,#ccd7fb 45.94%,#bccafa 47.19%,#b0c0f9 47.81%,#9eb2f8 48.44%,#708df5 49.69%,#6d8bf4 50.31%,#90a7f7 50.94%,#c2ccf9 51.56%,#ebe6f4 52.19%,#f7e1e4 52.81%,#f5cdcf 53.44%,#f2bec1 54.06%,#f1b9bc 54.69%,#f6d5d7 56.56%,#f9e2e3 58.44%,#fae8e9 61.56%,#f9e3e4 62.81%,#f6d3d5 64.06%,#f4c9cb 64.69%,#f2bdc0 66.56%,#f2bec1 67.19%,#f4cbcd 69.06%,#f4c7ca 70.94%,#f3c4c7 72.19%,#f8dbdd 74.69%,#fcf2f3 79.69%,#fdfeff 83.44%,#e3e9fd 85.94%,#d0d9fc 87.19%,#c1cefb 87.81%,#adbef9 88.44%,#a4b6f8 89.06%,#c0cdfa 90.31%,#d2dbfc 91.56%,#e1e7fd 94.06%,#eff2fe 99.69%)"></i><i style="background:linear-gradient(90deg,#fcfcff 0.3125%,#f4f6fe 29.06%,#e8edfd 38.44%,#d8e0fc 42.81%,#cad5fb 44.69%,#bac8fa 45.94%,#afbff9 46.56%,#9eb2f8 47.19%,#728ef5 48.44%,#6282f4 49.06%,#7e98f6 49.69%,#a6b8f8 50.31%,#dadff9 50.94%,#f1e7ef 51.56%,#f8ddde 52.19%,#f4c8cb 52.81%,#f1babd 53.44%,#f0b6b9 54.06%,#f2bdc0 54.69%,#f6d2d4 55.94%,#f9e0e1 57.81%,#fae6e7 60.31%,#f9e0e1 62.19%,#f5d0d2 63.44%,#f3c5c7 64.06%,#f1babd 65.94%,#f2c1c4 67.19%,#f4c7ca 68.44%,#f3c3c5 70.31%,#f2c0c3 70.94%,#f4c9cc 72.19%,#f7dadc 74.06%,#fcf2f3 79.69%,#fefefe 83.44%,#e9edfd 85.94%,#cfd8fb 87.81%,#aebef9 89.06%,#a4b6f8 89.69%,#c7d2fb 91.56%,#d9e0fc 93.44%,#e7ecfd 97.19%,#ecf0fe 99.69%)"></i><i style="background:linear-gradient(90deg,#fbfcff 0.3125%,#f3f5fe 27.81%,#e6ebfd 37.19%,#d5defc 41.56%,#c7d2fb 43.44%,#b7c5fa 44.69%,#abbcf9 45.31%,#9aaff8 45.94%,#5c7df3 47.81%,#718ef5 48.44%,#93a9f7 49.06%,#c3cef9 49.69%,#eae9f7 50.31%,#f7e7eb 50.94%,#f3c3c6 52.19%,#f0b6ba 52.81%,#efb2b6 53.44%,#f1b9bc 54.06%,#f5cfd1 55.31%,#f8ddde 57.19%,#f9e3e4 59.69%,#f8ddde 61.56%,#f5ccce 62.81%,#f2c1c4 63.44%,#f1b8bc 64.69%,#f0b6b9 65.31%,#f3c4c6 67.81%,#f2bec1 70.31%,#f7d9db 73.44%,#fcf0f1 79.06%,#fdfdff 84.06%,#e2e8fd 87.19%,#d1dafc 88.44%,#c4d0fb 89.06%,#b4c3fa 89.69%,#a9bbf9 90.31%,#a6b8f9 90.94%,#b4c4fa 91.56%,#cfd9fc 93.44%,#dfe5fd 95.94%,#e9eefd 99.69%)"></i><i style="background:linear-gradient(90deg,#fbfbff 0.3125%,#f2f4fe 25.94%,#e5eafd 35.31%,#d5defc 39.69%,#c2cefb 42.19%,#b1c1f9 43.44%,#a5b7f8 44.06%,#6a89f4 45.94%,#5678f3 46.56%,#6a88f4 47.19%,#88a0f6 47.81%,#dfe3fa 49.06%,#f2eaf2 49.69%,#f9e3e4 50.31%,#f2bec1 51.56%,#efb2b6 52.19%,#eeaeb2 52.81%,#f0b5b9 53.44%,#f4cbcd 54.69%,#f7dadc 56.56%,#f9e0e2 59.06%,#f7d9db 60.94%,#f4c8ca 62.19%,#f1bcbf 62.81%,#f0b4b7 64.06%,#efb2b5 64.69%,#f2bec1 66.56%,#f2bfc2 67.81%,#f1babd 69.06%,#f3c2c5 70.31%,#f6d4d6 72.19%,#fbeaeb 77.19%,#fdfdfe 84.69%,#e5ebfd 87.81%,#cdd7fb 89.69%,#b2c2f9 90.94%,#a4b7f8 92.19%,#b4c4fa 92.81%,#d2dbfc 95.31%,#e2e8fd 98.44%,#e5eafd 99.69%)"></i><i style="background:linear-gradient(90deg,#fafbff 0.3125%,#f0f3fe 24.69%,#e2e8fd 34.06%,#d0dafc 38.44%,#bbc9fa 40.94%,#a8baf9 42.19%,#89a1f6 43.44%,#6080f3 44.69%,#5477f3 45.31%,#6988f4 45.94%,#849df6 46.56%,#d6dcfa 47.81%,#eeebf6 48.44%,#f8e9ec 49.06%,#f8dbdd 49.69%,#f1b9bc 50.94%,#eeaeb2 51.56%,#eeaaae 52.19%,#efb1b4 52.81%,#f4c7ca 54.06%,#f7d7d9 55.94%,#f8dddf 58.44%,#f6d5d7 60.31%,#f3c3c6 61.56%,#f0b8bb 62.19%,#efafb3 63.44%,#eeaeb1 64.06%,#f1bbbe 65.94%,#f0b6b9 68.44%,#f6d2d4 71.56%,#fae7e8 76.56%,#fefdfe 85.31%,#eff3fe 87.81%,#d7dffc 90.31%,#c1cefb 91.56%,#b5c4fa 92.19%,#b2c2f9 92.81%,#a5b7f8 93.44%,#aabbf9 94.06%,#b9c7fa 94.69%,#c3cffb 95.94%,#d1dafc 97.19%,#dee5fd 99.69%)"></i><i style="background:linear-gradient(90deg,#f9faff 0.3125%,#eff2fe 22.81%,#dfe6fd 32.19%,#ced8fb 36.56%,#b9c8fa 39.06%,#a8baf9 40.31%,#8ba3f7 41.56%,#5577f3 43.44%,#5679f3 44.06%,#87a0f6 45.31%,#d3dafa 46.56%,#edecf8 47.19%,#f6ebf0 47.81%,#f9e3e5 48.44%,#f2c1c4 49.69%,#eeaaad 50.94%,#eda6aa 51.56%,#eeacb0 52.19%,#f3c3c6 53.44%,#f6d3d5 55.31%,#f7dadb 57.81%,#f6d1d3 59.69%,#f2bfc2 60.94%,#efb3b6 61.56%,#eeaaae 62.81%,#eda9ad 63.44%,#f0b6b9 65.31%,#efb2b6 67.19%,#f0b4b7 67.81%,#f5cccf 70.31%,#f9e0e2 74.69%,#fefcfd 85.94%,#f8fafe 87.81%,#e2e8fd 90.94%,#cbd6fb 92.81%,#bdcafa 93.44%,#b7c5fa 94.69%,#a1b4f8 95.94%,#b4c3fa 96.56%,#becbfa 97.19%,#c3cffb 97.81%,#c3cffb 98.44%,#d1dafc 99.69%)"></i><i style="background:linear-gradient(90deg,#f7f9fe 0.3125%,#ecf0fe 20.94%,#dee5fd 29.69%,#cdd7fb 34.06%,#bbc9fa 36.56%,#a3b5f8 38.44%,#7994f5 40.31%,#5678f3 41.56%,#5275f2 42.19%,#6282f4 42.81%,#7893f5 43.44%,#94a9f7 44.06%,#b8c6f9 44.69%,#d7ddfa 45.31%,#edecf9 45.94%,#f5ecf2 46.56%,#fae8e9 47.19%,#f1b9bd 49.06%,#eda5a9 50.31%,#eca1a5 50.94%,#eda7ab 51.56%,#f2bec1 52.81%,#f5cfd1 54.69%,#f7d6d8 57.19%,#f6d1d3 58.44%,#f3c4c7 59.69%,#eeaeb1 60.94%,#eda5a9 62.19%,#eca4a9 62.81%,#efb1b5 64.69%,#eeadb1 66.56%,#f1b8bb 67.81%,#f4cacc 69.69%,#f8dedf 74.06%,#fefcfc 87.19%,#f8f9fe 89.69%,#e4e9fd 92.81%,#d0dafc 94.69%,#b9c8fa 95.94%,#bdcbfa 96.56%,#bbc9fa 97.19%,#b2c1f9 97.81%,#9db1f8 98.44%,#bbc9fa 99.69%)"></i><i style="background:linear-gradient(90deg,#f5f7fe 0.3125%,#eaeefd 19.06%,#d9e1fc 27.81%,#c7d2fb 32.19%,#b3c2f9 34.69%,#a2b5f8 35.94%,#7f99f6 37.81%,#6080f3 39.06%,#5577f3 39.69%,#5275f2 40.31%,#7490f5 41.56%,#8aa2f7 42.19%,#c7d1fa 43.44%,#e0e5fb 44.06%,#efedf8 44.69%,#fae9ea 45.94%,#f2c1c4 47.81%,#efb2b5 48.44%,#eb9fa3 49.69%,#eb9ba0 50.31%,#eca1a6 50.94%,#f1b9bc 52.19%,#f4cacd 54.06%,#f6d1d3 55.94%,#f5cccf 57.81%,#f2bfc2 59.06%,#eda8ac 60.31%,#eb9fa3 61.56%,#eb9fa4 62.19%,#eeaaae 63.44%,#eeabaf 64.69%,#eda9ad 65.94%,#f3c3c6 68.44%,#f7d6d8 72.19%,#fbeeee 81.56%,#fdfbfc 89.69%,#f7f8fe 92.19%,#e1e7fd 95.94%,#d4ddfc 97.19%,#cbd6fb 97.81%,#bccafa 98.44%,#c2cefb 99.69%)"></i><i style="background:linear-gradient(90deg,#f3f5fe 0.3125%,#e6ebfd 17.19%,#d5ddfc 25.31%,#c1cdfa 29.69%,#acbcf9 32.19%,#87a0f6 34.69%,#708df5 35.94%,#6080f3 36.56%,#5679f3 37.19%,#5477f3 37.81%,#5779f3 38.44%,#8ea5f7 40.31%,#c3cffa 41.56%,#dae0fa 42.19%,#ececfa 42.81%,#f9edf0 44.06%,#fae7e8 44.69%,#f3c6c8 46.56%,#eeaaae 47.81%,#ea999e 49.06%,#e9969a 49.69%,#eb9ba0 50.31%,#efb3b6 51.56%,#f3c5c8 53.44%,#f5ccce 55.31%,#f3c7c9 57.19%,#f1b9bc 58.44%,#eca2a6 59.69%,#ea989d 60.94%,#ea9a9e 61.56%,#eca4a8 62.81%,#eca5a9 64.06%,#eca3a7 64.69%,#eeacb0 65.94%,#f2c0c3 67.81%,#f6d4d6 72.19%,#fbeded 82.81%,#fdfbfc 92.19%,#f7f8fe 95.31%,#dfe6fd 99.69%)"></i><i style="background:linear-gradient(90deg,#eff2fe 0.3125%,#e0e6fd 15.31%,#cdd7fb 22.81%,#bac8fa 26.56%,#a3b6f8 29.06%,#7a95f5 32.19%,#718ef5 32.81%,#6282f4 33.44%,#587af3 34.06%,#5477f3 35.31%,#7c97f6 37.19%,#9eb2f8 38.44%,#ccd5fa 39.69%,#dfe3fa 40.31%,#ececf9 40.94%,#fbebec 42.81%,#f4c7ca 45.31%,#eca1a5 47.19%,#e99297 48.44%,#e88f94 49.06%,#e99599 49.69%,#eeacb0 50.94%,#f2bfc2 52.81%,#f3c6c9 54.69%,#f2c0c3 56.56%,#efb2b5 57.81%,#ea9a9f 59.06%,#e99196 60.31%,#ea999d 61.56%,#eb9ea3 62.81%,#eb9da1 64.06%,#f1bcbf 67.19%,#f5d0d2 71.56%,#fae7e8 81.56%,#fcfafb 95.94%,#f6f7fe 99.69%)"></i><i style="background:linear-gradient(90deg,#e8edfd 0.3125%,#d7dffc 12.81%,#c5d1fb 19.06%,#afc0f9 22.81%,#809af6 27.81%,#6f8cf5 29.06%,#6081f4 29.69%,#5a7cf3 30.94%,#587af3 31.56%,#5b7cf3 32.19%,#6a88f4 32.81%,#7f99f6 34.06%,#97acf7 35.31%,#cfd7fa 37.19%,#dee3fa 37.81%,#eaebfa 38.44%,#f8ecef 40.31%,#fbeaeb 40.94%,#f3c5c8 44.06%,#ea989d 46.56%,#e78a90 47.81%,#e6878d 48.44%,#e88d92 49.06%,#eda5a9 50.31%,#f0b8bb 52.19%,#f2bfc2 54.06%,#f1b8bc 55.94%,#eeaaae 57.19%,#e99297 58.44%,#e78c91 59.06%,#e7898f 59.69%,#e9969a 61.56%,#ea969b 63.44%,#efb2b6 65.94%,#f3c6c9 69.69%,#f8dbdd 77.81%,#fef9f9 99.06%,#fdf9fa 99.69%)"></i><i style="background:linear-gradient(90deg,#dde4fd 0.3125%,#cad5fb 9.688%,#b6c5fa 14.69%,#859ef6 22.19%,#7792f5 23.44%,#6181f4 24.69%,#5b7cf3 27.19%,#728ff5 28.44%,#89a1f6 30.31%,#a4b6f7 32.19%,#d4daf9 34.06%,#e0e4fa 34.69%,#e9e9f9 35.31%,#fbe9ea 38.44%,#f4c7ca 42.19%,#efaeb2 44.06%,#ea969b 45.31%,#e58187 47.19%,#e57e84 47.81%,#e68489 48.44%,#eb9ca0 49.69%,#efafb3 51.56%,#f0b6ba 53.44%,#efafb3 55.31%,#eca1a5 56.56%,#e7898e 57.81%,#e58288 58.44%,#e58086 59.06%,#e88c92 60.94%,#e78c91 62.19%,#ea979c 63.44%,#eeacb0 65.31%,#f2c0c2 69.06%,#f6d5d7 77.19%,#fcefef 96.56%,#fcf2f3 99.69%)"></i><i style="background:linear-gradient(90deg,#c2cffb 0.3125%,#9db1f8 10.31%,#90a7f7 13.44%,#809af6 15.31%,#6685f4 17.19%,#6282f4 20.31%,#859ef6 22.81%,#8da4f6 24.69%,#a6b6f6 27.19%,#d7dcf9 29.69%,#e0e3f9 30.31%,#f9e9eb 34.69%,#f5cdd0 39.06%,#efb1b4 42.19%,#e99499 44.06%,#e7888d 44.69%,#e3767c 46.56%,#e2737a 47.19%,#e3787f 47.81%,#e89196 49.06%,#eca0a4 50.31%,#eeabae 52.19%,#eda8ac 54.06%,#eb9ea2 55.31%,#e78a8f 56.56%,#e57d83 57.19%,#e3767d 57.81%,#e3747b 58.44%,#e58187 60.31%,#e58287 61.56%,#eb9ea3 64.06%,#efb2b5 67.19%,#f4c7ca 74.06%,#f8dee0 88.44%,#fbe9ea 99.69%)"></i><i style="background:linear-gradient(90deg,#98adf8 0.3125%,#809af6 3.438%,#728ff5 4.688%,#6e8bf4 5.938%,#6b89f4 9.062%,#6d8af4 9.688%,#859cf5 11.56%,#97aaf6 14.06%,#9caef5 16.56%,#a1b1f5 17.81%,#b1bef6 20.31%,#d6daf7 22.81%,#eee3ee 27.19%,#f9e5e6 30.31%,#f2bec1 37.81%,#eda5a9 40.94%,#e88d92 42.81%,#e3777e 44.06%,#e0676e 45.94%,#df656c 46.56%,#e16a71 47.19%,#e58288 48.44%,#e99297 49.69%,#eb9da1 51.56%,#ea9a9f 53.44%,#e88f94 54.69%,#e47b81 55.94%,#e16f75 56.56%,#e0686f 57.19%,#e0666d 57.81%,#e27379 59.69%,#e3757b 60.94%,#e99398 63.44%,#eda9ad 67.19%,#f2bfc2 74.69%,#f7d6d8 90.31%,#f8dfe1 99.69%)"></i><i style="background:linear-gradient(90deg,#b4bff4 0.3125%,#b5bff4 4.062%,#b7c0f3 5.938%,#bfc6f3 8.438%,#c1c5f1 9.688%,#d9d3ed 13.44%,#f5dde1 21.56%,#f8dbdd 23.44%,#f0b4b7 34.06%,#ea979c 39.06%,#e57e84 41.56%,#df6168 43.44%,#dc535a 45.31%,#db5058 45.94%,#dc565d 46.56%,#e3777d 48.44%,#e6868c 50.31%,#e7888d 52.19%,#e47a80 54.06%,#e0676e 55.31%,#dd5a61 55.94%,#dc535b 56.56%,#db5159 57.19%,#de5e65 59.06%,#df636a 60.31%,#e47c82 62.19%,#e99297 65.31%,#eda8ac 71.56%,#f2c0c2 84.06%,#f5d0d2 99.69%)"></i><i style="background:linear-gradient(90deg,#e4bfcd 0.3125%,#f3c3c5 9.062%,#e99499 29.69%,#e47b81 36.56%,#df636a 40.31%,#dc545c 41.56%,#d8434b 42.81%,#d73d46 44.06%,#d63740 44.69%,#d6343e 45.31%,#d63841 45.94%,#dc565d 47.81%,#df646b 49.69%,#e0666d 51.56%,#dd5b62 53.44%,#da4a52 54.69%,#d83e47 55.31%,#d63740 55.94%,#d6353e 56.56%,#d84149 58.44%,#d84049 59.06%,#db4e56 60.31%,#df6269 62.19%,#e3767c 65.94%,#e78c91 74.06%,#eda7ab 93.44%,#eeadb1 99.69%)"></i><i style="background:linear-gradient(90deg,#e3777e 0.3125%,#dd575f 24.06%,#d9474f 35.94%,#d63841 40.31%,#d42b35 42.81%,#d32731 44.69%,#d5313b 46.56%,#d73d46 49.06%,#d73d46 51.56%,#d5313a 54.06%,#d32832 55.31%,#d32a34 57.19%,#d5333c 59.69%,#d8414a 62.81%,#db5159 72.81%,#de5e66 84.06%,#e27279 99.69%)"></i><i style="background:linear-gradient(90deg,#e99398 0.3125%,#e3747a 25.31%,#de5f67 34.69%,#db4e56 38.44%,#d6363f 40.94%,#d6353e 42.19%,#d42d36 43.44%,#d5333c 44.69%,#d9454d 45.94%,#dc525a 47.81%,#dc555c 49.69%,#db4d55 51.56%,#d8424a 52.81%,#d53039 54.06%,#d42d36 54.69%,#d42e37 55.31%,#d6363f 56.56%,#d73b44 57.81%,#db5058 59.69%,#df646b 63.44%,#e47c82 72.19%,#eba1a6 93.44%,#e7a4ad 99.69%)"></i><i style="background:linear-gradient(90deg,#f4c8cb 0.3125%,#efb1b5 20.31%,#eb9b9f 30.31%,#e6878c 35.31%,#e3757b 37.81%,#dc565d 40.31%,#dc535a 41.56%,#da4850 42.81%,#d94750 43.44%,#da4c54 44.06%,#e16e74 45.94%,#e47d83 47.81%,#e47d83 49.69%,#e26f76 51.56%,#de5c64 52.81%,#db4f57 53.44%,#d94750 54.06%,#d9474f 54.69%,#dd5b63 57.19%,#e3787e 59.06%,#e88f94 61.56%,#eeacb0 67.19%,#f5cdd0 77.19%,#e8d8e6 88.44%,#e1d8ec 92.19%,#d4cfed 96.56%,#cbcaee 99.69%)"></i><i style="background:linear-gradient(90deg,#f8dbdc 0.3125%,#f3c4c6 20.31%,#eeaeb1 30.31%,#ea989d 35.31%,#e68389 37.81%,#e27178 39.06%,#e16c73 40.31%,#e0666d 41.56%,#df6068 42.19%,#de6067 42.81%,#df656c 43.44%,#e6868c 45.31%,#e9959a 47.19%,#e9959a 49.06%,#e7878d 50.94%,#e3747b 52.19%,#e0686e 52.81%,#de6067 53.44%,#de5f66 54.06%,#e16e75 55.94%,#e99499 58.44%,#efb0b3 61.56%,#f6d4d6 68.44%,#f4e0e5 72.81%,#ece6f2 77.19%,#d1d3f3 80.31%,#abb8f5 86.56%,#91a5f5 89.06%,#7f98f5 90.31%,#7c97f5 91.56%,#7893f5 94.69%,#819bf6 95.94%,#93a9f7 98.44%,#98adf8 99.69%)"></i><i style="background:linear-gradient(90deg,#fae6e7 0.3125%,#f5ced0 20.94%,#f1b9bc 30.31%,#eda6aa 34.69%,#ea979c 36.56%,#e57f85 38.44%,#e47b81 40.31%,#e27077 41.56%,#e27077 42.19%,#e3757c 42.81%,#ea969b 44.69%,#eda5aa 46.56%,#eda5a9 48.44%,#ea979c 50.31%,#e6858a 51.56%,#e3787e 52.19%,#e26f76 52.81%,#e26f76 53.44%,#e58085 55.31%,#eda8ac 57.81%,#f3c5c8 60.94%,#f8e0e2 65.31%,#f1ecf5 69.69%,#c5cdf6 73.44%,#a0b3f8 77.19%,#728ef5 79.69%,#6b89f4 82.81%,#7e98f6 84.69%,#88a0f6 87.19%,#869ff6 89.69%,#849df6 90.94%,#94aaf7 95.31%,#adbef9 99.06%,#b0c0f9 99.69%)"></i><i style="background:linear-gradient(90deg,#fceff0 0.3125%,#f6d5d7 21.56%,#f2c0c3 30.31%,#eeabaf 34.69%,#ea989d 36.56%,#e7898f 37.81%,#e6878c 39.69%,#e47c82 40.94%,#e47d83 41.56%,#e58287 42.19%,#eca3a7 44.06%,#efb1b5 45.94%,#efb0b4 47.81%,#eca3a7 49.69%,#e89196 50.94%,#e68489 51.56%,#e47b81 52.19%,#e47b81 52.81%,#e88e93 54.69%,#efb0b3 56.56%,#f5ccce 59.06%,#f9e4e6 62.19%,#f4eef5 64.69%,#f0ecf7 65.31%,#bfcaf8 68.44%,#a2b5f8 70.31%,#89a1f6 71.56%,#6a88f4 72.81%,#6282f4 75.31%,#7691f5 77.19%,#7793f5 79.06%,#7793f5 79.69%,#89a1f6 82.81%,#a3b5f8 85.31%,#b9c7fa 89.06%,#cfd9fc 95.94%,#d6dffc 99.69%)"></i><i style="background:linear-gradient(90deg,#fdf7f7 0.3125%,#f8dbdc 21.56%,#f3c5c7 30.31%,#efb2b5 34.06%,#eb9ea3 35.94%,#ea969b 36.56%,#e99297 37.81%,#e89095 39.06%,#e6868c 40.31%,#e78c91 41.56%,#eeadb0 43.44%,#f0b8bb 44.69%,#f1bbbf 46.56%,#efb2b6 48.44%,#eda5a9 49.69%,#e88e93 50.94%,#e6858b 51.56%,#e6858b 52.19%,#ea9a9f 54.06%,#f2bdc0 55.94%,#f9e2e3 59.06%,#f5f0f6 61.56%,#e3e4f8 62.81%,#b0c0f9 65.31%,#809af6 67.19%,#6b89f4 67.81%,#6383f4 68.44%,#5d7ef3 69.69%,#5d7ef3 70.31%,#6786f4 70.94%,#6d8bf4 72.19%,#6e8cf5 72.81%,#849df6 75.31%,#9db1f8 77.19%,#b6c5fa 80.31%,#ccd6fb 85.31%,#dfe6fd 94.69%,#e5eafd 99.69%)"></i><i style="background:linear-gradient(90deg,#fafafd 0.3125%,#fdf4f4 8.438%,#f7d9db 24.69%,#f3c5c8 30.94%,#efb2b5 34.06%,#eb9ca0 35.94%,#eb9ba0 37.81%,#e88f94 39.69%,#e99599 40.94%,#f0b5b8 42.81%,#f2c0c3 44.06%,#f3c3c6 45.94%,#f1babd 47.81%,#eeadb1 49.06%,#e88d92 50.94%,#e88d93 51.56%,#eb9ba0 52.81%,#efb2b6 54.06%,#f4cacc 55.31%,#f9e3e4 57.19%,#f6f0f6 59.06%,#edecf8 59.69%,#c1cdfa 61.56%,#8aa1f6 63.44%,#6181f4 64.69%,#587af3 65.94%,#5c7df3 66.56%,#6483f4 67.19%,#6685f4 67.81%,#839cf6 70.31%,#99adf8 71.56%,#b3c2f9 74.06%,#c8d3fb 77.81%,#dbe3fc 84.69%,#ebeffe 97.81%,#edf0fe 99.69%)"></i><i style="background:linear-gradient(90deg,#e9eefd 0.3125%,#fcfbfd 5.312%,#fbeaeb 17.81%,#f6d4d6 27.81%,#f2c0c3 32.19%,#efafb2 34.06%,#eca1a5 35.31%,#eca3a7 37.19%,#e9969b 39.06%,#eb9ca1 40.31%,#f1bcbf 42.19%,#f4c7c9 43.44%,#f4c9cc 45.31%,#f2c0c3 47.19%,#f0b4b7 48.44%,#e99499 50.31%,#e99599 50.94%,#eca3a7 52.19%,#f7d6d7 54.69%,#f9e7e9 55.94%,#f6f1f6 57.19%,#eaeaf9 57.81%,#c8d2fa 59.06%,#849df6 60.94%,#6886f4 61.56%,#5c7df3 62.19%,#5779f3 62.81%,#597af3 63.44%,#6685f4 64.69%,#849df6 66.56%,#9cb0f8 67.81%,#b2c2f9 69.69%,#c7d2fb 72.81%,#dae2fc 78.44%,#eaeefd 89.06%,#f1f4fe 99.69%)"></i><i style="background:linear-gradient(90deg,#ccd7fb 0.3125%,#d1dafc 1.562%,#e0e6fd 2.812%,#f3f5fe 5.938%,#fdfcfd 9.062%,#f9e0e2 24.06%,#f4cbcd 30.31%,#f1b9bc 32.81%,#eea9ad 34.06%,#eda8ac 35.31%,#eda9ad 36.56%,#eb9ca1 38.44%,#eca3a7 39.69%,#f3c2c5 41.56%,#f5cdcf 42.81%,#f5cfd1 44.69%,#f3c6c9 46.56%,#f1babd 47.81%,#ea9a9f 49.69%,#eb9b9f 50.31%,#eeabaf 51.56%,#f9e1e2 54.06%,#f7eff3 55.31%,#eeedf8 55.94%,#c7d2fa 57.19%,#5c7df3 59.69%,#5678f3 60.31%,#587af3 60.94%,#6988f4 62.19%,#819bf6 63.44%,#9db1f8 64.69%,#b5c4fa 66.56%,#cbd5fb 69.69%,#dee4fd 75.31%,#edf1fe 86.56%,#f4f7fe 99.69%)"></i><i style="background:linear-gradient(90deg,#b9c7fa 0.3125%,#9fb2f8 1.562%,#b6c5fa 2.188%,#c2cefb 2.812%,#cbd6fb 4.062%,#e1e7fd 5.938%,#f6f7fe 9.062%,#fefcfd 11.56%,#f8dfe0 25.31%,#f4cacd 30.31%,#f1bbbe 32.19%,#eeadb0 33.44%,#eeaeb2 35.94%,#eca4a8 37.19%,#eca4a8 38.44%,#eda9ad 39.06%,#f4c8ca 40.94%,#f6d2d4 42.19%,#f6d3d5 44.06%,#f4cbcd 45.94%,#f2bfc2 47.19%,#eca0a4 49.06%,#eca0a5 49.69%,#efb2b6 50.94%,#f9dfe1 52.81%,#f6f0f5 54.06%,#e7e8f9 54.69%,#d1d9fa 55.31%,#97acf7 56.56%,#7692f5 57.19%,#5b7cf3 57.81%,#5477f3 58.44%,#6483f4 59.69%,#809af6 60.94%,#92a8f7 61.56%,#a9bbf9 62.81%,#becbfa 64.69%,#d4ddfc 68.44%,#e6ebfd 75.31%,#f3f5fe 89.69%,#f7f8fe 99.69%)"></i><i style="background:linear-gradient(90deg,#c8d3fb 0.3125%,#b3c2f9 1.562%,#bac8fa 2.188%,#b9c7fa 2.812%,#b2c2f9 3.438%,#a2b5f8 4.062%,#becbfa 5.312%,#e3e8fd 8.438%,#f8f9fe 11.56%,#fefcfd 13.44%,#f8dee0 25.94%,#f5cdcf 29.69%,#f1bcbf 31.56%,#efb1b4 32.81%,#f0b5b8 34.69%,#efaeb2 35.94%,#eda9ad 36.56%,#eeaaae 37.81%,#eeaeb2 38.44%,#f5cdcf 40.31%,#f7d6d8 41.56%,#f7d7d9 43.44%,#f4cacd 45.94%,#f1bbbe 47.19%,#eda5a9 48.44%,#eda5a9 49.06%,#f1b9bc 50.31%,#f7dadc 51.56%,#f8e7e9 52.19%,#f6eff4 52.81%,#e5e6f9 53.44%,#cbd5fa 54.06%,#6282f4 55.94%,#5578f3 56.56%,#6685f4 57.81%,#7490f5 58.44%,#9aaef8 59.69%,#b0c0f9 60.94%,#c4d0fb 62.81%,#d8e0fc 66.56%,#e9edfd 73.44%,#f5f7fe 89.06%,#f8faff 99.69%)"></i><i style="background:linear-gradient(90deg,#dbe2fc 0.3125%,#cad5fb 2.812%,#c2cefb 3.438%,#b4c3fa 4.062%,#b4c3fa 5.312%,#a9baf9 5.938%,#a8baf9 6.562%,#bac8fa 7.187%,#dee4fd 9.688%,#f7f9fe 12.81%,#fefdfd 14.69%,#f8dfe0 25.94%,#f4cacd 29.69%,#f0b6b9 31.56%,#f0b7ba 32.81%,#f1babd 34.06%,#eeadb1 35.94%,#efafb3 37.19%,#f0b3b7 37.81%,#f6d1d3 39.69%,#f8dadc 40.94%,#f8dbdd 42.81%,#f5cfd1 45.31%,#f2c0c2 46.56%,#eeaaae 47.81%,#eeaaae 48.44%,#efb3b6 49.06%,#f2c0c3 49.69%,#f8e2e4 50.94%,#f6ecf1 51.56%,#e7e7f8 52.19%,#cad4fa 52.81%,#7e98f6 54.06%,#5b7cf3 54.69%,#5a7bf3 55.31%,#6383f4 55.94%,#728ef5 56.56%,#9baff8 57.81%,#b2c2f9 59.06%,#c7d2fb 60.94%,#dbe2fc 64.69%,#ebeffe 71.56%,#f6f8fe 87.81%,#f9fbff 99.69%)"></i><i style="background:linear-gradient(90deg,#e3e9fd 0.3125%,#d6defc 3.438%,#c5d1fb 5.312%,#b9c7fa 5.938%,#b1c1f9 6.562%,#b0c0f9 7.187%,#a5b7f8 7.812%,#d4ddfc 10.31%,#eef2fe 12.81%,#fefdfe 15.31%,#f9e1e2 25.31%,#f5d1d3 28.44%,#f1b9bc 30.94%,#f2bec1 33.44%,#efb1b4 35.31%,#f0b4b7 36.56%,#f0b8bb 37.19%,#f7d5d7 39.06%,#f8dedf 40.31%,#f8dee0 42.19%,#f6d2d4 44.69%,#f3c4c7 45.94%,#eeaeb2 47.19%,#eeaeb2 47.81%,#f0b8bb 48.44%,#f3c6c9 49.06%,#f7d9db 49.69%,#f7e7eb 50.31%,#eeebf7 50.94%,#cfd7f9 51.56%,#a8baf9 52.19%,#7d97f6 52.81%,#5a7cf3 53.44%,#6a88f4 54.69%,#96abf7 55.94%,#a6b8f9 56.56%,#bbc9fa 57.81%,#cdd7fb 59.69%,#dfe6fd 63.44%,#eef1fe 70.94%,#f8faff 89.69%,#fafbff 99.69%)"></i><i style="background:linear-gradient(90deg,#e8edfd 0.3125%,#d9e1fc 4.688%,#cad5fb 6.562%,#c1cdfa 7.187%,#b3c2f9 7.812%,#a5b7f8 9.062%,#afbff9 9.688%,#ccd6fb 10.94%,#e6ebfd 12.81%,#fbfcff 15.31%,#fffdfd 16.56%,#f9e0e2 25.31%,#f6d2d4 27.81%,#f2bec1 29.69%,#f2bec1 30.94%,#f3c2c5 32.19%,#f2bfc2 33.44%,#f0b5b8 34.69%,#f1bcbf 36.56%,#f7d9db 38.44%,#f9e1e2 39.69%,#f9dfe1 42.19%,#f7d6d7 44.06%,#f4c8ca 45.31%,#efb2b6 46.56%,#efb2b6 47.19%,#f1bcbf 47.81%,#f7dfe2 49.06%,#f4ecf2 49.69%,#dadef8 50.31%,#b3c3f9 50.94%,#859ef6 51.56%,#6080f3 52.19%,#6584f4 52.81%,#6f8cf5 53.44%,#9eb2f8 54.69%,#adbef9 55.31%,#c0cdfa 56.56%,#d5defc 59.06%,#e5ebfd 63.44%,#f2f5fe 72.81%,#fbfcff 99.69%)"></i><i style="background:linear-gradient(90deg,#eceffe 0.3125%,#dde4fd 5.312%,#d1dafc 7.187%,#c1cdfa 8.438%,#b2c2f9 9.062%,#aabbf9 9.688%,#a6b8f9 10.31%,#c7d2fb 11.56%,#dce3fc 12.81%,#f7f8fe 15.31%,#fffefe 16.56%,#f8dfe0 25.31%,#f5ccce 27.81%,#f2c0c2 29.06%,#f3c6c9 31.56%,#f2c2c5 32.81%,#f1b8bb 34.06%,#f2c1c3 35.94%,#f8ddde 37.81%,#fae5e6 39.69%,#f9e0e1 42.19%,#f6d3d5 44.06%,#f0b6b9 45.94%,#f0b6b9 46.56%,#f2c1c4 47.19%,#f6e3e8 48.44%,#ebe8f6 49.06%,#c5cff9 49.69%,#6987f4 50.94%,#6887f4 51.56%,#738ff5 52.19%,#8da4f7 52.81%,#a3b5f8 53.44%,#b1c1f9 54.06%,#c4d0fb 55.31%,#d8e0fc 57.81%,#e8ecfd 62.19%,#f4f6fe 72.19%,#fcfcff 99.69%)"></i><i style="background:linear-gradient(90deg,#eef1fe 0.3125%,#e0e6fd 5.938%,#cfd8fb 8.438%,#c6d2fb 9.062%,#abbcf9 10.31%,#a5b7f8 10.94%,#c6d2fb 12.19%,#dde4fd 13.44%,#f9faff 15.94%,#fefeff 16.56%,#f9e3e5 24.06%,#f6d3d5 26.56%,#f3c5c8 27.81%,#f3c2c5 28.44%,#f4cacc 30.94%,#f3c5c7 32.19%,#f1bcbf 33.44%,#f3c5c7 35.31%,#f9e0e1 37.19%,#fae7e8 39.06%,#f9dfe1 42.19%,#f5cfd1 44.06%,#f1babd 45.31%,#f1b9bd 45.94%,#f3c5c8 46.56%,#f6d8da 47.19%,#f4e8ee 47.81%,#d9ddf7 48.44%,#adbef9 49.06%,#7994f5 49.69%,#6b89f4 50.31%,#7490f5 50.94%,#a4b7f8 52.19%,#b4c3fa 52.81%,#c7d2fb 54.06%,#dbe2fc 56.56%,#ebeffe 61.56%,#f6f8fe 72.81%,#fcfdff 99.69%)"></i><i style="background:linear-gradient(90deg,#f0f3fe 0.3125%,#e3e9fd 5.938%,#d6defc 8.438%,#c8d3fb 9.688%,#bccafa 10.31%,#abbcf9 10.94%,#a5b7f8 11.56%,#cad5fb 12.81%,#e1e7fd 14.06%,#fdfdff 16.56%,#fef9f9 18.44%,#f9e1e2 24.06%,#f6d2d4 25.94%,#f3c6c8 27.19%,#f5cdcf 30.31%,#f2bfc2 32.81%,#f4c8cb 34.69%,#f9e3e4 36.56%,#fbe9ea 38.44%,#f9e2e3 41.56%,#f6d2d4 43.44%,#f1bdc0 44.69%,#f1bdc0 45.31%,#f4c9cc 45.94%,#f6dcdf 46.56%,#eee7f2 47.19%,#c8d1f8 47.81%,#94aaf7 48.44%,#708df5 49.06%,#7591f5 49.69%,#8aa2f7 50.31%,#a3b6f8 50.94%,#b4c3fa 51.56%,#c9d4fb 52.81%,#d9e1fc 54.69%,#e8edfd 58.44%,#f4f6fe 67.19%,#fcfdff 95.94%,#fcfdff 99.69%)"></i><i style="background:linear-gradient(90deg,#f1f4fe 0.3125%,#e4e9fd 6.562%,#d6defc 9.062%,#c7d2fb 10.31%,#b9c7fa 10.94%,#a7b8f9 11.56%,#acbdf9 12.19%,#c2cefb 12.81%,#d2dbfc 13.44%,#eef2fe 15.31%,#fcfdff 16.56%,#fefbfb 17.81%,#f9e2e3 23.44%,#f4cbcd 25.94%,#f4c8ca 26.56%,#f5d0d3 29.06%,#f4cacc 30.94%,#f3c3c5 32.19%,#f5ccce 34.06%,#fae5e6 35.94%,#fbebec 37.81%,#f9e4e5 40.94%,#f6d5d7 42.81%,#f2c0c3 44.06%,#f2c0c3 44.69%,#f5cdcf 45.31%,#f5dfe3 45.94%,#e6e4f5 46.56%,#b7c4f9 47.19%,#819bf6 47.81%,#7792f5 48.44%,#849df6 49.06%,#9fb2f8 49.69%,#b3c2f9 50.31%,#c9d4fb 51.56%,#dae1fc 53.44%,#e9eefd 57.19%,#f5f7fe 65.94%,#fdfdff 95.94%,#fdfdff 99.69%)"></i><i style="background:linear-gradient(90deg,#f2f5fe 0.3125%,#e6ebfd 6.562%,#dae1fc 9.062%,#cdd7fb 10.31%,#c2cefb 10.94%,#b0c0f9 11.56%,#a6b8f9 12.19%,#ced8fb 13.44%,#e5eafd 14.69%,#fcfdff 16.56%,#fefbfb 17.81%,#f9e2e3 22.81%,#f4cbcd 25.31%,#f5cdd0 26.56%,#f6d3d5 28.44%,#f5ccce 30.31%,#f3c6c9 30.94%,#f3c6c9 31.56%,#f5cfd1 33.44%,#f9e2e3 34.69%,#fbebec 35.94%,#fbebec 38.44%,#f9e3e4 40.94%,#f7d8da 42.19%,#f3c4c6 43.44%,#f3c3c6 44.06%,#f6d1d3 44.69%,#f3e2e8 45.31%,#d9dbf6 45.94%,#a6b8f8 46.56%,#7c97f6 47.19%,#8099f6 47.81%,#aebff9 49.06%,#becbfa 49.69%,#d0dafc 50.94%,#e2e8fd 53.44%,#eff2fe 58.44%,#f9faff 72.19%,#fdfdff 99.69%)"></i><i style="background:linear-gradient(90deg,#f3f6fe 0.3125%,#e8edfd 6.562%,#dce3fc 9.062%,#d0dafc 10.31%,#c6d2fb 10.94%,#a7b8f9 12.19%,#cdd7fb 13.44%,#e6ebfd 14.69%,#fdfeff 16.56%,#fae7e8 21.56%,#f5cccf 24.69%,#f7d6d8 27.19%,#f6d2d4 29.06%,#f4c9cb 30.31%,#f6d3d5 32.81%,#fae4e5 34.06%,#fbedee 35.31%,#fbeced 38.44%,#f9e1e2 40.94%,#f6d1d3 42.19%,#f3c7c9 42.81%,#f3c6c8 43.44%,#f6d4d6 44.06%,#f2e4ec 44.69%,#cdd3f7 45.31%,#97acf7 45.94%,#819af6 46.56%,#8ca4f7 47.19%,#a7b9f9 47.81%,#bac8fa 48.44%,#cfd9fc 49.69%,#dfe5fd 51.56%,#eef1fe 55.94%,#f8faff 67.19%,#fdfeff 99.69%)"></i><i style="background:linear-gradient(90deg,#f4f6fe 0.3125%,#e9edfd 6.562%,#dde4fd 9.062%,#d2dbfc 10.31%,#c9d4fb 10.94%,#a9baf9 12.19%,#ced8fb 13.44%,#e8ecfd 14.69%,#f9faff 15.94%,#fefefe 16.56%,#f9e2e3 21.56%,#f5cfd1 23.44%,#f6d2d4 24.69%,#f7d9db 26.56%,#f6d4d6 28.44%,#f4cbcd 29.69%,#f7d6d8 32.19%,#fae7e8 33.44%,#fceeef 34.69%,#fbedee 37.81%,#f9e3e4 40.31%,#f6d4d6 41.56%,#f4cacc 42.19%,#f4c8cb 42.81%,#f5d6d9 43.44%,#eee4ee 44.06%,#c3ccf8 44.69%,#8fa6f7 45.31%,#87a0f6 45.94%,#9bb0f8 46.56%,#b3c3fa 47.19%,#c3cffb 47.81%,#d5ddfc 49.06%,#e5eafd 51.56%,#f2f5fe 57.19%,#fbfcff 74.06%,#fdfeff 99.69%)"></i><i style="background:linear-gradient(90deg,#f5f7fe 0.3125%,#eaeefd 6.562%,#dee5fd 9.062%,#d3dcfc 10.31%,#c9d4fb 10.94%,#abbcf9 12.19%,#d2dbfc 13.44%,#ebeffe 14.69%,#fcfdff 15.94%,#fef9f9 17.19%,#f9e1e3 20.94%,#f6d4d6 22.19%,#f6d1d3 22.81%,#f8dbdd 25.31%,#f7d9db 27.19%,#f5cdd0 29.06%,#f7d9db 31.56%,#fae9ea 32.81%,#fcf0f1 34.06%,#fceeef 37.19%,#fae5e6 39.69%,#f7d7d9 40.94%,#f5cdcf 41.56%,#f4cbcd 42.19%,#f5d8db 42.81%,#e9e2f0 43.44%,#b9c5f8 44.06%,#8ea5f7 44.69%,#90a7f7 45.31%,#a9baf9 45.94%,#bdcafa 46.56%,#cad5fb 47.19%,#d9e1fc 48.44%,#e8ecfd 50.94%,#f4f6fe 57.19%,#fcfdff 77.81%,#fefeff 99.69%)"></i><i style="background:linear-gradient(90deg,#f5f7fe 0.3125%,#eaeefd 6.562%,#dee5fd 9.062%,#d2dbfc 10.31%,#c7d3fb 10.94%,#b6c5fa 11.56%,#b0c0f9 12.19%,#d8e0fc 13.44%,#f0f3fe 14.69%,#f9fafe 15.31%,#fefdfd 15.94%,#fae6e7 19.69%,#f6d3d5 21.56%,#f7d6d8 22.81%,#f8dedf 24.69%,#f8dbdd 26.56%,#f5d0d2 28.44%,#f8dcdd 30.94%,#fbebec 32.19%,#fcf2f3 34.06%,#fbeced 37.81%,#f9e1e3 39.69%,#f5cfd1 40.94%,#f5cdcf 41.56%,#f5dade 42.19%,#e4e0f2 42.81%,#b0bff8 43.44%,#91a7f7 44.06%,#9aaff8 44.69%,#b3c3fa 45.31%,#c5d1fb 45.94%,#d7dffc 47.19%,#e8ecfd 49.69%,#f4f6fe 55.31%,#fcfcff 74.06%,#fefeff 99.69%)"></i><i style="background:linear-gradient(90deg,#f5f7fe 0.3125%,#eaeffe 6.562%,#dee5fd 9.062%,#d0dafc 10.31%,#c4d0fb 10.94%,#b3c2f9 11.56%,#b9c7fa 12.19%,#cfd9fc 12.81%,#ecf0fe 14.06%,#fdfdfe 15.31%,#fbebeb 18.44%,#f7d8da 20.31%,#f6d4d6 20.94%,#f9e0e1 24.06%,#f8dddf 25.94%,#f6d3d5 27.81%,#f8dbdc 29.06%,#f8dfe0 30.31%,#fbedee 31.56%,#fdf3f4 33.44%,#fbeeee 37.19%,#f9e3e5 39.06%,#f6d2d4 40.31%,#f5cfd2 40.94%,#f4dbe0 41.56%,#e1dff4 42.19%,#abbcf8 42.81%,#95abf7 43.44%,#a5b7f8 44.06%,#bccafa 44.69%,#cbd5fb 45.31%,#dbe3fc 46.56%,#eaeefd 49.06%,#f5f7fe 55.31%,#fdfdff 77.81%,#fefeff 99.69%)"></i><i style="background:linear-gradient(90deg,#f6f7fe 0.3125%,#eaeffe 6.562%,#dde4fd 9.062%,#ccd7fb 10.31%,#bdcbfa 10.94%,#b4c3fa 11.56%,#d9e1fc 12.81%,#f3f6fe 14.06%,#fcfcfe 14.69%,#fdf7f8 15.94%,#f9e4e5 18.44%,#f7d7d9 19.69%,#f7dadb 20.94%,#f9e2e3 22.81%,#f8dfe0 25.31%,#f7d6d8 26.56%,#f6d5d7 27.19%,#f8dee0 28.44%,#f9e1e3 29.69%,#fcefef 30.94%,#fdf4f5 32.81%,#fbedee 37.19%,#fae5e6 38.44%,#f6d5d7 39.69%,#f6d2d4 40.31%,#f4dde2 40.94%,#dcdcf4 41.56%,#a9bbf9 42.19%,#9baff8 42.81%,#c3cffb 44.06%,#d0dafc 44.69%,#dfe5fd 45.94%,#ecf0fe 48.44%,#f7f8fe 55.31%,#fdfeff 82.81%,#fefeff 99.69%)"></i><i style="background:linear-gradient(90deg,#f6f8fe 0.3125%,#eaeefd 6.562%,#dbe2fc 9.062%,#d3dcfc 9.688%,#b7c6fa 10.94%,#becbfa 11.56%,#d3dcfc 12.19%,#f1f4fe 13.44%,#fafbfe 14.06%,#fefbfc 14.69%,#fae9ea 17.19%,#f8dbdd 18.44%,#f7d8da 19.06%,#f9e4e5 22.19%,#f9e0e2 24.69%,#f7d7d9 25.94%,#f7d8da 26.56%,#f9e1e3 27.81%,#f9e4e5 29.06%,#fcf0f1 30.31%,#fdf5f5 32.81%,#fceeef 36.56%,#fae7e8 37.81%,#f7d7d9 39.06%,#f6d4d6 39.69%,#f3dee3 40.31%,#d8d9f5 40.94%,#a9bbf9 41.56%,#a1b4f8 42.19%,#c9d4fb 43.44%,#dce3fc 44.69%,#ebeffe 47.19%,#f6f8fe 53.44%,#fdfdff 77.81%,#fefeff 99.69%)"></i><i style="background:linear-gradient(90deg,#f6f8fe 0.3125%,#ecf0fe 5.938%,#dee5fd 8.438%,#cdd7fb 9.688%,#becbfa 10.31%,#bac8fa 10.94%,#e0e6fd 12.19%,#fafafe 13.44%,#fefbfc 14.06%,#fae7e8 16.56%,#f7dadc 17.81%,#f8dddf 19.06%,#fae5e6 20.94%,#f9e4e5 23.44%,#f7d9db 25.31%,#fae4e6 27.19%,#fae6e7 28.44%,#fcf2f2 29.69%,#fdf6f6 32.19%,#fceff0 35.94%,#f9e3e4 37.81%,#f7dadb 38.44%,#f7d6d8 39.06%,#f3dee4 39.69%,#d5d7f5 40.31%,#aabbf9 40.94%,#a7b9f9 41.56%,#bdcbfa 42.19%,#ced8fb 42.81%,#dfe5fd 44.06%,#edf0fe 46.56%,#f7f9fe 53.44%,#fefeff 84.06%,#fefeff 99.69%)"></i><i style="background:linear-gradient(90deg,#f6f8fe 0.3125%,#ebeffe 5.938%,#e1e7fd 7.812%,#d1dbfc 9.062%,#c4d0fb 9.688%,#bbc9fa 10.31%,#c9d4fb 10.94%,#dde4fd 11.56%,#f9fafe 12.81%,#fefbfc 13.44%,#fae5e6 15.94%,#f8dbdd 17.19%,#fae7e8 20.31%,#fae5e7 22.81%,#f8dbdd 24.69%,#fae7e9 26.56%,#fae9ea 27.81%,#fdf5f6 29.69%,#fdf3f4 34.06%,#fbeaeb 36.56%,#f7d8d9 38.44%,#f3dfe6 39.06%,#d3d6f5 39.69%,#acbdf9 40.31%,#adbef9 40.94%,#c3cffb 41.56%,#d2dbfc 42.19%,#e2e8fd 43.44%,#eef2fe 45.94%,#f8f9fe 52.81%,#fefeff 86.56%,#fefeff 99.69%)"></i><i style="background:linear-gradient(90deg,#f6f8fe 0.3125%,#ecf0fe 5.312%,#e3e8fd 7.187%,#d5ddfc 8.438%,#bdcbfa 9.688%,#c7d2fb 10.31%,#ecf0fe 11.56%,#f9f9fe 12.19%,#fdfafb 12.81%,#f8dddf 15.94%,#f9e0e2 17.19%,#fae8e9 19.06%,#fae7e8 22.19%,#f8ddde 24.06%,#fbebeb 25.94%,#fbebec 27.19%,#fdf6f7 29.06%,#fdf3f3 34.06%,#fbeced 35.94%,#f7d9db 37.81%,#f3e0e7 38.44%,#d2d5f6 39.06%,#afbff9 39.69%,#b3c3fa 40.31%,#c8d3fb 40.94%,#d6defc 41.56%,#e4e9fd 42.81%,#f1f4fe 45.94%,#fafbff 55.31%,#fefeff 99.69%)"></i><i style="background:linear-gradient(90deg,#f6f8fe 0.3125%,#ebeffe 5.312%,#dfe6fd 7.187%,#ccd6fb 8.438%,#c0cdfa 9.062%,#c6d2fb 9.688%,#ecf0fe 10.94%,#f9f9fe 11.56%,#fdfafb 12.19%,#f9e1e2 14.69%,#f8dee0 15.31%,#fbeaeb 18.44%,#fae8e9 21.56%,#f8dfe1 23.44%,#fbebec 24.69%,#fbeeee 25.31%,#fbedee 26.56%,#fdf7f7 28.44%,#fdf4f4 33.44%,#fbedee 35.31%,#f8dbdd 37.19%,#f3e1e7 37.81%,#d1d6f6 38.44%,#b2c2f9 39.06%,#b9c7fa 39.69%,#ccd7fb 40.31%,#d9e1fc 40.94%,#e6ebfd 42.19%,#f2f5fe 45.31%,#fbfcff 55.31%,#fefeff 99.69%)"></i><i style="background:linear-gradient(90deg,#f6f7fe 0.3125%,#ecf0fe 4.688%,#e1e7fd 6.562%,#ced8fb 7.812%,#c3cffb 8.438%,#c7d2fb 9.062%,#edf0fe 10.31%,#f9f9fd 10.94%,#fdf9fa 11.56%,#f9e0e1 14.06%,#fbeced 17.81%,#fae9ea 20.94%,#f9e2e3 22.19%,#f9e2e3 22.81%,#fcefef 24.06%,#fcf1f1 24.69%,#fceff0 25.94%,#fdf8f8 27.81%,#fdf5f5 32.81%,#fbeaeb 35.31%,#f8ddde 36.56%,#f3e2e8 37.19%,#d2d6f6 37.81%,#b6c5fa 38.44%,#bdcbfa 39.06%,#d0dafc 39.69%,#dbe3fc 40.31%,#ebeffe 42.19%,#f6f8fe 46.56%,#fdfdff 64.06%,#feffff 99.69%)"></i><i style="background:linear-gradient(90deg,#f5f7fe 0.3125%,#eaeefd 4.688%,#dbe2fc 6.562%,#c5d1fb 7.812%,#c9d4fb 8.438%,#eef1fd 9.688%,#faf9fd 10.31%,#fdf8f8 10.94%,#f9e3e4 12.81%,#f9e3e4 14.06%,#fbedee 16.56%,#fbeced 19.69%,#f9e3e4 21.56%,#fae4e6 22.19%,#fcf2f3 23.44%,#fdf4f4 24.06%,#fcf1f1 25.31%,#fef8f9 27.19%,#fdf4f4 32.81%,#fbebec 34.69%,#f8dfe0 35.94%,#f4e3e9 36.56%,#d3d7f6 37.19%,#b9c7fa 37.81%,#c2cefb 38.44%,#d3dcfc 39.06%,#e4eafd 40.31%,#f1f4fe 42.81%,#fafbff 50.31%,#feffff 99.69%)"></i><i style="background:linear-gradient(90deg,#f5f7fe 0.3125%,#ebeffe 4.062%,#dce3fc 5.938%,#c7d2fb 7.187%,#cbd6fb 7.812%,#f0f3fd 9.062%,#fbf9fc 9.688%,#fdf6f7 10.31%,#f9e2e3 12.19%,#fceeef 15.94%,#fbedee 19.06%,#fae4e5 20.94%,#fae7e9 21.56%,#fdf6f6 22.81%,#fdf7f8 23.44%,#fcf2f3 24.69%,#fef9f9 27.19%,#fdf3f4 32.81%,#fbedee 34.06%,#f9e0e2 35.31%,#f4e3e9 35.94%,#d5d8f6 36.56%,#bccafa 37.19%,#c5d1fb 37.81%,#d6defc 38.44%,#e6ebfd 39.69%,#f2f4fe 42.19%,#fafbff 50.31%,#fff 99.69%)"></i><i style="background:linear-gradient(90deg,#f4f7fe 0.3125%,#e8edfd 4.062%,#dce3fc 5.312%,#c8d3fb 6.562%,#ced8fb 7.187%,#f3f5fd 8.438%,#fbf8fa 9.062%,#fbeced 10.31%,#fae5e6 10.94%,#fae5e7 12.19%,#fceff0 14.69%,#fceeef 18.44%,#fae6e7 20.31%,#fdfafa 22.19%,#fefbfb 22.81%,#fdf4f4 24.06%,#fefafa 26.56%,#fdf4f4 32.19%,#fae8e9 34.06%,#f9e2e3 34.69%,#f4e4e9 35.31%,#d7daf6 35.94%,#c0ccfa 36.56%,#c9d4fb 37.19%,#d8e0fc 37.81%,#e8ecfd 39.06%,#f2f5fe 41.56%,#fbfcff 50.31%,#fff 99.69%)"></i><i style="background:linear-gradient(90deg,#f4f6fe 0.3125%,#e9edfd 3.438%,#dde4fd 4.688%,#cad5fb 5.938%,#d2dbfc 6.562%,#f6f6fd 7.812%,#fcf7f8 8.438%,#fae4e6 10.31%,#fcf1f1 14.06%,#fceff0 17.81%,#fae8e9 19.69%,#fbf5f7 20.94%,#f9f8fc 21.56%,#fcfbfd 22.19%,#fdf5f6 23.44%,#fefafa 26.56%,#fdf5f5 31.56%,#fbeaeb 33.44%,#f9e4e5 34.06%,#f5e5ea 34.69%,#d9dcf6 35.31%,#c3cffb 35.94%,#ccd6fb 36.56%,#dbe2fc 37.19%,#e9edfd 38.44%,#f5f7fe 41.56%,#fcfdff 52.81%,#fff 99.69%)"></i><i style="background:linear-gradient(90deg,#f3f5fe 0.3125%,#e9edfd 2.812%,#dce3fc 4.062%,#ccd6fb 5.312%,#d6dffc 5.938%,#eaedfd 6.562%,#f8f7fc 7.187%,#fcf5f6 7.812%,#fae7e8 9.062%,#fae8e9 10.31%,#fcf1f2 12.81%,#fcf1f2 16.56%,#fbeaeb 18.44%,#fbeaeb 19.06%,#f7f4fa 20.31%,#eff1fd 20.94%,#f5f7fe 21.56%,#fdf8f9 22.19%,#fef8f8 23.44%,#fef9f9 28.44%,#fdf3f4 31.56%,#fae5e6 33.44%,#f6e5ea 34.06%,#dcddf6 34.69%,#c6d1fb 35.31%,#ced8fb 35.94%,#dde4fd 36.56%,#eaeefd 37.81%,#f5f7fe 40.94%,#fcfdff 52.81%,#fff 99.69%)"></i><i style="background:linear-gradient(90deg,#f1f4fe 0.3125%,#e9edfd 2.188%,#dce3fc 3.438%,#d2dbfc 4.062%,#ced8fb 4.688%,#dbe3fc 5.312%,#eff1fd 5.938%,#faf6fa 6.562%,#fcf3f3 7.187%,#fbeaeb 7.812%,#fae7e8 8.438%,#fcf2f3 12.19%,#fcf2f2 15.94%,#fbebeb 17.81%,#fbecee 18.44%,#f9f2f5 19.06%,#e1e7fd 20.31%,#ebeffd 20.94%,#faf7fa 21.56%,#fef9f9 22.81%,#fef9f9 28.44%,#fcf1f2 31.56%,#fae7e8 32.81%,#f6e6ea 33.44%,#dee0f7 34.06%,#c9d4fb 34.69%,#d0dafc 35.31%,#dee5fd 35.94%,#ebeffe 37.19%,#f6f8fe 40.31%,#fdfdff 53.44%,#fff 99.69%)"></i><i style="background:linear-gradient(90deg,#eff3fe 0.3125%,#e3e9fd 2.188%,#d2dbfc 3.438%,#d2dbfc 4.062%,#f4f4fc 5.312%,#fbf5f7 5.938%,#fae8e9 7.187%,#fbeaeb 8.438%,#fdf3f3 10.94%,#fcf3f3 15.31%,#fbeced 17.19%,#fbeff0 17.81%,#f6f2f8 18.44%,#e5e9fb 19.06%,#c6d2fb 19.69%,#e1e7fc 20.31%,#f8f5fa 20.94%,#fef8f9 21.56%,#fefafa 27.19%,#fcf2f3 30.94%,#fae8e9 32.19%,#f7e7eb 32.81%,#e1e2f7 33.44%,#ccd6fb 34.06%,#d3dcfc 34.69%,#e0e6fd 35.31%,#ecf0fe 36.56%,#f6f8fe 39.69%,#fdfdff 53.44%,#fff 99.69%)"></i><i style="background:linear-gradient(90deg,#edf0fe 0.3125%,#e3e8fd 1.562%,#d2dbfc 2.812%,#d7dffc 3.438%,#f7f5fa 4.688%,#fcf3f4 5.312%,#fbeced 5.938%,#fbeaeb 7.187%,#fdf3f4 9.688%,#fdf3f4 14.69%,#fbedee 16.56%,#faf0f3 17.19%,#f3f2fa 17.81%,#dfe5fc 18.44%,#d2dbfc 19.06%,#d6defb 19.69%,#f6f4fb 20.31%,#fef9f9 20.94%,#fefafa 27.19%,#fdf3f4 30.31%,#fbeaeb 31.56%,#f8e8eb 32.19%,#e5e4f7 32.81%,#cfd9fc 33.44%,#d4ddfc 34.06%,#e1e7fd 34.69%,#edf1fe 35.94%,#f7f9fe 39.69%,#fefeff 57.81%,#fff 99.69%)"></i><i style="background:linear-gradient(90deg,#e8edfd 0.3125%,#d3dcfc 2.188%,#dde3fc 2.812%,#eff1fc 3.438%,#f9f4f8 4.062%,#fcf0f1 4.688%,#fbeaeb 5.312%,#fdf5f6 9.688%,#fdf4f4 14.06%,#fbeef0 15.94%,#f9f3f6 16.56%,#e1e7fd 17.81%,#d9e1fc 18.44%,#e1e7fc 19.06%,#f6f5fb 19.69%,#fefafa 20.31%,#fef9fa 27.19%,#fdf4f5 29.69%,#fbebec 30.94%,#f8e8eb 31.56%,#e8e7f7 32.19%,#d2dbfc 32.81%,#d6defc 33.44%,#e2e8fd 34.06%,#eef1fe 35.31%,#f8f9fe 39.06%,#fefeff 58.44%,#fff 99.69%)"></i><i style="background:linear-gradient(90deg,#e0e6fd 0.3125%,#d8e0fc 0.9375%,#d6defc 1.562%,#e3e8fc 2.188%,#f4f3fb 2.812%,#fbf3f5 3.438%,#fbedee 4.062%,#fbeced 5.312%,#fdf5f5 7.812%,#fdf5f6 12.81%,#fcf0f1 14.69%,#fbf0f1 15.31%,#f7f3f8 15.94%,#eaedfc 16.56%,#e3e9fd 17.19%,#e1e7fd 17.81%,#e9edfd 18.44%,#f7f6fb 19.06%,#fefafa 19.69%,#fef9f9 27.19%,#fcf2f2 29.69%,#f9e9ec 30.94%,#eae8f6 31.56%,#d5ddfc 32.19%,#d7dffc 32.81%,#e3e9fd 33.44%,#eff2fe 34.69%,#f8faff 38.44%,#fefeff 59.06%,#fff 99.69%)"></i><i style="background:linear-gradient(90deg,#d7dffc 0.3125%,#dbe2fc 0.9375%,#ebedfc 1.562%,#f7f3f8 2.188%,#fcf1f2 2.812%,#fbeced 3.438%,#fdf6f7 7.812%,#fdf5f5 12.81%,#fcf1f1 14.06%,#faf1f3 14.69%,#f5f3fa 15.31%,#eaeefd 15.94%,#e6ebfd 16.56%,#e8edfd 17.19%,#eef1fd 17.81%,#f9f8fc 18.44%,#fefbfb 19.06%,#fef9f9 27.19%,#fcf3f3 29.06%,#f9eaec 30.31%,#ece9f6 30.94%,#d7dffc 31.56%,#d9e0fc 32.19%,#e4eafd 32.81%,#eff3fe 34.06%,#f9faff 37.81%,#fefeff 59.69%,#fff 99.69%)"></i><i style="background:linear-gradient(90deg,#e1e7fc 0.3125%,#f1f1fb 0.9375%,#faf3f5 1.562%,#fceeef 2.188%,#fceeef 3.438%,#fdf6f6 5.938%,#fdf6f7 11.56%,#fcf1f2 13.44%,#faf4f6 14.06%,#f0f0fb 14.69%,#eaeefd 15.94%,#f2f4fe 17.19%,#faf9fc 17.81%,#fefbfb 18.44%,#fef9f9 26.56%,#fdf4f4 28.44%,#faebed 29.69%,#eeeaf5 30.31%,#d9e0fb 30.94%,#dae1fc 31.56%,#e5eafd 32.19%,#f0f3fe 33.44%,#f9faff 37.19%,#fefeff 60.94%,#fff 99.69%)"></i><i style="background:linear-gradient(90deg,#f6f2f8 0.3125%,#fbf1f2 0.9375%,#fceeef 2.188%,#fdf7f7 5.312%,#fdf7f7 10.94%,#fcf2f3 12.81%,#faf5f8 13.44%,#eff1fc 14.06%,#ecf0fe 14.69%,#f5f6fe 16.56%,#fefbfc 17.81%,#fef8f9 26.56%,#fcf0f1 28.44%,#faecee 29.06%,#f0ebf5 29.69%,#dbe1fb 30.31%,#dbe2fc 30.94%,#e6ebfd 31.56%,#f1f4fe 32.81%,#fafbff 37.19%,#feffff 69.06%,#fff 99.69%)"></i><i style="background:linear-gradient(90deg,#fceff0 0.3125%,#fcf0f1 1.562%,#fef8f8 4.688%,#fdf7f7 10.31%,#fbf3f4 12.19%,#f8f5fa 12.81%,#f0f2fd 13.44%,#eef1fe 14.06%,#fefcfc 17.19%,#fef9f9 25.94%,#fcf2f2 27.81%,#fbeeef 28.44%,#f3edf5 29.06%,#dde2fb 29.69%,#dce3fc 30.31%,#e7ecfd 30.94%,#f1f4fe 32.19%,#fafbff 36.56%,#feffff 70.94%,#fff 99.69%)"></i><i style="background:linear-gradient(90deg,#fcf0f0 0.3125%,#fef8f8 3.438%,#fdf7f8 9.688%,#fbf4f6 11.56%,#f1f4fe 12.81%,#f1f3fe 13.44%,#fefcfc 16.56%,#fef9f9 25.31%,#fceff0 27.81%,#f5eff5 28.44%,#dfe4fb 29.06%,#dde4fd 29.69%,#eef1fe 30.94%,#f7f9fe 33.44%,#fdfeff 45.94%,#fff 99.69%)"></i><i style="background:linear-gradient(90deg,#fdf5f5 0.3125%,#fefafa 5.938%,#fdf5f5 10.31%,#fcf6f8 10.94%,#f3f3fb 11.56%,#f3f6fe 12.81%,#fefcfc 15.94%,#fefafa 24.69%,#fcf0f1 27.19%,#f8f1f5 27.81%,#e2e6fb 28.44%,#dee5fd 29.06%,#eef2fe 30.31%,#f7f9fe 32.81%,#fdfeff 45.94%,#fff 99.69%)"></i><i style="background:linear-gradient(90deg,#fdf7f8 0.3125%,#fef9f9 7.812%,#fcf5f6 9.688%,#faf7fa 10.31%,#f4f5fd 10.94%,#f3f5fe 11.56%,#fefcfc 15.31%,#fef9f9 24.69%,#fcf1f1 26.56%,#f9f1f4 27.19%,#e5e8fb 27.81%,#dfe6fd 28.44%,#eff2fe 29.69%,#f8f9fe 32.19%,#fefeff 45.94%,#fff 99.69%)"></i><i style="background:linear-gradient(90deg,#fef9f9 0.3125%,#fef8f8 7.812%,#fcf6f7 9.062%,#f5f6fd 10.31%,#f8f9fe 11.56%,#fffdfd 15.31%,#fef9fa 24.06%,#fcf2f2 25.94%,#f9f1f4 26.56%,#e7eafa 27.19%,#e0e6fd 27.81%,#eff2fe 29.06%,#f8f9fe 31.56%,#fefeff 45.94%,#fff 99.69%)"></i><i style="background:linear-gradient(90deg,#fefafa 0.3125%,#fef8f9 7.187%,#fcf7f8 8.438%,#f5f7fe 9.688%,#fffdfd 14.69%,#fefafa 23.44%,#faf1f3 25.94%,#eaebfa 26.56%,#e1e7fd 27.19%,#eff3fe 28.44%,#f8faff 30.94%,#fefeff 45.94%,#fff 99.69%)"></i><i style="background:linear-gradient(90deg,#fefbfb 0.3125%,#fef9f9 6.562%,#fcf8fa 7.812%,#f6f6fc 8.438%,#fdfdfe 12.19%,#fefafa 22.81%,#faf1f3 25.31%,#ecedfa 25.94%,#e3e9fd 26.56%,#f3f6fe 28.44%,#fbfcff 32.81%,#fff 87.81%,#fff 99.69%)"></i><i style="background:linear-gradient(90deg,#fefbfb 0.3125%,#fdf8f8 6.562%,#f7f8fe 8.438%,#fdfdfe 11.56%,#fefafb 22.19%,#fbf2f4 24.69%,#e4eafd 25.94%,#f4f6fe 27.81%,#fbfcff 32.19%,#fff 92.19%,#fff 99.69%)"></i><i style="background:linear-gradient(90deg,#fefcfc 0.3125%,#fdf8f9 5.938%,#f8f9fe 7.812%,#fefdfe 10.94%,#fefafa 22.19%,#fbf2f4 24.06%,#f2f1fa 24.69%,#e6ebfd 25.31%,#f4f6fe 27.19%,#fbfcff 31.56%,#fff 97.19%,#fff 99.69%)"></i><i style="background:linear-gradient(90deg,#fefcfc 0.3125%,#fdf9fa 5.312%,#f8f9fe 6.562%,#fffdfe 10.94%,#fefafa 21.56%,#fcf3f4 23.44%,#e8ecfd 24.69%,#eaeefd 25.31%,#f4f6fe 26.56%,#fbfcff 30.94%,#fff 99.69%)"></i><i style="background:linear-gradient(90deg,#fefcfc 0.3125%,#fdfafb 4.688%,#f9f8fd 5.312%,#fdfeff 9.062%,#fefafb 20.94%,#fcf4f5 22.81%,#f5f2f9 23.44%,#e9edfd 24.06%,#eaeefd 24.69%,#f4f7fe 25.94%,#fcfcff 30.31%,#fff 99.69%)"></i><i style="background:linear-gradient(90deg,#fefcfc 0.3125%,#fdfafc 4.062%,#f9faff 5.312%,#fefefe 9.062%,#fefbfb 20.31%,#fdf5f5 22.19%,#f7f3f8 22.81%,#eaedfc 23.44%,#eaeffe 24.06%,#f5f7fe 25.31%,#fcfcff 29.69%,#fff 99.69%)"></i><i style="background:linear-gradient(90deg,#fefcfc 0.3125%,#fdfafa 2.812%,#fafbff 4.688%,#fffefe 9.062%,#fefafa 20.31%,#fdf6f6 21.56%,#f9f5f8 22.19%,#ebeefc 22.81%,#ebeffe 23.44%,#f5f7fe 24.69%,#fcfcff 29.06%,#fff 99.69%)"></i><i style="background:linear-gradient(90deg,#fefcfc 0.3125%,#fdfafb 2.188%,#fbfcff 4.062%,#fffefe 9.688%,#fefafa 19.69%,#fdf6f6 20.94%,#fbf6f8 21.56%,#edf0fc 22.19%,#ebeffe 22.81%,#f5f7fe 24.06%,#fcfdff 28.44%,#fff 99.69%)"></i><i style="background:linear-gradient(90deg,#fefbfc 0.3125%,#fbfcff 2.812%,#fffefe 8.438%,#fefbfb 19.06%,#fbf6f8 20.94%,#eff1fc 21.56%,#ebeffe 22.19%,#f7f9fe 24.06%,#fdfeff 32.19%,#fff 99.69%)"></i><i style="background:linear-gradient(90deg,#fefbfb 0.3125%,#fbfcff 2.188%,#fffefe 7.187%,#fefbfb 18.44%,#fcf6f7 20.31%,#f1f2fc 20.94%,#ecf0fe 21.56%,#f7f9fe 23.44%,#fdfeff 31.56%,#fff 99.69%)"></i><i style="background:linear-gradient(90deg,#fdfcfd 0.3125%,#fdfdff 2.188%,#fefbfb 17.81%,#fcf6f7 19.69%,#edf0fe 20.94%,#f8f9fe 22.81%,#fdfeff 30.94%,#fff 99.69%)"></i><i style="background:linear-gradient(90deg,#fcfcfe 0.3125%,#fffefe 6.562%,#fefafa 17.81%,#fcf6f7 19.06%,#eef1fe 20.31%,#f9faff 22.81%,#fefeff 36.56%,#fff 99.69%)"></i><i style="background:linear-gradient(90deg,#fdfdff 0.3125%,#fffdfd 15.31%,#fdf7f8 18.44%,#eff2fe 19.69%,#fafbff 22.81%,#fff 45.94%,#fff 99.69%)"></i><i style="background:linear-gradient(90deg,#fefeff 0.3125%,#fefbfb 16.56%,#fdf7f8 17.81%,#f0f2fd 19.06%,#fafbff 22.19%,#fff 45.94%,#fff 99.69%)"></i><i style="background:linear-gradient(90deg,#fff 0.3125%,#fefbfb 15.94%,#fdf8f8 17.19%,#f9f7fa 17.81%,#f0f3fd 18.44%,#fafbff 21.56%,#fff 45.94%,#fff 99.69%)"></i><i style="background:linear-gradient(90deg,#fff 0.3125%,#fefbfc 15.31%,#fbf8fa 17.19%,#f1f3fd 17.81%,#f1f4fe 18.44%,#fafbff 20.31%,#fefeff 34.06%,#fff 99.69%)"></i><i style="background:linear-gradient(90deg,#fff 0.3125%,#fefbfb 15.31%,#fcf8fa 16.56%,#f3f4fd 17.19%,#f1f4fe 17.81%,#fafbff 19.69%,#fefeff 33.44%,#fff 99.69%)"></i><i style="background:linear-gradient(90deg,#fff 0.3125%,#fefbfb 14.69%,#fcf8fa 15.94%,#f4f5fd 16.56%,#f1f4fe 17.19%,#fafbff 19.06%,#fefeff 32.81%,#fff 99.69%)"></i><i style="background:linear-gradient(90deg,#fff 0.3125%,#fefbfb 14.06%,#fdf8f9 15.31%,#f2f4fe 16.56%,#fbfcff 19.06%,#fff 44.69%,#fff 99.69%)"></i><i style="background:linear-gradient(90deg,#fffefe 0.3125%,#fefbfc 13.44%,#fdf9f9 14.69%,#f2f5fe 15.94%,#fbfcff 18.44%,#fff 44.69%,#fff 99.69%)"></i><i style="background:linear-gradient(90deg,#fffefe 0.3125%,#fefcfc 12.81%,#fdf9fa 14.06%,#f3f5fe 15.31%,#fcfcff 18.44%,#fff 69.69%,#fff 99.69%)"></i><i style="background:linear-gradient(90deg,#fffefe 0.3125%,#fefbfb 12.81%,#f9f8fc 14.06%,#f4f6fe 14.69%,#fcfdff 18.44%,#fff 99.69%)"></i><i style="background:linear-gradient(90deg,#fffefe 0.3125%,#fefbfb 12.19%,#fbf9fc 13.44%,#f4f6fe 14.06%,#fcfdff 17.81%,#fff 99.69%)"></i><i style="background:linear-gradient(90deg,#fffefe 0.3125%,#fefbfc 11.56%,#fcfafc 12.81%,#f5f6fe 13.44%,#fdfdff 17.81%,#fff 99.69%)"></i><i style="background:linear-gradient(90deg,#fffefe 0.3125%,#fefcfc 10.94%,#fdfafb 12.19%,#f6f7fe 12.81%,#f5f7fe 13.44%,#fcfcff 15.94%,#fff 73.44%,#fff 99.69%)"></i><i style="background:linear-gradient(90deg,#fffefe 0.3125%,#fefbfb 10.94%,#fdfafb 11.56%,#f5f7fe 12.81%,#fcfcff 15.31%,#fff 73.44%,#fff 99.69%)"></i><i style="background:linear-gradient(90deg,#fffefe 0.3125%,#fefbfb 10.31%,#fdfafb 10.94%,#f5f7fe 12.19%,#fcfdff 15.31%,#fff 99.69%)"></i><i style="background:linear-gradient(90deg,#fffefe 0.3125%,#fefbfb 9.688%,#f9f9fd 10.94%,#f5f7fe 11.56%,#fdfdff 15.31%,#fff 99.69%)"></i><i style="background:linear-gradient(90deg,#fffefe 0.3125%,#fefcfc 9.062%,#fafafd 10.31%,#f6f8fe 10.94%,#fdfdff 15.31%,#fff 99.69%)"></i></div>
<div style="position:absolute;left:751px;top:133px;width:69px;height:69px;background:#fff"></div>
<div class="h" style="left:754px;top:135px;width:64px;height:64px"><i style="background:linear-gradient(90deg,#fdf3f4 0.7812%,#fdf5f5 32.03%,#fcf0f1 38.28%,#fcf2f3 39.84%,#fcfafc 41.41%,#eaeefd 42.97%,#dee4fd 44.53%,#dce3fc 50.78%,#cfd9fc 55.47%,#c3cffb 58.59%,#c8d3fb 60.16%,#dfe5fd 61.72%,#faf9fb 63.28%,#f7d6d7 66.41%,#f5cccf 67.97%,#f6d2d4 71.09%,#f9e0e1 77.34%,#fae8e9 91.41%,#fbe9ea 99.22%)"></i><i style="background:linear-gradient(90deg,#fdf4f4 0.7812%,#fdf5f5 30.47%,#fcf1f2 38.28%,#fef9f9 39.84%,#f0f3fe 41.41%,#dee5fd 42.97%,#dae2fc 44.53%,#dae2fc 49.22%,#ced8fb 53.91%,#c1cefb 57.03%,#c6d1fb 58.59%,#dce3fc 60.16%,#f9f8fc 61.72%,#fbebeb 63.28%,#f7d7d9 64.84%,#f5cccf 66.41%,#f5ccce 67.97%,#f8dfe0 75.78%,#fae8e9 89.84%,#fae9ea 99.22%)"></i><i style="background:linear-gradient(90deg,#fdf4f4 0.7812%,#fdf4f4 30.47%,#fcf0f1 36.72%,#fdf5f6 38.28%,#f6f7fe 39.84%,#e0e6fd 41.41%,#d8e0fc 42.97%,#d6dffc 49.22%,#c0cdfa 55.47%,#c3cffb 57.03%,#d8e0fc 58.59%,#f6f6fd 60.16%,#fbedee 61.72%,#f7d9db 63.28%,#f5cccf 64.84%,#f4cbcd 66.41%,#f8dee0 74.22%,#fae7e8 86.72%,#fae8e9 99.22%)"></i><i style="background:linear-gradient(90deg,#fdf4f4 0.7812%,#fdf4f4 28.91%,#fceff0 35.16%,#fcf3f3 36.72%,#fbfafd 38.28%,#e4e9fd 39.84%,#d7dffc 41.41%,#d5ddfc 47.66%,#c4d0fb 52.34%,#becbfa 53.91%,#c1cefb 55.47%,#d5defc 57.03%,#f4f5fd 58.59%,#fceff0 60.16%,#f8dbdc 61.72%,#f5cdcf 63.28%,#f4c9cc 64.84%,#f8dddf 72.66%,#fae6e7 85.16%,#fae7e9 99.22%)"></i><i style="background:linear-gradient(90deg,#fdf4f4 0.7812%,#fdf4f4 27.34%,#fceff0 33.59%,#fcf1f1 35.16%,#fdf9fa 36.72%,#e9eefd 38.28%,#d7dffc 39.84%,#d3dcfc 41.41%,#d3dcfc 46.09%,#c3cffb 50.78%,#bccafa 52.34%,#bfccfa 53.91%,#d2dbfc 55.47%,#f1f3fd 57.03%,#fcf1f2 58.59%,#f8ddde 60.16%,#f5cdcf 61.72%,#f4c8cb 63.28%,#f8dcde 71.09%,#fae6e7 83.59%,#fae7e8 99.22%)"></i><i style="background:linear-gradient(90deg,#fdf4f4 0.7812%,#fdf4f4 25.78%,#fceff0 33.59%,#fdf7f7 35.16%,#f1f4fe 36.72%,#d9e0fc 38.28%,#d1dafc 39.84%,#d0dafc 44.53%,#c1cefb 49.22%,#bbc8fa 50.78%,#bccafa 52.34%,#cfd9fc 53.91%,#eff2fe 55.47%,#fdf4f4 57.03%,#f8dfe0 58.59%,#f5ced0 60.16%,#f4c7ca 61.72%,#f8dddf 71.09%,#fae6e7 85.16%,#fae6e7 99.22%)"></i><i style="background:linear-gradient(90deg,#fdf4f4 0.7812%,#fdf3f4 25.78%,#fceeef 32.03%,#fdf3f4 33.59%,#f7f8fd 35.16%,#dce3fc 36.72%,#cfd9fc 38.28%,#cbd5fb 44.53%,#b8c7fa 49.22%,#bac8fa 50.78%,#cdd7fb 52.34%,#ecf0fe 53.91%,#fdf5f6 55.47%,#f5cfd1 58.59%,#f3c7c9 60.16%,#f5cdd0 63.28%,#f8dcde 69.53%,#fae5e6 82.03%,#fae5e7 99.22%)"></i><i style="background:linear-gradient(90deg,#fdf4f4 0.7812%,#fdf3f4 24.22%,#fbeeee 30.47%,#fcf0f1 32.03%,#fcfafc 33.59%,#e2e8fd 35.16%,#cfd9fc 36.72%,#cbd5fb 38.28%,#c8d3fb 42.97%,#b6c5fa 47.66%,#b8c6fa 49.22%,#cad5fb 50.78%,#e8edfd 52.34%,#fcf6f7 53.91%,#f6d1d3 57.03%,#f3c6c9 58.59%,#f3c7c9 60.16%,#f7d9da 66.41%,#f9e3e5 77.34%,#fae4e6 99.22%)"></i><i style="background:linear-gradient(90deg,#fdf4f4 0.7812%,#fdf3f4 22.66%,#fbedee 28.91%,#fceeef 30.47%,#fdf8f9 32.03%,#eaeefd 33.59%,#d0dafc 35.16%,#c8d3fb 36.72%,#c5d1fb 41.41%,#b4c3fa 46.09%,#b5c4fa 47.66%,#c7d2fb 49.22%,#e6ebfd 50.78%,#fcf7f9 52.34%,#f6d2d4 55.47%,#f3c6c9 57.03%,#f3c5c8 58.59%,#f7d7d9 64.84%,#f9e2e3 74.22%,#fae4e6 96.09%,#f9e4e5 99.22%)"></i><i style="background:linear-gradient(90deg,#fdf4f4 0.7812%,#fcf2f3 22.66%,#fbedee 28.91%,#fdf4f5 30.47%,#f2f4fe 32.03%,#d4ddfc 33.59%,#c6d1fb 35.16%,#c2cefb 39.84%,#b1c1f9 44.53%,#b3c2f9 46.09%,#c5d0fb 47.66%,#e3e8fd 49.22%,#fbf8fa 50.78%,#f6d4d6 53.91%,#f3c6c9 55.47%,#f3c4c6 57.03%,#f7d9db 64.84%,#f9e3e4 75.78%,#f9e2e4 99.22%)"></i><i style="background:linear-gradient(90deg,#fdf4f4 0.7812%,#fcf2f3 21.09%,#fbeced 27.34%,#fcf1f1 28.91%,#f9f9fd 30.47%,#dae2fc 32.03%,#c5d1fb 33.59%,#bfccfa 35.16%,#becbfa 38.28%,#aebff9 42.97%,#b0c0f9 44.53%,#c2cefb 46.09%,#e0e6fd 47.66%,#fbf9fb 49.22%,#f7d6d8 52.34%,#f4c7c9 53.91%,#f3c2c5 55.47%,#f7d8da 63.28%,#f9e2e3 74.22%,#f9e2e4 96.09%,#f9e1e3 99.22%)"></i><i style="background:linear-gradient(90deg,#fdf4f4 0.7812%,#fcf2f3 19.53%,#fbecec 25.78%,#fbeeef 27.34%,#fcf8fa 28.91%,#e3e9fd 30.47%,#c6d2fb 32.03%,#bcc9fa 33.59%,#b6c5fa 38.28%,#abbcf9 41.41%,#adbef9 42.97%,#c0ccfa 44.53%,#faf9fc 47.66%,#fbebec 49.22%,#f4c8ca 52.34%,#f2c1c4 53.91%,#f7d7d9 61.72%,#f9e1e3 72.66%,#f9e2e3 94.53%,#f9e0e1 99.22%)"></i><i style="background:linear-gradient(90deg,#fdf3f4 0.7812%,#fcf1f2 19.53%,#fbeced 25.78%,#fdf5f6 27.34%,#edf1fe 28.91%,#cad5fb 30.47%,#b9c7fa 32.03%,#b1c1f9 36.72%,#a7b9f9 39.84%,#aabbf9 41.41%,#bdcbfa 42.97%,#f8f8fd 46.09%,#fbedee 47.66%,#f4c9cb 50.78%,#f2c0c3 52.34%,#f4c8cb 55.47%,#f7d8da 61.72%,#f9e2e3 74.22%,#f9e0e2 96.09%,#f8dfe0 99.22%)"></i><i style="background:linear-gradient(90deg,#fdf3f4 0.7812%,#fcf1f2 17.97%,#fbebeb 24.22%,#fcf1f2 25.78%,#f6f6fd 27.34%,#d2dbfc 28.91%,#b8c6fa 30.47%,#b0c0f9 32.03%,#a7b9f9 36.72%,#a2b5f8 38.28%,#a7b9f9 39.84%,#bbc9fa 41.41%,#f7f7fd 44.53%,#fcefef 46.09%,#f4cacc 49.22%,#f2c0c3 50.78%,#f2c1c3 52.34%,#f6d4d6 58.59%,#f8dfe1 67.97%,#f9e2e3 88.28%,#f8dddf 99.22%)"></i><i style="background:linear-gradient(90deg,#fdf3f4 0.7812%,#fcf1f2 16.41%,#fbeaeb 22.66%,#fbedee 24.22%,#fbf9fb 25.78%,#dce3fc 27.34%,#bac8fa 28.91%,#aabcf9 30.47%,#9db1f8 36.72%,#a3b6f8 38.28%,#b9c7fa 39.84%,#f5f6fd 42.97%,#fcf0f1 44.53%,#f4cbce 47.66%,#f2c0c3 49.22%,#f2bfc2 50.78%,#f6d3d5 57.03%,#f8dee0 66.41%,#f9e1e2 86.72%,#f8dbdd 99.22%)"></i><i style="background:linear-gradient(90deg,#fdf3f4 0.7812%,#fcf0f0 16.41%,#fbe9ea 21.09%,#fbebec 22.66%,#fdf7f7 24.22%,#e8ecfd 25.78%,#c0ccfa 27.34%,#a7b9f9 28.91%,#a0b3f8 30.47%,#98adf8 35.16%,#a0b3f8 36.72%,#b6c5fa 38.28%,#f4f5fd 41.41%,#fcf2f3 42.97%,#f5cdcf 46.09%,#f2c0c3 47.66%,#f2bdc0 49.22%,#f6d5d7 57.03%,#f8dfe1 67.97%,#f9e0e1 88.28%,#f7d9db 99.22%)"></i><i style="background:linear-gradient(90deg,#fdf3f4 0.7812%,#fcf0f0 14.84%,#fbe9ea 21.09%,#fcf1f2 22.66%,#f2f4fd 24.22%,#c9d4fb 25.78%,#a6b8f9 27.34%,#97acf7 28.91%,#91a7f7 32.03%,#91a7f7 33.59%,#9cb0f8 35.16%,#b4c4fa 36.72%,#f2f4fe 39.84%,#fdf3f4 41.41%,#f5ced1 44.53%,#f2c0c3 46.09%,#f1bcbf 47.66%,#f6d3d5 55.47%,#f8dee0 66.41%,#f8dfe0 86.72%,#f7d7d9 99.22%)"></i><i style="background:linear-gradient(90deg,#fdf3f3 0.7812%,#fceeef 14.84%,#fae8e9 19.53%,#fbedee 21.09%,#faf8fc 22.66%,#d5defc 24.22%,#abbcf9 25.78%,#90a7f7 27.34%,#87a0f6 28.91%,#859ef6 30.47%,#88a0f6 32.03%,#97acf7 33.59%,#b3c2f9 35.16%,#f1f4fe 38.28%,#fdf5f5 39.84%,#f5d0d2 42.97%,#f2c1c4 44.53%,#f1bbbe 46.09%,#f6d2d4 53.91%,#f8ddde 63.28%,#f8dfe0 83.59%,#f6d5d7 99.22%)"></i><i style="background:linear-gradient(90deg,#fcf3f3 0.7812%,#fceeef 13.28%,#fae7e8 17.97%,#fbeaeb 19.53%,#fdf7f8 21.09%,#e3e9fd 22.66%,#b5c4fa 24.22%,#8da4f7 25.78%,#7994f5 27.34%,#7692f5 28.91%,#7e98f6 30.47%,#93a9f7 32.03%,#f0f3fe 36.72%,#fdf6f6 38.28%,#f2c2c4 42.97%,#f1babd 44.53%,#f3c2c5 47.66%,#f6d4d6 53.91%,#f8dedf 64.84%,#f8dddf 85.16%,#f6d2d4 99.22%)"></i><i style="background:linear-gradient(90deg,#fcf3f3 0.7812%,#fceeef 11.72%,#fae7e8 16.41%,#fae7e9 17.97%,#fcf2f2 19.53%,#eff2fd 21.09%,#91a8f7 24.22%,#6a88f4 25.78%,#6181f4 27.34%,#728ff5 28.91%,#b0c0f9 32.03%,#eef2fe 35.16%,#fdf7f7 36.72%,#f3c3c5 41.41%,#f1b9bc 42.97%,#f1babd 44.53%,#f5cfd1 50.78%,#f8dbdd 60.16%,#f8dedf 78.91%,#f6d5d7 94.53%,#f5ced1 99.22%)"></i><i style="background:linear-gradient(90deg,#fcf2f3 0.7812%,#fbeded 11.72%,#fae6e7 16.41%,#fbedee 17.97%,#f9f8fc 19.53%,#d1dbfc 21.09%,#9eb2f8 22.66%,#6181f4 24.22%,#4067f1 25.78%,#6383f4 27.34%,#8ca3f7 28.91%,#cfd9fc 32.03%,#edf1fe 33.59%,#fdf7f8 35.16%,#f3c4c7 39.84%,#f1b9bc 41.41%,#f1b8bb 42.97%,#f5ced0 49.22%,#f7dadc 58.59%,#f8dddf 77.34%,#f6d4d6 92.97%,#f4cacd 99.22%)"></i><i style="background:linear-gradient(90deg,#fcf2f2 0.7812%,#fbedee 10.16%,#fae5e6 14.84%,#fae9ea 16.41%,#fcf7f8 17.97%,#e0e7fd 19.53%,#afbff9 21.09%,#6e8cf5 22.66%,#335df0 24.22%,#5376f3 25.78%,#8aa2f7 27.34%,#afbff9 28.91%,#edf0fe 32.03%,#fdf8f9 33.59%,#f3c5c8 38.28%,#f1b9bc 39.84%,#f0b7ba 41.41%,#f5cccf 47.66%,#f7d8da 55.47%,#f8dddf 72.66%,#f6d5d7 89.84%,#f3c6c8 99.22%)"></i><i style="background:linear-gradient(90deg,#fcf1f2 0.7812%,#fbebeb 10.16%,#fae5e6 13.28%,#fae6e7 14.84%,#fcf2f3 16.41%,#eff2fe 17.97%,#c1cdfa 19.53%,#88a0f6 21.09%,#3e65f1 22.66%,#5275f2 24.22%,#8aa2f7 25.78%,#b0c0f9 27.34%,#ecf0fe 30.47%,#fdf8f9 32.03%,#f3c7c9 36.72%,#f1b9bc 38.28%,#f0b5b8 39.84%,#f5ced1 47.66%,#f7dadb 57.03%,#f8dbdd 75.78%,#f5d0d3 91.41%,#f2c0c3 99.22%)"></i><i style="background:linear-gradient(90deg,#fcf1f2 0.7812%,#fbebec 8.594%,#f9e4e5 13.28%,#fbeced 14.84%,#f8f8fc 16.41%,#d2dbfc 17.97%,#a0b3f8 19.53%,#6786f4 21.09%,#5f80f3 22.66%,#8da4f7 24.22%,#b1c1f9 25.78%,#ecf0fe 28.91%,#fcf8fa 30.47%,#f1babd 36.72%,#f0b4b7 38.28%,#f5cdcf 46.09%,#f7d9da 55.47%,#f8dbdc 74.22%,#f5d0d2 89.84%,#f2bfc2 97.66%,#f1b9bc 99.22%)"></i><i style="background:linear-gradient(90deg,#fcf0f1 0.7812%,#fae8e9 8.594%,#f9e3e4 11.72%,#fae8e9 13.28%,#fcf7f8 14.84%,#e2e8fd 16.41%,#879ff6 19.53%,#7692f5 21.09%,#93a9f7 22.66%,#d1dafc 25.78%,#ecf0fe 27.34%,#fcf9fa 28.91%,#f1babe 35.16%,#efb3b6 36.72%,#f0b5b8 38.28%,#f4cbce 44.53%,#f7d8d9 53.91%,#f8dadc 71.09%,#f6d1d3 86.72%,#f3c2c5 94.53%,#efb1b5 99.22%)"></i><i style="background:linear-gradient(90deg,#fceff0 0.7812%,#fae5e6 8.594%,#f9e2e3 10.16%,#f9e4e5 11.72%,#fcf2f2 13.28%,#f0f3fe 14.84%,#9fb3f8 17.97%,#8ba3f7 19.53%,#9bb0f8 21.09%,#ecf0fe 25.78%,#fcf9fa 27.34%,#f8dcdd 30.47%,#f1bbbe 33.59%,#efb2b6 35.16%,#efb3b6 36.72%,#f4cacc 42.97%,#f7d7d9 52.34%,#f7dadb 69.53%,#f5d0d2 85.16%,#f2c1c4 92.97%,#efafb3 97.66%,#eda8ac 99.22%)"></i><i style="background:linear-gradient(90deg,#fceeef 0.7812%,#f9e1e3 10.16%,#fbebec 11.72%,#faf8fc 13.28%,#d8e0fc 14.84%,#b4c3fa 16.41%,#9eb2f8 17.97%,#a5b7f8 19.53%,#edf0fe 24.22%,#fdf9fb 25.78%,#f8ddde 28.91%,#f1bdc0 32.03%,#efb2b5 33.59%,#efb1b5 35.16%,#f4c8cb 41.41%,#f6d5d6 49.22%,#f7d9db 64.84%,#f6d2d4 80.47%,#f3c4c7 89.84%,#f0b5b8 94.53%,#eca0a5 99.22%)"></i><i style="background:linear-gradient(90deg,#fbedee 0.7812%,#f9e0e1 8.594%,#fae6e7 10.16%,#fdf7f8 11.72%,#e7ecfd 13.28%,#c5d1fb 14.84%,#afbff9 16.41%,#afbff9 17.97%,#c0cdfa 19.53%,#edf1fe 22.66%,#fdf9fb 24.22%,#f8dedf 27.34%,#f2bec1 30.47%,#efb2b5 32.03%,#efafb3 33.59%,#f3c7c9 39.84%,#f6d3d5 47.66%,#f7d9da 63.28%,#f6d1d3 78.91%,#f3c3c6 88.28%,#f0b4b7 92.97%,#eb9fa3 97.66%,#eca2a6 99.22%)"></i><i style="background:linear-gradient(90deg,#fbecec 0.7812%,#f8dfe0 7.031%,#f9e2e3 8.594%,#fcf0f1 10.16%,#f4f6fe 11.72%,#d5ddfc 13.28%,#becbfa 14.84%,#b9c8fa 16.41%,#c6d1fb 17.97%,#eff2fe 21.09%,#fdfafb 22.66%,#f8dfe0 25.78%,#efb2b5 30.47%,#eeaeb1 32.03%,#f4c9cb 39.84%,#f6d5d7 49.22%,#f7d7d9 66.41%,#f5cdcf 80.47%,#f2bec1 88.28%,#eb9ea2 96.09%,#eca2a6 97.66%,#eeadb1 99.22%)"></i><i style="background:linear-gradient(90deg,#fbe9ea 0.7812%,#f8dee0 5.469%,#f8dfe0 7.031%,#fbeaeb 8.594%,#fcf9fb 10.16%,#ccd6fb 13.28%,#c4d0fb 14.84%,#ccd6fb 16.41%,#f0f3fe 19.53%,#fdfafb 21.09%,#f5d0d2 25.78%,#efb2b6 28.91%,#eeacb0 30.47%,#f0b7ba 33.59%,#f4c7ca 38.28%,#f6d4d6 47.66%,#f7d6d8 64.84%,#f5ccce 78.91%,#f1bcbf 86.72%,#eca1a5 92.97%,#eb9da1 94.53%,#eca2a6 96.09%,#f1bbbe 99.22%)"></i><i style="background:linear-gradient(90deg,#fae7e8 0.7812%,#f8ddde 5.469%,#fae4e6 7.031%,#fdf5f6 8.594%,#f1f4fe 10.16%,#d9e1fc 11.72%,#ced8fb 13.28%,#d2dcfc 14.84%,#e0e6fd 16.41%,#f2f5fe 17.97%,#fdfafa 19.53%,#f6d1d3 24.22%,#efb3b6 27.34%,#eeabaf 28.91%,#eeaeb1 30.47%,#f3c6c8 36.72%,#f6d2d4 44.53%,#f7d6d8 60.16%,#f5cdcf 75.78%,#f2c0c2 83.59%,#efafb3 88.28%,#eba0a4 91.41%,#eb9ca1 92.97%,#eca1a6 94.53%,#f4c8ca 99.22%)"></i><i style="background:linear-gradient(90deg,#f9e3e5 0.7812%,#f8dcdd 3.906%,#f9e0e1 5.469%,#fceeef 7.031%,#fafafd 8.594%,#e5eafd 10.16%,#d8e0fc 11.72%,#d9e1fc 13.28%,#e4eafd 14.84%,#f4f7fe 16.41%,#fdf9fa 17.97%,#f6d2d4 22.66%,#f0b4b7 25.78%,#eeabae 27.34%,#eeabaf 28.91%,#f3c4c7 35.16%,#f5d1d3 42.97%,#f6d5d7 58.59%,#f5cccf 74.22%,#f2bec1 82.03%,#eeaeb1 86.72%,#eb9ea3 89.84%,#eb9ba0 91.41%,#eca1a6 92.97%,#f6d3d5 99.22%)"></i><i style="background:linear-gradient(90deg,#f8dfe1 0.7812%,#f8dbdd 2.344%,#f8dcde 3.906%,#fae8e9 5.469%,#fef9f9 7.031%,#f1f4fe 8.594%,#e3e8fd 10.16%,#e1e7fd 11.72%,#e9edfd 13.28%,#f7f8fe 14.84%,#fef9fa 16.41%,#f6d3d5 21.09%,#f0b5b8 24.22%,#eeaaae 25.78%,#eda9ad 27.34%,#f3c2c5 33.59%,#f5cfd2 41.41%,#f6d5d6 55.47%,#f5cdcf 71.09%,#f2bdc0 80.47%,#eeacb0 85.16%,#eb9da1 88.28%,#ea9a9f 89.84%,#eca1a6 91.41%,#f6d3d5 97.66%,#f8dddf 99.22%)"></i><i style="background:linear-gradient(90deg,#f8dbdc 0.7812%,#f7dadb 2.344%,#f9e2e3 3.906%,#fcf2f2 5.469%,#fbfbfe 7.031%,#ecf0fe 8.594%,#e8edfd 10.16%,#eef1fe 11.72%,#f9fafe 13.28%,#fef9f9 14.84%,#f6d4d6 19.53%,#f0b6b9 22.66%,#eeaaae 24.22%,#eda8ab 25.78%,#f2c0c3 32.03%,#f5ced0 39.84%,#f6d4d6 53.91%,#f5ccce 69.53%,#f1bcbf 78.91%,#eeaaae 83.59%,#eb9ba0 86.72%,#ea9a9e 88.28%,#eca1a6 89.84%,#f6d2d5 96.09%,#fae7e8 99.22%)"></i><i style="background:linear-gradient(90deg,#f7d8da 0.7812%,#f8dddf 2.344%,#fefafa 5.469%,#f6f8fe 7.031%,#eff3fe 8.594%,#f3f5fe 10.16%,#fbfcfe 11.72%,#fdf7f8 13.28%,#f6d5d6 17.97%,#eeaaae 22.66%,#eda6aa 24.22%,#f3c3c5 32.03%,#f5ced1 39.84%,#f6d2d4 55.47%,#f4c9cc 69.53%,#f1bbbe 77.34%,#eda9ad 82.03%,#ea9a9e 85.16%,#ea999e 86.72%,#eca1a6 88.28%,#f6d2d4 94.53%,#fceff0 99.22%)"></i><i style="background:linear-gradient(90deg,#f7d9db 0.7812%,#fdf3f4 3.906%,#fdfdfe 5.469%,#f7f9fe 7.031%,#f8faff 8.594%,#fdfcfd 10.16%,#fbeded 13.28%,#f4c7ca 17.97%,#eeabaf 21.09%,#eca5a9 22.66%,#efafb3 25.78%,#f2c1c4 30.47%,#f5cdd0 38.28%,#f6d2d4 52.34%,#f4cacd 66.41%,#f2bdc0 74.22%,#efaeb2 78.91%,#ea989d 83.59%,#ea989d 85.16%,#eca1a6 86.72%,#f6d2d4 92.97%,#fdf8f8 99.22%)"></i><i style="background:linear-gradient(90deg,#f8dfe0 0.7812%,#fef9f9 3.906%,#fefeff 5.469%,#fefcfc 8.594%,#f9e1e3 13.28%,#eeabaf 19.53%,#eca3a8 21.09%,#eda6aa 22.66%,#f2bfc2 28.91%,#f5ccce 36.72%,#f6d1d3 50.78%,#f4c9cc 64.84%,#f1bcbf 72.66%,#eeadb1 77.34%,#ea979c 82.03%,#ea989c 83.59%,#efaeb2 86.72%,#f8dbdd 92.97%,#fdf7f7 97.66%,#fcfcfe 99.22%)"></i><i style="background:linear-gradient(90deg,#fae7e8 0.7812%,#fdf3f3 2.344%,#fefafa 3.906%,#fefcfc 5.469%,#fdf3f4 8.594%,#f7d6d8 13.28%,#eeacb0 17.97%,#eca3a7 19.53%,#eca3a7 21.09%,#f2bdc0 27.34%,#f4cbcd 35.16%,#f5d0d2 49.22%,#f4c8cb 63.28%,#f1bbbe 71.09%,#eeabaf 75.78%,#e9969a 80.47%,#ea979c 82.03%,#f6d1d3 89.84%,#fdf6f6 96.09%,#fdfcfe 97.66%,#f1f4fe 99.22%)"></i><i style="background:linear-gradient(90deg,#fbedee 0.7812%,#fdf5f6 2.344%,#fef8f9 3.906%,#fcf2f2 7.031%,#f7d6d8 11.72%,#eeadb1 16.41%,#eca2a7 17.97%,#eca1a5 19.53%,#f1bbbe 25.78%,#f4cacc 33.59%,#f5cfd1 47.66%,#f4c7ca 61.72%,#f1babd 69.53%,#eeaaae 74.22%,#e99499 78.91%,#ea979c 80.47%,#f6d1d3 88.28%,#fefcfd 96.09%,#f3f5fe 97.66%,#e4e9fd 99.22%)"></i><i style="background:linear-gradient(90deg,#fcf0f1 0.7812%,#fdf5f5 2.344%,#fcf0f0 5.469%,#f7d6d8 10.16%,#eca2a6 16.41%,#eb9fa4 17.97%,#f1b9bc 24.22%,#f4c8cb 32.03%,#f5ced0 46.09%,#f3c6c9 60.16%,#f1b9bc 67.97%,#eda8ac 72.66%,#e99398 77.34%,#ea969b 78.91%,#f5d0d2 86.72%,#fefcfc 94.53%,#f5f7fe 96.09%,#d6dffc 99.22%)"></i><i style="background:linear-gradient(90deg,#fcf1f1 0.7812%,#fbeeef 3.906%,#f7d6d8 8.594%,#eca2a7 14.84%,#eb9ea2 16.41%,#f1bcbf 24.22%,#f4c9cb 32.03%,#f5cdcf 46.09%,#f3c3c6 60.16%,#efb3b6 67.97%,#e99297 75.78%,#ea969b 77.34%,#f5d0d2 85.16%,#fefbfb 92.97%,#f7f9fe 94.53%,#c9d4fb 99.22%)"></i><i style="background:linear-gradient(90deg,#fceeef 0.7812%,#fae6e7 3.906%,#f4cbcd 8.594%,#eca3a7 13.28%,#eb9ca1 14.84%,#eba0a4 16.41%,#f0b5b8 21.09%,#f3c4c6 27.34%,#f4ccce 38.28%,#f4c7ca 53.91%,#f1babd 63.28%,#eda5a9 69.53%,#e9959a 72.66%,#e89196 74.22%,#e9969b 75.78%,#f3c5c8 82.03%,#fefafa 91.41%,#f9fafe 92.97%,#ccd6fb 97.66%,#bbc9fa 99.22%)"></i><i style="background:linear-gradient(90deg,#fbe9ea 0.7812%,#f8dedf 3.906%,#f2bfc2 8.594%,#eca3a8 11.72%,#eb9ba0 13.28%,#eb9da1 14.84%,#f0b8bb 21.09%,#f3c6c9 28.91%,#f4cbcd 42.97%,#f3c3c6 55.47%,#f0b5b8 63.28%,#eca4a8 67.97%,#e99398 71.09%,#e89095 72.66%,#e9969a 74.22%,#f3c5c8 80.47%,#fef9f9 89.84%,#fbfbfe 91.41%,#cfd9fc 96.09%,#acbdf9 99.22%)"></i><i style="background:linear-gradient(90deg,#f9e3e4 0.7812%,#f4cbcd 5.469%,#eca4a8 10.16%,#ea9b9f 11.72%,#ea9b9f 13.28%,#f0b6b9 19.53%,#f3c5c7 27.34%,#f4cacc 39.84%,#f2c2c5 53.91%,#f0b3b7 61.72%,#eca2a6 66.41%,#e99297 69.53%,#e88f94 71.09%,#e9959a 72.66%,#f3c5c7 78.91%,#fef8f8 88.28%,#fcfcfe 89.84%,#d2dbfc 94.53%,#9cb0f8 99.22%)"></i><i style="background:linear-gradient(90deg,#f8dcdd 0.7812%,#f2c0c2 5.469%,#ea9a9f 10.16%,#ea989d 11.72%,#f0b4b7 17.97%,#f2c1c4 24.22%,#f4c9cb 36.72%,#f3c3c5 50.78%,#f0b6b9 58.59%,#eda7ab 63.28%,#e89095 67.97%,#e88e93 69.53%,#e9959a 71.09%,#f3c4c7 77.34%,#fdf7f7 86.72%,#fdfdfe 88.28%,#e4eafd 91.41%,#b4c4fa 96.09%,#8ba3f7 99.22%)"></i><i style="background:linear-gradient(90deg,#f6d3d5 0.7812%,#f0b3b7 5.469%,#ea9a9f 8.594%,#ea979b 10.16%,#f0b6ba 17.97%,#f3c3c6 25.78%,#f4c8ca 38.28%,#f2c0c3 50.78%,#efb1b4 58.59%,#eb9fa3 63.28%,#e88f94 66.41%,#e88d92 67.97%,#e9959a 69.53%,#f3c4c6 75.78%,#fdf6f6 85.16%,#fefcfd 86.72%,#f5f7fe 88.28%,#c9d4fb 92.97%,#a6b8f9 96.09%,#7b96f5 99.22%)"></i><i style="background:linear-gradient(90deg,#f4cacd 0.7812%,#ea9a9f 7.031%,#e9959a 8.594%,#eca1a6 11.72%,#f0b4b8 16.41%,#f3c2c5 24.22%,#f3c6c9 36.72%,#f2bfc1 49.22%,#efafb3 57.03%,#eb9da1 61.72%,#e88d92 64.84%,#e88c92 66.41%,#e99599 67.97%,#f3c3c6 74.22%,#fefcfc 85.16%,#f7f9fe 86.72%,#bdcafa 92.97%,#97acf7 96.09%,#6c8af4 99.22%)"></i><i style="background:linear-gradient(90deg,#f2c0c3 0.7812%,#ea9b9f 5.469%,#e99498 7.031%,#ea969b 8.594%,#efb2b6 14.84%,#f2c1c3 22.66%,#f3c5c8 35.16%,#f2bdc0 47.66%,#eeaeb2 55.47%,#eb9ba0 60.16%,#e78c91 63.28%,#e78c91 64.84%,#eca1a5 67.97%,#f3c3c5 72.66%,#fefbfb 83.59%,#f9fbff 85.16%,#c1cefb 91.41%,#9cb0f8 94.53%,#718ef5 97.66%,#6483f4 99.22%)"></i><i style="background:linear-gradient(90deg,#f0b5b8 0.7812%,#eb9ba0 3.906%,#e99398 5.469%,#e99499 7.031%,#efb0b4 13.28%,#f2bfc2 21.09%,#f3c4c7 33.59%,#f1bcbf 46.09%,#eeadb0 53.91%,#ea999e 58.59%,#e78a90 61.72%,#e78b90 63.28%,#eca1a5 66.41%,#f3c2c5 71.09%,#fef9fa 82.03%,#fbfcfe 83.59%,#c5d1fb 89.84%,#a2b5f8 92.97%,#7792f5 96.09%,#6584f4 97.66%,#6483f4 99.22%)"></i><i style="background:linear-gradient(90deg,#eda9ad 0.7812%,#e99297 3.906%,#e99196 5.469%,#eeaeb2 11.72%,#f1bcbf 17.97%,#f3c3c6 28.91%,#f2bec1 41.41%,#efb0b3 50.78%,#eb9fa4 55.47%,#e7898e 60.16%,#e78a8f 61.72%,#f2c2c4 69.53%,#fef8f8 80.47%,#fdfdfe 82.03%,#d7e0fc 86.72%,#a7b9f9 91.41%,#6987f4 96.09%,#6181f4 97.66%,#6a88f4 99.22%)"></i><i style="background:linear-gradient(90deg,#eb9da1 0.7812%,#e99297 2.344%,#e88f94 3.906%,#eeacaf 10.16%,#f1babd 16.41%,#f2c2c5 27.34%,#f2bdc0 39.84%,#eeaeb2 49.22%,#eb9ea2 53.91%,#e7888d 58.59%,#e78a8f 60.16%,#f2c1c4 67.97%,#fdf7f7 78.91%,#fefdfd 80.47%,#f5f7fe 82.03%,#becbfa 88.28%,#99aef8 91.41%,#6e8cf5 94.53%,#6181f4 96.09%,#6584f4 97.66%,#7390f5 99.22%)"></i><i style="background:linear-gradient(90deg,#e99297 0.7812%,#e88d92 2.344%,#eb9b9f 5.469%,#eeaeb2 10.16%,#f1bcbf 17.97%,#f2c0c3 30.47%,#f1b9bc 41.41%,#eda8ac 49.22%,#e99499 53.91%,#e6868c 57.03%,#e7898e 58.59%,#f2c0c3 66.41%,#fdf5f6 77.34%,#fefcfc 78.91%,#f7f9fe 80.47%,#c2cefb 86.72%,#a0b3f8 89.84%,#7591f5 92.97%,#6382f4 94.53%,#6080f3 96.09%,#7c97f6 99.22%)"></i><i style="background:linear-gradient(90deg,#e78c91 0.7812%,#e88f94 2.344%,#eda7ab 7.031%,#f0b7ba 13.28%,#f2bfc2 24.22%,#f1bbbe 36.72%,#eeabaf 46.09%,#ea9a9f 50.78%,#e78a8f 53.91%,#e6858a 55.47%,#e7888e 57.03%,#f0b6b9 63.28%,#f9dfe1 71.09%,#fefbfb 77.34%,#fafbff 78.91%,#c6d2fb 85.16%,#a5b8f9 88.28%,#6786f4 92.97%,#5e7ef3 94.53%,#6685f4 96.09%,#859ef6 99.22%)"></i><i style="background:linear-gradient(90deg,#e88d92 0.7812%,#eeaaae 7.031%,#f0b7bb 13.28%,#f2bec1 24.22%,#f0b8bb 36.72%,#eeaaae 44.53%,#ea999d 49.22%,#e7888e 52.34%,#e68489 53.91%,#e7888d 55.47%,#f0b6b9 61.72%,#f8dee0 69.53%,#fefafa 75.78%,#fcfcfe 77.34%,#cad5fb 83.59%,#98adf8 88.28%,#6d8bf4 91.41%,#5e7ff3 92.97%,#6080f3 94.53%,#8ca3f7 99.22%)"></i><i style="background:linear-gradient(90deg,#e99196 0.7812%,#eda7ab 5.469%,#f0b6b9 11.72%,#f1bdc0 22.66%,#f0b7ba 35.16%,#eda9ac 42.97%,#ea979c 47.66%,#e6878c 50.78%,#e68288 52.34%,#e6878d 53.91%,#f0b5b8 60.16%,#f8dddf 67.97%,#fefdfe 75.78%,#dce3fc 80.47%,#b1c0f9 85.16%,#8ba2f7 88.28%,#6181f4 91.41%,#5c7df3 92.97%,#6786f4 94.53%,#869ff6 97.66%,#92a8f7 99.22%)"></i><i style="background:linear-gradient(90deg,#ea979c 0.7812%,#eeaaae 5.469%,#f0b8bb 13.28%,#f1bbbe 25.78%,#efb1b5 36.72%,#eca2a7 42.97%,#e6858a 49.22%,#e58187 50.78%,#e6878c 52.34%,#f0b4b8 58.59%,#f8dcde 66.41%,#fefdfd 74.22%,#f7f9fe 75.78%,#c5d1fb 82.03%,#a5b7f8 85.16%,#6786f4 89.84%,#5b7cf3 91.41%,#6081f4 92.97%,#8da4f7 97.66%,#98adf8 99.22%)"></i><i style="background:linear-gradient(90deg,#eb9ca0 0.7812%,#eeacb0 5.469%,#f0b8bb 13.28%,#f1b9bc 25.78%,#eeadb1 36.72%,#eb9b9f 42.97%,#e68389 47.66%,#e58086 49.22%,#e6868c 50.78%,#f0b4b7 57.03%,#f8dbdd 64.84%,#fefcfc 72.66%,#fafbff 74.22%,#c9d4fb 80.47%,#99aef8 85.16%,#6f8cf5 88.28%,#5d7ef3 89.84%,#5b7cf3 91.41%,#879ff6 96.09%,#9cb0f8 99.22%)"></i><i style="background:linear-gradient(90deg,#eca0a4 0.7812%,#efb0b4 7.031%,#f1b9bc 16.41%,#f0b5b8 28.91%,#eda8ac 36.72%,#ea999e 41.41%,#e58287 46.09%,#e57f85 47.66%,#e6868b 49.22%,#efb3b6 55.47%,#f7dadc 63.28%,#fefafa 71.09%,#fcfcfe 72.66%,#ced8fb 78.91%,#a0b3f8 83.59%,#6282f4 88.28%,#587af3 89.84%,#6081f4 91.41%,#8da4f7 96.09%,#a0b4f8 99.22%)"></i><i style="background:linear-gradient(90deg,#eca3a7 0.7812%,#efb1b4 7.031%,#f0b8bb 17.97%,#efb2b5 28.91%,#eca3a7 36.72%,#e89095 41.41%,#e58086 44.53%,#e57e84 46.09%,#e6858b 47.66%,#efb2b6 53.91%,#f7d9db 61.72%,#fefdfe 71.09%,#dee5fd 75.78%,#b6c5fa 80.47%,#94aaf7 83.59%,#6a88f4 86.72%,#597bf3 88.28%,#5a7cf3 89.84%,#879ff6 94.53%,#a4b7f8 99.22%)"></i><i style="background:linear-gradient(90deg,#eda6aa 0.7812%,#efb3b6 8.594%,#f0b6b9 19.53%,#eeacb0 30.47%,#eb9ca1 36.72%,#e57e84 42.97%,#e47d83 44.53%,#e6858a 46.09%,#efb2b5 52.34%,#f7d8d9 60.16%,#fefdfd 69.53%,#f8f9fe 71.09%,#cad4fb 77.34%,#9cb0f8 82.03%,#5e7ff3 86.72%,#5678f3 88.28%,#6080f3 89.84%,#809af6 92.97%,#97acf7 96.09%,#a7b9f9 99.22%)"></i><i style="background:linear-gradient(90deg,#eda7ab 0.7812%,#efb2b6 8.594%,#f0b4b7 19.53%,#eeaaae 28.91%,#ea9a9f 35.16%,#e47d83 41.41%,#e47c82 42.97%,#e6848a 44.53%,#efb1b4 50.78%,#f7d6d8 58.59%,#fefbfb 67.97%,#fbfcff 69.53%,#ced8fb 75.78%,#a3b5f8 80.47%,#7b96f5 83.59%,#6685f4 85.16%,#5679f3 86.72%,#597bf3 88.28%,#869ff6 92.97%,#a3b6f8 97.66%,#aabbf9 99.22%)"></i><i style="background:linear-gradient(90deg,#eda9ad 0.7812%,#efb3b6 10.16%,#efb0b4 21.09%,#eca2a7 30.47%,#e99297 35.16%,#e47b81 39.84%,#e47b81 41.41%,#e89095 44.53%,#efb0b4 49.22%,#f6d5d7 57.03%,#fdfdfe 67.97%,#d3dcfc 74.22%,#a9bbf9 78.91%,#849df6 82.03%,#5b7cf3 85.16%,#5477f3 86.72%,#5f7ff3 88.28%,#7f99f6 91.41%,#96abf7 94.53%,#adbdf9 99.22%)"></i><i style="background:linear-gradient(90deg,#eea9ad 0.7812%,#efb2b5 10.16%,#eeaeb1 21.09%,#eca1a5 28.91%,#e89196 33.59%,#e4797f 38.28%,#e47a80 39.84%,#e88f94 42.97%,#efafb3 47.66%,#f6d4d6 55.47%,#fefdfd 66.41%,#f7f9fe 67.97%,#cbd5fb 74.22%,#9fb3f8 78.91%,#7894f5 82.03%,#6382f4 83.59%,#5477f3 85.16%,#5779f3 86.72%,#859ef6 91.41%,#a2b5f8 96.09%,#afbff9 99.22%)"></i><i style="background:linear-gradient(90deg,#eeaaae 0.7812%,#efb0b4 11.72%,#eda8ac 22.66%,#eb9b9f 28.91%,#e6878d 33.59%,#e3787e 36.72%,#e4797f 38.28%,#efaeb2 46.09%,#f6d3d5 53.91%,#fefcfc 64.84%,#fbfbff 66.41%,#c3cffb 74.22%,#96abf7 78.91%,#587af3 83.59%,#5275f2 85.16%,#5d7ef3 86.72%,#7d98f6 89.84%,#95aaf7 92.97%,#abbcf9 97.66%,#b1c1f9 99.22%)"></i></div>
<svg width="831" height="512" viewBox="0 0 831 512">
<rect x="51.6" y="38" width="168.9" height="168.7" fill="none" stroke="#000" stroke-width="1.1"/>
<text x="49.2" y="62.15" font-size="11.5" text-anchor="end">4</text>
<text x="49.2" y="94.1" font-size="11.5" text-anchor="end">2</text>
<text x="49.2" y="126.05" font-size="11.5" text-anchor="end">0</text>
<text x="49.2" y="158" font-size="11.5" text-anchor="end">2</text>
<text x="38.9" y="158" font-size="11.5" text-anchor="end">-</text>
<text x="49.2" y="189.95" font-size="11.5" text-anchor="end">4</text>
<text x="38.9" y="189.95" font-size="11.5" text-anchor="end">-</text>
<rect x="53.1" y="217" width="167.4" height="167.2" fill="none" stroke="#000" stroke-width="1.1"/>
<text x="50.7" y="240.97" font-size="11.5" text-anchor="end">4</text>
<text x="50.7" y="272.63" font-size="11.5" text-anchor="end">2</text>
<text x="50.7" y="304.3" font-size="11.5" text-anchor="end">0</text>
<text x="50.7" y="335.97" font-size="11.5" text-anchor="end">2</text>
<text x="40.4" y="335.97" font-size="11.5" text-anchor="end">-</text>
<text x="50.7" y="367.63" font-size="11.5" text-anchor="end">4</text>
<text x="40.4" y="367.63" font-size="11.5" text-anchor="end">-</text>
<rect x="51.4" y="396.7" width="169" height="76.5" fill="none" stroke="#000" stroke-width="1.1"/>
<text x="57.6" y="485.1" font-size="11.5" text-anchor="middle">6</text>
<text x="53.5" y="485.1" font-size="11.5" text-anchor="end">-</text>
<text x="82.95" y="485.1" font-size="11.5" text-anchor="middle">4</text>
<text x="78.85" y="485.1" font-size="11.5" text-anchor="end">-</text>
<text x="109.4" y="485.1" font-size="11.5" text-anchor="middle">2</text>
<text x="105.3" y="485.1" font-size="11.5" text-anchor="end">-</text>
<text x="135.75" y="485.1" font-size="11.5" text-anchor="middle">0</text>
<text x="163.6" y="485.1" font-size="11.5" text-anchor="middle">2</text>
<text x="189.25" y="485.1" font-size="11.5" text-anchor="middle">4</text>
<text x="216.65" y="485.1" font-size="11.5" text-anchor="middle">6</text>
<text x="50.2" y="413.17" font-size="11.5" text-anchor="end">100</text>
<text x="50.2" y="429.61" font-size="11.5" text-anchor="end">10</text>
<text x="50.2" y="446.05" font-size="11.5" text-anchor="end">1</text>
<text x="50.2" y="462.49" font-size="11.5" text-anchor="end">0.1</text>
<rect x="251.2" y="38" width="167.8" height="167.5" fill="none" stroke="#000" stroke-width="1.1"/>
<text x="247" y="62.2" font-size="11.5" text-anchor="end">4</text>
<text x="247" y="93.93" font-size="11.5" text-anchor="end">2</text>
<text x="247" y="125.65" font-size="11.5" text-anchor="end">0</text>
<text x="247" y="157.37" font-size="11.5" text-anchor="end">2</text>
<text x="236.7" y="157.37" font-size="11.5" text-anchor="end">-</text>
<text x="247" y="189.1" font-size="11.5" text-anchor="end">4</text>
<text x="236.7" y="189.1" font-size="11.5" text-anchor="end">-</text>
<rect x="251.4" y="217.3" width="167.8" height="166.9" fill="none" stroke="#000" stroke-width="1.1"/>
<text x="247.2" y="241.43" font-size="11.5" text-anchor="end">4</text>
<text x="247.2" y="273.04" font-size="11.5" text-anchor="end">2</text>
<text x="247.2" y="304.65" font-size="11.5" text-anchor="end">0</text>
<text x="247.2" y="336.26" font-size="11.5" text-anchor="end">2</text>
<text x="236.9" y="336.26" font-size="11.5" text-anchor="end">-</text>
<text x="247.2" y="367.87" font-size="11.5" text-anchor="end">4</text>
<text x="236.9" y="367.87" font-size="11.5" text-anchor="end">-</text>
<rect x="250.4" y="396.7" width="169.2" height="76.5" fill="none" stroke="#000" stroke-width="1.1"/>
<text x="256.02" y="485.1" font-size="11.5" text-anchor="middle">6</text>
<text x="251.92" y="485.1" font-size="11.5" text-anchor="end">-</text>
<text x="281.48" y="485.1" font-size="11.5" text-anchor="middle">4</text>
<text x="277.38" y="485.1" font-size="11.5" text-anchor="end">-</text>
<text x="308.04" y="485.1" font-size="11.5" text-anchor="middle">2</text>
<text x="303.94" y="485.1" font-size="11.5" text-anchor="end">-</text>
<text x="334.5" y="485.1" font-size="11.5" text-anchor="middle">0</text>
<text x="362.46" y="485.1" font-size="11.5" text-anchor="middle">2</text>
<text x="388.22" y="485.1" font-size="11.5" text-anchor="middle">4</text>
<text x="415.73" y="485.1" font-size="11.5" text-anchor="middle">6</text>
<text x="249.6" y="408.9" font-size="11.5" text-anchor="end">10</text>
<text x="249.6" y="418.47" font-size="11.5" text-anchor="end">5</text>
<text x="249.6" y="440.7" font-size="11.5" text-anchor="end">1</text>
<text x="249.6" y="450.27" font-size="11.5" text-anchor="end">0.5</text>
<text x="249.6" y="472.5" font-size="11.5" text-anchor="end">0.1</text>
<rect x="453.8" y="38" width="167.95" height="167.5" fill="none" stroke="#000" stroke-width="1.1"/>
<text x="448.3" y="62.5" font-size="11.5" text-anchor="end">4</text>
<text x="448.3" y="94.23" font-size="11.5" text-anchor="end">2</text>
<text x="448.3" y="125.95" font-size="11.5" text-anchor="end">0</text>
<text x="448.3" y="157.67" font-size="11.5" text-anchor="end">2</text>
<text x="438" y="157.67" font-size="11.5" text-anchor="end">-</text>
<text x="448.3" y="189.4" font-size="11.5" text-anchor="end">4</text>
<text x="438" y="189.4" font-size="11.5" text-anchor="end">-</text>
<rect x="454.1" y="217.3" width="167.7" height="167" fill="none" stroke="#000" stroke-width="1.1"/>
<text x="448.3" y="241.74" font-size="11.5" text-anchor="end">4</text>
<text x="448.3" y="273.37" font-size="11.5" text-anchor="end">2</text>
<text x="448.3" y="305" font-size="11.5" text-anchor="end">0</text>
<text x="448.3" y="336.63" font-size="11.5" text-anchor="end">2</text>
<text x="438" y="336.63" font-size="11.5" text-anchor="end">-</text>
<text x="448.3" y="368.26" font-size="11.5" text-anchor="end">4</text>
<text x="438" y="368.26" font-size="11.5" text-anchor="end">-</text>
<rect x="453.6" y="397" width="168.2" height="76.3" fill="none" stroke="#000" stroke-width="1.1"/>
<text x="459.5" y="485.2" font-size="11.5" text-anchor="middle">6</text>
<text x="455.4" y="485.2" font-size="11.5" text-anchor="end">-</text>
<text x="484.8" y="485.2" font-size="11.5" text-anchor="middle">4</text>
<text x="480.7" y="485.2" font-size="11.5" text-anchor="end">-</text>
<text x="511.2" y="485.2" font-size="11.5" text-anchor="middle">2</text>
<text x="507.1" y="485.2" font-size="11.5" text-anchor="end">-</text>
<text x="537.5" y="485.2" font-size="11.5" text-anchor="middle">0</text>
<text x="565.3" y="485.2" font-size="11.5" text-anchor="middle">2</text>
<text x="590.9" y="485.2" font-size="11.5" text-anchor="middle">4</text>
<text x="618.25" y="485.2" font-size="11.5" text-anchor="middle">6</text>
<text x="451.2" y="409.02" font-size="11.5" text-anchor="end">10<tspan font-size="7.5" dy="-4.3">2</tspan></text>
<text x="451.2" y="423.81" font-size="11.5" text-anchor="end">10</text>
<text x="451.2" y="438.6" font-size="11.5" text-anchor="end">1</text>
<text x="451.2" y="453.39" font-size="11.5" text-anchor="end">0.1</text>
<text x="451.2" y="468.18" font-size="11.5" text-anchor="end">10<tspan font-size="7.5" dy="-4.3">-2</tspan></text>
<rect x="657.2" y="38" width="167.8" height="167.3" fill="none" stroke="#000" stroke-width="1.1"/>
<text x="652" y="62.48" font-size="11.5" text-anchor="end">4</text>
<text x="652" y="94.16" font-size="11.5" text-anchor="end">2</text>
<text x="652" y="125.85" font-size="11.5" text-anchor="end">0</text>
<text x="652" y="157.54" font-size="11.5" text-anchor="end">2</text>
<text x="641.7" y="157.54" font-size="11.5" text-anchor="end">-</text>
<text x="652" y="189.22" font-size="11.5" text-anchor="end">4</text>
<text x="641.7" y="189.22" font-size="11.5" text-anchor="end">-</text>
<rect x="657.7" y="218.5" width="167.3" height="165.8" fill="none" stroke="#000" stroke-width="1.1"/>
<text x="652" y="242.8" font-size="11.5" text-anchor="end">4</text>
<text x="652" y="274.2" font-size="11.5" text-anchor="end">2</text>
<text x="652" y="305.6" font-size="11.5" text-anchor="end">0</text>
<text x="652" y="337" font-size="11.5" text-anchor="end">2</text>
<text x="641.7" y="337" font-size="11.5" text-anchor="end">-</text>
<text x="652" y="368.4" font-size="11.5" text-anchor="end">4</text>
<text x="641.7" y="368.4" font-size="11.5" text-anchor="end">-</text>
<rect x="657.2" y="397" width="167.9" height="76.3" fill="none" stroke="#000" stroke-width="1.1"/>
<text x="662.36" y="485.2" font-size="11.5" text-anchor="middle">6</text>
<text x="658.26" y="485.2" font-size="11.5" text-anchor="end">-</text>
<text x="687.74" y="485.2" font-size="11.5" text-anchor="middle">4</text>
<text x="683.64" y="485.2" font-size="11.5" text-anchor="end">-</text>
<text x="714.22" y="485.2" font-size="11.5" text-anchor="middle">2</text>
<text x="710.12" y="485.2" font-size="11.5" text-anchor="end">-</text>
<text x="740.6" y="485.2" font-size="11.5" text-anchor="middle">0</text>
<text x="768.48" y="485.2" font-size="11.5" text-anchor="middle">2</text>
<text x="794.16" y="485.2" font-size="11.5" text-anchor="middle">4</text>
<text x="821.59" y="485.2" font-size="11.5" text-anchor="middle">6</text>
<text x="653.2" y="409.98" font-size="11.5" text-anchor="end">10<tspan font-size="7.5" dy="-4.3">3</tspan></text>
<text x="653.2" y="428.66" font-size="11.5" text-anchor="end">10</text>
<text x="653.2" y="447.34" font-size="11.5" text-anchor="end">0.1</text>
<text x="653.2" y="466.02" font-size="11.5" text-anchor="end">10<tspan font-size="7.5" dy="-4.3">-3</tspan></text>
<path d="M55.88 206.7v-2.6M55.88 38v2.6M82.6 206.7v-2.6M82.6 38v2.6M109.33 206.7v-2.6M109.33 38v2.6M136.05 206.7v-2.6M136.05 38v2.6M162.77 206.7v-2.6M162.77 38v2.6M189.5 206.7v-2.6M189.5 38v2.6M216.22 206.7v-2.6M216.22 38v2.6M62.56 206.7v-1.5M62.56 38v1.5M69.24 206.7v-1.5M69.24 38v1.5M75.92 206.7v-1.5M75.92 38v1.5M89.28 206.7v-1.5M89.28 38v1.5M95.96 206.7v-1.5M95.96 38v1.5M102.64 206.7v-1.5M102.64 38v1.5M116.01 206.7v-1.5M116.01 38v1.5M122.69 206.7v-1.5M122.69 38v1.5M129.37 206.7v-1.5M129.37 38v1.5M142.73 206.7v-1.5M142.73 38v1.5M149.41 206.7v-1.5M149.41 38v1.5M156.09 206.7v-1.5M156.09 38v1.5M169.46 206.7v-1.5M169.46 38v1.5M176.14 206.7v-1.5M176.14 38v1.5M182.82 206.7v-1.5M182.82 38v1.5M196.18 206.7v-1.5M196.18 38v1.5M202.86 206.7v-1.5M202.86 38v1.5M209.54 206.7v-1.5M209.54 38v1.5M51.6 186.25h2.6M220.5 186.25h-2.6M51.6 154.3h2.6M220.5 154.3h-2.6M51.6 122.35h2.6M220.5 122.35h-2.6M51.6 90.4h2.6M220.5 90.4h-2.6M51.6 58.45h2.6M220.5 58.45h-2.6M51.6 202.23h1.5M220.5 202.23h-1.5M51.6 194.24h1.5M220.5 194.24h-1.5M51.6 178.26h1.5M220.5 178.26h-1.5M51.6 170.28h1.5M220.5 170.28h-1.5M51.6 162.29h1.5M220.5 162.29h-1.5M51.6 146.31h1.5M220.5 146.31h-1.5M51.6 138.33h1.5M220.5 138.33h-1.5M51.6 130.34h1.5M220.5 130.34h-1.5M51.6 114.36h1.5M220.5 114.36h-1.5M51.6 106.37h1.5M220.5 106.37h-1.5M51.6 98.39h1.5M220.5 98.39h-1.5M51.6 82.41h1.5M220.5 82.41h-1.5M51.6 74.42h1.5M220.5 74.42h-1.5M51.6 66.44h1.5M220.5 66.44h-1.5M51.6 50.46h1.5M220.5 50.46h-1.5M51.6 42.47h1.5M220.5 42.47h-1.5M57.34 384.2v-2.6M57.34 217v2.6M83.83 384.2v-2.6M83.83 217v2.6M110.31 384.2v-2.6M110.31 217v2.6M136.8 384.2v-2.6M136.8 217v2.6M163.29 384.2v-2.6M163.29 217v2.6M189.77 384.2v-2.6M189.77 217v2.6M216.26 384.2v-2.6M216.26 217v2.6M63.96 384.2v-1.5M63.96 217v1.5M70.58 384.2v-1.5M70.58 217v1.5M77.2 384.2v-1.5M77.2 217v1.5M90.45 384.2v-1.5M90.45 217v1.5M97.07 384.2v-1.5M97.07 217v1.5M103.69 384.2v-1.5M103.69 217v1.5M116.93 384.2v-1.5M116.93 217v1.5M123.56 384.2v-1.5M123.56 217v1.5M130.18 384.2v-1.5M130.18 217v1.5M143.42 384.2v-1.5M143.42 217v1.5M150.04 384.2v-1.5M150.04 217v1.5M156.67 384.2v-1.5M156.67 217v1.5M169.91 384.2v-1.5M169.91 217v1.5M176.53 384.2v-1.5M176.53 217v1.5M183.15 384.2v-1.5M183.15 217v1.5M196.4 384.2v-1.5M196.4 217v1.5M203.02 384.2v-1.5M203.02 217v1.5M209.64 384.2v-1.5M209.64 217v1.5M53.1 363.93h2.6M220.5 363.93h-2.6M53.1 332.27h2.6M220.5 332.27h-2.6M53.1 300.6h2.6M220.5 300.6h-2.6M53.1 268.93h2.6M220.5 268.93h-2.6M53.1 237.27h2.6M220.5 237.27h-2.6M53.1 379.77h1.5M220.5 379.77h-1.5M53.1 371.85h1.5M220.5 371.85h-1.5M53.1 356.02h1.5M220.5 356.02h-1.5M53.1 348.1h1.5M220.5 348.1h-1.5M53.1 340.18h1.5M220.5 340.18h-1.5M53.1 324.35h1.5M220.5 324.35h-1.5M53.1 316.43h1.5M220.5 316.43h-1.5M53.1 308.52h1.5M220.5 308.52h-1.5M53.1 292.68h1.5M220.5 292.68h-1.5M53.1 284.77h1.5M220.5 284.77h-1.5M53.1 276.85h1.5M220.5 276.85h-1.5M53.1 261.02h1.5M220.5 261.02h-1.5M53.1 253.1h1.5M220.5 253.1h-1.5M53.1 245.18h1.5M220.5 245.18h-1.5M53.1 229.35h1.5M220.5 229.35h-1.5M53.1 221.43h1.5M220.5 221.43h-1.5M54.6 473.2v-2.6M54.6 396.7v2.6M81.65 473.2v-2.6M81.65 396.7v2.6M108.7 473.2v-2.6M108.7 396.7v2.6M135.75 473.2v-2.6M135.75 396.7v2.6M162.8 473.2v-2.6M162.8 396.7v2.6M189.85 473.2v-2.6M189.85 396.7v2.6M216.9 473.2v-2.6M216.9 396.7v2.6M61.36 473.2v-1.5M61.36 396.7v1.5M68.12 473.2v-1.5M68.12 396.7v1.5M74.89 473.2v-1.5M74.89 396.7v1.5M88.41 473.2v-1.5M88.41 396.7v1.5M95.17 473.2v-1.5M95.17 396.7v1.5M101.94 473.2v-1.5M101.94 396.7v1.5M115.46 473.2v-1.5M115.46 396.7v1.5M122.22 473.2v-1.5M122.22 396.7v1.5M128.99 473.2v-1.5M128.99 396.7v1.5M142.51 473.2v-1.5M142.51 396.7v1.5M149.28 473.2v-1.5M149.28 396.7v1.5M156.04 473.2v-1.5M156.04 396.7v1.5M169.56 473.2v-1.5M169.56 396.7v1.5M176.32 473.2v-1.5M176.32 396.7v1.5M183.09 473.2v-1.5M183.09 396.7v1.5M196.61 473.2v-1.5M196.61 396.7v1.5M203.38 473.2v-1.5M203.38 396.7v1.5M210.14 473.2v-1.5M210.14 396.7v1.5M51.4 409.47h1.9M220.4 409.47h-1.9M51.4 425.91h1.9M220.4 425.91h-1.9M51.4 442.35h1.9M220.4 442.35h-1.9M51.4 458.79h1.9M220.4 458.79h-1.9M51.4 470.28h1.1M220.4 470.28h-1.1M51.4 467.39h1.1M220.4 467.39h-1.1M51.4 465.33h1.1M220.4 465.33h-1.1M51.4 463.74h1.1M220.4 463.74h-1.1M51.4 462.44h1.1M220.4 462.44h-1.1M51.4 461.34h1.1M220.4 461.34h-1.1M51.4 460.38h1.1M220.4 460.38h-1.1M51.4 459.54h1.1M220.4 459.54h-1.1M51.4 453.84h1.1M220.4 453.84h-1.1M51.4 450.95h1.1M220.4 450.95h-1.1M51.4 448.89h1.1M220.4 448.89h-1.1M51.4 447.3h1.1M220.4 447.3h-1.1M51.4 446h1.1M220.4 446h-1.1M51.4 444.9h1.1M220.4 444.9h-1.1M51.4 443.94h1.1M220.4 443.94h-1.1M51.4 443.1h1.1M220.4 443.1h-1.1M51.4 437.4h1.1M220.4 437.4h-1.1M51.4 434.51h1.1M220.4 434.51h-1.1M51.4 432.45h1.1M220.4 432.45h-1.1M51.4 430.86h1.1M220.4 430.86h-1.1M51.4 429.56h1.1M220.4 429.56h-1.1M51.4 428.46h1.1M220.4 428.46h-1.1M51.4 427.5h1.1M220.4 427.5h-1.1M51.4 426.66h1.1M220.4 426.66h-1.1M51.4 420.96h1.1M220.4 420.96h-1.1M51.4 418.07h1.1M220.4 418.07h-1.1M51.4 416.01h1.1M220.4 416.01h-1.1M51.4 414.42h1.1M220.4 414.42h-1.1M51.4 413.12h1.1M220.4 413.12h-1.1M51.4 412.02h1.1M220.4 412.02h-1.1M51.4 411.06h1.1M220.4 411.06h-1.1M51.4 410.22h1.1M220.4 410.22h-1.1M51.4 404.52h1.1M220.4 404.52h-1.1M51.4 401.63h1.1M220.4 401.63h-1.1M51.4 399.57h1.1M220.4 399.57h-1.1M51.4 397.98h1.1M220.4 397.98h-1.1M255.45 205.5v-2.6M255.45 38v2.6M282 205.5v-2.6M282 38v2.6M308.55 205.5v-2.6M308.55 38v2.6M335.1 205.5v-2.6M335.1 38v2.6M361.65 205.5v-2.6M361.65 38v2.6M388.2 205.5v-2.6M388.2 38v2.6M414.75 205.5v-2.6M414.75 38v2.6M262.09 205.5v-1.5M262.09 38v1.5M268.72 205.5v-1.5M268.72 38v1.5M275.36 205.5v-1.5M275.36 38v1.5M288.64 205.5v-1.5M288.64 38v1.5M295.27 205.5v-1.5M295.27 38v1.5M301.91 205.5v-1.5M301.91 38v1.5M315.19 205.5v-1.5M315.19 38v1.5M321.82 205.5v-1.5M321.82 38v1.5M328.46 205.5v-1.5M328.46 38v1.5M341.74 205.5v-1.5M341.74 38v1.5M348.38 205.5v-1.5M348.38 38v1.5M355.01 205.5v-1.5M355.01 38v1.5M368.29 205.5v-1.5M368.29 38v1.5M374.93 205.5v-1.5M374.93 38v1.5M381.56 205.5v-1.5M381.56 38v1.5M394.84 205.5v-1.5M394.84 38v1.5M401.48 205.5v-1.5M401.48 38v1.5M408.11 205.5v-1.5M408.11 38v1.5M251.2 185.2h2.6M419 185.2h-2.6M251.2 153.47h2.6M419 153.47h-2.6M251.2 121.75h2.6M419 121.75h-2.6M251.2 90.03h2.6M419 90.03h-2.6M251.2 58.3h2.6M419 58.3h-2.6M251.2 201.06h1.5M419 201.06h-1.5M251.2 193.13h1.5M419 193.13h-1.5M251.2 177.27h1.5M419 177.27h-1.5M251.2 169.34h1.5M419 169.34h-1.5M251.2 161.4h1.5M419 161.4h-1.5M251.2 145.54h1.5M419 145.54h-1.5M251.2 137.61h1.5M419 137.61h-1.5M251.2 129.68h1.5M419 129.68h-1.5M251.2 113.82h1.5M419 113.82h-1.5M251.2 105.89h1.5M419 105.89h-1.5M251.2 97.96h1.5M419 97.96h-1.5M251.2 82.1h1.5M419 82.1h-1.5M251.2 74.16h1.5M419 74.16h-1.5M251.2 66.23h1.5M419 66.23h-1.5M251.2 50.37h1.5M419 50.37h-1.5M251.2 42.44h1.5M419 42.44h-1.5M255.65 384.2v-2.6M255.65 217.3v2.6M282.2 384.2v-2.6M282.2 217.3v2.6M308.75 384.2v-2.6M308.75 217.3v2.6M335.3 384.2v-2.6M335.3 217.3v2.6M361.85 384.2v-2.6M361.85 217.3v2.6M388.4 384.2v-2.6M388.4 217.3v2.6M414.95 384.2v-2.6M414.95 217.3v2.6M262.29 384.2v-1.5M262.29 217.3v1.5M268.92 384.2v-1.5M268.92 217.3v1.5M275.56 384.2v-1.5M275.56 217.3v1.5M288.84 384.2v-1.5M288.84 217.3v1.5M295.47 384.2v-1.5M295.47 217.3v1.5M302.11 384.2v-1.5M302.11 217.3v1.5M315.39 384.2v-1.5M315.39 217.3v1.5M322.02 384.2v-1.5M322.02 217.3v1.5M328.66 384.2v-1.5M328.66 217.3v1.5M341.94 384.2v-1.5M341.94 217.3v1.5M348.58 384.2v-1.5M348.58 217.3v1.5M355.21 384.2v-1.5M355.21 217.3v1.5M368.49 384.2v-1.5M368.49 217.3v1.5M375.13 384.2v-1.5M375.13 217.3v1.5M381.76 384.2v-1.5M381.76 217.3v1.5M395.04 384.2v-1.5M395.04 217.3v1.5M401.68 384.2v-1.5M401.68 217.3v1.5M408.31 384.2v-1.5M408.31 217.3v1.5M251.4 363.97h2.6M419.2 363.97h-2.6M251.4 332.36h2.6M419.2 332.36h-2.6M251.4 300.75h2.6M419.2 300.75h-2.6M251.4 269.14h2.6M419.2 269.14h-2.6M251.4 237.53h2.6M419.2 237.53h-2.6M251.4 379.77h1.5M419.2 379.77h-1.5M251.4 371.87h1.5M419.2 371.87h-1.5M251.4 356.07h1.5M419.2 356.07h-1.5M251.4 348.16h1.5M419.2 348.16h-1.5M251.4 340.26h1.5M419.2 340.26h-1.5M251.4 324.46h1.5M419.2 324.46h-1.5M251.4 316.55h1.5M419.2 316.55h-1.5M251.4 308.65h1.5M419.2 308.65h-1.5M251.4 292.85h1.5M419.2 292.85h-1.5M251.4 284.95h1.5M419.2 284.95h-1.5M251.4 277.04h1.5M419.2 277.04h-1.5M251.4 261.24h1.5M419.2 261.24h-1.5M251.4 253.34h1.5M419.2 253.34h-1.5M251.4 245.43h1.5M419.2 245.43h-1.5M251.4 229.63h1.5M419.2 229.63h-1.5M251.4 221.73h1.5M419.2 221.73h-1.5M253.02 473.2v-2.6M253.02 396.7v2.6M280.18 473.2v-2.6M280.18 396.7v2.6M307.34 473.2v-2.6M307.34 396.7v2.6M334.5 473.2v-2.6M334.5 396.7v2.6M361.66 473.2v-2.6M361.66 396.7v2.6M388.82 473.2v-2.6M388.82 396.7v2.6M415.98 473.2v-2.6M415.98 396.7v2.6M259.81 473.2v-1.5M259.81 396.7v1.5M266.6 473.2v-1.5M266.6 396.7v1.5M273.39 473.2v-1.5M273.39 396.7v1.5M286.97 473.2v-1.5M286.97 396.7v1.5M293.76 473.2v-1.5M293.76 396.7v1.5M300.55 473.2v-1.5M300.55 396.7v1.5M314.13 473.2v-1.5M314.13 396.7v1.5M320.92 473.2v-1.5M320.92 396.7v1.5M327.71 473.2v-1.5M327.71 396.7v1.5M341.29 473.2v-1.5M341.29 396.7v1.5M348.08 473.2v-1.5M348.08 396.7v1.5M354.87 473.2v-1.5M354.87 396.7v1.5M368.45 473.2v-1.5M368.45 396.7v1.5M375.24 473.2v-1.5M375.24 396.7v1.5M382.03 473.2v-1.5M382.03 396.7v1.5M395.61 473.2v-1.5M395.61 396.7v1.5M402.4 473.2v-1.5M402.4 396.7v1.5M409.19 473.2v-1.5M409.19 396.7v1.5M250.4 405.2h1.9M419.6 405.2h-1.9M250.4 414.77h1.9M419.6 414.77h-1.9M250.4 437h1.9M419.6 437h-1.9M250.4 446.57h1.9M419.6 446.57h-1.9M250.4 468.8h1.9M419.6 468.8h-1.9M250.4 471.88h1.1M419.6 471.88h-1.1M250.4 470.26h1.1M419.6 470.26h-1.1M250.4 459.23h1.1M419.6 459.23h-1.1M250.4 453.63h1.1M419.6 453.63h-1.1M250.4 449.65h1.1M419.6 449.65h-1.1M250.4 444.05h1.1M419.6 444.05h-1.1M250.4 441.93h1.1M419.6 441.93h-1.1M250.4 440.08h1.1M419.6 440.08h-1.1M250.4 438.46h1.1M419.6 438.46h-1.1M250.4 427.43h1.1M419.6 427.43h-1.1M250.4 421.83h1.1M419.6 421.83h-1.1M250.4 417.85h1.1M419.6 417.85h-1.1M250.4 412.25h1.1M419.6 412.25h-1.1M250.4 410.13h1.1M419.6 410.13h-1.1M250.4 408.28h1.1M419.6 408.28h-1.1M250.4 406.66h1.1M419.6 406.66h-1.1M458.05 205.5v-2.6M458.05 38v2.6M484.63 205.5v-2.6M484.63 38v2.6M511.2 205.5v-2.6M511.2 38v2.6M537.77 205.5v-2.6M537.77 38v2.6M564.35 205.5v-2.6M564.35 38v2.6M590.92 205.5v-2.6M590.92 38v2.6M617.5 205.5v-2.6M617.5 38v2.6M464.7 205.5v-1.5M464.7 38v1.5M471.34 205.5v-1.5M471.34 38v1.5M477.98 205.5v-1.5M477.98 38v1.5M491.27 205.5v-1.5M491.27 38v1.5M497.91 205.5v-1.5M497.91 38v1.5M504.56 205.5v-1.5M504.56 38v1.5M517.84 205.5v-1.5M517.84 38v1.5M524.49 205.5v-1.5M524.49 38v1.5M531.13 205.5v-1.5M531.13 38v1.5M544.42 205.5v-1.5M544.42 38v1.5M551.06 205.5v-1.5M551.06 38v1.5M557.71 205.5v-1.5M557.71 38v1.5M570.99 205.5v-1.5M570.99 38v1.5M577.64 205.5v-1.5M577.64 38v1.5M584.28 205.5v-1.5M584.28 38v1.5M597.57 205.5v-1.5M597.57 38v1.5M604.21 205.5v-1.5M604.21 38v1.5M610.85 205.5v-1.5M610.85 38v1.5M453.8 185.2h2.6M621.75 185.2h-2.6M453.8 153.47h2.6M621.75 153.47h-2.6M453.8 121.75h2.6M621.75 121.75h-2.6M453.8 90.03h2.6M621.75 90.03h-2.6M453.8 58.3h2.6M621.75 58.3h-2.6M453.8 201.06h1.5M621.75 201.06h-1.5M453.8 193.13h1.5M621.75 193.13h-1.5M453.8 177.27h1.5M621.75 177.27h-1.5M453.8 169.34h1.5M621.75 169.34h-1.5M453.8 161.4h1.5M621.75 161.4h-1.5M453.8 145.54h1.5M621.75 145.54h-1.5M453.8 137.61h1.5M621.75 137.61h-1.5M453.8 129.68h1.5M621.75 129.68h-1.5M453.8 113.82h1.5M621.75 113.82h-1.5M453.8 105.89h1.5M621.75 105.89h-1.5M453.8 97.96h1.5M621.75 97.96h-1.5M453.8 82.1h1.5M621.75 82.1h-1.5M453.8 74.16h1.5M621.75 74.16h-1.5M453.8 66.23h1.5M621.75 66.23h-1.5M453.8 50.37h1.5M621.75 50.37h-1.5M453.8 42.44h1.5M621.75 42.44h-1.5M458.35 384.3v-2.6M458.35 217.3v2.6M484.88 384.3v-2.6M484.88 217.3v2.6M511.42 384.3v-2.6M511.42 217.3v2.6M537.95 384.3v-2.6M537.95 217.3v2.6M564.48 384.3v-2.6M564.48 217.3v2.6M591.02 384.3v-2.6M591.02 217.3v2.6M617.55 384.3v-2.6M617.55 217.3v2.6M464.98 384.3v-1.5M464.98 217.3v1.5M471.61 384.3v-1.5M471.61 217.3v1.5M478.25 384.3v-1.5M478.25 217.3v1.5M491.51 384.3v-1.5M491.51 217.3v1.5M498.15 384.3v-1.5M498.15 217.3v1.5M504.78 384.3v-1.5M504.78 217.3v1.5M518.05 384.3v-1.5M518.05 217.3v1.5M524.68 384.3v-1.5M524.68 217.3v1.5M531.32 384.3v-1.5M531.32 217.3v1.5M544.58 384.3v-1.5M544.58 217.3v1.5M551.22 384.3v-1.5M551.22 217.3v1.5M557.85 384.3v-1.5M557.85 217.3v1.5M571.12 384.3v-1.5M571.12 217.3v1.5M577.75 384.3v-1.5M577.75 217.3v1.5M584.39 384.3v-1.5M584.39 217.3v1.5M597.65 384.3v-1.5M597.65 217.3v1.5M604.29 384.3v-1.5M604.29 217.3v1.5M610.92 384.3v-1.5M610.92 217.3v1.5M454.1 364.06h2.6M621.8 364.06h-2.6M454.1 332.43h2.6M621.8 332.43h-2.6M454.1 300.8h2.6M621.8 300.8h-2.6M454.1 269.17h2.6M621.8 269.17h-2.6M454.1 237.54h2.6M621.8 237.54h-2.6M454.1 379.87h1.5M621.8 379.87h-1.5M454.1 371.96h1.5M621.8 371.96h-1.5M454.1 356.15h1.5M621.8 356.15h-1.5M454.1 348.24h1.5M621.8 348.24h-1.5M454.1 340.34h1.5M621.8 340.34h-1.5M454.1 324.52h1.5M621.8 324.52h-1.5M454.1 316.61h1.5M621.8 316.61h-1.5M454.1 308.71h1.5M621.8 308.71h-1.5M454.1 292.89h1.5M621.8 292.89h-1.5M454.1 284.99h1.5M621.8 284.99h-1.5M454.1 277.08h1.5M621.8 277.08h-1.5M454.1 261.26h1.5M621.8 261.26h-1.5M454.1 253.36h1.5M621.8 253.36h-1.5M454.1 245.45h1.5M621.8 245.45h-1.5M454.1 229.64h1.5M621.8 229.64h-1.5M454.1 221.73h1.5M621.8 221.73h-1.5M456.5 473.3v-2.6M456.5 397v2.6M483.5 473.3v-2.6M483.5 397v2.6M510.5 473.3v-2.6M510.5 397v2.6M537.5 473.3v-2.6M537.5 397v2.6M564.5 473.3v-2.6M564.5 397v2.6M591.5 473.3v-2.6M591.5 397v2.6M618.5 473.3v-2.6M618.5 397v2.6M463.25 473.3v-1.5M463.25 397v1.5M470 473.3v-1.5M470 397v1.5M476.75 473.3v-1.5M476.75 397v1.5M490.25 473.3v-1.5M490.25 397v1.5M497 473.3v-1.5M497 397v1.5M503.75 473.3v-1.5M503.75 397v1.5M517.25 473.3v-1.5M517.25 397v1.5M524 473.3v-1.5M524 397v1.5M530.75 473.3v-1.5M530.75 397v1.5M544.25 473.3v-1.5M544.25 397v1.5M551 473.3v-1.5M551 397v1.5M557.75 473.3v-1.5M557.75 397v1.5M571.25 473.3v-1.5M571.25 397v1.5M578 473.3v-1.5M578 397v1.5M584.75 473.3v-1.5M584.75 397v1.5M598.25 473.3v-1.5M598.25 397v1.5M605 473.3v-1.5M605 397v1.5M611.75 473.3v-1.5M611.75 397v1.5M453.6 405.32h1.9M621.8 405.32h-1.9M453.6 420.11h1.9M621.8 420.11h-1.9M453.6 434.9h1.9M621.8 434.9h-1.9M453.6 449.69h1.9M621.8 449.69h-1.9M453.6 464.48h1.9M621.8 464.48h-1.9M661.45 205.3v-2.6M661.45 38v2.6M688 205.3v-2.6M688 38v2.6M714.55 205.3v-2.6M714.55 38v2.6M741.1 205.3v-2.6M741.1 38v2.6M767.65 205.3v-2.6M767.65 38v2.6M794.2 205.3v-2.6M794.2 38v2.6M820.75 205.3v-2.6M820.75 38v2.6M668.09 205.3v-1.5M668.09 38v1.5M674.72 205.3v-1.5M674.72 38v1.5M681.36 205.3v-1.5M681.36 38v1.5M694.64 205.3v-1.5M694.64 38v1.5M701.27 205.3v-1.5M701.27 38v1.5M707.91 205.3v-1.5M707.91 38v1.5M721.19 205.3v-1.5M721.19 38v1.5M727.82 205.3v-1.5M727.82 38v1.5M734.46 205.3v-1.5M734.46 38v1.5M747.74 205.3v-1.5M747.74 38v1.5M754.38 205.3v-1.5M754.38 38v1.5M761.01 205.3v-1.5M761.01 38v1.5M774.29 205.3v-1.5M774.29 38v1.5M780.93 205.3v-1.5M780.93 38v1.5M787.56 205.3v-1.5M787.56 38v1.5M800.84 205.3v-1.5M800.84 38v1.5M807.48 205.3v-1.5M807.48 38v1.5M814.11 205.3v-1.5M814.11 38v1.5M657.2 185.02h2.6M825 185.02h-2.6M657.2 153.34h2.6M825 153.34h-2.6M657.2 121.65h2.6M825 121.65h-2.6M657.2 89.96h2.6M825 89.96h-2.6M657.2 58.28h2.6M825 58.28h-2.6M657.2 200.86h1.5M825 200.86h-1.5M657.2 192.94h1.5M825 192.94h-1.5M657.2 177.1h1.5M825 177.1h-1.5M657.2 169.18h1.5M825 169.18h-1.5M657.2 161.26h1.5M825 161.26h-1.5M657.2 145.41h1.5M825 145.41h-1.5M657.2 137.49h1.5M825 137.49h-1.5M657.2 129.57h1.5M825 129.57h-1.5M657.2 113.73h1.5M825 113.73h-1.5M657.2 105.81h1.5M825 105.81h-1.5M657.2 97.89h1.5M825 97.89h-1.5M657.2 82.04h1.5M825 82.04h-1.5M657.2 74.12h1.5M825 74.12h-1.5M657.2 66.2h1.5M825 66.2h-1.5M657.2 50.36h1.5M825 50.36h-1.5M657.2 42.44h1.5M825 42.44h-1.5M661.94 384.3v-2.6M661.94 218.5v2.6M688.41 384.3v-2.6M688.41 218.5v2.6M714.88 384.3v-2.6M714.88 218.5v2.6M741.35 384.3v-2.6M741.35 218.5v2.6M767.82 384.3v-2.6M767.82 218.5v2.6M794.29 384.3v-2.6M794.29 218.5v2.6M820.76 384.3v-2.6M820.76 218.5v2.6M668.55 384.3v-1.5M668.55 218.5v1.5M675.17 384.3v-1.5M675.17 218.5v1.5M681.79 384.3v-1.5M681.79 218.5v1.5M695.02 384.3v-1.5M695.02 218.5v1.5M701.64 384.3v-1.5M701.64 218.5v1.5M708.26 384.3v-1.5M708.26 218.5v1.5M721.5 384.3v-1.5M721.5 218.5v1.5M728.11 384.3v-1.5M728.11 218.5v1.5M734.73 384.3v-1.5M734.73 218.5v1.5M747.97 384.3v-1.5M747.97 218.5v1.5M754.59 384.3v-1.5M754.59 218.5v1.5M761.2 384.3v-1.5M761.2 218.5v1.5M774.44 384.3v-1.5M774.44 218.5v1.5M781.06 384.3v-1.5M781.06 218.5v1.5M787.68 384.3v-1.5M787.68 218.5v1.5M800.91 384.3v-1.5M800.91 218.5v1.5M807.53 384.3v-1.5M807.53 218.5v1.5M814.15 384.3v-1.5M814.15 218.5v1.5M657.7 364.2h2.6M825 364.2h-2.6M657.7 332.8h2.6M825 332.8h-2.6M657.7 301.4h2.6M825 301.4h-2.6M657.7 270h2.6M825 270h-2.6M657.7 238.6h2.6M825 238.6h-2.6M657.7 379.9h1.5M825 379.9h-1.5M657.7 372.05h1.5M825 372.05h-1.5M657.7 356.35h1.5M825 356.35h-1.5M657.7 348.5h1.5M825 348.5h-1.5M657.7 340.65h1.5M825 340.65h-1.5M657.7 324.95h1.5M825 324.95h-1.5M657.7 317.1h1.5M825 317.1h-1.5M657.7 309.25h1.5M825 309.25h-1.5M657.7 293.55h1.5M825 293.55h-1.5M657.7 285.7h1.5M825 285.7h-1.5M657.7 277.85h1.5M825 277.85h-1.5M657.7 262.15h1.5M825 262.15h-1.5M657.7 254.3h1.5M825 254.3h-1.5M657.7 246.45h1.5M825 246.45h-1.5M657.7 230.75h1.5M825 230.75h-1.5M657.7 222.9h1.5M825 222.9h-1.5M659.36 473.3v-2.6M659.36 397v2.6M686.44 473.3v-2.6M686.44 397v2.6M713.52 473.3v-2.6M713.52 397v2.6M740.6 473.3v-2.6M740.6 397v2.6M767.68 473.3v-2.6M767.68 397v2.6M794.76 473.3v-2.6M794.76 397v2.6M821.84 473.3v-2.6M821.84 397v2.6M666.13 473.3v-1.5M666.13 397v1.5M672.9 473.3v-1.5M672.9 397v1.5M679.67 473.3v-1.5M679.67 397v1.5M693.21 473.3v-1.5M693.21 397v1.5M699.98 473.3v-1.5M699.98 397v1.5M706.75 473.3v-1.5M706.75 397v1.5M720.29 473.3v-1.5M720.29 397v1.5M727.06 473.3v-1.5M727.06 397v1.5M733.83 473.3v-1.5M733.83 397v1.5M747.37 473.3v-1.5M747.37 397v1.5M754.14 473.3v-1.5M754.14 397v1.5M760.91 473.3v-1.5M760.91 397v1.5M774.45 473.3v-1.5M774.45 397v1.5M781.22 473.3v-1.5M781.22 397v1.5M787.99 473.3v-1.5M787.99 397v1.5M801.53 473.3v-1.5M801.53 397v1.5M808.3 473.3v-1.5M808.3 397v1.5M815.07 473.3v-1.5M815.07 397v1.5M657.2 406.28h1.9M825.1 406.28h-1.9M657.2 424.96h1.9M825.1 424.96h-1.9M657.2 443.64h1.9M825.1 443.64h-1.9M657.2 462.32h1.9M825.1 462.32h-1.9M657.2 471.66h1.1M825.1 471.66h-1.1M657.2 452.98h1.1M825.1 452.98h-1.1M657.2 434.3h1.1M825.1 434.3h-1.1M657.2 415.62h1.1M825.1 415.62h-1.1" stroke="#000" stroke-width="0.9" fill="none"/>
<path d="M53.1 98.39H220.5" stroke="#000" stroke-width="0.9" stroke-dasharray="3.7 2.74" fill="none"/>
<path d="M252.7 97.96H419" stroke="#000" stroke-width="0.9" stroke-dasharray="3.7 2.74" fill="none"/>
<path d="M455.3 97.96H621.75" stroke="#000" stroke-width="0.9" stroke-dasharray="3.7 2.74" fill="none"/>
<path d="M658.7 97.89H825" stroke="#000" stroke-width="0.9" stroke-dasharray="3.7 2.74" fill="none"/>
<clipPath id="c0"><rect x="53.1" y="217" width="167.4" height="167.2" /></clipPath>
<g clip-path="url(#c0)"><g fill="none" stroke-width="1.5"><path d="M221.6 303L203.6 303.6L189.2 304.4L177.3 305.3L167.5 306.5L163.1 307.2L159.1 308L155.4 308.8L151.9 309.8L148.5 310.9L145.4 312.1L142.3 313.5L139.3 315L136.4 316.7L133.4 318.6L130.4 320.7L127.3 323.1L124.1 325.8L120.8 328.6L113.5 335.6L105 344.3L94.8 355.3L82.7 369L67.7 386.1" stroke="#2552f2"/><path d="M52 298.2L70 297.6L84.4 296.8L96.3 295.9L106.1 294.7L110.5 294L114.5 293.2L118.2 292.4L121.7 291.4L125.1 290.3L128.2 289.1L131.3 287.7L134.3 286.2L137.2 284.5L140.2 282.6L143.2 280.5L146.3 278.1L149.5 275.4L152.8 272.6L160.1 265.6L168.6 256.9L178.8 245.9L190.9 232.2L205.9 215.1" stroke="#2552f2"/><path d="M52.04 300.6H221.56" stroke="#f63e50" stroke-dasharray="5.2 2.6"/></g></g>
<clipPath id="c1"><rect x="251.4" y="217.3" width="167.8" height="166.9" /></clipPath>
<g clip-path="url(#c1)"><g fill="none" stroke-width="1.5"><path d="M250.3 349L265.9 339.2L279.5 330.6L291 323L300.9 316.3L309.5 310.2L317.6 304.2L325 298.4L331.9 292.6L338.7 286.5L345.8 279.8L353.1 272.4L361.1 264.2L369.7 254.9L379.6 243.9L391.4 230.6L404.6 215.4" stroke="#f63e50"/><path d="M420.3 252.5L404.7 262.3L391.1 270.9L379.6 278.5L369.7 285.2L361.1 291.3L353 297.3L345.6 303.1L338.7 308.9L331.9 315L324.8 321.7L317.5 329.1L309.5 337.3L300.9 346.6L291 357.6L279.2 370.9L266 386.1" stroke="#f63e50"/><path d="M420.3 303.2L402.3 303.8L387.8 304.5L375.9 305.5L366 306.6L361.6 307.3L357.7 308.1L354 309L350.5 309.9L347.1 311L343.9 312.2L340.8 313.6L337.8 315.1L334.9 316.8L331.9 318.7L328.9 320.8L325.8 323.2L322.6 325.9L319.3 328.7L311.9 335.7L303.4 344.4L293.2 355.4L281.1 369L266.1 386.1" stroke="#2552f2"/><path d="M250.3 298.3L268.3 297.7L282.8 297L294.7 296L304.6 294.9L309 294.2L312.9 293.4L316.6 292.5L320.1 291.6L323.5 290.5L326.7 289.3L329.8 287.9L332.8 286.4L335.7 284.7L338.7 282.8L341.7 280.7L344.8 278.3L348 275.6L351.3 272.8L358.7 265.8L367.2 257.1L377.4 246.1L389.5 232.5L404.5 215.4" stroke="#2552f2"/><path d="M250.34 300.75H420.26" stroke="#f63e50" stroke-dasharray="5.2 2.6"/><path d="M250.3 303.4L263 303.9L273 304.5L281.2 305.3L287.4 306.2L290 306.7L292.1 307.3L293.9 307.9L295.3 308.6L296.4 309.3L297.2 310.1L297.6 311L297.8 312L297.6 313L297.1 314.1L296.4 315.4L295.2 316.8L293.8 318.4L292 320.1L287.3 323.9L281.1 328.5L273.1 334L262.9 340.7L250.3 348.7" stroke="#2552f2" stroke-dasharray="5.2 2.6"/><path d="M420.3 298.1L407.6 297.6L397.6 297L389.4 296.2L383.2 295.3L380.6 294.8L378.5 294.2L376.7 293.6L375.3 292.9L374.2 292.2L373.4 291.4L373 290.5L372.8 289.5L373 288.5L373.5 287.4L374.2 286.1L375.4 284.7L376.8 283.1L378.6 281.4L383.3 277.6L389.5 273L397.5 267.5L407.7 260.8L420.3 252.8" stroke="#2552f2" stroke-dasharray="5.2 2.6"/></g></g>
<clipPath id="c2"><rect x="454.1" y="217.3" width="167.7" height="167" /></clipPath>
<g clip-path="url(#c2)"><g fill="none" stroke-width="1.5"><path d="M453 349L468.6 339.3L482.2 330.6L493.7 323.1L503.6 316.4L512.2 310.3L520.3 304.3L527.6 298.4L534.6 292.6L541.3 286.5L548.4 279.8L555.8 272.5L563.7 264.2L572.3 254.9L582.2 243.9L594 230.6L607.2 215.4" stroke="#f63e50"/><path d="M622.9 252.6L607.3 262.3L593.7 271L582.2 278.5L572.3 285.2L563.7 291.3L555.6 297.3L548.3 303.2L541.3 309L534.6 315.1L527.5 321.8L520.1 329.1L512.2 337.4L503.6 346.7L493.7 357.7L481.9 371L468.7 386.2" stroke="#f63e50"/><path d="M453 366L479.9 343.7L491.2 334.2L501.2 325.7L510.2 317.7L518.6 310.1L526.3 302.9L534 295.6L541.3 288.3L548.7 280.7L556.5 272.5L564.7 263.7L573.9 253.5L583.7 242.5L607.3 215.4" stroke="#f63e50"/><path d="M622.9 235.6L596 257.9L584.7 267.4L574.7 275.9L565.7 283.9L557.3 291.5L549.6 298.7L541.9 306L534.6 313.3L527.2 320.9L519.4 329.1L511.2 337.9L502 348.1L492.2 359.1L468.6 386.2" stroke="#f63e50"/><path d="M622.9 303.2L604.9 303.8L590.5 304.6L578.6 305.5L568.7 306.7L564.3 307.4L560.3 308.2L556.6 309L553.1 310L549.7 311.1L546.6 312.3L543.5 313.7L540.5 315.2L537.5 316.9L534.6 318.8L531.6 320.9L528.5 323.2L525.2 325.9L522 328.8L514.6 335.8L506.1 344.5L495.9 355.5L483.7 369.1L468.8 386.2" stroke="#2552f2"/><path d="M453 298.4L471 297.8L485.4 297L497.3 296.1L507.2 294.9L511.6 294.2L515.6 293.4L519.3 292.6L522.8 291.6L526.2 290.5L529.3 289.3L532.4 287.9L535.4 286.4L538.4 284.7L541.3 282.8L544.3 280.7L547.4 278.4L550.7 275.7L553.9 272.8L561.3 265.8L569.8 257.1L580 246.1L592.2 232.5L607.1 215.4" stroke="#2552f2"/><path d="M453.04 300.8H622.86" stroke="#f63e50" stroke-dasharray="5.2 2.6"/><path d="M453 348.2L462 342.2L469.1 337.2L475 332.8L479.6 329L483.2 325.6L484.6 324L485.8 322.4L486.7 321L487.3 319.7L487.7 318.4L487.8 317.3L487.7 316.2L487.3 315.2L486.7 314.2L485.9 313.3L484.7 312.5L483.4 311.8L481.8 311L479.9 310.3L475.1 309.1L469.3 308L461.7 307.1L453 306.3" stroke="#2552f2" stroke-dasharray="5.2 2.6"/><path d="M622.9 295.3L614.2 294.5L606.6 293.6L600.8 292.5L596 291.3L594.1 290.6L592.5 289.8L591.2 289.1L590 288.3L589.2 287.4L588.6 286.4L588.2 285.4L588.1 284.3L588.2 283.2L588.6 281.9L589.2 280.6L590.1 279.2L591.3 277.6L592.7 276L596.3 272.6L600.9 268.8L606.8 264.4L613.9 259.4L622.9 253.4" stroke="#2552f2" stroke-dasharray="5.2 2.6"/><path d="M622.9 235.6L588.6 263.6L573.9 275.2L566.1 281.1L557.5 287.3L548.3 293.7L522.1 311.7L513.9 317.5L506.5 322.9L498.3 329.2L489.4 336.3L453 366" stroke="#2552f2" stroke-dasharray="5.2 2.6"/></g></g>
<clipPath id="c3"><rect x="657.7" y="218.5" width="167.3" height="165.8" /></clipPath>
<g clip-path="url(#c3)"><g fill="none" stroke-width="1.5"><path d="M656.6 349.3L672.2 339.6L685.7 331L697.2 323.5L707 316.9L715.7 310.8L723.7 304.8L731 299.1L738 293.3L744.7 287.2L751.8 280.6L759.1 273.3L767 265.1L775.7 255.8L785.5 244.9L797.3 231.7L810.5 216.6" stroke="#f63e50"/><path d="M826.1 253.5L810.5 263.2L797 271.8L785.5 279.3L775.7 285.9L767 292L759 298L751.7 303.7L744.7 309.5L738 315.6L730.9 322.2L723.6 329.5L715.7 337.7L707 347L697.2 357.9L685.4 371.1L672.2 386.2" stroke="#f63e50"/><path d="M656.6 366.1L683.5 344L694.8 334.5L704.6 326.1L713.7 318.2L722 310.7L729.8 303.5L737.4 296.2L744.7 289L752.1 281.5L759.8 273.3L768 264.5L777.2 254.4L787 243.5L810.5 216.6" stroke="#f63e50"/><path d="M826.1 236.7L799.2 258.8L787.9 268.3L778.1 276.7L769 284.6L760.7 292.1L752.9 299.3L745.3 306.6L738 313.8L730.6 321.3L722.9 329.5L714.7 338.3L705.5 348.4L695.7 359.3L672.2 386.2" stroke="#f63e50"/><path d="M656.6 374.5L682.5 350.7L703.3 331.2L721 314.1L736.9 298.1L752.3 282L768.8 264.1L787.4 243.2L810.6 216.6" stroke="#f63e50"/><path d="M826.1 228.3L800.2 252.1L779.4 271.6L761.7 288.7L745.8 304.7L730.4 320.8L713.9 338.7L695.3 359.6L672.1 386.2" stroke="#f63e50"/><path d="M826.1 303.8L808.1 304.4L793.7 305.1L781.9 306.1L772 307.2L767.6 307.9L763.7 308.7L760 309.5L756.5 310.5L753.1 311.6L750 312.8L746.9 314.2L743.9 315.7L740.9 317.4L738 319.2L735 321.3L731.9 323.7L728.6 326.4L725.4 329.2L718.1 336.1L709.6 344.8L699.4 355.7L687.3 369.2L672.3 386.2" stroke="#2552f2"/><path d="M656.6 299L674.6 298.4L689 297.7L700.8 296.7L710.7 295.6L715.1 294.9L719 294.1L722.7 293.3L726.2 292.3L729.6 291.2L732.7 290L735.8 288.6L738.8 287.1L741.8 285.4L744.7 283.6L747.7 281.5L750.8 279.1L754.1 276.4L757.3 273.6L764.6 266.7L773.1 258L783.3 247.1L795.4 233.6L810.4 216.6" stroke="#2552f2"/><path d="M656.64 301.4H826.06" stroke="#f63e50" stroke-dasharray="5.2 2.6"/><path d="M656.6 366.3L672.7 353.5L683.5 345.3L687.6 342.4L690.4 340.5L692.2 339.6L692.6 339.5L692.8 339.7L692.6 340.1L692.1 340.8L690.6 342.5L684.4 348.7L673.6 358.9L656.6 374.5" stroke="#2552f2" stroke-dasharray="5.2 2.6"/><path d="M656.6 310L662.9 311L667.9 312.1L672 313.3L675.6 314.7L678 316.1L679.1 316.9L679.9 317.8L680.5 318.6L681 319.6L681.3 320.6L681.4 321.7L681.3 322.9L681 324L680.5 325.3L679.9 326.6L678.1 329.2L675.3 332.3L671.9 335.6L667.7 339.1L662.7 343L656.6 347.4" stroke="#2552f2" stroke-dasharray="5.2 2.6"/><path d="M826.1 292.8L819.8 291.8L814.8 290.7L810.7 289.5L807.1 288.1L804.7 286.7L803.6 285.9L802.8 285L802.2 284.2L801.7 283.2L801.4 282.2L801.3 281.1L801.4 279.9L801.7 278.8L802.2 277.5L802.8 276.2L804.6 273.6L807.4 270.5L810.8 267.2L815 263.7L820 259.8L826.1 255.4" stroke="#2552f2" stroke-dasharray="5.2 2.6"/><path d="M826.1 236.5L810 249.3L799.2 257.5L795.1 260.4L792.3 262.3L790.5 263.2L790.1 263.3L789.9 263.1L790.1 262.7L790.6 262L792.1 260.3L798.3 254.1L809.1 243.9L826.1 228.3" stroke="#2552f2" stroke-dasharray="5.2 2.6"/><path d="M692.8 339.7L703 331.2L713.7 322.7L726.4 312.8L753.4 292.2L765.3 283L778 272.9L789.9 263.1" stroke="#2552f2" stroke-dasharray="5.2 2.6"/></g></g>
<path d="M54.6 469.8L68.1 467.5L80.2 465.2L85.8 463.9L91 462.6L96 461.3L100.7 459.9L105 458.5L109.1 457.1L112.9 455.6L116.4 454L119.7 452.4L122.7 450.7L125.5 449L128.1 447.1L130.3 445.4L132.4 443.4L134.3 441.5L136 439.4L137.6 437.3L139 435L140.2 432.6L141.4 430L142.3 427.4L143.1 424.8L143.9 421.9L144.5 419L145 415.9L145.6 412.1L146.7 401.5L146.9 400.4L147 400.2L147.2 400.5L147.4 401.8L148.4 411.4L149.3 417.4L149.8 420.3L150.4 422.9L151.1 425.4L151.8 427.8L152.7 430.1L153.7 432.4L154.9 434.7L156.1 436.7L157.5 438.7L158.9 440.5L160.5 442.3L162.2 444L164.2 445.7L166.3 447.4L168.6 449L171.1 450.6L173.7 452L176.5 453.5L179.6 454.9L182.8 456.3L186.3 457.6L189.9 458.8L193.8 460.1L198 461.3L207 463.6L216.9 465.8" fill="none" stroke="#111" stroke-width="1.55" stroke-linejoin="round"/>
<path d="M253 437.2L291.4 437.4L303.7 437.7L313.1 438L320.4 438.4L326.1 438.9L330.6 439.6L332.5 440.1L334.1 440.6L335.5 441.2L336.8 441.8L338 442.6L339 443.4L339.9 444.4L340.7 445.5L341.4 446.8L342 448.1L342.6 449.7L343.1 451.4L343.9 455.4L344.5 459.8L345.4 468.6L345.5 469.5L345.6 469.7L345.8 469.1L345.9 467.4L346.2 461.1L347.8 406.4L348.1 401.2L348.1 400.6L348.3 400.2L348.4 400.6L348.6 401.7L349.5 411.3L350.2 416L350.7 418.4L351.2 420.4L351.8 422.2L352.6 423.8L353.4 425.3L354.5 426.5L355.6 427.5L356.9 428.3L358.4 429L360.1 429.5L362 429.9L364 430.1L366.2 430.1L368.4 429.9L370.4 429.5L372.1 428.9L373.6 428.1L375 427.2L376.1 426L377.1 424.7L377.9 423.2L378.6 421.5L379.2 419.5L379.7 417.2L380.5 412.7L381.6 402.7L381.7 401.9L381.8 401.6L382 402.8L382.3 407.7L383.9 461L384.2 467.2L384.3 468.9L384.5 469.6L384.6 469.3L384.7 468.5L385.5 461L386 457.2L386.4 454.2L387 451.6L387.7 449.1L388.6 446.9L389.7 445.1L390.9 443.6L392.4 442.4L394.3 441.3L396.4 440.4L399.1 439.7L402.2 439.2L405.9 438.7L410.5 438.3L416 438" fill="none" stroke="#1894fb" stroke-width="1.55" stroke-linejoin="round"/>
<path d="M456.5 435.1L493.7 435.5L505.9 435.7L515.4 436.1L522.8 436.5L528.6 437.2L533.1 438L535 438.4L536.7 439L538.2 439.6L539.5 440.4L540.7 441.1L541.8 442.1L542.7 443.1L543.5 444.3L544.2 445.6L544.9 447.2L545.5 448.7L545.9 450.4L546.8 454.8L547.5 460L548.3 468.4L548.4 469.3L548.6 469.7L548.7 469.3L548.8 467.9L549.1 462.5L550.9 410.6L551.4 403.5L551.7 401.2L551.8 400.5L551.9 400.2L552.1 400.4L552.3 401.5L553.2 409.8L554 414.5L554.4 416.6L554.9 418.4L555.5 419.9L556.1 421.4L556.7 422.6L557.5 423.8L558.4 424.9L559.4 425.8L560.3 426.6L561.5 427.3L565 429.4L566.3 430.2L567.3 431L568.2 432L569.1 433.3L569.8 434.8L570.3 436.6L571.1 440L571.2 440.3L571.4 440.5L571.5 440.2L571.7 439.5L571.9 436.7L573.3 414.6L573.5 411.5L573.7 410.4L573.9 410.3L574.1 410.7L574.8 413.8L575.4 415.5L575.8 416.5L576.4 417.2L577.1 417.8L577.9 418L578.8 417.9L579.7 417.3L580.4 416.5L581.1 415.4L581.7 414.2L582.3 412.5L582.8 410.7L583.3 408.5L584.4 401.3L584.6 400.7L584.7 400.6L584.8 400.7L585.1 402.6L586.1 413.1L586.9 420.1L590.3 444.3L591 451L592 461.3L592.2 462.6L592.3 462.9L592.4 462.7L592.6 461.8L593.4 456.3L593.9 453.4L594.3 451.2L594.9 449.2L595.6 447.1L596.4 445.4L597.4 443.8L598.6 442.4L600 441.2L601.6 440.2L603.5 439.3L605.7 438.6L608.2 437.9L611.1 437.4L614.5 436.9L618.5 436.5" fill="none" stroke="#78be32" stroke-width="1.55" stroke-linejoin="round"/>
<path d="M659.4 434.6L680.2 434.7L696.1 435L708.3 435.2L717.9 435.6L725.4 436.1L731.3 436.8L733.8 437.2L735.9 437.7L737.9 438.2L739.6 438.8L741.1 439.4L742.4 440.1L743.6 441L744.7 442L745.7 443L746.6 444.3L747.3 445.6L748 447.2L748.5 448.7L749 450.4L749.9 454.7L750.6 459.6L751.4 468.6L751.7 470.1L751.8 469.8L752 468.6L752.2 463.7L753.7 426.3L754.2 414.2L755 403.6L755.3 400.8L755.4 400.4L755.6 400.2L755.8 400.6L756 401.7L756.8 409.1L757.5 413.3L758.3 416.8L759.4 419.8L760 421.2L760.8 422.4L761.6 423.5L762.5 424.5L763.6 425.4L764.7 426.1L765.9 426.6L766.9 426.8L768 426.8L768.8 426.4L769.6 425.6L770.3 424.4L770.9 422.6L771.4 420.2L772.8 411.5L772.9 411.1L773 411.1L773.1 411.1L773.8 412.3L774.1 412.6L774.5 412.4L774.8 411.9L775.1 411.1L775.5 409.8L776.5 404.5L776.8 403.6L776.9 403.5L777.1 404L778.2 409.2L778.7 410.8L779.3 412.2L779.9 413.2L780.6 414.1L781.4 414.6L782.2 414.8L783 414.7L783.9 414.2L784.7 413.4L785.3 412.4L785.8 411.4L786.3 410.1L786.8 408.1L787.7 404.6L787.9 404.2L788 404.1L788.1 404.4L788.3 405.2L789.3 411L789.9 414.2L790.6 417.3L791.4 420.1L792.3 422.7L793.3 425.4L798 436.8L799 439.6L799.9 442.5L801 447.1L801.5 450.1L802.3 455.4L802.5 456.3L802.7 456.5L802.8 456.3L803 455.6L804.1 450.1L805 447.1L805.6 445.7L806.3 444.4L807.1 443.2L808 442.2L809 441.2L810.3 440.4L811.7 439.6L813.2 438.9L815 438.3L817 437.7L819.3 437.3L821.8 436.8" fill="none" stroke="#f4581f" stroke-width="1.55" stroke-linejoin="round"/>
<text transform="translate(661.45,215.7) scale(1.2,1)" font-size="11.3" text-anchor="middle">6</text>
<text transform="translate(657.05,215.7) scale(1.2,1)" font-size="11.3" text-anchor="end">-</text>
<text transform="translate(688,215.7) scale(1.2,1)" font-size="11.3" text-anchor="middle">4</text>
<text transform="translate(683.6,215.7) scale(1.2,1)" font-size="11.3" text-anchor="end">-</text>
<text transform="translate(714.55,215.7) scale(1.2,1)" font-size="11.3" text-anchor="middle">2</text>
<text transform="translate(710.15,215.7) scale(1.2,1)" font-size="11.3" text-anchor="end">-</text>
<text transform="translate(741.1,215.7) scale(1.2,1)" font-size="11.3" text-anchor="middle">0</text>
<text transform="translate(767.65,215.7) scale(1.2,1)" font-size="11.3" text-anchor="middle">2</text>
<text transform="translate(794.2,215.7) scale(1.2,1)" font-size="11.3" text-anchor="middle">4</text>
<text transform="translate(820.75,215.7) scale(1.2,1)" font-size="11.3" text-anchor="middle">6</text>
<g transform="translate(107.4,27.1)"><text transform="translate(-1.2,0) scale(1.28,1)" font-size="21.6" font-style="italic">n</text><text transform="translate(12.5,3.5) scale(1.2,1)" font-size="13.5" font-style="italic">a</text><path d="M23.9 5L31.6 -15.8" stroke="#000" stroke-width="1.15" fill="none"/><text transform="translate(33.2,-0.3) scale(1.07,1)" font-size="20.5">Ω</text><path d="M36.4 -17.6C38.6 -21.6 41.6 -16 44.6 -20" stroke="#000" stroke-width="1.1" fill="none"/><text x="49.8" y="-8.6" font-size="15">2</text><text transform="translate(49.4,5.1) scale(1.1,1)" font-size="14" font-style="italic">a</text></g>
<g transform="translate(325,27.2)"><text transform="translate(0,0.4) scale(1.08,1)" font-size="21" font-style="italic">g</text><text transform="translate(11.3,3.4) scale(1.2,1)" font-size="14" font-style="italic">a</text><text x="11.6" y="-10.5" font-size="17">(</text><text transform="translate(17.9,-10.9) scale(1.08,1)" font-size="14.5">2</text><text x="26.9" y="-10.5" font-size="17">)</text></g>
<g transform="translate(529,27.2)"><text transform="translate(0,0.4) scale(1.08,1)" font-size="21" font-style="italic">g</text><text transform="translate(11.3,3.4) scale(1.2,1)" font-size="14" font-style="italic">a</text><text x="11.6" y="-10.5" font-size="17">(</text><text transform="translate(17.9,-10.9) scale(1.08,1)" font-size="14.5">3</text><text x="26.9" y="-10.5" font-size="17">)</text></g>
<g transform="translate(731.5,27.2)"><text transform="translate(0,0.4) scale(1.08,1)" font-size="21" font-style="italic">g</text><text transform="translate(11.3,3.4) scale(1.2,1)" font-size="14" font-style="italic">a</text><text x="11.6" y="-10.5" font-size="17">(</text><text transform="translate(17.9,-10.9) scale(1.08,1)" font-size="14.5">4</text><text x="26.9" y="-10.5" font-size="17">)</text></g>
<g transform="translate(23,139.4) rotate(-90)"><text x="-0.9" y="0" font-size="17.5" font-style="italic">ω</text><text transform="translate(10.2,2.6) scale(1.1,1)" font-size="13.5">L</text><path d="M20.9 3.6L28.4 -13.6" stroke="#000" stroke-width="1" fill="none"/><text x="28.6" y="0" font-size="17.8" font-style="italic">g</text></g>
<g transform="translate(23,318.4) rotate(-90)"><text x="-0.9" y="0" font-size="17.5" font-style="italic">ω</text><text transform="translate(10.2,2.6) scale(1.1,1)" font-size="13.5">L</text><path d="M20.9 3.6L28.4 -13.6" stroke="#000" stroke-width="1" fill="none"/><text x="28.6" y="0" font-size="17.8" font-style="italic">g</text></g>
<g transform="translate(23.8,448) rotate(-90)"><text x="0" y="0" font-size="18.5" font-style="italic">g</text><text transform="translate(9.6,1.5) scale(1.15,1)" font-size="10.5" font-style="italic">a</text><text x="9.6" y="-9.4" font-size="13">(</text><text transform="translate(14,-10.1) scale(1.3,1)" font-size="12" font-style="italic">n</text><text x="22.4" y="-9.4" font-size="13">)</text></g>
<g transform="translate(117.95,502)"><text x="0" y="0" font-size="16.3" font-style="italic">ω</text><text transform="translate(10.8,3) scale(1.2,1)" font-size="11.5" font-style="italic">a</text><path d="M20 4.6L26 -11.8" stroke="#000" stroke-width="1" fill="none"/><text transform="translate(27.4,0.3) scale(1.08,1)" font-size="15.3" font-style="italic">g</text></g>
<g transform="translate(316.7,502)"><text x="0" y="0" font-size="16.3" font-style="italic">ω</text><text transform="translate(10.8,3) scale(1.2,1)" font-size="11.5" font-style="italic">a</text><path d="M20 4.6L26 -11.8" stroke="#000" stroke-width="1" fill="none"/><text transform="translate(27.4,0.3) scale(1.08,1)" font-size="15.3" font-style="italic">g</text></g>
<g transform="translate(519.7,502)"><text x="0" y="0" font-size="16.3" font-style="italic">ω</text><text transform="translate(10.8,3) scale(1.2,1)" font-size="11.5" font-style="italic">a</text><path d="M20 4.6L26 -11.8" stroke="#000" stroke-width="1" fill="none"/><text transform="translate(27.4,0.3) scale(1.08,1)" font-size="15.3" font-style="italic">g</text></g>
<g transform="translate(722.8,502)"><text x="0" y="0" font-size="16.3" font-style="italic">ω</text><text transform="translate(10.8,3) scale(1.2,1)" font-size="11.5" font-style="italic">a</text><path d="M20 4.6L26 -11.8" stroke="#000" stroke-width="1" fill="none"/><text transform="translate(27.4,0.3) scale(1.08,1)" font-size="15.3" font-style="italic">g</text></g>
<g transform="translate(60.1,55.7) scale(0.5)"><text transform="translate(-1.2,0) scale(1.28,1)" font-size="21.6" font-style="italic">n</text><text transform="translate(12.5,3.5) scale(1.2,1)" font-size="13.5" font-style="italic">a</text><path d="M23.9 5L31.6 -15.8" stroke="#000" stroke-width="1.15" fill="none"/><text transform="translate(33.2,-0.3) scale(1.07,1)" font-size="20.5">Ω</text><path d="M36.4 -17.6C38.6 -21.6 41.6 -16 44.6 -20" stroke="#000" stroke-width="1.1" fill="none"/><text x="49.8" y="-8.6" font-size="15">2</text><text transform="translate(49.4,5.1) scale(1.1,1)" font-size="14" font-style="italic">a</text></g>
<rect x="63.5" y="62.8" width="6" height="6.2" fill="#fff" stroke="#111" stroke-width="0.7"/>
<rect x="63.5" y="72.4" width="6" height="6.2" fill="#000" stroke="#111" stroke-width="0.7"/>
<text x="73.6" y="68.7" font-size="9.2">10<tspan font-size="5.6" dy="-3.6" dx="0.8">4</tspan></text>
<text x="73.6" y="78.3" font-size="9.2">10<tspan font-size="5.6" dy="-3.6" dx="0.8">-5</tspan></text>
<g transform="translate(261.8,57.4) scale(0.5)"><text transform="translate(0,0.4) scale(1.08,1)" font-size="21" font-style="italic">g</text><text transform="translate(11.3,3.4) scale(1.2,1)" font-size="14" font-style="italic">a</text><text x="11.6" y="-10.5" font-size="17">(</text><text transform="translate(17.9,-10.9) scale(1.08,1)" font-size="14.5">2</text><text x="26.9" y="-10.5" font-size="17">)</text></g>
<rect x="261.6" y="63.3" width="6" height="6" fill="#3262f0" stroke="#111" stroke-width="0.7"/>
<text x="271.5" y="69.6" font-size="9.2">0</text>
<rect x="261.6" y="72.8" width="6" height="6" fill="#fff" stroke="#111" stroke-width="0.7"/>
<text x="271.5" y="79.1" font-size="9.2">1</text>
<rect x="261.6" y="82.3" width="6" height="6" fill="#d8303c" stroke="#111" stroke-width="0.7"/>
<text x="271.5" y="88.6" font-size="9.2">10<tspan font-size="5.6" dy="-3.6" dx="0.5">8</tspan></text>
<g transform="translate(464.1,57.4) scale(0.5)"><text transform="translate(0,0.4) scale(1.08,1)" font-size="21" font-style="italic">g</text><text transform="translate(11.3,3.4) scale(1.2,1)" font-size="14" font-style="italic">a</text><text x="11.6" y="-10.5" font-size="17">(</text><text transform="translate(17.9,-10.9) scale(1.08,1)" font-size="14.5">3</text><text x="26.9" y="-10.5" font-size="17">)</text></g>
<rect x="463.9" y="63.3" width="6" height="6" fill="#3262f0" stroke="#111" stroke-width="0.7"/>
<text x="473.8" y="69.6" font-size="9.2">0</text>
<rect x="463.9" y="72.8" width="6" height="6" fill="#fff" stroke="#111" stroke-width="0.7"/>
<text x="473.8" y="79.1" font-size="9.2">1</text>
<rect x="463.9" y="82.3" width="6" height="6" fill="#d8303c" stroke="#111" stroke-width="0.7"/>
<text x="473.8" y="88.6" font-size="9.2">10<tspan font-size="5.6" dy="-3.6" dx="0.5">11</tspan></text>
<g transform="translate(666.3,57.4) scale(0.5)"><text transform="translate(0,0.4) scale(1.08,1)" font-size="21" font-style="italic">g</text><text transform="translate(11.3,3.4) scale(1.2,1)" font-size="14" font-style="italic">a</text><text x="11.6" y="-10.5" font-size="17">(</text><text transform="translate(17.9,-10.9) scale(1.08,1)" font-size="14.5">4</text><text x="26.9" y="-10.5" font-size="17">)</text></g>
<rect x="666.1" y="63.3" width="6" height="6" fill="#3262f0" stroke="#111" stroke-width="0.7"/>
<text x="676" y="69.6" font-size="9.2">0</text>
<rect x="666.1" y="72.8" width="6" height="6" fill="#fff" stroke="#111" stroke-width="0.7"/>
<text x="676" y="79.1" font-size="9.2">1</text>
<rect x="666.1" y="82.3" width="6" height="6" fill="#d8303c" stroke="#111" stroke-width="0.7"/>
<text x="676" y="88.6" font-size="9.2">10<tspan font-size="5.6" dy="-3.6" dx="0.5">15</tspan></text>
<text x="120.5" y="284.5" font-size="11.3" fill="#2552f2" text-anchor="middle">CA</text>
<text x="148.5" y="325.5" font-size="11.3" fill="#2552f2" text-anchor="middle">CA</text>
<text x="179.5" y="298" font-size="11.3" fill="#f63e50" text-anchor="middle">UB</text>
<text x="322" y="284" font-size="11.3" fill="#2552f2" text-anchor="middle">CA</text>
<text x="353" y="320.5" font-size="11.3" fill="#2552f2" text-anchor="middle">CA</text>
<text x="341" y="299.5" font-size="11.3" fill="#f63e50" text-anchor="middle">UB</text>
<text x="401" y="285.5" font-size="11.3" fill="#2552f2" text-anchor="middle">UA</text>
<text x="267.5" y="325" font-size="11.3" fill="#2552f2" text-anchor="middle">UA</text>
<text x="289.5" y="339" font-size="11.3" fill="#f63e50" text-anchor="middle">CB</text>
<text x="524.5" y="284.5" font-size="11.3" fill="#2552f2" text-anchor="middle">CA</text>
<text x="555" y="321.5" font-size="11.3" fill="#2552f2" text-anchor="middle">CA</text>
<text x="580.5" y="297.5" font-size="11.3" fill="#f63e50" text-anchor="middle">UB</text>
<text x="604" y="286" font-size="11.3" fill="#2552f2" text-anchor="middle">UA</text>
<text x="470" y="325" font-size="11.3" fill="#2552f2" text-anchor="middle">UA</text>
<text x="498.5" y="313.5" font-size="11.3" fill="#f63e50" text-anchor="middle">CB</text>
<text x="722.5" y="289" font-size="11.3" fill="#2552f2" text-anchor="middle">CA</text>
<text x="796" y="299" font-size="11.3" fill="#f63e50" text-anchor="middle">UB</text>
<text x="814" y="283" font-size="11.3" fill="#2552f2" text-anchor="middle">UA</text>
<text x="668.5" y="326.5" font-size="11.3" fill="#2552f2" text-anchor="middle">UA</text>
<text x="700.5" y="315" font-size="11.3" fill="#f63e50" text-anchor="middle">CB</text>
<rect x="783.3" y="78.3" width="23.6" height="15.3" fill="none" stroke="#222" stroke-width="0.7"/>
<path d="M783.3 93.6L752.5 133.3M806.9 93.6L819.5 133.3" stroke="#222" stroke-width="0.7" fill="none"/>
<rect x="752.4" y="133.5" width="66.8" height="67.7" fill="none" stroke="#222" stroke-width="0.65"/>
<rect x="752.8" y="133.9" width="66" height="66.9" fill="none" stroke="#222" stroke-width="1.3" stroke-dasharray="0.6 2.72"/>
<path d="M752.4 134.2H819.2" stroke="#888" stroke-width="1.4"/>
<rect x="752.5" y="314.8" width="67.3" height="66.5" fill="#fff" stroke="#222" stroke-width="0.75"/>
<rect x="752.9" y="315.2" width="66.5" height="65.7" fill="none" stroke="#222" stroke-width="1.3" stroke-dasharray="0.6 2.72"/>
<clipPath id="ci"><rect x="752.5" y="314.8" width="67.3" height="66.5"/></clipPath>
<g clip-path="url(#ci)"><g fill="none" stroke-width="1.25"><path d="M820.5 341.7L797.1 363L775.9 382.6" stroke="#f63e50"/><path d="M799.3 313.5L774.4 343.3L751.8 370.8" stroke="#f63e50"/><path d="M781.3 313.5L751.8 353.2" stroke="#f63e50"/><path d="M808.6 382.6L811.1 377.7L813.9 372.8L817.1 367.6L820.5 362.4" stroke="#2552f2" stroke-dasharray="4.2 2"/><path d="M794.7 313.5L785.6 322.8L778.4 329.7L775.5 332.2L773.3 333.9L771.7 334.9L771 335.2L770.6 335.3L770.2 335.2L770.1 334.9L770.1 334.5L770.2 333.9L770.9 332.2L772.1 329.8L774 326.6L776.4 322.9L782.7 313.5" stroke="#2552f2" stroke-dasharray="4.2 2"/><path d="M751.8 356.3L770.1 334.6" stroke="#2552f2" stroke-dasharray="4.2 2"/></g></g>
</svg>
</body></html>
